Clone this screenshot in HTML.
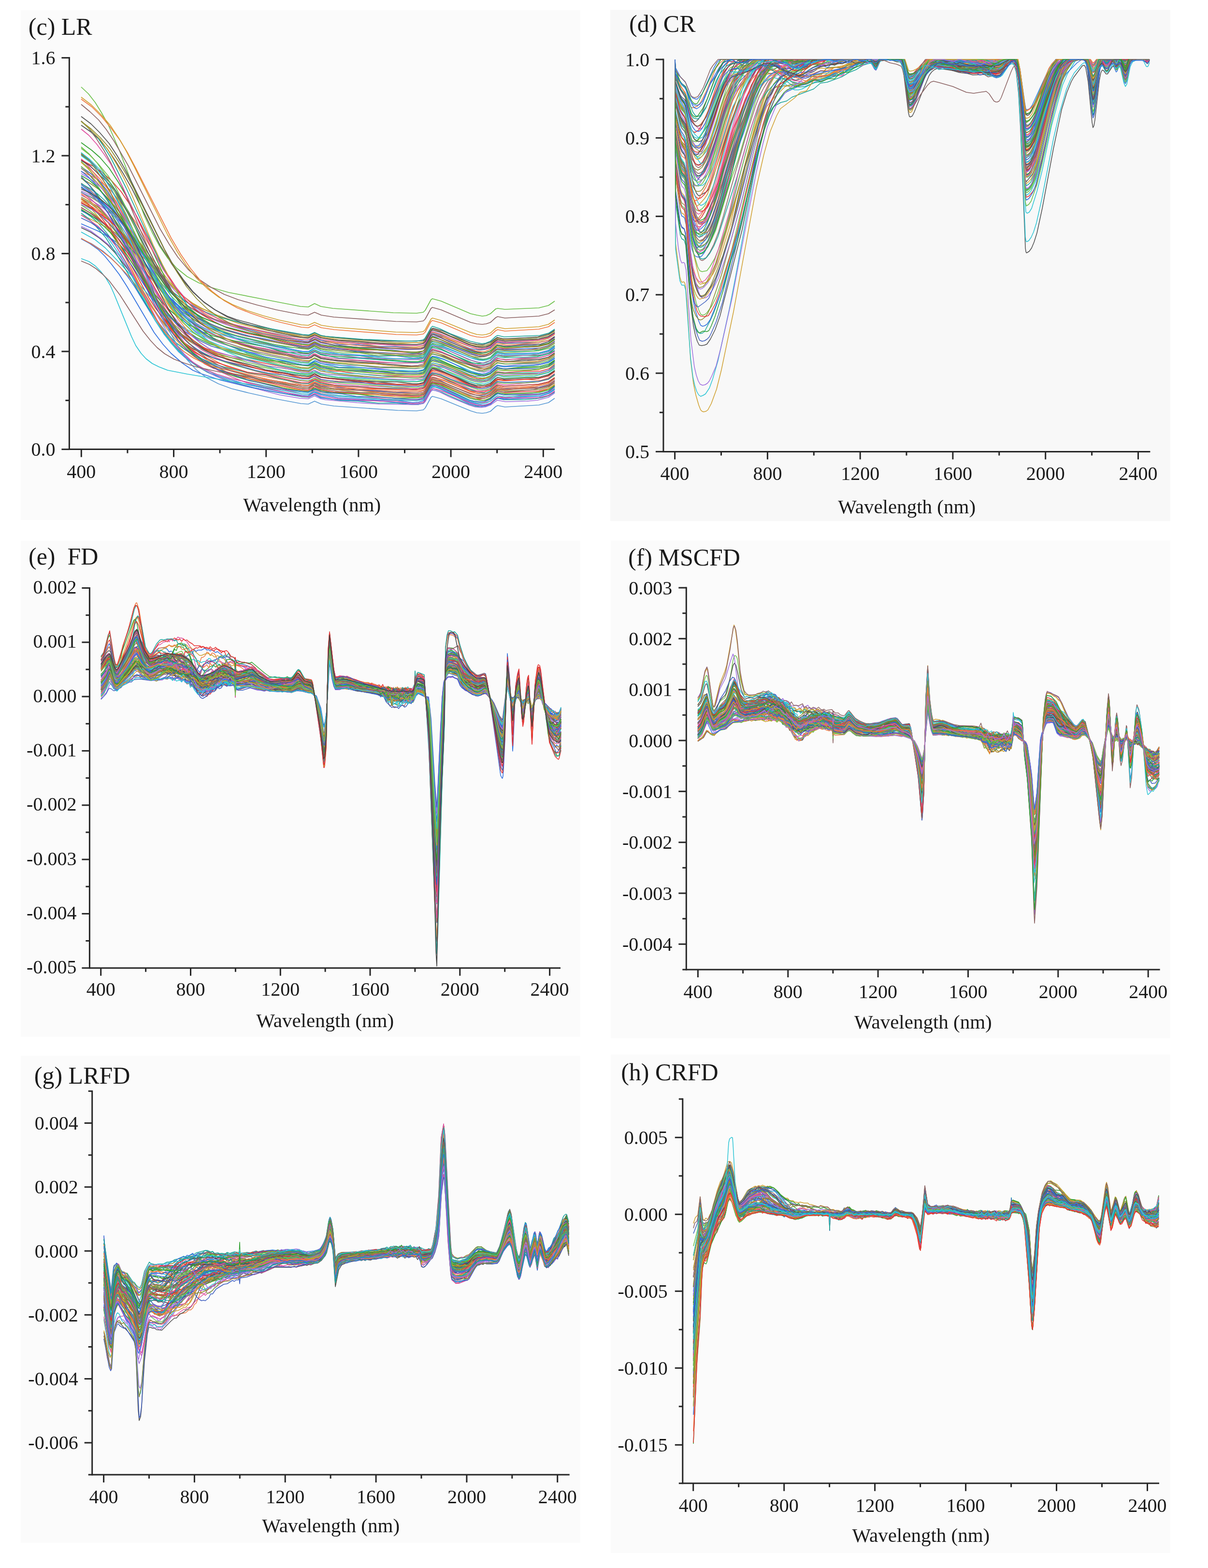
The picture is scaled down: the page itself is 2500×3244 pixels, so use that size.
<!DOCTYPE html><html><head><meta charset="utf-8"><title>Spectra</title><style>html,body{margin:0;padding:0;background:#fff}svg{display:block}text{font-family:"Liberation Serif", "Times New Roman", serif;fill:#1a1a1a}.tl{font-size:40px}.xt{font-size:41px}.tt{font-size:50px}.c0{stroke:#6cc04a}.c1{stroke:#8c6464}.c2{stroke:#8a8a30}.c3{stroke:#f07840}.c4{stroke:#a070e0}.c5{stroke:#2f6fdf}.c6{stroke:#1aa59a}.c7{stroke:#e53030}.c8{stroke:#2cc5d5}.c9{stroke:#505050}.c10{stroke:#d0a030}.c11{stroke:#e050a0}.c12{stroke:#30a030}.c13{stroke:#4060c0}.c14{stroke:#5b9bd5}.c15{stroke:#404040}</style></head><body>
<svg xmlns="http://www.w3.org/2000/svg" width="2500" height="3244" viewBox="0 0 2500 3244">
<rect x="43" y="21" width="1158" height="1055" fill="#fbfbfb"/>
<rect x="1263" y="20.5" width="1159" height="1057.5" fill="#f8f8f8"/>
<rect x="43" y="1119" width="1157.6" height="1025.8000000000002" fill="#fbfbfb"/>
<rect x="1264" y="1118" width="1158" height="1030" fill="#fbfbfb"/>
<rect x="43" y="2184.5" width="1157.6" height="1007.5" fill="#fbfbfb"/>
<rect x="1264" y="2181.7" width="1158" height="1031.3000000000002" fill="#fbfbfb"/>
<g fill="none" stroke-width="1.7" stroke-linejoin="round"><path class="c0" d="M168 424l18 12 15 12 14 15 15 18 34 48 58 95 16 22 19 22 18 17 22 17 28 19 23 10 65 19 71 16 36 6 18 1 6-2 5-4 3 0 12 6 10 1 71 5 29 5 20 1 33 1 49-1 4-4 12-20 3-2 21 5 58 23 11 3 10 1 9-1 10-3 12-10 4-2 13 3 71-3 21-5 13-9"/><path class="c1" d="M168 379l17 13 13 12 13 15 14 17 37 55 55 89 20 27 17 22 20 20 23 17 28 18 22 10 62 19 83 20 45 6 14-6 13 7 27 4 18 2 32 0 45 4 39 1 51-1 4-4 12-21 4-2 17 5 62 25 14 4 11 0 15-4 14-11 18 2 66-3 22-6 13-9"/><path class="c2" d="M168 411l21 11 22 17 18 18 19 23 13 21 15 27 68 133 15 24 15 20 18 20 18 14 19 11 39 19 14 4 31 6 38 11 38 5 35 8 14 1 11-7 3 0 12 5 14 2 67 8 31 0 75 5 19-1 8-2 14-25 2-2 3 0 18 6 56 25 11 3 10 1 10-1 12-4 15-11 17 3 70-3 19-5 13-9"/><path class="c3" d="M168 416l23 12 22 15 19 17 19 22 15 22 16 27 67 123 16 25 16 21 18 17 13 11 40 22 19 9 45 14 77 14 31 9 14 1 11-7 3 0 12 5 13 2 68 8 31-1 61 4 34 0 7-2 14-24 2-2 3 0 21 6 55 24 12 3 11 2 9-1 10-4 14-11 16 3 53-3 18-3 18-4 14-9"/><path class="c4" d="M168 395l25 11 21 13 19 16 18 19 14 20 16 26 65 117 16 24 19 22 15 15 14 11 28 14 21 8 56 17 107 20 16 1 11-6 3 0 12 6 30 5 15 2 35 0 40 6 30-1 46 2 14-2 3-1 2-2 12-22 3-3 2 0 20 5 65 27 12 4 9 1 13-4 14-11 12 2 7 0 34-4 36 0 17-5 13-9"/><path class="c5" d="M168 494l21 10 23 15 18 15 19 19 15 19 14 20 42 69 20 31 16 20 13 15 18 16 25 17 20 11 23 8 58 17 66 14 46 8 13 1 11-7 3 0 13 5 35 6 84 5 35 0 35 5 12-1 11-3 14-25 4-3 6 0 11 4 61 27 15 4 11 2 7-1 9-3 11-10 4-2 11 2 7 0 32-3 37-1 19-6 12-8"/><path class="c6" d="M168 434l20 14 14 12 18 21 16 21 23 39 62 117 19 31 20 25 19 20 27 22 23 14 25 11 31 10 40 11 32 7 68 12 14 1 12-6 13 6 36 6 42 2 41 4 37 0 33 3 13 0 11-3 14-24 4-3 7 1 13 4 56 25 10 3 9 1 12-1 12-4 12-10 4-2 13 3 42 0 23-2 13-2 14-4 13-8"/><path class="c7" d="M168 420l23 12 17 13 19 18 19 24 13 21 14 25 69 131 14 21 13 19 16 18 18 16 21 15 18 9 77 22 104 22 15 1 6-3 5-3 3-1 12 6 27 5 93 6 72 3 10 0 10-2 4-4 12-21 3-2 17 4 60 26 10 3 10 1 11-1 11-4 15-11 16 3 70-3 20-5 13-8"/><path class="c8" d="M168 445l19 12 16 12 15 16 15 21 17 25 18 31 53 101 16 24 17 23 17 18 19 16 30 18 23 11 38 11 115 24 41 5 15-7 12 5 37 7 80 7 37 1 34 2 14 0 11-2 14-24 4-4 16 4 11 3 17 7 34 16 11 3 10 1 9-1 11-4 12-10 4-2 13 2 43 0 28-2 11-2 10-3 13-10"/><path class="c9" d="M168 471l19 9 18 12 17 14 16 17 31 40 57 88 17 22 17 19 20 16 20 14 24 12 24 9 33 8 61 14 53 9 42 5 5-1 9-5 13 7 27 4 48 6 41 0 43 5 39 0 14-3 4-4 11-21 4-4 7 2 12 4 59 26 16 5 11 1 7-1 8-3 11-10 4-2 18 1 44-1 21-2 12-3 10-3 13-10"/><path class="c10" d="M168 398l20 10 28 18 17 12 14 13 32 37 72 95 15 17 16 15 26 20 23 14 29 14 30 10 56 15 48 11 43 4 5-1 9-4 13 6 13 2 30 3 38 2 28 4 17 2 71 1 14-2 4-3 13-23 2-2 3 0 14 4 21 10 43 16 14 4 10 1 7-1 9-3 14-11 12 3 6 0 60-4 13-2 15-5 13-8"/><path class="c11" d="M168 329l18 14 12 11 11 13 12 17 41 74 55 110 16 26 15 22 24 29 21 20 19 13 29 14 71 23 37 6 75 17 14 1 6-3 5-4 3 0 12 6 25 3 128 10 46 0 13-1 4-4 12-22 3-2 17 5 19 9 43 16 12 3 10 1 8-1 11-4 14-10 12 3 6 1 33-4 36-1 19-5 13-8"/><path class="c12" d="M168 295l22 16 17 15 19 22 19 29 16 28 16 31 68 146 16 29 16 24 21 26 20 20 23 18 24 12 47 20 80 21 45 5 5-1 9-4 13 6 32 6 84 3 38 5 44 1 14-3 4-4 12-22 3-2 16 5 21 9 45 17 13 3 9 2 7-1 9-4 11-9 4-2 16 2 36-3 36-1 17-4 13-10"/><path class="c13" d="M168 436l18 9 18 10 16 12 17 14 41 41 38 46 24 25 22 21 22 16 29 18 27 12 104 30 44 9 42 7 9 0 10-7 4 0 11 5 39 9 37 0 40 4 37 0 42 3 9 0 9-2 15-26 2-2 2 0 15 4 19 10 42 17 11 2 10 1 10-1 11-3 12-11 4-1 13 2 71-1 21-5 13-8"/><path class="c0" d="M168 397l18 13 15 14 16 19 15 21 22 36 62 114 17 27 17 23 21 24 21 18 24 15 27 13 70 20 110 21 15 2 13-7 13 6 31 5 124 9 44 0 13-2 4-4 12-22 3-2 15 5 21 10 44 16 14 4 10 2 7-1 9-3 11-10 4-2 13 2 43-2 32-1 17-5 13-9"/><path class="c1" d="M168 388l16 11 14 13 12 12 14 17 39 55 60 92 20 27 19 22 22 21 22 16 22 12 44 20 86 21 68 13 13 1 12-6 13 7 23 3 165 12 13-1 12-3 14-25 4-3 20 5 60 25 14 4 10 1 7-1 9-3 14-11 12 3 7 1 33-5 35 0 20-5 12-7"/><path class="c2" d="M168 398l21 10 16 9 18 14 18 17 22 25 77 101 18 20 17 16 23 17 19 11 32 14 35 12 29 8 40 8 30 8 42 7 13 1 6-3 5-3 3-1 12 6 27 4 129 10 43 0 13-1 4-4 12-21 2-2 3 0 14 4 21 10 43 15 13 4 10 1 8-1 9-3 11-10 4-2 13 2 42 0 23-2 13-2 14-4 13-8"/><path class="c3" d="M168 355l25 11 19 13 17 15 27 32 25 34 66 111 16 23 17 19 21 19 21 16 23 13 25 10 51 15 63 14 40 7 14 1 11-6 3-1 12 6 12 1 31 3 32 4 69 5 55 0 13-1 4-4 12-21 2-2 3 0 24 7 19 8 31 15 13 4 11 1 9 0 10-4 12-10 4-2 11 2 7 1 66-5 22-5 12-7"/><path class="c4" d="M168 468l20 10 23 17 19 16 17 18 27 40 75 123 15 21 17 19 18 17 18 13 29 16 26 11 107 28 42 7 17 1 13-6 13 6 10 2 65 6 47 3 76 1 14-2 4-4 12-22 3-2 6 1 9 3 20 10 41 17 13 4 11 1 9-1 11-4 14-10 17 3 44-1 22-2 23-6 13-9"/><path class="c5" d="M168 494l18 10 17 12 14 14 14 17 16 21 16 25 56 95 18 24 17 19 23 20 22 15 14 6 42 14 62 15 65 12 43 7 14 1 12-5 13 7 23 3 59 3 33 0 33 3 37 3 16 0 12-3 15-26 2-1 3-1 23 7 20 8 31 16 14 4 12 2 8-1 10-4 11-10 4-2 13 2 71-3 21-5 13-8"/><path class="c6" d="M168 316l16 14 15 16 15 21 15 22 23 44 59 122 17 30 17 27 16 19 17 15 29 19 26 13 21 7 34 9 103 24 46 3 5-1 9-5 13 6 12 2 32 3 37 2 74 8 44 1 13-2 4-4 12-22 3-2 19 5 66 27 11 3 9 1 7-1 8-3 11-11 4-2 12 1 38 0 25-1 15-3 14-4 14-9"/><path class="c7" d="M168 411l16 12 14 13 13 16 14 18 26 41 57 105 14 22 13 16 24 25 24 20 21 13 27 11 25 8 25 6 69 15 74 14 14 1 11-6 3-1 12 5 7 2 33 1 34 5 51 4 73 2 14-1 4-4 12-21 4-2 18 4 64 26 12 3 11 0 14-4 11-10 4-1 15 2 39-3 34 0 18-5 12-9"/><path class="c8" d="M168 480l29 16 21 17 55 58 52 59 20 21 17 14 22 15 38 21 31 13 23 8 36 7 43 11 69 11 14 1 6-2 5-3 3-1 12 6 8 1 120 12 69 2 15-2 4-4 12-21 2-2 3 0 22 6 56 24 14 4 10 2 8-1 8-4 11-10 4-3 13 2 71-3 21-6 13-8"/><path class="c9" d="M168 259l20 14 17 15 17 20 17 25 16 26 18 31 58 117 25 40 24 35 18 21 25 23 22 15 25 13 19 7 51 14 44 11 37 6 17 2 13-6 13 6 11 2 65 6 47 3 39 1 50-1 4-3 12-21 4-2 19 5 59 26 13 2 12 1 16-5 14-10 12 3 6 0 66-4 22-6 13-8"/><path class="c10" d="M168 445l19 8 36 19 15 9 17 13 28 25 72 73 24 21 19 14 20 11 44 20 31 11 27 7 35 8 33 5 40 9 11 0 10-6 3-1 12 6 36 6 41 2 37 4 44 2 54-3 4-3 12-22 4-2 15 5 19 9 42 17 14 4 11 1 8 0 10-4 11-10 4-2 13 2 73-1 19-5 13-9"/><path class="c11" d="M168 329l16 16 13 16 12 18 14 22 28 56 63 132 16 30 17 28 28 37 20 22 23 18 29 16 36 14 60 18 81 16 14 1 6-2 5-4 3 0 13 6 32 5 46 4 76 3 32 3 14 0 12-3 14-24 4-4 7 1 15 5 55 25 13 4 11 1 8-1 11-4 14-11 13 3 8 0 64-6 21-6 13-8"/><path class="c12" d="M168 368l15 13 14 16 16 22 16 22 21 37 56 110 16 27 16 22 22 25 20 18 26 18 29 14 19 6 43 12 59 15 29 3 49 8 6-1 9-5 3 0 12 6 25 4 54 3 33 4 42 2 44 1 14-3 4-4 11-21 4-3 10 3 24 11 14 6 41 14 16 3 7-1 8-3 14-12 12 3 7 0 34-4 35-1 19-5 12-8"/><path class="c13" d="M168 345l21 15 17 15 17 21 16 26 13 26 14 29 60 145 16 32 18 29 17 23 18 19 22 17 22 12 21 8 23 7 71 16 68 12 16 1 13-6 13 6 9 1 34 3 33 5 38 1 40 4 46-1 12-2 4-4 12-22 3-2 8 2 27 14 40 16 13 4 11 1 9-1 11-4 12-10 4-2 13 3 73-3 19-5 13-9"/><path class="c0" d="M168 344l14 14 14 18 14 20 14 22 29 58 60 126 16 30 17 27 22 29 23 23 20 14 30 15 38 14 64 17 81 16 14 1 13-6 13 6 16 2 132 10 49 2 15-2 4-4 12-22 3-2 15 4 22 10 45 16 13 4 10 1 7-1 8-3 11-10 4-2 13 2 45-1 24-2 23-5 13-9"/><path class="c1" d="M168 348l18 14 14 15 14 17 15 21 26 45 61 114 22 34 16 23 16 19 20 18 31 22 21 11 61 19 22 6 36 8 59 11 18 2 13-6 13 7 23 3 99 8 39 1 51-2 4-4 12-20 4-2 24 6 19 8 34 16 13 3 13 1 16-5 14-11 18 3 67-4 21-6 13-9"/><path class="c2" d="M168 408l19 10 13 8 11 10 11 11 47 57 73 101 15 17 17 17 20 17 20 13 33 16 27 11 44 10 34 6 74 18 13 1 10-6 3 0 12 5 20 3 24 2 35 1 34 5 42 2 44 0 13-2 4-4 12-22 2-2 3 0 15 5 58 26 16 5 12 2 8-1 9-4 11-10 4-2 13 2 54-1 18-3 19-5 14-9"/><path class="c3" d="M168 335l18 14 19 19 18 23 17 25 21 38 83 166 13 22 12 19 21 25 22 21 27 19 27 14 26 10 42 13 50 12 36 6 18 2 13-4 13 7 11 1 69 5 104 6 17 0 12-2 14-24 4-4 22 6 59 25 13 3 10 2 8-1 8-4 11-10 4-3 13 2 46-3 30 2 16-5 13-9"/><path class="c4" d="M168 404l20 10 21 13 21 16 17 14 29 35 72 94 16 18 17 16 25 20 23 15 21 10 31 11 70 19 74 15 14 0 12-6 13 6 26 4 53 5 39 1 36 4 47-1 11-1 4-4 12-21 2-2 3 0 15 4 60 26 14 4 11 2 8-1 10-4 11-10 4-2 13 2 59-2 16-2 17-5 13-8"/><path class="c5" d="M168 463l35 15 26 15 16 11 26 26 67 75 25 24 18 15 29 19 21 11 35 15 29 8 86 21 46 9 12 0 10-6 3-1 13 6 36 6 83 5 35-1 36 5 12-1 10-2 14-24 4-4 18 5 61 25 12 3 10 2 8-1 11-4 14-11 16 3 71-2 19-5 13-9"/><path class="c6" d="M168 380l18 10 17 12 13 12 14 15 29 37 37 56 42 57 11 15 11 12 18 14 26 16 22 10 34 12 56 14 110 20 13 1 12-5 13 6 11 2 76 6 73 3 38 1 14-3 4-4 12-21 3-3 15 5 21 10 42 16 13 3 11 2 8-1 10-4 11-10 4-2 13 3 74-3 19-5 12-8"/><path class="c7" d="M168 331l25 13 19 13 20 18 19 22 15 22 16 27 45 86 20 36 19 29 18 24 17 17 17 13 26 15 25 12 17 5 30 8 36 7 29 8 45 10 13 0 10-6 3 0 13 6 35 5 46 3 33 0 74 6 13 0 11-4 14-24 4-4 7 1 14 5 57 25 15 4 11 2 7-1 9-4 11-10 4-2 11 3 7 0 67-5 20-5 13-9"/><path class="c8" d="M168 316l18 14 20 20 19 23 17 25 26 47 65 132 27 45 21 31 20 25 24 22 21 16 28 14 22 9 34 11 50 16 15 4 42 5 15-6 13 6 34 5 79 4 35 3 29 2 21 0 13-3 4-5 11-21 4-4 6 1 9 4 19 10 41 18 13 4 11 1 9 0 11-4 12-11 4-2 13 3 44-1 19-1 14-3 15-4 13-8"/><path class="c9" d="M168 320l17 13 26 27 18 20 14 20 23 38 67 127 21 34 20 28 21 24 21 19 27 17 28 15 34 13 33 9 22 5 65 13 13 0 6-2 5-4 3 0 13 6 34 5 82 5 71 6 14 0 11-2 14-24 4-4 16 5 24 10 48 16 17 4 7-1 8-3 11-11 4-2 13 2 48-2 22-2 22-5 13-9"/><path class="c10" d="M168 412l13 11 14 16 23 27 16 23 19 31 41 78 24 41 20 31 20 26 23 25 22 18 22 13 43 21 14 4 30 6 39 11 75 14 13 1 12-5 13 7 11 1 103 5 40 4 45 1 13-1 4-4 12-21 2-2 3 0 23 5 61 25 18 4 7-1 9-4 14-11 14 2 43 0 15-1 17-3 14-4 7-4 9-7"/><path class="c11" d="M168 398l20 14 18 16 19 22 17 23 29 47 73 134 17 27 20 27 20 21 20 17 31 21 28 13 28 11 31 9 87 20 13 1 10-6 3-1 13 6 35 5 38 2 48 3 33 0 35 5 12-1 11-2 14-25 4-3 7 1 16 5 56 24 13 4 11 1 8-1 9-4 11-10 4-2 12 1 73 0 20-5 13-9"/><path class="c12" d="M168 433l18 11 14 10 14 13 15 15 22 28 33 50 20 28 23 29 18 19 22 19 22 16 31 16 21 8 43 10 69 13 27 9 12 2 28 1 18 2 13-5 13 7 10 2 69 4 108 8 14 0 12-3 14-25 4-3 7 1 11 4 56 27 8 2 9 1 14-1 14-5 12-10 4-1 15 3 40-3 28 1 8-1 15-4 12-10"/><path class="c13" d="M168 382l17 13 13 12 12 15 13 18 28 47 58 109 15 25 14 19 24 27 22 20 28 17 25 12 75 22 43 9 38 6 32 8 13 0 11-6 3-1 12 6 34 6 81 3 40 4 45 0 12-1 4-4 12-21 3-2 6 1 12 4 59 25 10 3 9 0 11 0 12-4 12-11 4-2 13 2 73 0 19-5 13-10"/><path class="c0" d="M168 334l13 12 14 17 33 44 20 32 38 70 20 34 26 40 22 29 22 22 27 21 23 14 41 18 22 7 63 16 68 11 18 2 13-6 13 6 28 5 17 2 35 0 39 6 32-1 38 3 23 0 4-4 12-21 4-2 28 5 14 5 39 17 14 5 11 1 13-4 11-10 4-2 13 2 71-4 22-5 12-7"/><path class="c1" d="M168 319l16 12 12 12 12 15 12 16 29 50 52 101 26 42 20 29 15 17 19 15 27 17 26 12 27 9 18 5 74 16 42 8 42 5 15-7 12 6 34 6 45 4 75 4 44 0 14-3 4-4 11-21 4-4 6 1 10 4 59 27 16 5 12 2 8-1 9-4 14-11 17 3 69-4 20-5 13-9"/><path class="c2" d="M168 369l21 12 16 11 16 16 17 19 18 24 17 25 57 91 17 24 18 22 18 17 38 31 13 8 14 7 38 11 61 17 74 14 17 2 13-5 13 6 13 2 63 6 77 5 45 1 14-2 4-4 12-22 3-2 7 1 14 5 55 25 9 2 10 1 12-1 12-4 15-11 15 2 72-2 19-5 13-8"/><path class="c3" d="M168 493l20 11 21 14 17 13 18 17 20 21 16 20 37 51 18 22 25 29 17 15 29 23 23 16 27 12 28 10 66 18 41 6 35 10 13 0 10-7 3 0 12 5 35 7 47 2 74 8 45-2 11-1 4-4 12-22 3-2 18 5 20 8 51 19 16 3 7 0 8-4 11-9 4-2 11 2 8 0 32-4 37-1 17-5 13-9"/><path class="c4" d="M168 359l20 12 19 15 16 17 16 21 19 28 16 27 41 77 17 30 16 26 15 20 18 19 22 16 19 11 28 12 60 18 39 9 46 8 28 7 15 1 11-6 3 0 12 5 6 1 33 2 44 5 102 4 22 0 7-3 14-24 2-2 3 0 24 7 54 23 14 4 10 2 7-1 9-4 11-10 4-2 13 2 74-2 18-5 13-9"/><path class="c5" d="M168 354l15 12 13 14 27 34 24 37 37 66 17 28 30 44 22 28 21 19 27 19 16 8 48 19 50 13 33 6 36 8 41 8 13 1 11-6 3-1 14 6 42 5 30 5 98 5 27 0 13-2 4-4 12-22 3-2 17 4 65 26 13 4 9 1 7-1 9-3 11-10 4-2 13 2 74-3 18-5 13-9"/><path class="c6" d="M168 441l15 11 12 12 12 14 12 14 29 45 55 94 24 35 20 25 17 18 20 15 31 17 24 11 24 7 28 7 27 6 32 4 34 9 39 8 15 1 13-7 13 6 17 3 102 7 34 0 38 3 16-1 7-3 14-25 2-2 3 0 15 5 18 9 40 16 18 6 11 2 7 0 9-4 11-10 4-2 13 2 72-4 21-5 12-7"/><path class="c7" d="M168 430l20 11 19 13 20 18 16 20 13 19 16 25 61 112 17 26 16 21 17 18 19 15 19 11 24 10 67 21 37 5 75 17 14 0 11-6 3-1 12 6 34 7 90 6 73 2 15-2 4-4 12-22 3-2 7 1 15 5 23 10 31 16 10 2 10 1 11 0 12-4 15-11 12 3 6 0 67-4 21-5 13-9"/><path class="c8" d="M168 386l18 13 18 14 21 21 16 20 17 25 32 52 56 89 16 23 19 22 22 21 22 16 26 14 36 15 30 10 60 15 48 9 14 1 12-7 13 6 36 7 41 1 37 4 72 5 15 0 12-3 14-24 4-4 7 1 16 6 21 8 33 16 11 3 10 1 10 0 11-4 12-10 4-2 13 2 45-1 30 0 17-5 13-10"/><path class="c9" d="M168 332l18 11 22 21 19 18 14 19 22 37 43 84 22 40 18 30 16 22 19 19 22 16 11 6 52 21 46 12 80 16 45 5 15-7 12 6 29 6 52 5 30 0 69 3 26 0 8-3 14-25 2-1 3-1 13 5 20 10 40 16 17 5 12 2 7-1 9-3 14-12 19 3 34-4 37-1 16-5 13-10"/><path class="c10" d="M168 336l15 14 13 15 23 33 30 53 57 112 26 44 21 31 24 28 22 21 24 15 32 16 28 10 58 15 82 17 15 1 13-5 13 6 9 2 109 8 71 4 12 0 9-1 3-1 2-2 13-23 2-2 4 0 24 7 17 7 33 16 15 4 11 2 8-1 9-3 11-11 4-3 12 1 39 0 32-1 22-6 13-8"/><path class="c11" d="M168 445l18 11 18 13 19 19 16 20 12 18 15 25 59 111 16 25 25 31 19 20 16 13 19 11 28 12 29 9 37 8 33 9 45 7 33 8 13 1 11-7 3-1 12 6 37 6 46 3 31 0 34 4 22 1 28 0 14-3 4-4 11-21 4-3 6 0 10 4 59 28 13 4 11 1 9-1 11-3 15-11 12 3 8 0 30-4 36-2 21-5 12-8"/><path class="c12" d="M168 419l22 13 19 15 19 18 18 22 15 23 16 27 43 82 17 29 23 37 21 26 18 19 22 18 23 13 25 12 21 7 28 8 32 6 36 9 36 6 16 1 6-3 5-4 3 0 12 5 22 4 59 4 30 4 44 4 45-1 12-2 4-4 12-22 3-2 7 1 14 5 57 25 12 3 10 1 9 0 10-4 12-10 4-2 15 3 70-3 20-5 13-9"/><path class="c13" d="M168 365l14 15 14 18 14 21 15 24 41 78 50 102 17 31 16 25 20 26 23 23 23 18 27 15 68 24 84 21 43 5 15-6 12 5 4 1 40 4 29 5 41 1 70 5 17 0 12-3 14-24 4-3 7 1 13 4 56 27 10 2 10 1 11 0 12-5 12-10 4-2 13 3 73-2 9-2 10-3 13-10"/><path class="c0" d="M168 304l17 15 16 18 15 22 15 25 31 61 58 130 19 36 18 28 21 27 23 22 23 16 32 17 24 9 38 10 63 15 42 7 15 1 13-6 13 6 8 1 31 2 115 10 48-1 10-2 4-3 12-21 3-2 17 4 62 26 13 4 11 1 8-1 9-4 11-10 4-2 13 2 55-1 18-3 19-4 13-8"/><path class="c1" d="M168 250l15 15 16 21 16 25 15 27 22 46 38 91 18 41 20 41 18 32 19 27 21 23 23 18 26 14 27 11 42 12 20 4 69 13 32 9 13 1 11-7 3-1 12 5 25 4 55 4 43 4 67 3 17-1 7-3 13-24 4-3 6 1 11 4 61 26 13 3 11 2 8-1 10-4 14-11 14 2 42 0 15-1 18-3 16-4 14-9"/><path class="c2" d="M168 318l15 13 15 19 15 22 15 25 24 53 57 137 17 35 17 30 17 22 17 18 25 18 26 15 22 8 28 7 34 6 43 11 64 10 19 2 11-6 3-1 12 6 30 5 89 8 33-1 46 2 14-1 4-4 12-21 4-2 19 5 61 25 13 3 11 1 7-1 8-4 11-10 4-2 13 2 74-1 18-5 13-9"/><path class="c3" d="M168 401l17 13 14 14 13 16 13 19 26 50 57 120 16 29 15 23 20 23 21 19 21 14 27 13 18 6 65 15 72 16 40 6 15 1 11-6 3-1 12 5 37 7 74 3 45 4 43 1 13-2 4-4 12-21 3-2 24 6 59 24 12 3 9 1 7-1 9-3 14-11 12 3 6 1 60-5 14-3 13-3 14-10"/><path class="c4" d="M168 423l23 11 15 9 20 18 18 20 22 31 67 108 21 29 22 26 17 17 21 17 17 11 15 7 58 17 40 11 14 3 32 4 34 8 14 1 13-5 13 6 12 2 62 6 48 3 69 3 10-1 9-1 3-1 2-2 12-22 3-3 2 0 23 5 57 25 13 3 11 1 15-5 11-9 4-2 16 2 66-3 23-6 13-8"/><path class="c5" d="M168 387l18 11 26 21 18 17 17 19 30 43 68 109 17 24 17 19 27 27 24 18 18 10 33 13 66 20 79 17 12 0 14-8 12 5 38 8 39 0 69 6 39 3 16 0 12-4 14-25 4-3 8 1 15 5 22 10 31 16 13 3 12 2 9-1 10-4 11-10 4-2 13 2 61-3 14-2 17-4 13-8"/><path class="c6" d="M168 251l18 17 15 15 13 19 14 22 33 65 68 148 20 37 21 34 20 27 19 19 26 19 29 16 31 13 25 8 43 11 61 14 14 1 6-4 5-3 3-1 12 5 38 8 38 0 101 8 23 1 13-3 14-24 4-4 19 5 62 26 13 3 10 1 7-1 9-3 11-10 4-2 13 2 43-1 26-1 23-6 13-7"/><path class="c7" d="M168 419l23 12 31 22 16 14 15 18 17 22 14 22 37 68 24 40 21 30 19 23 18 17 19 14 23 12 25 11 78 23 43 6 35 9 13 0 10-6 3 0 12 5 14 2 69 6 31 4 47 2 37 1 14-2 4-4 12-22 3-2 8 1 16 5 20 8 33 17 11 3 11 1 9-1 11-4 12-10 4-2 15 3 70-4 20-5 13-9"/><path class="c8" d="M168 322l18 13 15 15 14 18 14 22 24 44 40 85 19 39 19 34 17 26 16 20 17 16 30 20 23 12 12 4 25 5 70 17 83 16 14 1 13-6 13 6 17 2 138 11 44 0 13-2 4-4 12-21 3-2 19 4 65 25 11 3 9 1 7-1 9-3 14-11 15 3 69-2 22-5 13-9"/><path class="c9" d="M168 391l22 10 18 11 18 15 17 19 19 26 16 27 59 119 15 27 15 24 18 23 18 18 22 15 21 11 34 10 36 8 33 11 39 6 37 7 14 1 12-6 13 7 17 2 101 8 38 0 34 4 12 0 11-3 14-25 4-4 7 1 12 4 58 26 13 4 11 1 9-1 10-4 11-10 4-2 13 3 71-3 21-6 13-8"/><path class="c10" d="M168 251l19 17 20 20 17 23 17 28 17 33 16 34 43 101 20 42 20 39 21 35 17 24 17 17 27 21 23 13 34 15 29 9 30 8 38 6 32 9 14 1 12-6 14 6 29 4 83 3 36 4 34 2 18 0 12-2 14-24 4-4 8 1 16 5 20 9 33 16 10 2 10 1 11 0 11-4 12-11 4-1 13 2 43 0 27-2 22-6 13-8"/><path class="c11" d="M168 267l16 13 16 18 14 19 15 22 26 50 41 89 25 49 17 31 18 26 23 28 20 19 23 14 36 18 21 7 36 9 68 16 41 8 14 0 11-6 3-1 13 6 30 5 47 4 35 1 43 3 44 0 12-1 4-4 12-22 3-2 17 5 62 26 14 4 11 1 7-1 9-4 14-11 12 2 7 1 65-5 22-5 13-9"/><path class="c12" d="M168 363l18 11 14 12 13 14 15 17 23 34 41 66 30 46 20 28 18 21 23 22 20 14 20 11 45 18 105 26 52 9 14 1 12-6 13 6 14 2 144 11 32 4 12-1 11-3 14-26 4-4 9 3 28 13 41 15 12 3 11 1 8-1 11-4 14-11 16 3 69-3 21-5 13-9"/><path class="c13" d="M168 451l21 10 18 13 18 15 18 19 30 42 66 103 16 20 17 20 17 16 16 12 20 12 21 9 28 8 32 10 22 6 27 6 32 4 38 8 14 0 12-6 14 7 35 5 41 1 37 4 67 4 20 0 12-2 14-23 4-3 17 4 20 9 44 16 12 3 10 1 8-1 9-3 14-11 15 2 71-2 20-5 13-10"/><path class="c0" d="M168 307l17 13 20 21 19 23 15 23 26 51 60 135 17 33 17 26 18 23 19 19 22 16 23 13 34 12 41 10 30 9 77 15 15 1 11-8 3-1 12 5 20 4 100 10 73 2 17-1 3-1 2-2 12-22 3-4 2 0 16 5 64 26 14 4 11 1 14-5 11-10 4-2 13 2 73-2 19-5 13-9"/><path class="c1" d="M168 429l19 12 27 21 18 17 16 18 16 22 17 27 39 67 22 35 22 31 19 23 21 21 22 17 25 15 26 12 73 21 76 16 13 0 10-6 3 0 13 6 36 6 144 8 20 0 12-2 14-23 4-4 21 6 60 24 13 4 10 1 7-1 9-4 14-11 13 3 7 0 55-5 31-7 13-7"/><path class="c0" d="M168 180l15 14 14 18 13 21 14 25 23 53 52 136 16 34 15 28 17 25 19 21 21 17 24 13 27 10 35 10 82 16 67 13 16 1 13-7 13 6 25 4 125 9 48 1 14-2 4-4 12-22 3-2 18 5 61 26 13 3 11 2 8-1 9-4 11-10 4-1 15 2 70-3 20-5 13-9"/><path class="c1" d="M168 216l18 15 18 17 16 20 16 24 29 50 66 131 19 32 18 27 21 25 23 21 24 16 28 15 29 11 39 11 40 10 51 10 15 1 13-6 14 6 26 4 128 9 43 1 14-2 4-4 12-22 3-2 18 5 61 26 13 3 11 1 8-1 9-3 11-10 4-2 15 3 70-4 20-5 13-8"/><path class="c3" d="M168 205l22 16 20 20 19 23 20 27 15 25 17 32 73 144 20 34 20 29 22 27 23 21 25 19 27 15 28 11 32 11 30 8 43 10 14 1 13-6 14 6 27 4 128 10 42 1 14-2 4-4 12-22 3-2 18 5 61 26 13 3 11 1 8-1 9-3 11-10 4-2 15 3 70-4 20-5 13-9"/><path class="c10" d="M168 201l21 16 19 19 20 23 18 27 15 26 16 31 70 143 20 35 19 29 21 26 22 21 24 18 28 15 29 12 34 11 33 9 47 10 14 1 13-6 14 6 26 4 128 10 43 1 14-2 4-4 12-22 3-2 18 5 61 25 13 4 11 1 8-1 9-3 11-10 4-2 15 3 70-4 20-5 13-9"/><path class="c9" d="M168 241l20 15 19 19 19 22 17 26 14 24 16 31 68 139 19 34 19 27 20 25 22 21 24 17 26 15 28 11 37 11 38 10 49 10 15 1 13-6 14 6 26 4 128 9 43 1 14-2 4-4 12-22 3-2 18 5 61 26 13 3 11 1 8-1 9-3 11-10 4-2 15 3 70-4 20-5 13-8"/><path class="c2" d="M168 251l21 16 19 18 20 23 18 27 15 25 16 30 70 140 20 34 19 29 21 25 23 22 24 17 28 15 29 11 33 11 33 9 47 10 14 1 13-6 14 6 26 4 129 9 42 1 14-2 4-4 12-22 3-2 18 5 61 26 13 3 11 2 8-1 9-4 11-10 4-1 15 2 70-3 20-5 13-9"/><path class="c14" d="M168 398l22 10 20 14 19 16 16 20 16 26 16 31 17 36 45 110 16 32 14 25 18 26 19 21 21 16 25 13 27 10 36 9 49 11 59 11 15 1 13-6 14 6 26 4 132 9 39 1 14-2 4-4 12-22 3-2 18 5 61 25 13 4 11 1 8-1 9-3 11-10 4-2 15 3 70-4 20-5 13-9"/><path class="c8" d="M168 535l16 6 13 9 11 11 11 14 9 15 8 18 36 88 9 19 11 16 10 11 13 10 14 7 18 7 41 8 115 19 122 22 14 1 12-6 13 5 26 4 127 9 45 1 14-2 4-4 12-21 3-3 18 5 61 26 13 4 11 1 8-1 9-4 11-9 4-2 15 2 70-3 20-5 13-9"/><path class="c1" d="M168 540l17 7 14 9 13 11 14 14 22 29 48 75 15 19 14 15 16 13 19 11 21 8 25 8 45 10 174 31 14 1 12-7 13 6 27 4 136 9 35 1 14-2 4-4 12-22 3-2 18 5 61 26 13 3 11 2 8-1 9-4 11-10 4-1 15 2 70-3 20-5 13-9"/></g>
<g fill="none" stroke-width="1.5" stroke-linejoin="round"><path class="c0" d="M1397 123l1 124 10 48 3 8 5 6 3 9 9 72 5 25 6 16 3 4 4 1 7-4 6-7 19-44 7-22 14-55 19-64 22-66 5-9 16-23 17-19 52 0 8 8 7 2 12-3 14-7 198 0 11 71 2 5 2 1 4-2 4-6 14-28 15-26 6-7 6-3 7-2 11 1 22 7 14-1 14 6 37-1 18 5 6 0 6-1 4-2 14-17 16 0 4 19 3 29 11 188 2 33 2 7 5-3 5-6 9-20 8-32 26-117 21-64 10-21 7-12 1-1 34 0 9 57 2 8 1 3 2-3 2-8 7-41 4-16 47 0 4 5 2 0 4-5 45 0"/><path class="c1" d="M1397 123l1 83 9 33 3 6 6 9 3 8 9 53 4 14 6 9 4 2 4 1 4-2 4-4 9-18 10-30 23-78 10-22 11-20 7-10 5-4 11-7 22-23 64 0 6 2 16 3 7-1 11-4 204 0 2 7 8 54 2 6 2 1 4-2 3-5 19-37 13-24 42 0 37 6 12-3 16 2 11-5 64 0 2 6 4 30 10 108 1 12 2 4 4-2 4-3 8-15 14-39 23-70 9-21 6-10 60 0 7 33 2 6 1 2 2-1 2-5 9-35 47 0 5 10 2 1 3-3 3-8 44 0"/><path class="c2" d="M1397 123l1 60 7 29 5 14 7 8 3 7 8 42 5 16 5 7 11 8 3-1 2-2 6-13 33-102 9-23 21-39 6-6 9-5 271 0 3 2 3-2 53 0 3 10 8 49 3 8 8-3 6-6 5-8 13-29 7-9 9-5 4-1 8 2 17 2 16 8 9 7 4 1 11-3 18 1 12-4 22-3 18-6 11-11 25 0 3 10 3 19 10 89 1 10 2 3 7-5 7-10 8-20 19-49 15-33 10-14 65 0 5 13 2 4 1 1 4-3 7-15 105 0"/><path class="c3" d="M1397 123l1 119 10 48 3 7 5 7 3 9 10 93 7 39 9 27 4 8 4 2 9-1 5-3 4-8 7-15 9-24 27-85 13-37 13-44 20-54 16-32 7-10 10-11 13-6 19-3 30 8 26 2 18-1 29-7 28-17 14-2 18-9 18 0 6 4 5-4 50 0 4 14 8 53 2 8 2 2 6-2 5-6 5-8 15-33 9-13 7-5 5-1 10 2 14 8 13-3 12 8 14 3 18 2 11-5 3 0 11 6 4 1 17-6 6-3 6-5 13-17 15 0 4 12 3 19 11 129 2 24 2 5 4-2 5-5 9-15 5-17 18-65 10-34 17-34 11-16 49-1 7 28 2 5 1 3 2-2 2-3 7-23 4-8 9 0 3 4 2 1 6-5 9 0 3 4 1 1 4-5 11 0 4 2 3-2 47 0"/><path class="c4" d="M1397 123l1 231 10 64 3 8 5 4 3 10 9 96 5 32 4 14 4 9 4 5 4 2 4-1 4-3 8-9 12-24 7-17 18-66 41-161 21-72 12-32 18-41 7-11 21-15 21-8 13-11 10-4 203 0 3 14 8 57 2 7 3 1 4-3 3-6 18-37 6-13 6-5 14-8 20-2 17 4 12-1 17 3 13-4 4 2 7 5 3 1 4-1 8-8 4-2 11 3 5-2 7-5 34 0 4 18 3 28 11 181 2 34 2 6 5-2 6-7 5-10 5-14 36-152 9-30 14-32 7-11 5-7 2-2 32 0 10 55 2 7 2-2 2-7 7-38 4-15 28 0 4 10 1 2 2-3 4-9 63 0"/><path class="c5" d="M1397 123l1 64 10 31 8 11 3 6 9 43 4 13 5 9 5 2 4-1 4-5 14-23 5-15 18-56 16-37 7-13 7-8 11-5 11-7 19-9 310 0 3 9 8 39 3 6 6-2 5-6 22-37 5-6 6-3 118 0 3 2 9 13 3 2 4 1 5-1 5-3 12-14 17 0 4 14 3 22 12 162 1 17 1 5 2 1 4-1 5-6 10-22 18-70 25-79 10-22 8-11 8-8 3-2 34 0 9 47 2 7 1 2 2-3 2-6 7-33 4-14 29 0 4 4 5-4 64 0"/><path class="c6" d="M1397 123l1 295 10 69 3 7 5 3 3 10 9 108 5 38 4 16 4 11 5 8 4 2 4-1 4-3 12-23 8-18 16-45 42-152 34-145 25-73 4-7 4-4 6-3 7-4 12-3 11-8 45-17 14-12 14-2 30-11 15-9 15-6 14-9 16-5 8 4 3 0 9-11 45 1 5 20 8 56 2 7 2 0 4-1 4-8 19-42 5-11 4-4 9-4 11-8 5-1 12 5 14 1 18 3 14 1 12-1 16 2 13 4 4-1 9-9 14 3 18-13 13 0 4 11 4 25 12 129 1 11 1 2 3 1 2 0 3-4 6-12 18-50 15-51 11-28 10-19 13-13 4-2 38 0 4 14 8 62 2 11 1 4 2-3 2-9 9-59 2-8 3-5 3 1 4 7 3 2 3-2 8-11 3 1 5 9 2-1 4-6 2-1 3 6 6 26 3 6 3-5 8-39 39 0"/><path class="c7" d="M1397 123l1 174 10 57 3 7 6 5 3 9 10 68 4 11 2 2 3 2 7-3 6-6 7-12 7-16 9-30 22-84 15-50 26-63 13-27 12-19 10-10 12-6 11-2 14 3 17 10 11 14 6 3 15-5 22-15 7-3 13-3 10 1 16-3 14-5 18-4 47 0 4 7 2 1 2-1 5-7 51 0 2 4 7 24 3 5 5-1 3-3 18-20 10-9 111 1 7 2 21 16 6 1 5-1 4-2 12-17 21 0 3 12 3 21 10 102 1 12 2 4 4-1 5-4 9-13 22-64 17-45 7-14 8-10 54 0 10 68 2 8 2-3 2-8 11-65 28 0 4 12 1 2 2-1 5-13 1 0 5 0 5 4 2-1 2-3 47 0"/><path class="c8" d="M1397 123l1 63 9 30 11 21 10 57 4 15 7 13 4 4 3 1 5-2 5-5 6-7 5-10 16-46 14-52 6-13 11-19 6-10 7-7 41-33 46 0 17 12 9 3 6 1 11-2 15-8 10-3 6-3 178 0 1 3 3 10 9 51 3 8 6-2 4-6 19-33 6-11 5-4 9-5 14 1 15 2 15 1 10-2 15 3 16 1 13 2 15-4 11 5 7 0 6-1 5-2 16-17 10 0 2 5 3 9 4 28 4 52 9 161 1 20 2 6 5-3 5-6 9-20 13-47 24-105 8-30 8-22 14-29 6-10 5-4 13-5 13 1 4 14 8 58 2 11 1 4 2-2 2-8 10-64 5-14 39 0 6 17 3 4 3-2 6-19 41 0"/><path class="c9" d="M1397 123l1 46 10 28 3 4 6 5 3 5 11 33 4 6 4 2 3-2 4-4 8-16 26-68 11-22 6-10 7-4 17 2 7 2 9 5 3 1 5-1 7-3 12-9 56 0 18 12 8 2 13-3 22-11 126 0 5 6 2-1 3-5 51 0 4 19 7 53 2 10 2 2 4-1 4-7 23-56 7-12 6-8 131 0 10 8 3 1 4-1 6-8 24 0 6 28 10 76 1 8 2 2 6-3 5-5 20-38 6-13 9-28 4-8 7-9 11-10 58 0 2 4 7 26 2 5 1 1 3-5 10-31 6 0 6 12 4 2 3-2 8-12 15 0 3 6 6 21 3 3 3-5 7-25 40 0"/><path class="c10" d="M1397 123l1 163 9 53 3 10 6 8 3 12 10 114 7 45 6 26 5 19 5 10 4 3 4-1 5-4 11-15 8-16 9-26 19-61 13-59 14-52 16-63 14-44 15-48 8-19 19-33 5-5 8-3 3-1 9-13 172 0 3 7 2 1 5-8 52 0 10 64 2 6 2 1 3-1 3-5 17-35 9-17 7-7 10-6 15 0 7 4 4 2 8-6 9 0 9 7 17 3 12-4 26 0 14-1 5-2 5-3 39 0 1 1 2 8 3 21 11 137 2 23 2 4 7-6 6-11 20-55 19-70 16-37 9-15 49 0 3 11 7 42 2 6 3-7 8-46 2-6 13 0 4 1 3-1 25 0 6 20 3 4 3-5 4-19 43 0"/><path class="c11" d="M1397 123l1 119 10 53 3 8 5 7 3 9 9 74 5 26 7 19 3 4 3 1 3-2 13-9 4-5 3-8 23-73 29-101 10-28 25-60 6-11 20-23 285 0 4 18 8 66 2 10 2 2 6-5 6-8 17-42 8-20 7-11 7-5 6-2 17-1 16 6 13-3 17 4 9 5 4 1 13-4 16 0 15-2 19-9 23 0 4 11 3 17 12 127 1 14 1 3 2 2 4-1 4-4 9-15 10-31 22-76 12-26 13-21 51 0 3 8 7 30 2 5 2-2 2-5 8-32 2-4 44 0 6 13 3 4 3-3 5-14 42 0"/><path class="c12" d="M1397 123l1 151 10 51 3 8 5 6 3 9 10 86 5 26 4 13 4 8 4 4 3 1 5-2 6-6 6-9 6-15 13-35 30-102 26-76 15-35 10-33 8-14 13-13 11-1 10-5 3-1 14 4 15 11 10 4 4 0 5-2 13-10 21-12 19-6 4 0 8 6 3 1 4-2 9-7 13-3 50 0 9 12 3-2 5-10 46 0 2 4 3 14 9 69 1 4 2 3 4-2 3-6 26-65 8-13 7-8 107 0 8 4 11-1 13 7 5-2 6-8 20 0 2 4 2 8 4 29 11 152 2 27 2 5 6-4 5-7 9-19 18-67 26-83 8-18 18-26 1-1 32 0 4 9 9 42 2 5 3-4 9-38 4-7 3 1 6 14 3 3 3-2 7-18 3-5 3 0 5 4 7-4 3 0 5 4 3 0 5-4 35 0 5 6 4-5 1-1"/><path class="c13" d="M1397 123l1 130 9 46 3 9 6 10 3 11 10 91 5 27 4 14 5 11 4 7 4 1 5-2 6-6 7-12 5-13 12-35 29-96 52-151 4-7 4-5 14-14 8-5 5 0 10 6 12 0 30 7 4-1 12-8 14-5 11-6 5-2 12 6 17-5 5-3 134 0 1 1 3 19 7 63 2 11 2 3 3-1 3-3 7-11 5-12 11-35 5-13 6-8 14-10 4-1 5 0 26 8 12 0 18 3 12-3 27 0 13-2 21-9 29 0 3 11 4 33 10 122 1 15 1 3 2 2 4-2 3-3 8-16 10-32 24-84 5-12 18-37 53 0 3 15 7 53 2 9 2-2 2-8 11-67 43 0 6 16 3 3 3-4 4-15 43 0"/><path class="c0" d="M1397 123l1 54 10 42 3 6 6 8 3 8 8 48 4 16 6 14 3 4 3 1 4-2 8-8 6-9 5-9 8-24 27-85 11-27 4-8 12-15 13-14 268 0 3 3 3-3 53 0 3 12 7 45 2 8 2 2 4-2 3-4 21-41 12-20 116 0 18 7 10 2 6-2 6-7 27 0 2 6 3 21 10 90 1 10 2 3 8-6 8-12 16-37 16-45 10-20 6-10 66 0 6 17 2 4 2-1 2-4 6-16 36 0 2 4 2-1 3-3 4 0 7 21 3 5 3-5 5-21 42 0"/><path class="c1" d="M1397 123l1 158 10 58 3 8 5 6 3 11 10 99 5 30 5 19 6 16 4 9 4 2 3-1 4-3 9-13 8-16 10-26 10-33 16-59 29-101 21-66 8-21 10-19 8-13 14-13 21-13 6-2 13-2 13-5 16 0 13 1 29-3 13 3 13-6 17-5 26 2 7-2 16 0 6 5 2 0 5-5 49 0 1 0 3 10 8 39 2 5 3 0 4-3 13-22 11-10 11-15 4-4 22 0 8 2 29 1 10-3 6 0 12 5 14-2 4 2 11 10 4 1 8-1 10 3 4-1 4-3 10-14 18 0 2 4 2 8 4 28 12 146 1 11 1 2 2 0 3-1 4-4 9-21 13-41 17-63 12-32 8-15 18-22 45 0 5 8 2 3 4-3 6-8 32 0 6 18 2-1 5-9 2 0 7 15 3 3 3-5 7-21 40 0"/><path class="c2" d="M1397 123l1 209 10 66 3 8 5 5 3 10 10 112 6 42 4 17 4 11 3 6 5 3 5-1 4-3 10-15 26-64 18-59 44-175 22-76 8-22 13-23 12-14 5-3 11-3 22-12 22-18 3-1 192 0 1 1 3 19 8 76 2 8 2 1 3-1 3-8 16-48 10-29 6-9 9-10 105 0 10 6 9 2 13 6 5-2 8-12 23 0 3 14 3 25 10 132 2 26 2 5 4-1 3-2 6-12 19-56 15-59 11-34 10-22 11-16 47 0 10 65 2 8 2-3 2-7 11-63 48 0 4 5 2-1 2-4 46 0"/><path class="c3" d="M1397 123l1 35 9 19 11 14 10 28 2 3 3 1 10-3 7-8 11-22 21-50 7-9 10-8 127 0 12 6 6 1 19-3 10-4 137 0 2 1 3-1 53 0 4 14 7 37 2 7 2 1 5-3 3-4 23-40 11-12 126 0 7 6 9 2 6-2 9-6 17 0 3 5 3 10 4 25 11 145 2 27 2 5 4-2 5-5 9-15 5-18 16-63 15-52 15-38 7-11 6-7 10-6 31 1 5 17 8 50 2 7 2-3 2-8 8-46 5-18 26 0 4 8 1 2 8-6 3 2 5 9 3 2 3-3 5-14 42 0"/><path class="c4" d="M1397 123l1 120 10 46 3 7 6 4 3 7 12 65 4 9 2 3 3 1 5-3 4-5 10-15 6-12 5-17 20-66 14-44 8-18 6-11 22-26 16-25 17-20 293 0 4 13 8 52 2 8 2 2 6-4 5-7 17-34 8-16 6-6 9-8 109 0 16 6 6-1 11-5 25 0 4 7 4 15 4 28 8 76 2 15 3 2 3-1 3-2 6-11 37-97 21-31 52 0 4 20 8 68 2 10 2-3 2-9 9-66 2-9 3-7 3 0 5 7 3 1 3-2 5-8 3-1 2 2 5 14 1 3 2-2 5-12 2-2 2 1 6 8 2 1 3-3 5-12 42 0"/><path class="c5" d="M1397 123l1 241 10 75 3 8 4 2 2 3 3 14 9 115 6 43 4 18 7 22 4 9 4 2 4-1 5-3 7-10 27-68 41-145 25-116 12-44 10-30 7-19 9-17 12-14 11-15 6-4 26-12 13-3 15-7 17-2 9-5 16-8 30-9 16-10 16-3 10-1 17-6 55 1 9 44 2 6 2 1 7-3 6-6 18-30 8-10 4-3 180 0 5 21 10 71 2 11 3 1 5-2 5-7 34-74 8-13 7-8 66 0 8 45 2 8 1 2 2-3 2-7 7-35 3-10 7 0 4 8 3 3 3-2 6-9 17 1 3 4 7 26 3 5 3-5 7-31 40 0"/><path class="c6" d="M1397 123l1 91 10 40 3 6 6 7 3 9 8 52 5 21 5 12 3 3 3 1 5-3 6-6 6-10 6-13 7-23 31-102 13-36 13-23 22-26 317 0 10 41 2 4 2 1 5-2 6-6 17-23 5-7 6-4 7-4 47 0 8 4 17 1 13-2 14 7 4-1 9-5 26 3 5-1 5-6 26 0 3 10 3 21 10 116 2 23 2 5 4-1 4-4 9-14 8-24 20-62 12-34 11-22 12-14 46 0 3 9 7 34 2 6 2-2 2-6 7-31 4-10 4 0 6 15 3 3 3-2 8-14 3 2 5 12 1 1 2-3 5-14 62 0"/><path class="c7" d="M1397 123l1 64 10 30 3 5 6 4 3 4 10 36 4 6 4 2 8-5 7-12 13-29 15-45 9-22 16-31 6-7 96 0 6 2 10 0 17 3 11 7 4 2 3-2 11-6 12 2 18 0 12-8 14 1 5-1 136 0 1 0 3 13 8 48 3 8 6-2 5-6 19-33 11-18 5-4 9-4 4-1 4 1 13 10 13 0 28 7 47-1 9 2 7-2 19-18 24 0 6 43 10 122 1 13 2 4 5-3 6-7 8-14 33-112 10-24 11-22 55 0 7 47 2 9 1 3 2-2 2-7 8-45 2-5 44 0 6 16 3 4 3-5 4-15 43 0"/><path class="c8" d="M1397 123l1 54 9 22 9 12 3 6 9 41 4 12 7 9 7 6 3 1 5-2 5-9 22-53 14-42 11-18 12-10 6-3 5 1 9 7 4 0 12-9 16-9 12-8 4 1 10 8 28 17 16 14 8 4 6 0 14-3 17-11 14-1 13-8 31-10 14-10 11 0 5-1 10 1 13-6 4 0 4 3 6 12 2 2 2-2 5-14 3-4 44 0 2 7 3 14 9 63 2 5 2 1 4-2 3-6 13-27 13-23 6-7 17-12 6 1 13 5 11-2 16 2 15 9 40 0 15 6 10 1 6-3 21-28 3-3 3 0 2 4 3 10 4 31 4 58 9 180 2 31 1 2 2 1 4-2 5-8 11-35 11-44 19-91 23-85 10-23 18-30 21 0 1 1 4 17 7 42 2 7 2-2 2-7 8-43 4-15 26 0 6 21 2 0 5-7 2 2 7 23 3 4 3-7 7-36 40 0"/><path class="c9" d="M1397 123l1 86 10 35 8 13 3 8 10 63 5 20 6 12 3 3 3 1 4-1 6-5 11-21 12-35 22-73 14-36 8-19 11-18 6-10 5-3 11-5 9-11 4-2 5 0 12 2 12 8 13 2 16 10 12 16 4 2 4 1 10-3 13-10 14-5 13-9 16-5 14 0 29-8 13-1 8-2 91 0 4 13 8 41 2 5 2 0 7-2 6-4 16-25 10-11 6-4 5 0 10 3 13-2 3 2 12 7 13 0 15 5 17 1 26-5 16-10 29-10 4 0 7 4 3 5 3 6 3 12 4 29 9 96 1 12 2 3 4-2 4-4 8-15 16-43 15-54 8-19 12-20 14-14 44 0 4 12 7 32 2 5 2-2 2-5 8-33 4-9 27 0 4 8 2 1 6-6 2-1 7 11 3 3 3-3 6-13 32 0 4 4 3-4 2 0"/><path class="c10" d="M1397 123l1 61 10 31 8 11 3 7 13 58 5 10 3 3 3 0 4-1 5-5 13-21 29-87 8-18 7-12 7-6 12-2 11-9 8-5 10-7 9-3 8-5 293 0 5 29 7 66 2 12 2 3 4-2 4-10 25-76 6-11 10-11 113 0 13 12 6 2 8-3 10-11 21 0 4 9 4 21 11 95 1 8 1 2 3 1 3-1 3-4 8-14 23-60 14-32 11-16 4-5 7-4 49 0 3 9 7 38 2 7 1 2 3-5 9-39 5-12 25 0 5 9 1 1 2-1 5-9 2 0 2 2 6 12 2 1 3-2 5-13 42 0"/><path class="c11" d="M1397 123l1 91 9 32 11 22 10 64 4 17 6 13 4 5 3 1 4-2 6-5 5-7 6-13 11-31 23-76 9-23 7-16 16-21 8-10 15-8 11-11 16-9 5 2 9 6 37 19 11 4 13 1 9 4 4 1 13-7 14 2 5-1 26-11 13 1 4-2 7-11 4-3 27-5 15-7 3 0 2 2 7 12 2 2 3-3 6-15 4-4 25 0 6 3 8-1 3 4 3 9 9 59 2 8 2 2 4-1 4-5 25-49 6-6 10-5 9-2 28 3 18 7 13-4 14 5 15 0 15-4 15-1 10-6 18-14 3-1 4 0 5 3 3 5 3 8 3 16 4 35 9 111 1 14 2 5 4-1 4-4 8-17 13-39 19-66 11-28 9-17 20-25 44-1 5 6 2 2 4-3 4-5 32 0 6 12 1 1 7-11 2-1 2 2 6 13 2 1 3-2 7-15 31 0 4 5 5-5"/><path class="c12" d="M1397 123l1 49 10 32 8 11 3 7 9 44 4 12 5 10 5 3 4-4 19-28 27-74 8-20 7-11 9-9 26-8 22-14 245 0 3 3 4-3 53 0 3 10 7 39 2 6 2 2 8-2 5-3 5-6 10-19 4-7 8-8 9-3 12-1 42 11 16 0 12 5 16-2 15 8 11-1 9 1 4-1 3-2 19-27 12 0 3 8 3 16 12 120 1 13 1 3 2 2 4-2 3-3 8-16 16-45 13-46 6-16 7-13 14-21 54 0 9 67 2 11 1 3 2-4 2-9 7-48 4-20 41 0 8 16 3 3 3-4 4-15 43 0"/><path class="c13" d="M1397 123l1 272 9 64 4 12 5 3 3 12 10 129 6 46 4 18 5 16 4 9 5 2 5-1 5-3 5-5 4-8 10-23 13-40 43-176 31-154 7-25 13-42 18-41 7-13 42-34 20-18 133 0 2 3 2 2 3-5 53 0 3 8 7 35 2 6 2 1 7-2 6-3 16-22 10-13 4-4 4-2 4 0 9 4 16 1 13 10 13-2 33 5 14-2 14-3 11-1 16-11 9-5 21 0 4 9 4 21 11 96 1 8 1 2 3 0 3-1 4-5 8-16 32-89 6-10 12-15 58 0 3 10 7 41 2 6 2-2 2-6 8-41 3-8 42 0 7 27 3 5 3-5 6-27 41 0"/><path class="c0" d="M1397 123l1 228 10 67 3 8 6 5 3 14 9 112 7 49 5 21 5 14 4 9 4 2 4-1 5-4 10-14 10-20 12-35 19-60 55-228 16-43 11-38 6-11 12-18 14-13 9-13 5-4 12-3 16-5 13-9 16-1 14-5 13 2 32-6 11 1 5-1 94 0 4 14 8 53 2 6 3 1 4-3 3-5 18-35 10-18 6-7 6-4 13 0 25 1 17 3 14-5 4 2 7 7 3 0 4-1 9-4 14-3 16 3 10-1 12-4 22 0 4 17 3 26 11 165 2 29 2 5 4-2 8-8 7-12 5-19 14-56 25-95 7-17 21-32 1-1 31 0 4 18 9 80 2 10 2-3 2-11 9-72 2-10 3-6 3 0 4 9 3 2 3-2 8-14 3 1 5 10 1 2 2-1 4-7 2-1 3 4 5 16 3 4 3-4 6-25 41 0"/><path class="c1" d="M1397 123l1 158 10 54 3 8 6 7 2 7 10 86 4 22 3 10 4 10 4 4 3 2 7-3 7-8 8-15 7-19 9-27 13-51 26-87 15-48 18-48 16-34 20-28 29 0 8 2 8-2 14 0 218 0 2 5 8 37 2 4 2 0 6-2 6-3 16-19 12-12 4-3 9-3 6 0 16 4 15 6 8 5 5 2 30 0 13-1 13 4 9 0 9 0 8-4 6-6 10-14 16 0 2 3 2 8 4 27 12 174 2 23 1 2 2 0 3-1 4-5 9-21 6-22 17-66 19-71 12-33 5-9 6-9 45 0 1 1 7 29 2 4 2-1 2-4 9-29 8 0 4 9 3 3 3-4 3-8 83 0"/><path class="c2" d="M1397 123l1 284 10 69 3 7 5 4 3 10 9 103 4 28 3 13 5 12 5 7 4 2 4-1 6-5 6-8 4-9 24-70 44-161 37-155 8-27 7-20 12-22 12-10 11-14 5-3 11 0 13-5 5-4 14-15 12-9 185-1 10 36 3 5 11-3 4-2 5-6 12-21 7-5 9-4 13 3 8-3 12 0 6 3 4 1 30 1 12-1 14 3 16-3 12 4 13-2 8-6 25 0 3 13 3 24 11 155 2 27 2 6 5-3 5-7 10-22 10-35 18-70 15-49 8-19 8-11 5-5 5-4 40 0 6 20 2 4 1 1 4-4 9-21 33 0 3 3 3-3 65 0"/><path class="c3" d="M1397 123l1 29 9 23 11 18 10 44 4 11 6 10 3 2 3 1 3-2 4-3 9-13 32-80 6-14 4-6 11-9 8-11 54 0 5 1 7 2 12 6 14 11 12 3 17 9 5 1 9-1 11 2 17-5 15-6 13 0 15-6 15-1 28-16 100 0 9 51 2 7 2 2 4-2 3-5 15-27 16-26 184 0 6 51 10 146 2 22 1 2 2 0 4-2 4-6 11-29 9-33 17-69 6-19 20-46 12-17 41 0 10 70 2 9 2-3 2-8 8-53 3-14 1-1 26 0 5 12 1 2 6-14 6 0 5 9 2 1 2-1 3-9 45 0"/><path class="c4" d="M1397 123l1 86 10 40 3 7 6 8 2 5 9 60 5 21 8 16 5 5 3 2 5-2 5-6 13-30 10-26 20-68 22-56 6-9 11-14 13-24 6-6 13-7 13-2 21 0 7 3 11-1 13 6 6 1 11-1 27-2 31-5 13 5 4-1 10-5 63 0 1 0 6 16 2 2 3-3 4-15 50 0 3 9 7 35 2 6 2 1 3 0 3-3 12-23 15-16 4-3 9-2 5-4 51 0 16 3 3 0 3-3 20 0 18 5 11-2 13 2 16-5 19 0 3 8 3 13 10 73 2 9 1 4 14-10 5-5 30-70 9-13 9-9 65 0 5 10 2 2 4-3 5-9 36 0 3 2 4-2 4 0 8 18 3 3 3-4 5-17 42 0"/><path class="c5" d="M1397 123l1 28 10 19 9 8 3 5 13 35 4 5 5 2 6-4 6-7 17-44 18-31 9-11 10-4 16-1 13 7 3 1 4-1 10-7 94 0 7 3 6-3 146 0 4 9 2 1 5-10 53 0 9 28 2 2 2 1 5-1 5-3 18-15 7-5 14-2 23-1 18 3 27 6 15 0 11-1 14 0 6 4 9 16 6 2 6-1 5-5 12-22 5-6 11 0 4 11 4 27 11 149 2 27 2 5 5-2 5-6 10-22 9-32 20-77 14-43 8-17 13-16 6-4 36 0 3 11 7 37 2 6 2-1 2-6 8-36 4-11 8 0 4 2 4-2 11 0 4 10 1 2 2-1 4-7 2 0 3 8 5 24 3 6 3-5 7-37 40 0"/><path class="c6" d="M1397 123l1 21 8 23 4 8 7 6 3 5 9 33 5 13 5 7 5 2 3-1 4-3 11-17 33-79 11-13 4-3 5-1 8-1 16 4 10-1 7-3 313 0 11 60 2 5 2 1 5-2 4-6 18-31 6-9 7-5 12-5 8-1 15 5 26 3 16 4 42 4 4-1 10-8 14-2 4-3 5-9 25 0 3 12 3 20 10 94 1 10 2 3 9-8 7-11 15-36 19-53 9-18 9-13 59 0 8 49 2 8 1 2 3-5 9-45 2-6 2-3 5 0 5 9 3 2 3-2 5-9 1 0 79 0"/><path class="c7" d="M1397 123l1 70 10 36 3 6 5 7 3 7 10 59 5 19 5 11 3 3 3 1 4-1 6-6 8-14 16-43 26-79 9-20 6-11 10-11 27-26 11-8 54 0 16 7 12 2 7-1 11-8 201 0 10 48 3 7 5-2 4-4 25-39 3-1 10-2 8-7 14 0 5 3 16 5 14-3 14 6 16 1 14-2 14 3 18-6 14-7 25 0 1 1 3 13 4 35 11 194 2 35 2 7 5-2 8-9 7-13 4-18 29-131 11-41 6-20 9-21 8-14 7-11 5-5 26 0 4 19 7 52 2 8 2-3 2-8 8-52 4-16 40 0 8 28 3 5 3-4 7-29 40 0"/><path class="c8" d="M1397 123l1 53 10 33 8 12 3 8 10 61 5 18 4 10 8 15 3 4 3 2 4-3 4-5 10-23 26-73 12-36 8-17 9-14 15-18 14-10 12-12 8-5 35 0 19 13 3 1 9-2 11 5 4 1 6-2 24-10 10-6 10 0 7 3 9-3 148 0 1 1 2 9 8 50 2 6 2 0 4-1 3-5 22-47 5-7 6-6 69 0 5 3 4 0 12-3 22 0 33 6 4-1 5-5 25 0 1 0 3 12 4 29 11 133 1 11 1 2 3 2 3-2 6-7 9-20 12-39 14-55 14-41 7-13 11-12 50 0 7 22 2 3 2-1 2-3 8-21 32 0 3 12 2 2 6-5 2 1 7 22 2 3 2-1 2-5 6-29 41 0"/><path class="c9" d="M1397 123l1 92 10 43 3 7 6 7 3 9 10 76 6 29 5 13 3 4 2 2 3-1 13-7 5-6 3-8 23-69 17-54 17-46 12-21 15-30 10-18 12-15 10-7 23 0 21 7 10 1 13 3 10-2 10-5 9-1 6-3 117 0 7 13 3-2 4-11 46 0 2 5 3 8 9 41 3 6 6-1 3-3 13-17 19-22 4-3 5-2 6-1 6 0 14 8 27 8 17 2 11 3 27-1 15 2 9 0 5-1 3-2 19-23 4-3 4 0 2 4 3 8 4 26 4 48 8 130 2 28 2 5 13-16 8-18 10-38 27-108 7-23 4-10 17-26 6-8 7-6 25 0 4 14 8 46 2 6 2-2 2-7 9-45 2-6 2-2 3 2 5 11 3 2 3-2 6-12 3-3 2 1 5 7 1 1 6-7 2 0 3 7 5 18 3 5 3-4 7-29 30-1 5 9 2-2 3-7"/><path class="c10" d="M1397 123l1 149 10 56 3 8 6 8 2 7 10 92 5 30 6 21 3 5 3 3 13-6 5-4 5-7 4-10 15-42 26-92 34-109 10-26 21-42 5-8 3-2 10-2 11-6 4-1 29 8 9 1 6 0 32-11 13-2 11 1 30-5 35-14 26 0 9 6 3-1 4-5 47 0 2 3 3 12 9 61 2 5 2 1 5-3 5-9 8-17 10-26 4-9 7-8 11-6 10-2 15 3 12-2 15 3 15 0 12 3 18 0 14 2 17-2 20-9 20 0 4 13 4 27 12 134 1 10 1 1 2 0 5-3 4-7 43-129 18-37 7-9 50 0 7 20 2 4 2-1 2-2 10-21 5 1 6 12 4 4 3-2 8-11 2 0 5 6 1 0 6-10 8 0 3 4 3 2 2-2 3-4 44 0"/><path class="c11" d="M1397 123l1 167 10 58 3 7 6 7 3 10 7 59 4 21 3 8 3 5 4 3 6 1 3-1 3-2 5-7 17-45 20-67 19-71 26-80 27-54 11-15 4-4 64 0 7 1 5-1 212 0 9 49 2 7 2 2 9-3 5-3 15-24 7-11 6-7 5-3 4 0 25 7 13-2 4 3 7 9 4 1 13-6 14 3 16-2 14 2 13-3 10-1 5-2 15-16 15 0 4 17 4 39 12 197 1 15 1 2 2 0 5-4 4-8 15-49 8-29 17-78 15-50 12-32 6-10 7-9 1-1 35 0 8 49 2 9 1 3 2-2 2-6 8-43 3-10 10 0 3 1 3-1 26 0 7 26 3 6 3-6 5-26 42 0"/><path class="c12" d="M1397 123l1 29 8 25 4 9 9 11 12 38 4 5 5 2 3-1 3-4 8-12 10-21 15-41 9-20 7-13 7-7 23 0 14 2 10 0 7-2 314 0 9 59 2 9 2 2 9-4 5-5 17-41 8-13 8-7 32 0 7 5 4 1 10-5 3-1 17 3 11 3 17-1 13 5 4-1 8-5 12-1 7-3 30 0 1 0 1 4 4 24 10 88 1 9 2 3 5-2 6-6 8-11 4-12 11-35 9-22 10-23 12-17 62 0 2 6 7 45 2 7 2-2 2-7 7-39 3-10 44 0 6 28 3 8 1 0 2-5 6-31 41 0"/><path class="c13" d="M1397 123l1 172 10 59 3 8 6 6 3 12 9 85 5 28 3 10 4 9 4 4 3 2 6-2 5-6 8-13 5-14 23-71 31-118 14-43 16-53 12-21 16-33 4-5 10-5 11-11 261 0 9 26 2 4 2 1 6-1 15-12 18-8 7-2 5 1 24 11 3 0 10-2 13 6 15 3 5 1 8-3 18-2 12 2 5-2 10-10 23-13 22 0 4 16 3 23 12 175 1 18 1 5 2 2 4-2 5-6 9-20 6-23 21-89 8-28 19-53 5-9 7-9 45 0 6 11 2 2 3-3 5-10 37 0 2 6 2 1 5-7 4 0 6 17 3 5 3-3 5-19 42 0"/><path class="c0" d="M1397 123l1 108 10 46 3 7 6 6 3 8 8 53 5 21 5 10 3 2 4 1 4-2 5-4 7-12 7-15 31-110 18-50 22-40 14-21 5-4 5-4 306 0 3 9 7 33 2 5 2 2 4-2 3-2 13-17 18-21 5-4 5-3 75 0 8 3 18 0 17 7 13 4 5 0 5-3 9-11 20 0 4 14 4 35 11 184 2 32 2 6 6-4 5-7 9-21 12-45 16-76 10-37 15-47 6-13 5-7 14-14 27 0 4 17 7 49 2 8 2-2 2-8 9-52 2-7 3-5 3 1 4 6 3 1 3-2 4-6 23 0 6 18 3 5 3-4 5-19 42 0"/><path class="c1" d="M1397 123l1 117 10 51 3 8 6 7 3 12 10 89 6 32 7 19 3 5 4 1 7-2 6-5 6-9 5-12 20-56 16-55 13-42 6-16 11-26 13-36 15-32 11-15 7-7 11 1 14-3 38 10 9 0 27-1 14 1 15-3 13 0 14-11 15-6 16-8 13 0 10-8 11 0 6 5 7-5 49 0 1 1 3 15 8 58 2 6 3 1 3-2 3-5 14-27 14-24 7-7 9-5 4-1 5 0 13 7 18 4 27 4 15-1 15 4 13 8 11-2 9 1 4 0 4-4 11-23 5-7 11-1 2 3 3 10 4 28 11 157 2 29 2 5 4-2 4-5 9-21 11-37 29-105 7-21 8-19 15-22 38 0 3 11 8 55 2 7 3-6 9-54 4-12 4-1 6 11 3 2 3-3 6-10 18 0 8 33 3 6 3-6 6-32 1-1 40 0"/><path class="c2" d="M1397 123l1 117 10 46 3 7 6 7 3 9 8 56 4 17 6 11 4 3 4 0 4-1 4-4 5-8 6-14 16-47 20-72 15-42 12-22 13-20 14-25 5-6 15-12 60 0 5 2 6 1 15-3 208 0 1 1 2 10 8 58 2 6 3 2 4-3 4-8 22-51 5-5 11-3 5-1 17 2 6 2 13 5 18 2 13 1 9-4 5 0 15 3 21 6 6 1 4-1 6-5 15-18 19 0 4 18 3 26 10 145 2 29 2 6 5-3 5-6 9-17 10-35 18-73 15-52 6-16 16-22 43 0 2 6 7 36 2 6 2-2 2-6 8-36 2-4 103 0"/><path class="c3" d="M1397 123l1 123 9 44 3 8 6 10 3 10 10 87 5 27 8 23 4 5 3 3 8-3 8-8 6-12 8-17 7-21 13-50 26-85 16-47 15-32 11-35 8-12 19-18 15 0 12 5 8 4 8 12 5 3 4-1 9-7 14-5 16-11 123 0 5 4 4-4 50 0 4 11 9 50 2 4 2 1 5-3 6-5 17-29 7-10 7-5 13-7 6 0 14 3 13 7 15-2 13 7 30-1 12 3 5 1 15-2 5-2 7-5 14-16 12 0 4 10 4 27 12 169 2 26 1 3 1 0 13-16 7-15 40-148 13-37 7-12 3-2 8-1 4-4 29 0 4 16 8 59 2 9 2-3 2-9 9-58 2-7 3-5 3 2 4 8 3 2 3-1 6-8 3-2 2 1 5 9 1 1 7-5 3 5 6 24 3 5 3-6 5-28 3-9 39 0"/><path class="c4" d="M1397 123l1 58 9 24 11 19 10 53 4 13 7 12 4 4 3 1 3-1 5-4 8-9 5-9 10-30 18-60 8-16 15-18 33-21 18-16 58 0 26 7 4-1 9-6 202 0 4 15 7 41 2 7 2 2 5-2 5-7 18-32 6-10 6-5 8-4 13 0 10-5 6 0 12 4 29 1 12 3 15 1 4-1 11-4 17-1 10 3 4-2 6-4 23 0 4 14 3 19 10 109 2 22 2 4 4-1 5-5 5-7 5-10 26-87 9-23 13-23 12-12 50 0 7 19 2 4 2-1 2-3 8-19 12 0 2 3 3 1 6-4 5 0 2 3 5 15 1 2 2-3 6-17 61 0"/><path class="c5" d="M1397 123l1 151 10 54 3 8 6 7 3 11 9 76 5 27 5 14 3 5 3 1 6-4 8-8 6-9 5-13 45-148 24-67 16-41 8-18 11-18 9-11 6-5 22-8 14 2 13 7 16 4 4-1 12-10 15-6 118 0 7 15 3 3 2-3 5-15 1 0 45 0 2 2 3 8 9 42 2 5 3 0 5-4 13-18 15-15 8-6 8-3 10-1 15 7 11 0 28 5 18 0 13 6 14-3 16 4 4-1 6-4 21-20 4-2 4 0 2 3 3 8 5 33 4 54 8 149 2 35 2 7 5-3 5-7 5-9 5-14 12-45 16-76 12-47 12-39 6-14 5-8 22-22 10-7 6 0 3 3 3 7 8 34 2 6 1 2 2-2 2-6 8-32 4-7 3 0 6 10 3 2 3-1 6-8 3 0 7 16 1 2 2-2 5-15 3-5 2 0 5 4 2 1 3-2 4-7 33 0 5 5 4-5 1 0"/><path class="c6" d="M1397 123l1 172 10 57 3 8 6 6 2 7 9 82 5 29 4 13 4 8 5 6 4 1 6-3 8-10 11-24 7-17 15-59 16-50 12-49 27-85 11-33 11-25 9-16 8-10 10-7 3-1 17 0 7 2 10 6 5 1 8-2 15-7 206 0 8 31 2 3 3 1 6-4 24-26 4-2 11-1 6-2 13 0 8 4 16 4 13-3 12 5 5 1 27-2 13-3 26 1 4-2 5-5 25 0 3 14 4 39 10 176 2 35 2 8 4-2 5-5 10-23 6-25 30-128 17-55 7-15 10-19 37 0 1 1 8 52 2 9 1 2 2-3 2-9 9-52 104 0"/><path class="c7" d="M1397 123l1 109 10 46 3 7 5 7 3 10 9 67 4 20 3 9 4 8 3 3 4 2 5-2 7-7 6-9 5-13 43-144 21-52 22-44 4-5 8-5 7-7 296 0 9 34 2 5 2 2 5-1 4-4 20-23 12-13 100 0 5 2 21-2 55 0 6 37 10 103 1 12 2 4 4-1 3-3 5-8 17-46 14-39 11-29 11-19 9-11 54 0 1 0 7 23 2 4 2-1 2-3 7-18 3-5 7 0 5 10 3 1 3-3 4-8 21 0 1 0 6 28 3 6 3-5 6-29 41 0"/><path class="c8" d="M1397 123l1 162 10 56 3 8 6 6 3 12 9 83 5 28 6 18 4 6 3 2 7-2 7-7 8-16 10-23 20-69 12-33 15-51 15-44 13-45 13-37 7-14 18-28 5-6 4-3 14-3 190 0 7 12 3-3 4-9 47 0 4 6 9 26 3 3 10-4 11-8 11-6 10-9 5-2 5 0 11 3 10 5 4 2 11 0 34 3 52 2 8-2 9-5 14-14 14 0 4 9 4 24 11 122 2 21 2 3 11-11 8-14 9-29 19-64 12-30 9-16 15-15 41 0 4 19 8 65 2 9 2-4 2-10 9-64 2-8 3-6 3-1 4 4 3 1 7-5 5 0 2 3 5 15 1 2 2-2 5-10 2 0 7 19 3 5 3-5 7-27 40 0"/><path class="c9" d="M1397 123l1 128 10 55 3 8 6 7 3 10 9 76 5 27 3 10 4 9 5 6 3 1 5-1 4-5 22-51 42-140 33-87 6-11 12-21 18-21 278 0 10 46 2 6 2 1 6-2 6-5 21-33 7-7 11-6 48 0 4 1 5-1 27 0 11 4 15-1 15 6 5-2 12-6 26-1 4 14 3 22 11 149 2 27 2 6 4-1 4-4 9-18 13-42 17-67 14-46 8-19 13-16 9-5 35 0 9 49 2 8 1 3 2-2 2-7 8-40 4-11 27 0 4 13 1 3 2-1 4-9 2-2 2 3 6 21 3 6 3-5 7-29 40 0"/><path class="c10" d="M1397 123l1 64 9 30 9 15 3 7 9 54 5 21 5 11 3 4 3 1 4-2 6-6 10-17 7-19 29-86 13-29 6-10 13-13 10-9 12-6 8-10 76 1 5 1 8 5 4 1 4-1 14-7 195 0 1 1 3 21 7 67 2 11 2 3 5-3 5-11 18-50 8-22 7-11 6-6 47 0 5 3 16 6 15-1 20 3 27 11 4-1 4-2 15-19 19 0 3 10 3 22 10 116 2 23 2 5 4-2 4-4 9-16 6-19 19-62 11-34 10-23 9-16 57 0 7 33 2 5 3-5 8-33 13 0 4 2 3-2 30 0 4 4 2 1 4-5 46 0"/><path class="c11" d="M1397 123l1 33 10 29 11 16 11 45 3 6 5 7 7 6 4 2 5-3 6-10 20-50 13-38 9-19 10-16 4-4 6-4 347 0 1 0 2 9 7 40 2 7 2 1 6-3 7-8 16-34 9-12 127 0 13 8 8 2 5-2 8-8 23 0 3 12 3 19 10 94 1 10 2 4 7-4 8-11 12-29 18-47 8-21 11-18 4-5 5-4 53 0 9 49 2 8 1 2 3-7 8-43 3-9 7 0 4 8 3 2 4-2 5-8 23 0 5 9 3 2 2-3 4-8 43 0"/><path class="c12" d="M1397 123l1 115 10 52 3 8 5 7 3 9 10 86 5 26 8 22 4 6 3 2 6-2 6-6 16-33 8-22 14-48 42-132 26-62 10-17 8-11 285 0 2 8 7 48 2 9 2 1 4-1 4-6 13-25 20-34 132 0 7 1 7-1 34 0 3 15 4 40 10 157 1 19 1 5 2 2 4-2 4-5 9-19 8-29 36-139 8-22 13-21 45-1 7 40 2 8 1 3 2-2 2-6 9-43 32 0 3 6 4-6 65 0"/><path class="c13" d="M1397 123l1 74 9 29 9 14 3 7 8 40 4 11 5 6 9 2 3 0 3-3 7-12 11-32 21-64 5-15 5-10 16-13 13-5 10-8 4-1 8 0 3-1 13-13 9-6 42 0 10 5 14 1 14-5 12 6 14-7 185 0 5 10 7 23 2 3 2 1 7-3 12-11 11-6 12-10 15-5 6 0 13 3 13 4 11-3 4 0 11 6 5 0 15-1 11-2 13 3 16-1 26-11 11 0 4 3 3 5 5 19 5 45 8 105 2 23 2 4 6-5 5-6 9-19 28-99 15-42 6-11 20-20 3-2 28 0 2 3 5 20 9 82 2 11 2-4 2-10 10-80 2-8 3-6 2 0 5 6 3 0 3-2 8-12 3 0 5 3 6-1 3 4 7 21 3 4 3-4 8-27 39 0"/><path class="c0" d="M1397 123l1 66 9 28 11 19 11 47 4 8 5 2 4 0 4-4 9-16 33-88 21-42 3-3 4-2 13 0 12-3 12 0 17-12 41 0 17 10 10 10 5 2 13-5 13 0 24-13 11-4 165 0 3 15 7 55 2 9 2 3 5-3 4-9 21-55 6-11 3-4 183 0 3 14 3 24 10 110 1 12 2 3 10-8 8-12 7-21 25-82 8-15 10-16 6-9 53 0 8 54 2 10 1 4 2-3 2-7 8-46 4-12 4 1 5 12 3 3 2-1 2-3 5-12 21 0 6 21 3 5 3-4 5-22 42 0"/><path class="c1" d="M1397 123l1 67 10 39 3 6 6 8 3 9 10 61 5 20 5 10 5 4 4-2 6-5 10-18 30-86 14-42 14-36 7-11 25-24 250 0 6 12 2 1 2-2 4-11 48 0 4 12 8 45 2 7 2 2 7-3 6-5 16-23 10-13 5-4 13-7 6 0 11 7 17 4 14 1 10-3 4 0 11 9 9 0 10-1 13-4 11-10 19-9 9 0 10-4 5-1 2 2 3 5 4 15 4 27 8 77 2 18 2 3 4-2 5-5 9-15 24-68 15-36 9-14 9-7 49 0 4 14 8 51 2 8 2-2 2-6 9-49 5-16 23 0 6 18 1 3 2-2 5-14 3-5 3 0 6 3 5-3 38 0 2 1 5-1"/><path class="c2" d="M1397 123l1 83 9 37 3 7 6 10 3 9 8 52 4 16 5 10 4 3 4 2 4-2 5-4 7-11 6-13 13-40 19-69 18-44 8-15 10-15 7-9 9-7 321 0 1 0 8 28 2 4 3 0 4-1 4-3 19-17 13-11 10 0 7 5 44 10 30 1 12 3 17-5 11-11 5-2 10-1 34 0 3 10 3 20 10 94 1 11 1 3 2 1 3-1 4-4 8-13 10-27 23-70 5-9 12-15 61 0 8 53 2 9 1 4 2-3 2-7 8-45 3-11 31 0 2 2 3-2 9 0 4 10 3 3 3-3 3-10 44 0"/><path class="c3" d="M1397 123l1 120 10 52 3 8 6 9 2 6 10 85 5 26 8 21 4 7 4 2 6-2 6-7 13-25 6-13 42-151 12-36 7-20 13-19 10-24 4-6 4-2 11 0 12-11 6 1 12 6 14 12 3 0 6-4 3 0 29 10 27-11 17-2 15-7 27-6 15-11 18-6 10-2 72 0 9 54 2 8 2 2 5-3 5-7 19-43 7-11 133 0 14 8 4 1 4-2 5-7 26 0 3 15 3 25 11 134 1 11 1 1 2 1 4-2 4-5 9-20 13-38 15-58 8-22 13-26 11-16 54 0 4 6 1 1 3-2 4-5 17 0 4 5 3-1 3-4 27 0 3 6 3 2 4-8 46 0"/><path class="c4" d="M1397 123l1 77 10 36 11 17 12 55 3 6 3 3 8 2 3 0 4-3 9-18 9-27 19-59 20-52 8-15 7-10 7-6 9-6 79 0 10 6 10 0 13 2 11-2 13-6 193 0 3 8 8 39 2 4 2 1 4-2 4-4 24-37 6-5 7-4 37 0 6 1 17 1 30-2 10 3 14-2 13 6 6 1 9-2 8-6 24 0 3 10 4 29 12 147 1 11 1 2 3 1 3-2 3-4 6-14 10-31 18-60 17-51 8-18 16-20 40 0 4 6 8 24 2 4 2-2 2-4 7-22 3-6 5 0 6 11 4 3 3-2 8-12 3 0 4 1 3-1 5 0 3 8 6 29 3 7 3-6 6-33 2-5 39 0"/><path class="c5" d="M1397 123l1 17 10 19 11 12 11 28 4 4 6 2 3 0 3-3 7-8 24-53 7-12 6-6 380 0 9 44 2 6 2 2 5-2 4-5 14-22 16-23 181 0 3 11 3 23 12 172 1 18 1 4 2 2 3-1 4-4 8-16 13-43 20-77 9-29 15-40 13-20 39 0 3 13 8 59 2 7 0 1 2-5 2-9 7-51 3-15 50 0 3 2 3-2 47 0"/><path class="c6" d="M1397 123l1 171 10 55 3 8 6 6 3 12 9 89 6 35 6 18 4 5 3 2 4-1 4-2 9-10 7-15 9-22 9-28 50-181 22-66 13-31 9-17 4-7 11-10 9-11 264 0 8 36 2 4 2 1 4-1 3-3 12-15 20-22 33 0 17 6 13-2 31 5 12 6 4-1 7-4 3 0 4 2 9 8 5 1 5-1 5-4 12-16 20 0 3 14 3 26 11 181 2 33 2 7 4-2 5-5 10-23 7-28 36-148 9-26 16-28 38-1 4 29 7 73 2 12 2-5 2-11 8-75 4-23 29 0 2 7 2 1 4-8 64 0"/><path class="c7" d="M1397 123l1 67 10 39 3 6 5 6 3 7 11 55 5 8 4 3 4 1 4-1 4-4 9-15 20-55 16-53 15-36 6-9 18-14 7-5 54 0 28 10 14 10 9 3 19-4 20-11 30-8 93 0 3 4 4-4 54 0 10 52 2 5 2 0 3 0 2-3 13-22 15-16 5-3 9-3 10-8 5 1 9 10 4 2 16 2 26 1 13 8 18-1 28 6 6-1 5-4 17-26 15 0 1 1 2 10 3 25 11 163 2 28 2 4 10-10 9-20 43-160 8-22 12-18 44-1 3 11 7 39 2 6 2-2 2-7 7-37 3-10 11 0 3 1 3-1 14 0 3 7 2-1 3-6 7 0 5 11 2 2 2-2 4-11 44 0"/><path class="c8" d="M1397 123l1 148 9 48 3 9 6 9 3 11 9 83 5 30 7 21 3 5 3 3 14-6 5-4 4-8 8-18 8-23 14-54 34-114 13-38 16-31 7-13 8-8 17-11 9-1 8 2 28 21 6 2 7 0 8-2 26-14 27-9 16-3 57-25 16-2 8 6 3 0 8-14 48 0 3 8 7 30 2 5 2 1 5-2 5-5 19-28 7-9 123 0 16 13 4 1 7-3 15-11 18 0 4 15 4 34 12 178 1 14 1 2 3 1 4-3 4-6 11-29 30-118 11-36 12-30 6-10 6-6 6-6 29 0 5 16 8 57 2 10 1 4 2-4 2-9 9-59 2-7 3-5 3 0 5 7 3 1 3-2 6-9 16 0 3 8 7 31 3 5 3-6 7-37 31-1 4 5 4-5 1 0"/><path class="c9" d="M1397 123l1 39 9 22 11 17 9 39 4 11 6 7 4 3 4 0 3-1 4-3 10-16 29-75 7-15 7-11 6-6 5-2 25-5 13-4 88 0 9 1 6-1 212 0 11 73 2 6 2 1 4-2 3-5 13-25 17-30 5-7 4-3 4 0 9 3 15 0 16 5 13 7 16 0 12-4 11 5 3 1 3-1 8-8 4-2 4 1 7 4 6-1 12-8 8-10 24 0 3 9 3 15 11 83 1 7 3 2 4-2 5-7 11-24 11-23 13-33 15-27 66 0 8 48 2 8 1 3 2-3 2-7 9-49 47 0 4 13 3 4 3-3 4-14 43 0"/><path class="c10" d="M1397 123l1 203 10 65 3 8 5 6 3 11 9 99 5 34 8 28 4 7 4 4 14-4 6-6 6-14 15-40 36-122 36-141 21-68 7-18 10-16 9-11 11-8 31-11 11-6 211 0 7 22 2 2 3 0 5-1 6-3 19-13 8-7 25 0 10 8 29 5 13 6 16 1 11-6 3-1 28 10 4-2 5-3 15-18 20 0 1 1 2 8 4 32 11 177 2 32 2 7 5-4 5-6 9-21 7-27 37-149 5-15 19-35 41 0 7 46 2 9 1 3 2-2 2-6 10-50 46 0 4 11 3 4 3-4 3-11 44 0"/><path class="c11" d="M1397 123l1 160 10 53 3 7 5 7 3 9 9 73 5 28 4 12 2 3 3 2 4-3 12-16 7-12 5-14 13-40 16-60 15-47 29-82 26-53 4-4 12-6 8-13 4-4 6 0 8 3 31 3 12-3 19-3 193 0 2 3 3 10 8 41 2 6 2 1 4-1 2-3 13-24 15-21 7-8 7-4 58 0 9 3 5 1 14 0 12-2 14 4 14 12 11 4 3 0 3-3 13-19 16 0 4 13 4 28 11 127 1 11 1 1 3 1 3-1 5-7 9-20 10-32 17-60 8-21 13-25 5-9 6-6 46 0 4 21 7 51 2 9 2-3 2-8 9-56 4-10 3 1 5 10 3 3 3-2 8-16 21 0 4 8 3 3 3-2 4-9 43 0"/><path class="c12" d="M1397 123l1 20 9 24 4 6 8 6 12 29 4 5 4 2 4-1 4-7 28-57 17-27 141 0 20 6 14-2 7-4 196 0 9 26 3 4 6-1 4-1 24-16 15-2 10-4 5 2 12 7 29 6 14 5 12-2 17-1 14 5 15-1 6-1 6-5 15-21 16 0 4 18 3 27 12 196 1 20 1 6 2 2 4-2 5-7 11-28 11-43 24-102 13-45 10-24 12-17 1-1 34 1 10 49 2 6 2-2 2-6 7-35 4-13 5 0 5 11 3 2 3-3 4-10 25 0 5 12 2 2 3-4 3-10 44 0"/><path class="c13" d="M1397 123l1 106 9 36 3 7 6 9 3 9 12 70 5 11 5 4 5-5 21-38 13-37 23-74 9-22 7-15 12-16 16-16 11-8 12-4 12-6 5 0 12 4 12-1 15 10 16 5 11 8 14 2 6-2 8-5 17-8 14 1 45-10 15-5 9-10 11 0 6 4 10-4 59 0 5 27 7 63 2 10 2 3 6-4 5-9 18-48 8-17 7-9 13-11 9-1 10 0 10 6 4 1 13-3 15 6 12-3 28 0 17 2 5-1 7-3 12-9 19 0 4 12 4 28 12 165 1 17 1 5 2 2 4-2 5-6 10-24 30-114 14-41 5-11 22-30 1-1 33 1 4 19 7 46 2 7 2-3 2-8 9-49 4-9 3 1 6 11 3 1 3-3 7-14 18 0 7 15 3 3 3-3 6-15 33 0 3 2 2-2 3 0"/><path class="c0" d="M1397 123l1 155 10 56 3 8 6 8 3 12 9 90 6 37 7 23 3 4 3 2 12-5 6-4 7-14 8-18 31-103 15-42 36-121 17-44 8-16 11-13 5-3 19-10 7-2 237 0 2 3 2 8 9 56 1 3 2 2 6-3 7-7 27-51 4-5 3-2 4-1 7 3 18 3 13-3 14 7 28-2 22 3 23 5 11 7 5-4 9-17 4-5 13 0 4 16 4 34 11 183 2 32 2 6 5-3 6-7 5-10 5-13 32-136 14-47 12-29 7-11 6-9 8-6 28 0 8 11 2 2 4-3 6-10 30 0 7 17 1 3 2-2 5-10 2 0 7 20 3 4 3-4 7-28 40 0"/><path class="c1" d="M1397 123l1 22 7 11 13 13 12 29 4 3 4 1 6-2 6-9 6-11 14-36 5-8 11-13 39 0 11 6 4 1 5-1 8-6 318 0 8 33 3 6 5-1 4-4 24-34 189 0 1 1 2 10 3 25 10 131 2 26 2 5 4-2 4-4 9-16 13-40 17-65 12-36 9-20 12-15 49 0 7 28 2 5 2-1 2-5 8-27 9 0 4 10 3 3 3-2 6-11 8 0 3 3 4-3 5 0 7 24 3 4 3-5 5-23 42 0"/><path class="c2" d="M1397 123l1 224 10 65 3 8 6 4 3 12 9 95 5 33 3 12 4 11 4 6 3 2 7-2 6-7 11-21 9-20 44-144 32-113 12-39 10-27 9-21 8-14 6-6 18-3 10-1 10-3 12 4 4-1 28-21 16-2 9-11 4-3 16-1 12 2 30-12 3 0 10 2 14-5 3 0 3 2 6 10 2 1 3-3 5-13 47 0 2 3 3 12 8 50 2 6 3 1 4-4 5-7 18-36 4-8 6-5 18-11 6 0 13 4 13 6 13-1 15 2 30 1 17 9 20 6 3 0 3-3 20-25 8 0 4 11 3 18 4 40 9 121 2 20 1 2 2 0 4-2 5-6 10-23 24-94 11-32 16-34 6-9 11-12 36 0 4 12 7 28 2 4 1 1 4-6 9-28 3-5 3-3 9 2 8-5 3 0 8 11 8-6 2 1 6 14 3 3 2-1 1-3 8-19 39 0"/><path class="c3" d="M1397 123l1 166 10 57 3 7 6 4 3 8 8 57 4 18 4 10 4 3 5-1 6-8 10-16 7-14 41-143 12-38 9-22 18-35 7-11 11-12 9-6 7-3 6-1 21 6 16 8 15 13 8 3 7 1 4-1 13-7 10-1 16-7 16-3 13-8 17-4 12-1 12-10 4-1 12 0 24-8 61 0 10 47 2 7 2 1 9-4 6-5 14-30 11-16 124 0 13 6 5-1 11-5 24 0 2 3 3 9 4 25 11 136 2 25 2 5 4-2 4-4 7-15 16-49 15-56 7-20 19-41 5-8 4-4 8-4 34 1 5 14 8 45 2 8 2-2 2-7 9-46 2-7 3-4 2 0 5 4 3 0 7-6 7 0 5 6 1 1 6-6 2 0 3 5 5 15 3 4 3-3 7-22 40 0"/><path class="c4" d="M1397 123l1 189 10 64 3 9 5 5 3 11 10 118 7 48 5 21 5 16 4 10 5 3 5-1 5-3 10-14 12-24 11-32 16-50 18-66 28-115 18-69 8-24 22-49 5-10 24-29 12-8 219 0 4 17 7 51 2 9 2 2 5-2 4-6 27-54 6-9 5-4 4 0 8 3 16 1 11 8 4 1 12-4 16 8 14-3 14 4 15-4 14 5 5-2 7-5 12-16 22 0 1 1 2 8 3 20 10 106 2 20 2 4 5-2 5-5 9-16 17-54 13-48 5-11 14-23 58 0 10 85 2 10 2-3 2-9 8-63 3-15 2-5 7 0 2 4 3 1 3-1 3-4 82 0"/><path class="c5" d="M1397 123l1 214 10 58 3 8 6 6 2 6 9 78 4 22 3 9 3 5 3 2 5 1 6-2 6-8 8-15 9-25 10-29 40-141 14-37 15-46 10-28 10-21 10-15 7-8 11-7 7-2 8 0 24 6 4 0 11-4 12-1 15-9 16-5 3 0 8 4 4 0 10-10 3-2 12 2 15 1 31-5 5-2 15 0 7 9 2-1 5-8 46 0 2 4 3 10 9 61 2 8 2 2 6-3 5-8 18-43 7-12 8-8 11-8 8-1 12 2 15 1 14 3 12-3 16 1 14 4 17-1 11-2 13-1 11-6 16 0 6 7 5 16 4 26 10 99 1 10 1 1 3 2 2-1 3-3 5-10 18-48 15-46 10-23 11-18 14-10 4-2 39 0 1 1 10 60 2 9 1 3 2-3 2-7 9-47 3-10 3-6 26 0 3 4 6 0 3 4 7 23 3 5 3-5 5-21 4-10 38 0"/><path class="c6" d="M1397 123l1 150 10 60 3 8 5 7 3 11 9 94 6 37 11 35 4 9 5 2 8-3 7-9 8-14 9-21 39-122 27-96 18-54 5-9 14-20 22-23 8-2 8 0 12 6 12 3 11 0 10-2 12-5 19-2 12-4 13-6 10 1 4 0 11-9 16-11 17-6 9-5 8 0 7 14 2 2 3-2 6-14 45 0 2 8 3 16 9 73 1 4 2 2 5-3 3-7 19-53 7-19 8-12 10-9 37 0 16 2 13 3 14-4 4 1 8 6 2 0 13-2 18 0 12-6 32 0 3 11 3 20 11 107 1 11 2 3 6-3 5-7 12-32 15-41 17-39 8-15 10-15 52 0 3 14 8 62 2 9 3-7 9-60 5-18 5 0 4 6 3 1 3-2 4-5 6 0 5 8 2-1 4-7 64 0"/><path class="c7" d="M1397 123l1 106 10 48 3 8 6 8 2 7 10 80 6 29 8 21 3 6 4 1 6-1 6-6 6-9 7-16 10-27 24-84 9-28 44-104 14-26 6-7 6-6 220 0 5 5 4-5 50 0 4 11 8 40 3 6 7-3 6-4 21-33 7-6 8-4 13 0 14-1 16 4 9 5 4 1 11-6 4 0 10 4 17 4 13 0 14 10 7 2 5-1 4-4 18-24 12-1 3 7 4 25 11 128 2 23 2 5 4-2 3-2 7-12 9-27 18-59 13-40 13-28 6-12 5-6 48 1 10 45 2 6 2-1 2-5 9-37 4-9 4 0 7 4 6-4 11 0 2 1 3-1 6 0 8 31 3 6 3-4 7-33 40 0"/><path class="c8" d="M1397 123l1 105 10 44 3 7 5 6 3 9 9 71 5 26 4 12 6 13 4 7 4 2 6-3 6-7 6-12 6-15 21-64 17-64 26-71 17-37 4-5 9-9 10-15 53 0 8 4 11 2 15-2 8-4 196 0 10 71 2 7 2 0 3-1 3-6 18-42 14-29 128 0 6 6 4 2 3-1 7-7 34 0 3 14 3 26 11 145 1 15 2 4 6-4 5-6 9-18 20-73 23-74 5-11 14-18 46 0 8 22 2 3 3-3 8-22 9 0 5 14 3 3 2-1 2-3 6-13 22 0 6 6 3-2 2-4 46 0"/><path class="c9" d="M1397 123l1 215 10 60 3 8 5 5 3 10 10 111 6 41 4 16 5 14 4 9 4 2 4-1 4-3 12-18 9-17 9-24 22-72 30-134 43-136 3-6 9-9 12-25 4-7 15-9 11-10 17-9 16-11 134 0 6 10 2-1 5-9 48 0 1 1 3 13 9 63 1 4 2 2 6-3 5-7 17-33 10-18 7-7 11-7 6-1 14 3 13 0 15 5 13-2 17 2 28-3 12 3 4-2 9-8 6-4 6-1 19 0 4 12 4 30 12 164 1 16 1 5 2 1 3-1 3-2 7-15 9-30 14-55 20-64 16-42 4-8 5-6 9-5 35 0 9 49 2 7 1 3 2-3 2-5 9-40 4-7 3 0 5 8 3 2 3-2 8-12 3 2 5 10 1 2 8-10 3 4 6 17 2 1 3-4 7-22 30 0 5 8 2-1 3-7"/><path class="c10" d="M1397 123l1 244 10 66 3 8 4 2 2 3 2 8 9 98 5 34 3 12 5 13 4 6 3 2 9-3 8-9 13-21 8-19 14-46 23-82 40-152 19-55 5-12 18-21 20-20 4-1 10 0 11-1 16-5 6-4 8-9 5-3 16-4 12-1 13-11 28-6 18-8 12 3 12-6 8 0 8 7 3-2 3-5 50 0 4 19 8 56 2 6 2 0 4-2 3-5 14-28 12-22 6-6 9-5 7-2 15 1 19 6 11-1 18 3 10 5 6 1 13-3 13-5 11 2 7-2 10-4 15-14 18 0 3 8 3 14 10 72 1 8 1 2 2 1 4-1 4-3 9-11 28-70 7-11 9-9 69 0 5 11 2 2 4-2 6-11 9 0 6 13 3 2 3-3 6-12 6 0 4 8 1 2 6-10 3 0 7 21 3 5 3-4 5-22 42 0"/><path class="c11" d="M1397 123l1 169 10 56 3 7 5 7 3 10 10 95 5 29 6 18 3 5 3 3 10-5 8-8 6-12 9-22 17-54 28-112 9-31 9-31 13-31 12-37 7-13 13-19 7-8 6-4 4-1 8 2 12-1 12 3 9 1 19-8 10-5 6-3 187 0 4 19 8 70 2 10 2 3 6-6 7-12 16-47 7-18 7-11 8-8 100 0 31 18 4 1 3-1 3-3 10-15 17 0 4 15 4 35 12 176 1 12 1 2 2 1 4-3 4-6 10-26 32-121 12-37 6-15 20-32 1-1 35 0 9 41 2 6 1 2 2-2 2-6 10-41 28 0 5 9 1 1 5-6 2-1 3 6 6 27 3 6 3-6 7-36 40 0"/><path class="c12" d="M1397 123l1 180 10 64 3 9 6 7 3 12 8 78 4 24 3 11 5 12 4 5 3 1 7-2 7-8 11-23 9-22 30-98 16-69 12-36 14-47 8-21 12-28 12-19 11-15 12-7 15-4 16 3 10 0 17-4 6-3 196 0 4 18 7 54 2 9 2 2 5-2 4-8 9-21 11-33 11-19 115 0 18 8 11 6 3 1 5-4 8-11 23 0 5 21 11 83 1 7 3 1 5-2 5-8 27-63 15-28 9-11 64 0 9 36 2 5 2-1 2-5 8-29 3-6 8 0 4 5 2 1 3-2 3-4 23 0 6 17 3 4 3-4 5-17 42 0"/><path class="c13" d="M1397 123l1 180 10 60 3 8 6 7 3 11 8 73 5 30 5 15 3 4 3 1 5-4 12-13 7-12 6-17 10-29 14-56 13-38 15-54 41-113 11-22 6-10 4-4 15-7 10-2 16 3 15-1 12-4 12-1 10-5 128 0 5 6 2 0 6-6 47 0 2 7 3 13 9 62 2 6 2 1 4-2 3-5 16-32 10-19 7-8 7-5 5-1 20 0 17 4 14 2 14 5 15-3 11 7 3 0 12-4 23-1 5-1 5-4 13-15 6-4 5 0 2 3 3 7 4 21 4 38 8 107 2 24 2 5 5-3 4-5 9-19 22-73 23-71 10-19 13-14 6-4 26 0 4 4 5 14 9 57 2 9 2-3 2-7 10-57 2-7 3-4 3-1 4 3 3 1 3-2 6-7 20 0 8 3 5-3 46 0"/><path class="c0" d="M1397 123l1 177 10 57 3 8 5 5 3 10 10 106 6 36 9 30 4 8 5 2 10-2 6-8 10-17 13-32 9-27 25-96 44-158 8-19 15-32 12-16 7-7 13-3 14 3 15-1 4-3 11-14 9-7 131 0 4 4 4-4 51 0 4 13 7 39 2 7 2 1 4-1 4-5 21-40 11-14 116 0 20 13 5 1 8-3 9-11 21 0 4 22 3 31 11 205 2 37 2 8 5-3 5-7 12-34 9-36 26-114 18-66 9-20 16-23 23 0 1 1 4 24 7 66 2 12 1 4 2-5 2-11 9-72 3-13 3-5 3-1 6 5 3-1 4-4 7 0 5 13 1 2 2-2 4-9 2-2 1 0 7 17 3 4 3-5 5-18 42 0"/><path class="c1" d="M1397 123l1 155 10 52 3 7 5 7 3 11 10 90 5 26 7 20 4 5 3 2 7-3 6-7 10-20 9-21 44-146 15-42 29-87 8-14 17-22 7-6 10 1 18-1 11-3 17 0 7-4 145 0 4 2 4-2 49 0 2 7 3 11 9 61 2 8 2 2 5-2 4-7 19-43 5-11 3-3 10-2 12-12 6-1 12 1 15 3 26-1 16 2 13-3 4 1 12 8 11 1 13 5 5-2 19-22 8-1 4 14 3 21 12 161 2 25 2 4 13-14 7-14 24-89 13-46 7-19 4-9 9-9 14-17 5-4 17-4 9 0 5 9 8 33 2 6 1 2 2-2 2-5 9-33 3-7 3-3 11 1 12-1 6 2 7-1 3 3 6 10 3 2 3-4 6-12 41 0"/><path class="c2" d="M1397 123l1 152 10 58 3 8 6 8 3 12 9 87 5 30 7 23 4 7 3 2 10-4 7-6 5-10 7-17 16-52 44-162 19-59 12-20 15-29 13-17 13-9 6-2 17 0 6 3 16 4 3-1 7-6 202 0 2 5 2 7 9 59 2 9 2 2 5-2 4-5 31-57 4-5 4-3 4 0 7 2 13-1 19 2 12-2 15 8 15-3 16 1 20 5 15 1 4-1 3-2 10-15 5-5 11 0 5 9 4 19 11 102 2 18 2 4 4-2 4-3 9-14 6-17 15-43 20-49 6-11 10-13 50 0 4 19 8 63 2 9 2-3 2-9 9-62 5-17 24 0 6 11 2-1 7-9 2 0 7 4 6-5 45 0"/><path class="c3" d="M1397 123l1 140 10 53 3 7 6 4 3 6 11 67 4 11 2 3 3 1 5-2 4-7 12-19 7-15 13-41 29-104 6-18 19-38 18-31 5-6 10-5 7-6 55 0 8 11 3 2 4 0 12-3 14-10 199 0 9 50 2 7 2 2 6-3 7-9 6-11 10-26 7-10 188 0 4 21 9 70 2 14 2 2 11-7 7-8 5-12 24-62 6-9 10-9 63 0 10 49 2 7 2-2 2-6 7-34 4-14 43 0 6 25 3 6 3-4 6-27 41 0"/><path class="c4" d="M1397 123l1 125 10 48 3 8 5 6 3 9 10 85 5 25 4 13 5 11 4 7 4 1 6-2 6-7 10-20 7-15 34-116 24-72 9-25 14-31 18-35 5-7 5-3 16-4 6 0 4 2 13 11 23 4 13-3 5-2 13-13 126 0 5 3 4-3 50 0 4 12 8 44 2 6 2 1 5-2 4-5 18-31 8-13 7-7 8-5 20 0 5 1 4-1 86 0 22 6 15-6 16 0 1 0 3 13 4 35 11 180 2 32 2 7 4-1 5-6 5-9 5-12 7-27 22-94 10-36 17-52 5-10 6-7 12-13 27 0 3 10 8 49 2 7 2-3 2-7 9-47 4-8 3 1 5 9 3 2 3-1 6-7 3-1 7 12 1 1 6-12 3-2 2 2 6 12 2 1 3-3 5-15 1 0 41 0"/><path class="c5" d="M1397 123l1 49 10 27 3 5 6 6 3 5 9 36 4 11 5 7 3 2 4 1 3-1 4-4 7-11 27-72 10-24 5-7 5-5 6-4 6-2 9 0 10 6 4 1 16-6 13-8 14 1 10-1 7 1 8-1 6 3 11 15 17 7 12-5 11 1 17-1 28-7 27-4 19-6 14-3 27-9 3 1 2 1 7 15 3 2 9-22 15 0 5 2 4-2 20 0 5 13 9 43 3 5 5-2 5-6 24-36 24-17 6 0 9 2 16 2 30 0 13 5 12-4 3 0 13 3 14 5 8 2 8-2 18-13 8 0 3 4 2 6 4 22 4 41 8 109 2 26 2 5 4-2 4-4 9-16 14-44 20-76 22-50 4-7 5-5 17-9 23 0 5 16 8 61 2 11 1 5 2-2 2-7 11-67 3-8 3-4 2-1 6 2 8-6 4 0 7 9 6 2 4 9 6 25 3 5 3-6 7-34 5-9 3-1 21 0 6 5 5-5"/><path class="c6" d="M1397 123l1 36 10 24 10 13 12 41 5 7 7 2 4-1 4-4 11-18 8-20 13-36 7-13 14-17 7-4 8-3 20 0 18 2 10-2 5 1 29 15 37 29 8 4 9 1 12-1 20-8 15-2 10-5 31-12 29-14 12-11 7-2 7-2 5 1 10 18 2-1 7-18 45 0 4 15 9 71 3 11 7-5 6-9 20-58 8-16 7-9 110 0 27 18 3 1 5-3 11-16 17 0 3 8 4 25 12 129 1 10 1 1 2 0 3-1 3-3 7-13 15-43 17-54 13-33 8-14 11-12 47 0 10 36 2 5 2-2 2-5 10-34 8 0 4 5 3 2 3-2 5-5 4 0 6 12 1 2 2-2 5-10 2-2 2 0 5 7 3 2 3-2 4-7 43 0"/><path class="c7" d="M1397 123l1 232 10 66 3 8 5 5 3 12 11 132 7 45 5 19 4 8 4 4 9 1 7-2 6-9 9-17 7-18 37-127 32-137 22-87 6-20 9-25 14-29 6-10 28-17 10-1 4-1 16-16 12-16 6 0 7 2 5-2 105 0 4 6 2 1 6-7 47 0 2 2 3 10 9 51 2 5 3 1 3-1 3-4 16-25 13-18 5-5 5-3 41 4 14 7 18 2 10 3 18-1 11-2 17 4 4-1 5-4 21-22 4-1 4 1 3 3 3 6 5 26 4 43 8 117 2 27 2 5 5-3 4-5 8-17 10-34 34-124 8-20 12-17 18-10 26 0 4 10 7 27 2 4 2-1 2-5 8-26 4-6 3 1 6 12 3 3 2 0 2-3 8-16 25 0 3 1 2-1 38 0 4 4 4-4 1 0"/><path class="c8" d="M1397 123l1 77 10 40 3 6 5 7 3 8 10 72 6 27 7 17 4 6 3 1 6-1 5-5 7-12 9-21 19-56 15-50 7-19 38-69 8-11 19-17 36 0 7 5 12 6 5 2 14-5 13 0 4-3 5-5 187 0 2 4 3 7 9 41 2 5 2 2 4-2 2-2 14-22 14-17 24-13 5 0 11 4 15-1 28 5 16-2 13 9 3 0 10-4 19 8 5-1 5-3 21-18 8 0 2 2 3 6 4 17 11 100 2 18 2 4 4-2 5-4 9-12 8-22 23-70 11-20 5-7 4-5 11-5 45 0 3 8 7 33 2 6 1 2 2-2 2-5 8-32 4-10 31 0 7 2 4 4 6 12 3 2 3-3 8-17 31 0 3 1 5-1"/><path class="c9" d="M1397 123l1 45 10 33 8 12 3 6 9 46 4 13 3 7 4 5 4 2 3 1 4-1 3-2 6-11 31-84 16-39 15-25 9-8 338 0 3 10 8 47 3 8 6-2 4-5 12-20 15-21 6-5 15-10 32 3 11 7 4 2 17-1 11-1 12 3 16 1 27-3 5-4 7-9 22 0 3 11 3 22 10 120 2 24 2 5 4-2 5-5 9-16 7-23 20-66 11-35 9-20 9-14 54-1 1 1 6 33 2 6 1 3 2-3 2-5 7-31 2-4 46 0 5 16 3 3 3-5 3-14 44 0"/><path class="c10" d="M1397 123l1 121 9 42 3 8 6 9 3 9 9 69 5 26 5 14 2 3 3 2 4-3 11-12 6-9 5-14 9-27 35-120 16-48 24-49 9-13 9-8 79 0 5 2 6-2 208 0 3 15 7 55 2 10 2 3 3-1 3-3 6-9 18-48 12-22 135 0 10 4 6-4 30 0 2 6 3 19 10 84 1 10 2 3 6-2 6-8 10-24 27-66 6-9 12-13 61 0 7 32 2 6 1 2 2-2 2-5 7-29 2-4 44 0 7 22 3 4 3-4 6-22 41 0"/><path class="c11" d="M1397 123l1 219 9 55 3 9 6 9 3 12 9 96 4 26 4 14 5 12 5 7 4 2 4-1 6-4 9-12 5-14 13-38 22-75 18-78 24-87 11-34 10-29 20-42 11-16 12-13 24-14 13-4 215 0 5 22 7 49 2 8 2 1 6-4 6-7 17-37 9-19 6-8 7-5 69 0 10 4 16 2 14-1 14 7 10 2 7-2 10-12 19 0 3 9 3 15 11 98 2 17 2 4 4-2 4-3 8-13 7-18 15-41 23-51 7-9 8-6 53 0 7 12 2 3 4-2 10-13 4 0 7 11 3 1 3-1 7-11 4 0 5 7 1 1 5-7 5-1 7 18 3 2 2-4 6-16 31 0 5 6 4-6 1 0"/><path class="c12" d="M1397 123l1 170 10 56 3 8 6 7 3 10 8 69 4 21 6 15 3 3 4 1 5-1 6-6 7-13 7-18 13-38 15-57 15-45 27-76 25-63 9-15 10-9 11-13 9-4 5-2 9 0 22 4 16-1 14 1 35-4 101 0 1 0 5 10 2-2 4-8 52 0 10 60 2 6 3 1 4-2 3-5 18-33 6-11 7-7 7-4 4 0 9 3 15 1 15 7 28 2 13 3 14 1 19-2 21-4 6-4 8-12 22 0 4 18 3 25 10 117 1 13 1 4 2 2 4-2 4-4 10-20 26-88 16-42 7-12 13-11 45 0 3 12 7 45 2 7 2-2 2-7 7-39 4-16 44 0 5 16 3 5 3-4 5-17 42 0"/><path class="c13" d="M1397 123l1 270 10 69 3 7 5 4 3 10 9 98 4 27 6 20 4 6 3 1 15-11 7-7 6-15 13-35 24-77 17-61 43-170 7-21 15-40 11-20 19-24 7-6 12-5 14-9 23-11 190 0 4 12 8 39 2 5 3 1 4-3 10-16 13-16 5-5 6-3 9-2 13 2 12-5 17 4 11 6 14 2 5 0 10-3 16 0 15 7 11 11 6 2 5-1 4-3 20-28 5-5 3 0 3 2 2 3 4 15 4 27 9 82 1 10 1 3 2 1 4-2 3-2 8-14 12-31 17-49 7-16 12-18 8-8 8-4 42 1 5 22 8 79 2 14 1 5 2-4 2-11 10-85 3-13 3-6 3-2 6 2 8-1 3 1 8 15 2 0 4-3 3 2 7 17 2 3 2-1 2-5 7-30 40 0"/><path class="c0" d="M1397 123l1 87 10 40 8 14 3 9 9 62 4 19 7 17 3 5 3 1 3-1 11-9 5-6 5-10 43-141 16-39 8-14 15-23 7-6 8-5 46 0 11 2 5 2 11 11 14 4 3-1 6-3 10-7 8-8 187 0 4 13 8 45 3 7 9-4 5-5 23-43 7-10 5-3 11 2 9-2 83 0 8 4 17 3 17-7 26 0 4 14 3 19 12 145 1 14 1 5 2 1 4-1 4-4 10-20 27-95 12-31 10-22 20-24 36-1 4 14 8 51 2 8 2-2 2-6 10-52 3-9 3-4 20 0 7 20 1 2 2-1 4-7 2 0 3 7 5 20 3 6 3-6 8-41 39 0"/><path class="c1" d="M1397 123l1 154 10 52 3 7 5 6 3 9 10 90 5 28 7 22 4 5 3 2 6-1 8-7 6-8 3-9 11-37 14-43 31-113 25-75 11-30 7-15 6-8 11-13 13-9 12 0 11-7 182 0 7 7 3-2 4-5 47 0 4 13 9 48 3 7 10-3 5-4 16-32 11-16 6-5 4 0 6 4 18 5 13-3 16 6 12-2 18 0 10-4 3 0 3 2 8 7 5 1 10-2 14-1 5-3 9-13 5-5 12 0 4 11 4 24 11 122 2 21 2 4 9-8 9-17 22-71 16-44 16-30 5-6 5-4 3-2 37 0 5 14 9 58 2 8 2-3 2-7 9-52 4-10 3 1 5 9 3 2 3-2 8-14 3 1 5 10 2-1 4-6 2-1 3 5 6 25 3 5 3-5 8-37 39 0"/><path class="c10" d="M1397 123l1 379 9 71 3 10 2 1 3-1 2 2 2 9 3 31 7 118 6 50 5 24 6 21 4 10 3 3 3 1 5-1 4-3 7-13 11-30 10-40 25-120 47-256 16-70 13-47 13-32 8-15 29-22 12-12 13-3 15-22 4-2 10-1 17-7 13-7 10 2 4 0 12-12 15-9 4-1 11 1 10-7 74 0 4 20 7 53 2 9 2 1 6-4 6-8 28-63 5-8 93 0 6 4 10 3 9 4 9 1 11 4 6-3 9-13 23 0 3 18 3 31 11 171 1 18 2 6 5-3 5-5 9-17 6-23 21-89 9-32 19-55 4-8 8-12 41 1 9 46 2 7 2-2 2-5 11-47 42 0 7 24 3 4 3-5 5-23 42 0"/><path class="c8" d="M1397 123l1 392 9 66 4 9 5 0 3 10 10 139 5 41 4 18 4 12 4 7 4 3 5-2 5-3 8-12 7-19 11-38 23-105 13-67 38-210 14-66 14-53 13-35 13-24 11-14 18-14 13-18 3-1 7 1 3-2 12-15 188 0 3 8 8 38 2 4 3 1 7-3 7-6 4-6 9-19 2-4 3-1 11 3 13-4 19 3 10-1 4 2 12 7 14-3 4 1 10 6 17-1 10 1 6-3 11-11 13-4 13-8 16 0 5 12 4 24 12 155 1 16 1 4 2 2 3-1 3-3 6-12 12-39 30-104 14-36 10-17 49-1 8 30 2 4 2-2 2-5 7-26 1-1 32 0 3 6 1 2 5-6 2-1 3 6 6 26 3 5 3-5 7-33 40 0"/><path class="c4" d="M1397 123l1 337 6 54 4 23 3 7 4-1 2 2 3 14 10 145 7 55 4 17 4 12 4 7 5 2 5-1 5-3 4-5 5-10 9-21 10-38 23-102 50-260 14-60 9-34 15-37 6-14 7-11 19-19 7-5 14-8 16-17 25-15 13-6 18-5 40-3 100 0 4 16 7 43 3 8 7-3 5-6 22-42 8-10 8-6 21 0 20 5 10-5 5 0 11 4 18 3 12 4 13-6 26 1 16-6 19 0 4 20 3 28 12 170 1 12 1 2 2 0 3-1 3-4 5-12 12-42 14-51 22-72 13-35 4-8 4-4 5-3 41 0 8 30 2 5 2-2 2-4 9-29 44 0 7 32 3 6 3-4 7-34 40 0"/><path class="c9" d="M1397 123l1 282 10 71 3 8 5 3 3 11 10 129 6 47 4 19 4 13 4 8 5 1 6-1 5-2 7-10 10-20 10-28 46-179 22-109 16-73 9-35 7-23 19-43 14-23 8-8 25-18 15-7 10-12 123-1 6 13 3 2 7-15 46 0 2 5 3 14 9 67 1 4 2 3 6-4 6-9 22-52 4-4 20-16 17-2 15 5 13-4 12 3 15 3 47 0 8-2 21-11 11 0 4 8 4 21 12 134 2 23 2 4 4-2 5-5 8-14 6-19 14-49 23-65 11-22 5-7 6-5 3-2 35 0 2 1 5 16 8 53 2 10 1 3 2-3 2-9 8-50 2-8 3-5 3 2 6 12 3 1 3-3 10-20 14 0 2 3 6 19 3 4 3-4 7-22 40 0"/><path class="c12" d="M1397 123l1 285 10 69 3 8 4 1 2 2 3 14 9 114 5 38 7 27 3 6 3 2 8-4 8 1 4-2 5-10 8-20 17-54 16-61 13-40 32-141 24-90 10-29 8-17 23-31 6-5 11-4 16-7 15-2 12-7 4-1 11 4 16-6 13 0 14-13 4-1 7 1 4-1 13-9 17-8 12-9 5 0 9 7 2-1 5-6 49 0 4 18 8 57 2 7 3 1 3-2 3-5 16-32 11-21 7-8 8-5 10-2 28 5 16 8 12-1 17 1 13-4 15 0 13-7 20-9 6-1 21 0 4 20 3 25 10 118 1 14 1 4 2 1 4-2 4-4 9-17 5-16 16-55 13-40 10-23 13-25 53 0 8 31 2 4 2-2 2-5 8-28 31 0 4 11 1 2 2-2 5-11 3 0 6 14 3 3 3-3 5-14 42 0"/><path class="c9" d="M1397 123l1 88 10 30 11 16 13 54 4 8 4 2 4-2 3-4 17-31 5-15 18-56 16-37 7-12 6-5 29-10 36-17 7-1 11 2 14 9 17 7 10 2 14 6 8-3 12-6 23-10 18-3 11-4 17 1 13-6 4 0 10 5 14-3 28-1 29-3 4 0 11 4 7 0 3 4 3 10 11 91 2 8 2 1 4-2 4-8 16-40 15-36 5-7 6-5 5-2 6 0 42 6 13-1 47 3 21-3 21-14 4-1 3 0 3 3 1 3 3 11 5 45 4 72 9 219 1 28 1 7 1 3 1 0 5-3 5-7 5-12 6-19 11-51 23-123 17-81 11-36 9-22 5-9 18-24 4-1 3 5 5 29 8 84 2 11 2-4 2-12 9-81 3-16 3-6 3 1 5 7 3 0 10-15 2-1 5 1 8-9 3 2 6 13 3 2 3-2 7-16 5-5 20 0 3 2 7 6 2-1 3-5"/><path class="c8" d="M1397 123l1 63 10 27 11 15 9 37 4 12 5 7 5 2 4-1 3-4 11-17 8-18 20-57 9-20 10-16 4-3 4-2 11 1 17-3 14-8 9-9 5-2 11 1 8-1 19 1 14 2 6 2 10 8 14 3 5-2 12-11 4-1 9 1 4-1 7-6 21 1 12 3 14-4 15 1 9-1 20 0 18 8 9 12 3-2 6-13 5-4 17 0 15 2 6 4 4 9 11 46 3 6 7-2 6-5 6-8 12-22 10-11 7-4 4 0 9 5 13-2 14 1 41 5 19-1 14 9 21 4 5-1 4-3 14-21 5-3 4 0 3 5 3 10 5 43 4 68 9 206 1 26 1 7 1 3 1 0 4-2 5-7 5-11 6-19 11-49 24-124 12-52 15-51 8-19 8-15 16-18 4-3 3 0 4 6 9 34 2 5 1 1 4-7 8-27 4-6 2 0 2 1 6 11 3 2 3-3 8-13 2 0 6 8 6-5 3 4 7 31 3 7 3-5 7-36 5-10 10-5 11 0 7 14 2 1 2-1 3-8"/><path class="c1" d="M1397 123l1 89 9 31 4 8 5 6 3 7 10 61 5 19 6 11 3 3 3 1 5-2 4-4 8-16 16-44 25-79 17-43 10-15 20-25 5-5 5-2 6-1 237 0 6 12 3 3 2-1 6-11 4-2 5 1 12 5 14 3 9 4 3 7 4 18 8 55 2 6 3 2 3-1 2-3 15-25 14-19 7-7 6-2 12 3 28 8 28 12 15 2 26-4 6 5 10 15 4 2 3 0 4-2 4-7 21-55 4-8 2-2 1 0 4 8 4 23 12 154 2 25 2 4 11-13 8-17 20-77 20-68 14-36 5-8 5-5 6-4 36 1 4 13 7 37 2 6 2-2 2-5 8-39 4-11 26 0 5 12 1 2 2 0 4-5 2 0 3 6 5 17 3 4 3-5 7-31 40 0"/><path class="c5" d="M1397 123l1 32 9 14 11 12 9 24 4 7 5 5 7 1 5-2 6-7 17-37 20-29 16-17 5-3 4 1 9 5 10 0 7 0 11-6 45 0 15 6 14 0 12 10 10 2 11-3 25-11 22-4 11 0 8 3 17-2 13 4 12-5 6 0 11 4 10-4 7 0 8 6 3 1 8-7 14 0 7 2 17-1 6 3 4 8 11 44 2 4 2 1 3-1 3-4 16-22 11-13 8-6 15-7 18-1 13 3 44 4 14-2 6 3 10 7 12 12 6 2 8-3 19-24 5-4 4-1 2 2 2 3 5 19 4 31 9 90 2 15 3 2 3-1 3-3 6-10 9-25 16-48 19-44 10-15 12-9 11-11 25 0 6 4 5 10 9 45 2 6 2-1 2-4 10-40 2-4 3-4 3 1 4 5 3 1 3-1 8-10 3 0 5 3 5-3 2-1 3 4 6 17 3 4 3-3 7-20 5-6 6-1 13 0 4 1 7 5 5-4"/></g>
<g fill="none" stroke-width="1.5" stroke-linejoin="round"><path class="c0" d="M209 1422l7-10 10-21 3 2 10 24 2 1 3 0 4-3 5-9 4-2 4-6 11-9 4-6 7-5 27 20 10-1 4-5 11-7 7 1 4-6 4 0 4 4 7-5 4 4 7-6 8 7 3 2 4 5 4 1 11 15 4-2 6 13 4 3 4-5 4 0 4 4 7-5 8 1 7-9 8-4 7-9 4 0 4 2 3-5 4 7 4 0 2 4 1 11 1-10 3-1 8 3 7-1 11 2 16 10 14 4 4 0 3 2 23-1 7-2 7 1 4-2 9 0 10-7 3-1 12 12 11 1 5 3 3 4 13 50 8 53 2 9 2-9 3-39 3-113 3-48 9 68 3 12 13-4 11 1 7 3 4 3 4 1 11 6 3 0 8 5 7-1 4 2 7 0 15 5 4 2 4-2 3 9 4-2 8 1 3 9 4-1 7-5 8-1 4-7 3 4 4 0 4 3 3-5 4-1 3-6 1-23 1 18 4-7 6-1 8 9 9 45 13 245 4 43 1-18 11-272 5-69 1-6 5-8 2-1 4 1 14 4 5 15 7 11 8 5 3 0 12 10 10 1 4-5 8-2 3 2 7 14 9 23 11 40 5 9 1 0 1-2 1-8 6-82 2-11 5 27 6 20 1-2 9-23 3 2 1 5 6 21 3 0 2-2 3-12 4-7 6 26 2 6 6-29 8-13 19 45 7 1 8 3 3-3 4 2 5-10"/><path class="c1" d="M209 1399l3-3 12-21 2-1 3 3 5 14 5 11 2 2 5-2 18-28 12-22 6-4 4 4 12 29 7 10 6 4 5-1 15-10 8-2 3-3 4 1 4-2 15-1 3 4 8-2 7 3 4-2 4 7 15 17 3 6 4 0 4 7 3-3 4-1 4 3 4-5 3-1 4 1 4-8 3 2 4-1 12-9 3-1 4 3 6 0 8 2 3 3 1 35 1-34 14-1 8-5 9-3 4 0 5 4 4 1 15 9 4 1 3 3 8 1 11 0 7 1 15-2 8 1 4-2 7-9 5 0 10 12 16 5 2 3 15 72 8 60 2-5 3-32 4-141 3-45 9 70 3 13 1 2 4-2 4 1 4-3 3 1 4-1 4 2 3 0 8 1 7 5 4 0 4 1 3 0 19 4 4-1 11 4 7 1 8 4 3 0 4 4 4-2 4 5 7-2 4-5 7 2 4 5 7-6 4-1 4 9 7-5 3-7 1-7 1 2 3-6 3 0 4 2 4 0 4 7 10 54 12 255 4 50 0-1 2-32 8-205 6-107 1-43 1-15 5-13 3-1 14 4 3 3 5 15 4 6 18 23 4-2 4 4 7 5 11-8 3 0 3 3 5 11 8 25 15 68 6 17 5-52 5-99 11 80 1-4 5-25 7-20 1 6 5 38 2 6 3-6 7-31 2-2 7 51 6-44 6-26 1-5 2-2 3 8 7 37 5 31 7 31 3 8 11 9 5 1 4-5"/><path class="c2" d="M209 1426l7-8 11-28 10 21 3 4 4-1 2-1 7-12 19-24 7-2 4 3 9 21 11 7 10 2 3-3 4 3 4 1 7-4 4 1 15-7 5-5 2 0 4-3 4-6 3 4 4-1 4-3 4 7 3 3 4-1 4 6 3-1 4 1 4 9 4 3 3 0 4 9 2 0 5-2 8 1 4-7 3 4 4-3 4 0 3-2 4-1 4-7 4 0 3-5 4 5 8-3 7 5 4 0 2 4 1 9 1-8 3 0 4 2 7-3 21 3 5 2 4 4 4-1 11 5 7 1 4 2 7-1 12 1 3-1 4 2 21 0 9-6 5-1 10 7 11 2 5 3 8 11 5 15 6 23 6 41 2-4 3-25 4-88 3-45 8 49 3 12 2 2 8 1 7-1 4 1 4-2 3 0 15 3 4 0 7 2 19 1 7 3 4-1 4 0 7 5 4-2 4 9 3-1 4 7 4-2 7 8 8 5 3-3 4-7 4 5 4-6 3 6 4-3 4 0 3-1 4-4 3 1 1-9 1 4 3-10 11 2 4 3 4 9 5 6 2 12 3 48 8 164 4 50 1-15 11-248 5-60 2-9 4-8 10 0 10 6 5 15 7 12 4 2 7 8 8 4 4 4 3-1 4 2 4-3 11-4 4 2 14 27 12 36 6 10 2-8 6-73 2-9 5 25 5 13 1-1 4-7 6-6 3-1 1 1 7 14 4-6 7-6 2 2 6 21 11-24 3 0 4-1 4 14 3 1 4 12 8 12 3 1 4 3 4 1 3 3 4-1 5-12"/><path class="c3" d="M209 1410l18-27 11 29 2 2 4 0 6-5 14-16 15-19 4-3 3 2 14 15 9 6 8-2 11-7 7 1 4-1 7 0 4 4 4-3 3 4 4-1 4-3 3 2 4 5 8 2 3 5 8 1 3 5 4 0 8 12 3-1 8 9 3-4 4 1 4 4 4-3 7 2 4-8 3 0 4 4 4-6 4 4 3-7 8 4 4-3 3 3 4 1 4-2 3 9 6 3 17-6 3-4 4 0 4-3 15 0 26 10 3 0 4 2 4-1 4 2 3-1 11 3 8 0 4 1 11-6 3 0 4-2 9 3 13 0 3 2 3 5 7 24 8 35 6 45 2-5 3-26 4-119 3-47 6 47 6 28 9 0 4-2 18 3 11 8 8 2 3 0 5 3 10 1 4 2 7 1 4-1 19 4 3 4 8 4 4-3 3 2 4-6 4 10 3-8 4 0 4-2 7 10 4-2 4-6 3 5 4 1 3-5 1-6 5-7 14 4 9 29 2 16 3 56 8 169 4 48 1-14 11-254 6-89 5-12 6 0 11 5 13 27 6 7 11 11 15 7 7-4 7-4 5 2 14 31 12 40 5 10 1 0 1-2 1-7 6-82 2-9 5 30 3 9 3 7 2-2 4-12 6-8 1 1 7 23 2-1 3-6 3-2 5-9 7 32 2-4 4-23 4-12 2-3 3-1 3 4 15 50 7 12 4 9 4-2 3 3 5 0 4-8"/><path class="c4" d="M209 1446l3-6 8-7 7-17 4 0 8 8 3 0 19-25 3-2 8-10 8-6 3 1 7 11 4 3 4 6 11 5 11-2 4 1 4-2 3 1 15-3 8 2 3-4 4 8 4-5 3 1 4 3 4-2 2 0 2 1 3 6 4-2 4 2 3 5 5 1 3 3 7 14 4-3 4 3 3 1 4-5 4 3 7-11 4 9 4-8 3 1 4-4 4-1 4-5 11 4 7-5 4 5 4-3 2 3 1 15 1-11 3 5 4-3 4 0 3-2 23-2 26 6 7 0 4 3 22-1 4 2 15 0 7-1 5-3 5 0 9 4 11 0 8 5 5 6 4 10 4 13 8 48 2 3 5-38 3-70 3-46 7 44 5 18 9-1 4 1 3-1 19 3 4-1 3 3 4-1 7 2 12 1 14 5 4-2 8 4 3-3 4 7 4-5 3 2 4 4 4 0 4 8 3 0 4-3 7 0 4-2 8 9 3-8 4 2 7-8 4 6 3-6 1-8 1 4 4-5 2-1 12 4 4 14 5 5 2 12 3 46 8 150 4 39 1-18 11-245 3-29 8-8 6 0 14 4 5 11 7 8 4 1 7 4 14 6 6 0 10-4 7 1 5 8 10 21 12 31 5 7 1 0 1-2 1-6 6-62 2-8 5 20 5 11 1-1 6-12 4 2 3-1 5 13 4 3 3-1 3-7 5 0 3 5 3 14 1 3 6-21 5-6 3 3 8 0 7 19 4 14 7 0 4 3 7 1 4 3 5-12"/><path class="c5" d="M209 1384l3-4 8-13 4-4 2-1 3 4 9 27 3 1 5-3 22-38 11-34 5-7 3 3 11 29 6 9 5 4 4 0 7-9 8-7 11-1 7 3 4 6 4-2 3 2 4 6 4-1 7 4 4-5 11 11 4 1 7 6 4 8 4 3 7 9 4-6 11 3 4-3 6 0 5 4 3 1 8-8 4 4 3-5 8 5 4 0 3 4 4-1 4 2 2 4 1 15 1-13 3 2 4-2 11-3 7-4 4 0 4-2 7 5 4 4 19 11 11 3 3-2 4 2 4-3 4 2 7-2 7 2 12-3 4-3 7-8 4 0 3 2 4 8 6 8 5 3 4 0 5 3 2 3 12 53 6 34 4 40 2 3 3-22 2-32 3-125 3-48 7 59 5 25 16-2 4 2 15 1 7 3 37 9 8 0 4 1 3-1 4 8 4-8 3 0 4 2 4 10 4-6 3 4 4-4 4 6 3-2 4 2 4-4 4 2 3-4 14 5 4-9 1-29 1 21 2-6 2-2 6 2 8 5 9 76 13 280 4 44 2-33 9-237 5-96 2-73 4-10 15-2 6 2 7 13 5 4 4 6 4 1 11 9 4 1 7 4 14-3 2 2 7 30 22 124 3 11 3 4 5-65 5-129 2 10 9 100 1-8 5-53 6-25 1-2 0 3 1 7 7 79 2-7 7-58 2-9 1 0 6 90 1 13 6-94 4-23 4-15 3 9 8 61 12 61 3-1 7 11 4 2 4 4 5-10"/><path class="c6" d="M209 1385l3-1 12-15 3-1 8 25 4 10 3 3 4 0 7-10 6-5 12-18 8-23 5-5 2-1 4 10 18 17 8-2 12-5 7-1 11 6 4 5 4 0 3 3 8 2 3 9 4-4 4 1 4 5 3-5 4 7 4-5 3 5 4 1 4 5 4 1 3 7 8 6 3-7 4 2 4-5 4-1 3 3 4-7 7-2 12-8 3-4 4 4 4 0 4 1 3-3 4 5 4-3 3 18 1-6 3-2 11-3 8 1 7-3 4 3 4 0 7 7 19 10 7 3 22 4 4 2 15 1 4 2 11-8 3-4 7 2 6 4 15 2 3 5 9 43 7 36 5 45 2 4 4-35 4-142 3-46 8 65 4 18 16-3 8 1 7 2 4 2 7 2 4-2 19 7 3-2 11 4 15 1 4 4 7-4 15 8 4-5 7 5 4-6 4 8 7-8 4 0 4 4 7-4 3-8 1-26 1 18 4-10 4-1 10 5 9 109 13 316 4 40 1-12 2-39 8-230 4-86 3-139 2-11 3-7 6-2 14 9 12 32 11 19 8 9 11 8 11-4 3 0 3 3 9 26 19 83 4 10 2 1 2-13 8-134 6 52 5 27 1-4 9-44 3-5 1 7 5 45 2 7 2-5 9-48 2 8 6 59 2-9 5-52 5-22 2-6 3 8 19 98 4 10 4 0 4 4 7 4 5-8"/><path class="c7" d="M209 1412l3-3 8-12 4-11 3-6 11 21 2 2 2 0 33-60 4-4 2 0 3 4 7 24 8 18 11 13 6 1 8-6 11-6 7-6 5-1 10-9 4 0 4-4 3 2 8-2 2 1 5 6 11 16 12 29 3 0 4 14 4 7 7-3 4 4 4-5 3 0 8-12 3 0 2-1 10-11 11-5 4-8 3 5 4-5 4 6 3-3 5 6 3 0 4-1 3 2 15 3 11 4 5 4 22 5 3 0 4-2 3 1 26-8 12-1 11-7 5 4 12 13 9 5 6 1 2 2 8 17 3 12 5 21 5 39 2 3 5-42 3-86 3-46 8 51 4 16 14-3 10 2 3-1 12 5 11 4 3 3 4-1 11 3 4-1 7 2 4 0 15 6 7 0 4 6 4 2 4-3 3 3 4-2 7 8 4-1 4 2 4-10 11 6 3-5 4 0 4-14 1 1 4-7 6-3 8 6 0 2 10 53 12 252 4 50 0-1 2-32 8-207 6-106 1-39 1-15 5-10 10 0 7 4 3 3 5 16 4 9 7 9 11 11 4 1 4 4 5 3 7-1 9-6 3 1 3 4 10 29 6 31 9 55 3 11 3 6 3-30 7-148 11 96 5-34 5-20 2 0 1 5 7 35 1 1 1-1 11-23 7 27 2-5 5-28 5-5 3 0 3 4 7 21 4 19 11 29 4 3 4 8 3-2 4 6 5-15"/><path class="c8" d="M209 1410l4-5 11-20 2-3 3 2 10 23 2 2 2-1 10-13 11-18 8-13 8-23 5-5 4 4 11 19 5 6 5 1 14-5 11 0 4-3 11 6 4 0 3 4 8 2 3 0 4 7 4-2 4 3 3 2 4-3 7 9 4 1 4 6 4 2 3 8 8 5 11-1 7-6 4 2 7-4 4 1 5-5 3 0 3 7 4-3 4 2 4-2 3 2 4 6 6 2 1 29 1-28 3 1 19-2 15 0 33 14 7 0 4 2 4-2 4 2 3 0 11 2 14-1 11-7 8 1 5 4 17 3 3 5 11 43 10 61 2-3 3-28 4-113 3-45 8 56 3 14 2 2 8 2 4-2 7 0 22 2 11-1 4 1 8-1 3 3 15 1 11 5 11 2 4 6 4-7 4 8 3-4 4 2 4 4 3-4 8 2 4-3 3 4 4-9 11 17 3-16 1-16 1 9 3-4 3 1 9 5 3 3 9 41 5 87 8 165 4 47 0-1 2-34 10-244 6-102 4-8 2-2 5 0 4 4 4-2 6 8 5 15 4 9 11 15 3 0 4 2 4 5 11 3 4-1 3 0 4-4 8-1 14 31 12 46 6 12 2-9 8-104 8 47 3 11 10-30 3-4 1 4 5 29 1 3 2 0 6-19 4-16 2 6 4 31 2 13 8-48 4-13 1-2 2 1 21 82 4 4 4 6 4 3 8-1 4-8"/><path class="c9" d="M209 1366l5-7 10-19 3-1 8 34 5 13 3 0 4-4 14-24 7-18 4-6 6-19 5-6 3 4 12 37 4 7 8 9 3 1 3-1 8-6 7 2 11-2 4 3 4-1 4 5 3-1 4 6 7 7 8 0 4 3 3-5 4 6 4 1 3-4 4 4 4 0 7 11 6-1 5-18 2-2 13-7 11 5 4 8 8 3 3-2 4-6 8 11 3-2 11 9 4 5 8-1 14-9 12-3 3 4 4 0 15 9 6 6 8 4 8 2 15 0 7 2 4-2 9 0 12-13 2-1 7 7 4 7 15 4 3 4 13 71 10 80 2-6 3-37 4-162 3-47 8 71 3 17 2 4 15-4 4 2 4-1 41 18 22-1 7 3 4-3 4 3 3-1 4-5 4 4 4-1 3 8 8-8 3 8 4-5 4-1 4 10 3-13 4 8 4-1 3-5 4 12 4-21 4-6 11 5 4 9 9 65 13 300 3 39 1 8 4-64 7-193 4-81 3-131 4-17 2-1 2 1 3-4 11 8 4 0 4 11 8 16 7 11 15 17 3-1 4 3 3 0 4-3 4 0 6 4 5 19 11 55 12 73 3 10 3 5 5-64 5-131 5 41 5 63 1 8 6-65 7-29 1 12 5 74 1 9 1 4 1-3 10-90 2 11 5 102 1 18 6-112 5-32 1-7 2-2 17 111 4 18 2 3 3 4 4-6 4 1 3 4 4-4 2-1 3-6"/><path class="c10" d="M209 1416l7-8 11-22 12 27 2 2 2 0 7-7 11-17 7-7 8-14 6-2 3 2 13 21 4 2 3 6 8 4 18-12 15-7 8-6 3 0 8-5 3 4 8-2 11 8 4-2 3 7 4 4 8 5 8 12 10 1 4-2 7-2 4-5 4 3 3-6 8-7 4 1 3 0 4 2 8-8 3 10 4 2 4-4 2 3 1-6 1 9 3 3 8-2 3 0 4-2 4 1 3-2 6 1 32 15 11 3 7 0 8 2 3 3 8-2 3 1 4-1 4 2 4-2 3 0 10-8 3-1 10 6 11 0 5 2 2 3 15 71 8 57 2-6 3-31 4-129 3-43 8 61 4 17 5 1 22 1 4 2 4-3 4 2 7-2 7 3 4-2 4 2 22 3 4 2 5 0 2 2 4-2 4 5 3 1 4-5 4 10 4 1 3-6 4 3 7 0 4-7 4 11 7-4 4 4 7-4 4 5 4-22 1 5 4-4 10-1 4 9 8 37 2 17 12 274 3 43 1 9 4-65 7-182 5-98 2-91 3-14 3-6 4-1 16 6 4 15 7 16 11 17 12 12 8 3 12-7 3 2 2 2 4 14 12 53 12 66 2 7 3 4 3-28 7-150 11 95 0 1 1-3 4-33 4-20 2-7 2-2 6 57 2 7 3-7 7-41 1-3 1 1 7 63 7-61 5-19 2-4 3 8 12 64 8 19 3-5 4 7 4 0 3 5 5-5 4-9"/><path class="c11" d="M209 1382l3-4 4-10 4-1 7-8 10 28 3 5 2 1 8-10 7-17 4-4 9-21 9-27 5-6 3 4 4 14 4 3 6 15 4 9 6 3 5-3 4-9 8-10 3 0 8-6 3 0 4-6 4 6 4-7 3 5 8-4 3-4 4 2 4 0 4 2 7 6 7 11 4 10 9 38 2 3 4 10 7 5 4 0 4-1 4 1 3-4 4 1 4-6 3 1 4-9 4-5 4 2 3-8 4 1 4-8 4 1 3-1 4 1 4-2 2 7 1 35 1-34 3-2 8 3 14 4 4 3 8 4 7 8 7 3 8 7 4 0 4 3 10 0 19-7 4 3 11-3 4 1 6-5 6-7 2 0 12 19 7 9 4 0 5 5 4 7 9 34 7 36 4 38 2 3 3-20 2-29 3-115 3-48 9 67 2 10 2 3 19-4 22 5 15 0 8 2 11 2 3 2 4 0 8 4 3 4 4-2 4 5 3-1 4 4 4 1 7-5 4 9 7-5 8 2 4-9 3 10 4-5 4 2 3-1 4 6 3-19 1-28 1 17 4-10 2 0 4-2 8 6 0 6 10 138 12 295 2 22 2 6 4-80 7-207 4-87 3-128 3-9 2-3 3 1 3-2 8 2 3-1 3 1 9 17 11 12 3 1 4 5 4 1 8 8 7 0 7-4 5 3 4 18 24 148 3 16 3 6 1 0 1-5 2-30 7-179 3 21 8 106 6-72 4-20 2-3 2 12 6 70 1 3 2-7 9-61 2 7 5 62 1 10 6-70 6-27 2-5 3 8 5 33 15 74 6 8 8 4 4 4 5-10"/><path class="c12" d="M209 1410l7-7 4-8 6-8 3 2 9 25 4 3 8-6 3-5 8-5 15-19 8-6 26 18 4-1 14-9 7-1 8 2 7 4 4-2 3 0 8 2 3-3 4 8 4-1 7 5 4-3 4 6 3 0 4 9 4-2 4 4 3 11 8 3 3-1 4 4 4-5 4-1 7 4 11-13 8 0 3-6 8-1 4 2 3-2 4 2 4 6 2-1 1 5 1-5 7 2 4-1 3 1 4-1 4 1 11-1 7 1 11 4 8 1 4 3 3-1 4 2 11-1 11 1 4-1 19 0 7-1 4-4 4 0 11 7 11 4 5 1 5 6 6 13 4 16 9 47 2 8 5-41 3-74 3-45 8 50 3 11 2 2 15 1 8-2 15 5 11 0 7 2 8-2 3 3 8 0 18 5 5-4 3 2 11 14 4-2 3 4 4-5 4 1 3 6 8-10 7 8 4-2 11-4 3-5 1-11 1 5 3-7 3-2 8 4 4 1 4 21 5 14 2 18 11 210 4 44 1-17 11-263 4-48 2-8 5-8 6-2 4 3 7 1 3 2 8 14 6 6 13 2 8 5 7 2 4-3 3 2 4-5 5 2 4 9 11 30 6 15 8 25 6 10 2-9 8-89 6 33 5 10 1-1 5-12 7-5 8 26 7-21 4 4 2 0 1 2 5 23 7-31 4-3 3-6 26 64 8 8 3-1 5 1 4-10"/><path class="c13" d="M209 1375l10-15 5-5 2 0 3 4 8 24 3 7 3 1 14-20 13-26 7-22 6-9 3 4 13 33 9 12 3 1 9 0 4-3 7-2 4 2 4-2 3 0 8 8 7 1 8 10 3-3 12 8 3 2 4 4 4 1 3 4 4 0 4 7 15 19 3-6 4 2 8 1 11-5 3 0 8-6 4 0 3-7 4 6 4-1 7 3 8-1 2 5 1 13 1-11 3 2 4-1 4 1 23-14 4-1 13 4 8 6 30 11 11 2 11 1 7-1 8-8 7-4 4 3 8 2 11 0 2 1 3 9 10 56 11 81 2-5 3-36 4-152 3-45 8 68 3 17 2 3 12-2 3 2 11-1 15 5 19 1 4 2 3-1 8 4 3-1 8 4 4 0 3 4 11 2 4 7 4 0 4 4 3-3 4-1 4 3 3-4 8 3 4-3 3 8 4-4 4 5 3-6 4 1 4-18 1 2 3-5 2 0 5 0 7 3 1 3 10 58 12 262 4 51 2-31 9-226 5-90 2-74 5-14 3-1 3 2 8 0 3 3 4 0 4 12 7 12 15 12 8 4 3 4 11 1 8-2 5 16 24 83 2 7 4 5 1 0 1-3 1-8 8-103 2 6 4 31 5 20 0 1 2-4 4-16 7-19 1 5 5 39 2 6 2-4 8-40 2-2 7 63 6-56 5-24 1-4 2-1 4 11 7 45 11 35 1 1 7 2 4-3 3 4 4 1 5-11"/><path class="c0" d="M209 1419l7-9 11-20 3 4 8 25 3 2 7-4 9-11 27-25 3 0 4 8 7 2 4 3 3 0 4 5 4-1 18-14 4-4 4-2 7-12 4 0 7-11 4-2 4 2 3-5 8-3 10 17 1 0 4-1 3 13 4 5 4 2 7 24 4 0 4 4 3-2 4 7 8-7 3-1 4 3 4-2 3 1 4-8 4 2 4-6 2 0 1 1 4 3 8-1 3 2 4-1 3 2 3 4 1 7 1-6 7 3 30-6 3 3 8 1 22 10 15 3 15 5 11-1 4 1 3-2 4-1 6-4 5-1 11 7 4-1 9 1 6 10 6 25 8 36 4 35 2 4 4-31 4-118 3-45 8 57 4 16 16-3 8 2 3 3 4 0 22 9 23 5 16 1 13 8 4 7 4-11 4 5 3-6 4 10 4-4 7 3 4-4 4 3 7 0 4 7 3-5 4 0 3-12 1-14 1 9 3-3 3 0 12 3 4 21 5 13 2 17 11 225 4 48 1-15 11-259 6-89 6-9 2-1 7 2 4 2 4 0 3 4 4 13 6 9 11 10 9 6 4 1 3 3 11-2 5-4 3 0 3 3 4 7 14 44 9 39 6 11 2-11 8-115 11 64 1-2 9-32 3-5 6 41 1 4 2 0 9-36 2-3 7 55 7-52 5-15 1-3 2 0 3 8 11 55 5 10 3 3 7 4 4 3 7-1 2 1 2-1 1-5"/><path class="c1" d="M209 1436l3-2 4-6 11-24 11 21 2 1 4-2 17-16 7-5 4-4 4 0 3-2 8 1 8 7 3 0 4-1 11 3 7-2 11 2 8-3 7 1 4-2 7 3 4-4 4 1 11 1 4 4 3 2 4 5 4-1 3 3 4-1 11 13 8 4 7-1 4-2 4 1 3-5 4 0 4 3 3 0 4-7 8-5 3-5 4 4 4 2 4-3 7-3 4 7 2 1 1 22 1-20 3 3 26-5 9 0 10 1 11 6 15 3 33 1 8 2 11-4 3-4 8 2 4 2 11-1 3 2 3-1 3 5 9 28 12 64 2-4 3-26 4-92 3-44 7 48 5 17 5 1 15-3 7 3 12-1 7 2 4-1 11 0 4 2 14 1 8 3 4 2 3 0 5 2 3 4 3 10 4 2 4 9 4-4 3 6 2 1 6-1 3-3 4 1 4-3 4 3 3-8 4 3 4-6 3 0 7-7 1-15 1 12 4-6 10-1 4 4 4 9 4 4 3 14 3 47 8 164 4 48 1-16 11-250 5-55 6-12 10-1 4 5 3 0 3 3 5 14 7 12 11 9 8 4 11 4 11-4 4-2 2 1 16 19 12 28 5 6 2-2 9-68 2 2 4 20 3 3 2 1 10-7 3 3 5 11 5 1 2 0 2-4 5-3 6 17 2 4 7-21 4-2 3 3 4-3 4 13 3 2 9 16 3 3 3 0 4 6 4 1 3-2 4 1 5-11"/><path class="c2" d="M209 1412l7-6 4-10 7-13 3 3 7 21 3 4 2 0 11-13 4-8 11-15 11-25 6-4 2 1 13 22 9 7 7-3 4-1 8-4 3-1 19-8 11 0 4 4 3 1 4-3 4 1 4-2 3 7 4 4 4-1 7 9 4 1 12 20 6 1 4 2 4-6 4-1 3-3 4 2 7-2 4 2 4-9 4 10 7 0 4 6 4-2 3 4 8 3 2 2 1 22 1-20 7 1 22-5 6 0 5 3 4-1 4 3 3 0 19 6 11 0 4 2 7-1 8 2 11-1 4 2 7-4 4-6 4 0 13 9 14 4 3 3 12 48 10 62 2-3 3-29 4-117 3-44 8 59 4 15 9 0 15 1 3-2 12 1 11-2 3 2 8-3 4 2 33 8 4 4 3-4 4 7 4-5 4 5 3 3 4-4 4 4 11-6 4 1 6 4 5 5 3-3 4 0 8-19 7 1 4 4 4 2 0 2 10 57 12 251 4 46 1-13 9-227 6-105 1-37 1-14 5-9 3-2 17 6 5 13 4 7 7 6 4 6 3 0 12 9 3 0 4 3 7-5 7 2 4 2 19 56 8 29 5 9 1 0 1-3 1-8 8-98 2 5 5 35 4 14 1-2 10-30 2 0 0 3 6 31 2 4 12-29 2 6 5 36 2-6 4-31 5-20 1-1 2 2 1-1 2 0 5 24 7 30 4 9 4 18 3 2 4 13 4-3 3 1 4 6 2-2 3-7"/><path class="c3" d="M209 1364l3-4 8-12 4-8 2-2 2 4 7 34 5 12 2 1 2-1 5-5 12-20 9-19 9-25 4-7 3 3 12 32 11 18 4-4 7 0 4-3 4 1 3-3 8 0 15 3 11 10 3-4 4 5 11 7 4-1 4 3 3-4 2 1 6 4 5 9 10-29 3 0 4-3 4-8 4 2 3 5 4-5 4 1 3 4 4 10 4-1 4 7 7 10 4-6 4 8 7 2 6 6 1 9 1-7 3 2 11-2 4-4 17-7 13 5 22 17 7 1 8 4 18 1 4-1 4 1 6-2 10-11 4-1 11 14 6 2 4 0 3 3 3 1 1 2 12 62 10 81 2 5 4-39 4-166 3-50 8 70 4 20 16-2 4 1 4-1 11 6 4 4 3 0 4 3 4 1 3 2 4 0 8 4 3-1 8 4 16 1 6 7 11-5 8-2 7 5 4-4 3 3 8 2 4-5 3-1 4 1 4 10 3-9 4 7 1-2 2-8 1-25 1 16 3-10 15 6 10 105 12 282 4 36 1-11 3-60 6-173 6-128 2-89 4-14 4 2 3-3 2 0 12 3 5 14 4 6 7 11 15 16 4 1 7 4 7-4 4 1 4-1 3 3 4 17 11 63 12 83 2 12 4 9 5-74 5-159 2 10 3 40 6 105 1-12 5-79 6-28 1-1 0 3 7 85 1 3 2-6 5-46 4-14 2 8 5 60 1 11 6-69 5-28 1-5 2-1 8 31 9 64 4 15 5 16 8 3 3 4 4-2 2 1 3-4"/><path class="c4" d="M209 1382l15-22 3-1 10 28 3 5 3-1 7-8 7-16 4-3 15-34 7-10 18 47 8 10 7 0 8-5 11-2 13-6 6 3 7-4 7 7 4-8 4 6 4 1 3-1 4 10 4 2 3 9 4 0 11 23 8 6 3-3 4 4 8-1 3 2 4-5 4-1 3-8 4-1 8-18 3 1 8-12 1 1 3-2 3-6 4-2 6 6 1 9 1-9 3-2 4 4 11 6 6 6 10 3 14 14 7 5 11 3 4 3 4-2 3 3 4-2 11 2 4-2 11 1 9-2 12-11 3-1 11 12 15 3 2 3 15 77 7 56 2 11 4-38 4-157 3-48 8 69 4 21 20-4 11 2 11 5 4 0 4 3 7 1 4 2 4-1 29 9 4-6 4 5 3 2 4 8 4-5 4 0 3 2 4-6 4 13 7-3 4 3 7-5 4 3 10-1 4-4 1-7 1 3 3-7 2-2 13 6 8 40 2 15 12 265 4 53 0 1 2-30 9-219 4-71 3-106 5-14 14-1 6 4 5 15 11 18 19 20 7 3 7-2 7-2 3 2 6 18 10 43 12 58 2 11 3 5 1 0 1-4 2-23 7-140 2 8 9 83 0 1 2-8 4-31 5-19 2-3 1 7 6 55 1 2 1-1 10-57 2 7 5 58 1 10 6-64 5-26 3-10 11 56 10 56 5 13 8 6 3 0 4 3 5-11"/><path class="c5" d="M209 1365l4-6 7-15 5-11 2-1 7 35 5 16 3 5 26-47 10-26 5-6 3 5 13 42 6 12 5 5 6 0 4-5 8-2 3-3 4 1 4-4 3-1 4-5 4 4 4-1 7 1 4-3 3 3 4-2 4 3 4-3 3 10 4-9 11-5 4-8 4 4 3-3 8 0 7-4 4 4 4-1 3 3 4-3 4 4 3 2 4-2 15 12 8 14 3 3 6 8 4 2 1 21 1-19 3 2 4 0 15-7 9-2 6 1 26 20 18 6 15 1 4-1 3 2 4-2 4 1 4-2 3 0 8-13 4 0 7 6 5 10 2 1 4-1 4 3 5 1 2 3 14 76 8 64 1 11 1 0 4-41 4-165 3-49 9 78 2 11 2 4 8-4 7-1 4 3 4 0 7 4 8 2 7 5 7 3 4 3 8 2 3 2 4-1 4 2 7 0 11 3 8 0 3-3 4 6 4-1 4-4 3 5 4-1 4-4 3 6 8-3 7 6 4 1 7-9 4-1 4-17 1 0 3-6 13 5 2 1 0 5 9 86 13 306 4 38 1-11 2-37 8-219 4-82 3-129 5-18 3-2 14 3 3 2 4 8 8 6 15 21 11 9 7 1 10-5 3 1 5 26 24 169 2 15 3 6 1 0 1-5 1-13 3-60 5-180 5 55 6 147 1-15 5-119 4-24 3-7 6 95 2 10 3-15 4-50 3-15 2-2 7 109 6-96 5-33 3-11 4 15 17 124 5 13 4 3 4 10 3-5 4 5 5-13"/><path class="c6" d="M209 1396l3-2 12-22 3-4 8 21 5 7 2 0 3-2 25-48 7-16 2-4 3-1 4 5 4 18 12 29 4 5 9 4 2 0 11-9 18-1 4-2 4 6 3-7 15 9 4-2 7 3 4-1 4 11 3-1 4 3 4 0 7 13 8 2 3-3 8 3 7-2 4-4 4-3 3 0 3-3 5-8 4 0 3-3 4 2 4-1 4 4 11-4 2 5 1 26 1-23 3 1 15-4 16-2 3 0 7 8 19 11 26 7 28 2 11-11 4-1 11 8 14 3 3 6 14 73 7 55 2 11 4-39 4-157 3-48 8 69 4 20 5 1 15-3 15 4 4 2 3 0 8 3 3 0 4 3 15 2 7 3 19 5 4 4 3-2 4 6 4 2 4-5 3 8 8-4 3 3 4-4 4 5 4-5 3 9 4-1 7-9 7-1 5-13 3 0 4 2 4-1 4 6 10 55 12 264 4 52 2-30 9-221 4-73 3-101 5-13 4 0 16 3 5 12 11 15 7 6 4 5 8 2 7 6 7-2 4-3 6 6 5 19 23 112 5 16 1 0 1-4 4-52 5-118 11 95 1-4 8-48 4-10 7 57 2 0 2-4 6-31 3-6 7 50 2-7 4-34 6-22 2-5 11 47 8 28 3 6 4 4 4 0 4 4 3-2 4 7 5-14"/><path class="c7" d="M209 1365l5-9 10-29 3-3 9 45 4 12 2 1 3-1 8-20 15-30 11-45 3-7 3-3 3 5 4 15 10 48 5 7 4 3 3-1 2-3 12-19 6-4 6-2 3 1 3 2 4-5 7 0 4-3 7 4 4-2 4 5 4-5 3 3 4-1 4 4 7 4 4 4 11 0 4 2 7 1 4 3 4-1 11 6 3-4 4 0 4 1 4 7 3-4 4 2 4 9 7 2 4 7 4 1 2 5 1 27 1-25 22 4 3-1 8 4 11 13 15 10 7 3 8 0 3-2 15-2 4 1 15-2 4 1 5-5 8-12 2 0 13 17 12 2 2 1 2 5 17 117 6 59 1 0 1-4 3-36 4-205 3-36 9 78 3 15 16 0 4 1 4-2 11 5 22 8 22 3 8 3 4-1 3 4 8 1 3 3 4-5 4 4 4-1 3 5 4-4 4 3 15-2 7 7 4-4 3 8 6-15 6-28 3 3 4-3 8 8 0 5 9 127 13 347 4 68 2-38 9-296 4-91 3-183 5-30 2-1 4 2 4-1 7 4 3 3 9 33 7 19 11 20 12 11 3 0 14-5 3 4 5 28 23 151 2 15 3 6 1 0 1-6 4-68 5-166 5 53 5 115 1 16 6-122 4-27 3-10 8 119 2-10 6-78 2-14 2-4 7 143 6-122 5-38 2-5 3 2 2 9 18 150 12 29 5 5 2 1 1-2 4-17"/><path class="c8" d="M209 1377l10-13 5-4 3-1 10 31 3 5 2 1 4-5 4-2 11-15 9-18 9-23 5-4 3 3 14 32 8 7 4-2 3 1 4-3 8-1 11-7 3 0 4-4 4 2 7-1 4-5 4 4 3 0 4 5 4-3 4 1 3-1 4 6 11 2 4-1 4 5 3-3 8 5 3-2 8-1 4-6 3 1 4 5 4 1 3-3 4 8 4 0 5 4 6 1 8 3 3 6 4-1 4 2 2 5 1 31 1-30 11 0 11-6 11-3 4 1 7 6 4 1 22 13 11-1 4 2 11-2 7 2 4-3 9 1 9-9 4-3 4 3 10 17 13 5 3 4 11 48 7 37 4 40 2 5 3-21 2-32 3-125 3-49 8 64 4 19 20-2 11 4 4 0 11 5 7 2 4 2 22 4 4 2 4-1 7 4 4 6 4-8 3-1 4 10 4-2 4 0 3 5 4-6 4 0 7 4 4-4 4-2 3 7 8-7 3 11 7-24 1-28 1 22 4-7 2-1 10 4 2 2 0 5 10 101 12 275 4 37 1-14 2-42 8-223 5-98 1-52 1-19 4-11 3-2 4 2 11-1 3 2 5 9 11 12 11 5 4 4 4 1 3 4 8 0 7-2 6 4 4 17 23 119 3 15 4 7 5-61 5-122 2 8 9 94 1-5 5-44 7-24 8 69 3-7 7-49 1-3 1 1 7 74 2-9 5-62 4-21 3-7 3 8 8 44 4 33 6 28 9 22 4-2 7 6 5-9"/><path class="c9" d="M209 1427l9-14 9-24 3 3 4 10 5 9 2 2 2-1 33-59 7-10 15 33 9 10 6 2 15-8 22 7 7 4 8 10 7-2 4 6 4 2 7 0 4 1 7 11 8 6 3 7 4 2 4 5 7-6 4 4 4-2 7-14 4 4 3-1 4-6 8 1 7-10 4 6 4-1 3-5 4 2 4-2 5 8 36-1 18 7 22 5 4 2 11 0 4 1 4-1 15 2 16-5 10 4 7 1 4 2 3-2 3 1 9 12 3 11 7 28 4 33 2 3 5-39 3-76 3-48 8 49 3 11 2 4 15-3 8 1 7 3 4-1 7 3 15 2 11 4 4-1 7 3 4-1 10 2 5-5 4 10 7 1 4 3 4 6 3-8 8-3 3 8 4 2 4-6 4 6 3-3 4 2 4-2 3 3 4-4 3-1 5-15 7 5 8 2 10 26 4 61 8 167 4 52 0-1 1-13 11-251 6-85 6-9 2-2 3 2 4-1 10 9 6 16 10 14 7 6 4 5 8 1 3 5 3 0 14-6 6 1 17 35 9 23 6 8 10-78 6 23 5 6 2-2 4-9 4 6 3-1 1 2 5 6 6-3 3 2 5-4 7 19 6-16 5-2 3-6 2 0 2 1 4 11 3 5 4 2 4 8 4-1 3 6 4-2 4 5 8-1 4-8"/><path class="c10" d="M209 1441l3-3 9-15 6-24 2 1 9 19 2 0 7-8 10-20 11-18 9-11 3-2 4 3 14 28 13 13 5-1 4-4 8-2 11-6 3 2 8-4 4 5 7-3 7 3 4 0 4 4 4 1 3-4 4 7 4 0 3 4 4 1 8 8 3 2 8 11 3-3 4-5 4 0 7 3 4-3 4-7 3 0 4-3 4 4 7-6 4 1 4-3 4 3 3-3 8 4 2 0 1 20 1-18 4 2 14 1 15-3 15 6 33 11 11 0 4 1 19 1 14-5 15 6 4-2 4 3 3-1 8 7 6 14 7 27 5 36 2 3 5-40 3-74 3-45 5 34 7 27 9 1 7-2 4 2 10 1 9 2 18 1 8 0 7 3 4 0 15 3 7 6 4-2 3 1 4-3 8 12 11 4 3 0 8-5 4 3 3-3 11 0 5-5 2-4 1-15 1 11 5-9 6 0 7 4 0 2 10 48 12 233 4 42 1-17 11-268 5-64 2-8 4-7 6 0 14 5 5 13 7 9 11 5 8 5 10 4 8-2 4-4 6 3 5 9 8 21 6 21 9 35 2 8 3 4 2-3 1-8 8-106 5 33 6 21 1-2 5-17 7-10 6 25 3 3 3-2 2-9 5-8 6 24 2 5 7-28 7-10 8 19 7 15 4 12 4-2 7 4 4 5 3-4 4 2 1-1 4-10"/><path class="c11" d="M209 1422l3-1 15-31 11 24 2 2 3-1 15-18 6-10 4-3 8-12 3-10 5-4 15 18 10 5 22-11 8 5 7-2 2 1 6 7 3 0 4 6 4-3 3 4 12 4 3-3 4 3 4 6 3 2 4 0 4 8 7 10 4-2 4 5 11 1 4-5 3 2 4-2 4 1 11-11 4-1 6-6 1 0 4 5 4-7 7 6 4 0 2 0 1 39 1-37 4 2 10-1 4 1 7-1 11 2 15 8 12 2 11 5 15 3 7 3 7-1 13 1 13-7 8 1 7 4 11 0 3 2 4 7 7 22 7 29 6 43 2-4 3-26 4-105 3-45 8 53 4 16 1 0 4-2 4 1 18-1 4 2 11-2 4 1 7-1 19 5 7 0 8 1 5 4 6-3 4 8 3 3 4-3 4 2 4-1 3 3 4-4 11 6 4-3 4 5 3-4 4 0 4 1 3 8 7-10 1-12 1 7 3-5 3 2 12 3 4 18 5 10 2 16 3 54 8 166 4 47 1-15 11-258 5-66 2-9 4-8 6-2 4 1 7 5 3 0 9 19 11 8 3 5 4 0 8 5 6 2 5-3 10-2 5 2 3 8 11 35 12 53 6 10 3-24 7-108 6 44 5 21 1-2 8-27 4-6 7 34 2 1 2-3 4-16 5-3 2 4 4 22 1 5 6-28 6-13 2-3 3 3 18 57 5 13 4-1 4 10 3-6 5 1 1-1 3-7"/><path class="c12" d="M209 1406l3-2 13-19 2-1 3 5 9 25 2 3 3 0 32-32 7-5 15 14 15 10 7-6 11-3 4-3 4 0 3-2 4-1 4-4 4 7 3-4 4 5 7-1 4 2 4-5 7 9 4-4 4 9 7 4 4 5 7 3 4 8 7-1 4 1 3 0 5-4 3 0 8-5 3 0 4-2 4 1 9-5 6 2 4-1 7 6 4-3 2 3 1 7 1-4 3 1 4-2 11-2 11-8 11-5 11 3 12 5 3 5 11 2 8 5 15 4 7 0 8 2 15-10 17 4 10 0 4 8 9 41 12 73 2-5 3-30 4-121 3-42 8 59 4 16 5-1 4 2 9-1 17 2 15 3 11 1 4 2 26 3 11 8 7 1 5 5 6 4 4-5 7 4 8-4 4-5 3 1 4 8 4-1 3 5 4 0 2-4 2-12 1 2 3-9 14 4 1 2 4 12 4 5 3 19 3 52 8 167 4 54 1-15 11-249 6-91 4-11 3-1 8 3 4-1 3 1 3 2 9 21 11 9 7 3 8 5 7 3 7-4 4 1 4-3 1 1 4 10 13 39 12 38 5 9 1 0 1-3 1-7 8-96 2 6 4 33 4 10 1-1 5-12 8-10 1 3 7 23 5-9 7-8 7 24 6-21 5-11 1 0 4 2 2 3 7 15 8 22 4 5 7 6 4 4 5 2 3-1 4-11"/><path class="c13" d="M209 1437l12-20 6-19 12 26 3 3 11-15 15-13 8-9 7-5 4 2 3 4 11 3 4 4 8 2 15-8 11-2 3 0 4 1 4-2 4 4 3-2 4 2 4 5 3 0 4-3 4 4 15 6 3 4 4-1 4 10 9 9 3 1 6-3 4 5 8-4 3 0 4-3 4 2 3-7 4 3 4-9 7-11 4 6 4-5 4-1 3 4 4-2 6 6 1 8 1-7 14 1 4-1 4 2 3-1 19 8 7 2 4 0 4 4 15 2 3 2 4-1 4 3 7-2 15 3 8 0 15-8 7 1 7 4 4-2 7 0 3 2 2 3 8 21 8 36 6 39 2-4 3-27 4-96 3-43 8 52 3 12 2 2 15-1 8 2 7-2 11 4 11 2 8-1 4 3 11 2 3 0 4 2 11-1 4 6 4-2 7 1 8 7 3-5 8-1 3 7 4-4 4 6 7-5 4 8 4-13 6 11 1 1 1-1 2-4 1-17 1 11 3-6 2 0 9 4 7 5 4 0 2 2 5 52 9 168 2 27 1 9 12-249 4-44 3-11 4-8 3 0 17 5 5 14 4 7 7 4 4 4 3 1 4 4 16 4 3 0 3-3 7-2 5 2 14 33 12 40 5 8 2-3 1-6 6-78 2-9 5 26 4 11 2 3 5-8 6-3 6 2 4 14 6-12 6-1 7 17 6-16 6-5 4-1 2 1 7 13 4 12 8 8 7 4 4-2 9-1 3-7"/><path class="c0" d="M209 1415l11-12 4-12 3-3 3 4 5 14 7 12 11-11 4-6 4-2 19-28 6-4 4 4 4 2 4 5 4 1 3 4 8 0 7-5 11-3 8 5 3 1 4 4 8 0 7 3 8 6 11 6 3-4 4 7 4-2 3 6 4 0 4 12 4-3 3 5 4-2 4 1 3 4 8-6 7 0 4-3 4 5 3-8 4 1 4 5 4-5 7-8 8 10 3-6 4 3 6 2 5 5 19-3 3-3 4 0 8-4 13 3 13 3 3 4 4-1 7 5 4 0 4 3 15 3 3 0 12 1 7-5 8-2 14 7 13 1 5 6 8 22 6 26 5 37 2 3 5-42 3-84 3-47 8 53 3 13 2 2 15-2 4 2 4-2 2 0 13 4 7 1 4 3 3 0 8 2 4-1 7 3 11 0 4 3 5 0 6-2 4 8 3-7 4 12 4-9 4 8 3-2 4-8 4 7 3 2 4-3 4-5 4 6 3 4 4-3 4 5 6-2 5-13 5-6 10 1 4 7 10 40 4 80 8 181 3 47 1 12 4-67 7-175 5-92 2-87 3-12 3-5 2-1 7 2 10 9 5 18 7 19 10 16 9 10 6 5 7 1 2 0 3-4 6-2 2-1 3 3 8 15 7 18 12 37 5 10 1 0 1-3 1-6 6-80 2-10 5 29 4 12 2 3 1 0 11-21 1 0 8 38 7-21 4-17 1 1 6 41 1 6 7-46 7-20 15 59 8 21 7 0 7 7 5-3 4-10"/><path class="c1" d="M209 1440l7-7 10-21 2 1 10 14 4 1 4-4 4-1 7-9 15-7 7-8 4 0 4-2 4 3 11 0 8 5 6-3 4 1 4-5 25-4 5 4 11 0 3 2 8 2 4 3 3 0 8 6 3 7 4 2 4-1 10 12 5 3 3-2 4 1 4-2 4-5 3 5 8-6 3 2 4-5 4-8 7-1 4-4 4 5 4-6 3 4 4 2 4-4 2 3 1 6 1-4 3 3 8 2 11-1 29 6 4 2 8 0 3 2 15 0 11 1 4-2 22 0 11-5 12 6 7 0 4 3 3-2 6 6 6 11 4 15 6 24 4 33 2 2 5-40 3-77 3-45 8 50 4 13 13-2 7 2 4-1 3 3 4-1 4 3 7 1 8 3 7 0 4 2 4-1 7 1 11 4 4-2 11 5 4-1 3 13 4-7 8 12 3-11 4 5 4-4 3 4 4-1 4-7 4 5 3-1 4 7 4-8 3 5 7-6 1-17 1 12 3-7 3-1 4 3 4-1 4 4 4 9 5 7 2 12 3 46 8 165 4 47 1-16 11-252 5-52 6-12 10-2 10 9 5 14 7 12 4 3 4 0 3 5 8 5 4 1 3 2 19-5 6 4 12 16 12 27 6 7 7-58 3-13 10 29 7-9 4-1 3 0 3 7 5 14 7-12 4 5 2 0 6 16 6-21 3-4 3-1 4 2 6 7 11 23 7 10 8-2 3 5 5-4 4-12"/><path class="c2" d="M209 1398l18-24 11 31 3 4 3-1 9-11 8-12 9-12 9-17 4-2 19 29 7 4 4 3 3-4 15-8 4 2 4-1 3-2 12 1 7 5 7 0 8 7 5-2 10 6 7 5 8 12 7 6 4 5 3 1 4-6 4 4 4-3 3 0 11-12 4 3 4-5 4 0 3-12 4-5 8 2 3-2 4 4 4-2 2 1 1 21 1-19 4 3 7 1 7-1 4-2 11 2 26 17 4 0 7 4 4-3 3 2 12 0 3-1 4 2 11-3 10 1 8-7 3-1 13 14 16 7 3 4 10 32 12 69 2-4 3-27 4-105 3-44 9 60 2 7 2 3 4-2 4 1 4-1 11 1 3-1 4 2 37 6 8-1 7 3 9-1 6-2 4 7 3-7 4 7 4 1 4-3 3-7 4 7 4-4 3 5 4-5 4 1 4-3 3 4 4 0 4 7 3-7 3-2 2-2 2-6 1-12 1 5 3-9 7 1 8 5 0 4 9 88 13 279 4 33 2-37 10-269 4-71 1-38 1-12 3-7 3-2 5 0 14 2 9 18 7 6 11 6 4-1 4 3 4 2 7 0 3-3 4 3 4-4 1 1 3 10 7 26 19 95 2 9 3 4 1 0 1-5 1-10 8-152 11 89 1-4 5-28 7-23 7 52 1 2 4-17 3-7 3-10 2-2 7 41 2-6 5-35 7-18 2 2 2 6 16 68 8 7 9 3 4 6 3-4 2-7"/><path class="c3" d="M209 1435l8-11 9-27 2 0 7 15 7 10 19-30 3-2 14-21 6-5 3 1 4 9 10 12 9 5 3 0 3-3 4 0 4-3 5-2 6 0 11-2 11 5 4-1 4 8 3-7 4 1 8 7 3-4 4 7 4-2 3 7 12 13 12 9 14-3 11-6 7-6 4-7 7-7 8 1 7-3 4 0 4 2 2-1 1 28 1-25 3 4 22 2 4 4 8 3 5 5 17 5 4 3 14 0 12-2 3 0 4-1 4 2 5-3 11 0 10-7 4-1 11 8 16 5 3 5 13 54 9 59 2-4 3-29 4-123 3-44 8 59 4 17 13 0 11-1 3-1 4 1 26-1 15 3 15 4 10 6 5-2 3 11 4-3 4 6 4-11 3 11 8 4 3 4 4-3 4-9 4 4 3 1 8-5 3 2 3-4 4-13 1-24 1 17 4-10 1-1 13 2 9 101 13 281 4 31 2-40 10-278 5-101 1-10 4-9 7 1 11 4 3 0 5 15 4 2 7 10 4 1 3 4 15 7 5 1 3 0 3-4 7-2 4 3 4 11 8 25 15 70 3 9 2 2 2-4 1-8 8-134 11 78 1-3 9-42 3-7 1 7 7 53 9-46 3-7 7 65 6-55 5-26 3-10 15 80 7 22 4 9 8 2 3 5 5-3 4-9"/><path class="c4" d="M209 1437l12-16 6-22 12 24 3 1 22-26 15-11 6 2 12 12 17 5 6 0 4-2 4 0 15-12 3 1 4-4 4 1 3-2 4 1 4-6 3 0 4 6 4 1 5 0 6 2 7 13 4 1 4 5 4 10 11 9 3-2 8-1 4 3 7-6 4 0 3-2 4-9 4 7 4-7 7-4 4-5 4 4 7 0 6 2 1 2 2-1 6 3 11 0 4-3 15-2 7 2 7 4 4 0 12 5 22 2 7 2 4-1 3 1 13 1 10-5 2 0 13 5 3 5 8 0 6 2 4 5 6 12 5 20 9 51 2-3 3-25 4-85 3-45 8 49 4 13 20 0 7 2 4-2 8 3 3-1 4 1 19 1 29 8 4-3 7 8 4-1 4 6 7-7 4 8 4 0 3-4 4 10 8-3 3 3 4-5 11 1 3-8 1-12 1 7 3-4 3 1 8 4 4 0 3 6 6 3 5 50 8 141 4 45 1-17 6-148 5-82 3-26 8-8 10 0 10 4 5 11 7 5 4 5 4 0 22 8 15-6 11 16 11 25 8 22 4 8 2 0 1-3 9-75 5 19 6 13 2 0 3-7 5-6 3-1 1 2 7 20 11-22 7 34 1 3 5-25 6-21 3-3 3 5 12 43 7 14 1 1 3 0 4 8 4 1 3 4 5-4 4-12"/><path class="c5" d="M209 1432l9-12 9-22 11 26 4 3 8-5 11-12 3-1 8-4 4-4 7-6 4 2 3-1 4 3 4-2 11 6 7 0 4-1 4-4 15-5 3-2 12-2 3 3 11-2 4 4 8 5 11 5 3 6 4 1 11 14 4 2 4 5 3-3 4 3 4-3 4 1 3-6 4 0 4-2 3 3 4-2 4-2 7-8 8 1 4 5 3-5 4 1 4 3 3 11 1-2 18-4 7-3 12-1 14 4 12 2 14 5 12 1 3-2 8 2 3-1 12 2 18-5 11 5 8-1 6 3 9 12 3 10 6 22 6 39 2-4 3-23 4-81 3-45 8 49 3 11 2 2 4-2 11 1 4-1 26 6 7-1 4 2 34 7 3 4 4-5 4 8 2 0 1 0 4-3 4 3 4 1 3 2 4-4 4 0 3 5 4-5 4-1 4 1 3 4 4-6 4-2 7 9 3-9 1-11 1 3 4-9 2-1 6 1 6 7 10 45 12 224 4 39 1-19 11-264 4-47 7-14 3-1 17 6 6 16 10 12 7 3 4 3 4 1 7 4 8 0 3-3 8-4 5 5 13 23 12 37 2 6 4 3 10-91 6 29 3 7 2 4 2-2 3-8 5-6 5 6 6 9 4-3 3-5 5-2 3 5 3 13 1 3 6-16 5-6 3 0 4-2 4 10 7 7 7 13 8 10 7-1 5-2 4-10"/><path class="c6" d="M209 1428l7-9 9-24 2-2 3 3 5 13 5 8 3 0 3-2 24-32 10-18 5-3 5 2 9 10 7 4 7 1 15-9 14 2 4-1 4 8 4-5 3 6 4 0 7 4 8 8 4-10 11 15 3-4 4 0 8 15 11 3 3-3 4 3 4-2 4 3 3-9 4 0 7 6 4-7 4 5 4 0 3 2 12 4 3-4 4 2 6 5 1 7 1-5 7 1 4-1 18-1 4-2 4 2 14 3 4 3 8-1 22 6 7-2 25 2 9-7 7 0 4 1 4 4 3-2 13 4 6 8 9 37 10 59 2-3 3-28 4-104 3-45 8 55 4 14 5 1 15 0 4 2 7 1 4-2 15 5 7-1 8 1 3 2 4 0 20 3 13 4 4 6 4-5 22 9 4-1 4-5 3 3 4 7 4-1 3-7 5-2 2-2 1-17 1 13 3-5 3 4 4 1 4 2 4-1 4 8 5 3 1 4 4 53 8 167 4 52 0-1 1-14 11-247 5-58 2-9 5-9 2-1 17 4 9 19 7 8 15 6 4 5 3-1 5 1 12-3 4 1 17 41 7 21 6 13 3 2 2-2 1-7 8-75 10 35 1 3 2-2 4-11 7-7 6 25 1 2 2 1 10-25 2 4 6 31 7-31 4-3 3-7 8 17 7 22 7 10 4 1 4 3 4 2 3-4 4 4 5-13"/><path class="c7" d="M209 1407l11-12 4-11 3-3 11 29 3 2 4-2 23-30 9-21 4-6 4-3 9 10 4 8 8 6 4 1 18-7 3 0 4-2 4 4 3 0 8 5 4 4 11 6 7 2 4 2 7 0 4 5 4-1 7 7 8 2 7 12 4-5 3-1 4 3 8-6 3 5 4-8 7-1 4-2 4 6 7-7 4 11 8-3 7 8 4-3 7 6 19-5 15-10 11 3 18 8 4 0 7 3 19 3 4-2 17 1 5-3 6-8 3 0 13 9 11-1 3 3 2 6 11 56 10 73 1 10 1 0 4-38 4-158 3-49 8 70 4 20 20-3 9 3 10 6 26 11 3-2 8 5 7 0 4 2 6-1 7-3 2 1 3 8 8 3 7-4 4 6 4-2 7 2 4 0 4-8 2 1 5 2 4 11 7-13 3-1 1-4 1 2 4-5 2-1 12 6 9 34 2 19 11 232 4 52 1-12 10-240 5-78 1-38 1-14 5-11 3-2 3 0 8 5 6 1 5 14 3 3 12 13 11 6 7 7 8-3 3 0 5-3 3 0 2 3 9 28 19 86 5 13 1 0 1-3 1-10 8-137 9 67 2 11 10-48 3-9 1 8 5 51 2 8 9-48 3-6 7 66 6-58 5-29 1-4 2-1 2 3 2 8 16 88 6 10 11 10 4-5 2 1 2-1 1-3"/><path class="c8" d="M209 1421l12-16 6-16 11 28 4 5 8-6 7-11 11-8 7-10 8-6 7 8 8 3 11 9 7-1 8-6 7-3 4 1 15-8 4 4 3-2 8 4 11 1 4 3 3-6 4 9 4 1 3 5 4-4 4 16 4 1 3 3 4 1 4 4 3 3 4-7 8 3 11-4 3 2 4-7 4 0 4-5 3-1 4 3 4-5 4 1 3 5 10 1 1 8 1-8 7 4 22-2 4-1 7 3 8 1 11 5 11 2 7 2 8-1 4 2 3-1 8 1 7-1 4 1 7-1 9-4 6 0 11 8 12 0 7 8 9 26 5 21 4 31 2 3 5-40 3-73 3-45 8 48 3 12 2 2 38 1 14 4 15 0 4 2 4-1 7 1 9 3 6 6 4-2 3 5 4 1 11 4 4-1 4 9 3-9 4 6 4-3 7 3 4-7 4 6 3-2 4-7 3 4 6-14 2-1 4 1 4 0 4 4 4 10 4 4 3 15 4 69 8 168 2 27 1 10 12-261 6-89 5-11 10-2 7 6 12 28 10 13 8 6 4 6 4 2 3-1 8 2 11-8 5 4 10 18 3 11 12 54 3 8 3 4 2-12 8-118 6 45 5 18 2-4 4-16 4-6 3-1 6 20 3-1 4-5 7-3 6 16 1 2 6-20 5-8 3 3 2 0 2 1 4 16 3-3 4 13 8 14 7 5 4 5 3 1 4 6 5-19"/><path class="c9" d="M209 1412l3-8 8-6 4-12 3-2 11 27 2 2 6 0 7-11 8-7 18-26 4-2 11 17 15 13 7 0 4-2 8-6 7 1 4-1 7 4 8-1 3 4 4 1 4 5 7-2 4 5 4 2 3-3 8 8 7-2 4 4 4 1 3 6 4 3 4-1 3 3 4-5 4 1 7-3 8 1 3-2 4-5 11-6 4 3 4-1 4-4 3 7 4-5 4 5 2 0 1 16 1-14 3 2 4 0 15-2 3-2 9-1 32 8 4 3 4 0 3 2 23 5 3-1 4 2 8-2 3 0 9-4 3-1 13 7 15 3 6 6 4 8 4 15 5 20 4 33 2 3 5-39 3-72 3-46 8 49 4 13 1-1 8 2 4-2 7-1 4 2 7-1 15 0 4-1 3 2 15-1 4 3 4-1 3 2 13 4 6 4 7-2 4 11 11 7 4 1 7-6 4 4 4 0 4-2 3 2 4-13 11 12 4-16 5-9 10 0 4 3 0 2 10 52 12 238 4 41 1-17 11-269 5-72 1-6 5-8 3-1 7 3 4-1 6 5 5 15 4 7 11 13 7 2 4 7 4-1 5 3 7-1 7-5 5-1 2 2 14 28 14 51 4 6 5-39 3-61 2-13 5 30 6 27 2-1 8-31 3-7 1 5 5 39 1 5 2 2 10-46 2 7 4 40 2 15 6-53 5-21 3-8 3 8 8 47 11 28 1 1 7 1 4-2 3 5 4-1 5-13"/><path class="c10" d="M209 1380l11-18 4-5 3-2 2 3 9 25 3 3 3-2 24-68 10-33 5-7 4 8 13 59 5 13 5 3 4 0 10-7 4-1 7-7 9-4 6-6 4 4 3 0 15-7 4 3 4 2 3-3 4 2 4 6 3-2 19 17 4 0 7-3 8-1 3 4 4-1 4 4 3 0 4-3 4 3 4-3 11 14 4 7 3-3 4 4 4-3 3 9 1 0 4 5 7 2 7-2 11 0 8 4 3 5 8 6 15 8 3 0 8 2 15 0 3-2 8-1 3 3 8-3 6-1 10-13 5-2 11 13 11-1 3 2 2 4 14 90 8 71 1 11 1 0 3-25 2-40 3-174 3-39 9 80 3 14 13-2 14 2 19 8 7 1 15 4 8 4 3-1 4 3 4-1 7 1 4 3 4-1 3 5 4-1 4-5 4 9 3 3 4-11 11 6 4-2 4 2 3-4 4 4 4 2 3-4 4 4 3-14 1-16 1 8 4-9 6 1 8 5 9 107 13 303 4 32 1-12 3-61 7-203 5-107 2-92 4-13 7-3 11 5 4 0 8 17 3 2 4 7 11 10 4 5 4-1 3 5 4-2 4 2 3-1 4-4 6 6 3 13 13 68 12 69 2 12 4 8 3-33 7-169 6 51 5 67 1-6 5-57 6-29 1-2 0 2 6 80 2 10 3-11 7-65 1-4 1 0 7 108 6-94 4-24 4-17 2 3 2 9 14 106 5 26 3 7 4 1 4 7 3 2 5 0 4-10"/><path class="c11" d="M209 1418l7-9 11-22 3 4 9 21 3 3 19-23 11-16 4-8 6-4 3 1 6 13 11 13 3 1 8 6 3-4 15-9 4 0 11-6 4 1 4-6 3-1 4 2 7-3 4 8 4-3 7 4 8 11 7 2 4 14 4 0 5 10 9 9 4-3 4 6 11-9 4 3 3-1 4-9 8-8 3-2 4 1 4-7 7 2 4-4 4 6 2 0 1 17 1-15 3 4 4 2 4-1 3 1 8-2 3 3 4-1 8 2 7 6 15 3 4 3 3 0 4 2 11 3 11 0 4 2 20-1 10-6 6-1 9 3 14-3 3 2 2 3 8 28 8 42 5 34 2 9 4-32 4-122 3-44 8 59 3 13 2 3 4 0 4-2 4 2 14-1 19 6 26 4 4 1 3-1 12 4 7 4 4-3 3 11 8-8 4 15 3-15 4 15 7 1 8-5 4 4 7-9 4 5 7-5 3-9 1-27 1 23 6-3 6 1 6 4 9 34 5 77 8 160 4 47 1-17 11-260 5-69 2-8 5-9 2-1 7 4 4-2 6 2 5 14 4 2 3 4 4 1 4 4 7 3 8 0 7 4 11-5 5 1 5 13 12 47 12 57 2 8 4 5 3-26 7-127 8 64 3 14 1-3 8-32 3-6 2 6 6 29 2-1 10-25 2 3 5 25 1 4 5-22 6-17 1-3 3-1 3 5 4 22 3 7 4 13 4 3 4 8 10 7 9 4 4-9"/><path class="c12" d="M209 1409l7-9 8-16 2-3 3 2 5 14 5 11 3 1 2-1 20-29 8-15 7-21 6-6 2 1 11 20 12 10 3 0 7-5 8-2 7 0 7 1 4 4 4-1 4 3 7 1 4 6 7 5 8 0 7 11 4 3 3-3 8 10 4 10 3 2 4 6 2 1 9-1 4-6 4 5 7-4 7-8 8-2 7-12 4 1 4-5 4 4 7 0 4-4 2 4 1 19 1-16 3 2 4 1 7-2 8-5 14 0 15 11 15 8 11 5 4 0 4 3 11 4 11 3 8 1 11-7 6-1 5 2 5 4 6 0 9 2 4 7 9 32 12 70 2-4 3-27 4-113 3-45 8 57 4 15 13 0 7 2 7-3 8 1 7 2 8-1 18 4 4-1 4 1 7 0 4 2 7 0 8 5 3-4 8 8 4 1 7-4 4 0 3 5 8-3 4 2 3-1 4 2 4-1 3-4 3 0 2-2 7-26 3 2 4 0 3 1 5 4 0 4 9 88 13 293 4 35 1-14 2-41 8-223 5-100 1-55 1-19 4-11 7-2 14 5 5 16 7 12 11 12 4 2 8 7 7 3 4-3 3 1 6-3 5 3 15 51 12 52 3 8 3 4 3-24 7-112 11 73 1-3 8-42 4-12 1 8 5 50 1 6 1 1 1-1 10-53 2 7 5 56 1 10 7-75 7-25 15 80 6 18 13 10 3 0 5-1 4-9"/><path class="c13" d="M209 1385l3-1 8-14 4-2 3-5 10 28 3 5 3 1 19-26 18-45 5-6 2 2 11 24 11 16 4 0 3-3 4 0 4-4 5 2 2-1 4 1 7-1 4 8 4-5 7 9 4 0 4 5 3 0 4 4 4-1 4 6 3 0 4-4 4 5 15 11 3 7 8 3 3 3 8-10 4 2 7-4 7 1 4-6 8-2 3-5 12 8 3-3 4 4 4 8 2-2 1 22 1-21 3 2 4 0 4-2 7 0 7-4 8-1 7 4 11 8 23 9 15 0 7 2 20-1 6-5 6-8 2-1 12 11 6 2 9 1 2 2 15 80 8 64 2-5 3-35 4-153 3-46 8 67 3 17 2 4 23-1 15 4 3 3 8 1 3 3 4 0 11 3 26 4 8 8 3-6 4 11 4-8 4-2 3 9 4 3 7-8 4 5 4-7 4 1 3 6 4-6 4 8 6-5 4-11 1-23 1 16 3-4 3-1 4 4 4-3 4 7 9 59 13 280 4 46 0-1 1-11 2-40 8-209 5-93 2-76 5-12 6-2 14 3 5 13 11 18 19 16 3 2 10 0 6-2 4 1 6 16 23 97 2 10 3 4 2-4 4-44 5-103 11 84 10-41 3-6 1 5 7 40 2-1 2-4 6-30 2-3 7 53 6-42 4-17 2-7 3 1 3 7 12 55 7 20 3 6 11 6 4 5 5-14"/><path class="c0" d="M209 1422l12-18 4-12 2-2 3 5 5 13 4 8 2 1 4-1 8-9 4-6 4-1 7-12 4-2 11-17 2 0 9 10 8 5 9 2 5-2 8-7 4 1 3-2 4 0 7-3 4 2 8-4 3 2 4 5 4-3 7 4 4-5 4 6 7 3 7 12 4 1 8 11 9 9 5 3 2 0 2 0 4-5 4 7 3-7 8 2 7-6 4 2 4-5 3-2 4 4 8-4 13 11 1-5 1 5 3-1 15 2 4-1 7 1 4 2 5 1 7 3 25 6 11 0 4-1 7 2 8-3 3 2 4-2 8 2 15-7 7 4 11 4 4-1 6 3 4 4 10 30 10 57 2-4 3-25 4-93 3-45 6 41 6 24 24-1 3 1 23 0 3 1 8 0 15 3 11 0 4 2 3-1 4 4 4-2 3 6 4-2 4 3 4-4 3 10 4-6 4 1 3-3 4 5 4-1 4-5 3 7 4 0 4-4 3 11 7-13 1-17 1 12 3-5 11 4 4 4 10 41 4 73 8 165 4 47 1-15 11-261 5-81 1-8 4-10 11 0 10 4 9 21 11 12 3 1 4 4 11 7 6 0 9-6 4 1 3 2 15 37 12 44 5 10 1 0 1-3 1-8 8-100 6 36 5 13 0 1 2-3 4-15 7-7 1 4 7 26 5-13 7-3 2 3 4 20 1 4 7-34 7-11 15 42 4 19 7 19 11 8 4 1 5-12"/><path class="c1" d="M209 1418l7-11 8-22 3-4 7 14 4 7 2 0 5-4 26-54 6-15 4-7 3-1 3 3 3 13 9 20 10 13 4 1 7-3 4-4 4 0 3-1 4 2 4 0 15 9 3-3 4 11 4 0 3-1 4 4 8 0 11 9 3-1 4 0 4 3 4 1 3 7 4 1 7 4 4-7 4 1 4-4 7 3 7-5 4 0 8-4 7 3 15 14 4-5 2 1 1 26 1-23 3 4 5-1 28-8 12 4 7 1 4 4 4-1 3 3 8 1 3-2 4 0 11-2 4 0 11-2 4 1 4-3 4 0 7-7 2 0 4 4 12 17 8 2 6 4 3 5 12 43 8 48 2 10 2-10 3-35 3-100 3-47 8 57 4 16 13-3 7 0 15 4 4 0 11 4 3-1 30 7 19 6 3 12 4-11 8 10 3-9 4 6 4-2 3 2 4 8 4-12 4 7 3-8 8 5 3 5 7-15 1-33 1 24 3-10 7-2 8 5 1 12 9 83 12 263 4 38 2-36 8-221 6-113 1-41 1-14 4-9 7-2 8 4 3-2 3 2 5 15 4 7 7 8 11 7 4 6 11 4 7-2 4-5 6 3 3 8 13 40 12 47 6 11 3-22 5-90 2-14 9 60 2 8 13-45 1 5 7 49 2-4 8-44 1-3 1 1 7 65 2-8 5-56 4-18 2-2 2 1 2 5 18 90 2 3 3 2 4 11 4 0 3 3 4-2 2 2 2-1 1-2"/><path class="c2" d="M209 1428l3-4 7-11 8-23 10 19 3 4 2 0 19-27 3-8 12-17 7-7 11 23 4 3 7 13 2 1 4 1 4-1 5-2 4-4 5-2 10 2 7 0 4 3 4-2 3 0 4 4 4 1 3 0 4-2 4 2 4 8 3-1 4-5 4 9 3-3 4 6 4 2 4 7 11 7 3-1 4-4 4 3 4-5 3 4 15-9 8-2 3 0 4 3 8-5 3 3 8-1 2 5 1 23 1-21 7 1 4-1 3 1 15-2 4-3 22 8 22 4 15 0 4-2 11 0 4 2 20-7 13 8 14 4 3 4 9 27 6 27 5 40 2 4 2-9 3-36 3-97 3-47 8 56 4 16 5 0 11-4 4 2 4-2 11 3 11 0 4 2 18 3 8 3 3 0 4 2 8 1 3 4 8 0 7 6 8 0 3 6 8-5 7 7 4-6 7 1 8 7 3-6 4 1 3-4 1-31 1 28 5-3 13 4 4 13 4 6 2 8 4 65 9 197 3 43 11-235 5-81 2-71 5-18 6-1 14 4 9 19 14 15 4 1 4 4 11 6 4-2 7 2 4-1 1 1 3 7 25 96 5 11 2 1 2-12 8-106 10 58 1 1 0-1 6-20 7-13 1 5 5 29 2 5 12-34 7 47 7-48 7-19 3 7 5 23 14 55 3 9 1 2 4-1 4 6 3-1 4 3 5-13"/><path class="c3" d="M209 1426l10-16 8-22 2 2 8 18 3 3 2 1 35-61 4-4 4 4 12 30 8 12 4 3 7-1 4 0 8-7 7-3 4 1 8-5 3 0 4 2 7-2 4 0 3-1 4 8 8-5 3 7 8 0 3 8 8 1 4 12 3 6 4-3 4 5 7-2 4-3 4 2 3-3 8 0 3-4 8 0 4-9 3 11 4-2 11 0 4 2 4-5 3 11 1-1 3 1 11-2 22-9 12 2 15 6 3 0 8 6 3 0 12 4 3 1 4 3 7-1 13 1 10-7 7-2 4 2 20 2 4 7 9 40 12 76 2-4 3-31 4-128 3-44 9 66 2 9 2 3 19-1 7 3 8 1 24 7 6 0 7 3 7 0 8 3 9-1 17 11 4-2 3-8 4 0 4 10 3 4 4-5 8 1 3 4 4-6 4 1 3-2 4 4 4-16 5-10 5 0 5 1 4 3 0 3 10 65 12 246 4 45 2-35 10-254 6-103 4-9 4 1 11-2 6 1 5 12 4 4 8 4 14 3 7 5 11-1 8 3 4 8 11 42 11 34 4 11 4 5 2 0 2-10 6-82 2-7 4 23 7 25 1-1 12-30 8 49 2-3 8-38 2-2 7 55 6-51 5-22 1-1 3 3 2 5 8 45 11 12 4 4 4-5 4 2 3 5 6-7 3-7"/><path class="c4" d="M209 1439l3-3 4-7 4-4 6-15 3 0 9 16 4 2 11-12 4-2 4-4 3-2 4 2 4-6 5-3 6 1 7 0 4 2 4-1 11 5 4-2 3 2 12-2 7 1 4-2 3-3 12 1 3-1 4 3 4-4 7 4 4-1 7 6 4-2 7 8 4-3 4 7 4 2 3 0 4 8 4-1 3-4 4 2 15-4 7-4 4-6 4 0 4-5 3 2 4-4 4 4 4-3 3 3 4-3 4 6 2 2 1 14 1-14 7 3 4-1 34 11 6 0 8 2 7-2 4 2 11-1 8 2 14-2 4 3 11-1 11-5 12 5 14 2 7 5 5 5 9 25 5 32 2 3 5-32 5-86 1-15 5 34 4 16 3 7 9 0 4-2 11 0 18 3 4-1 4 3 22 3 4-1 3 3 8 0 7 4 8-4 7 8 8 4 3 0 4-3 4-2 3 2 4 4 4-3 4-2 3 10 4-7 4 3 3-2 4 5 8-19 15 4 5 9 4 2 2 10 3 41 8 139 4 45 1-18 10-221 3-32 1-3 1-1 2 0 5-7 2-1 4 2 4-2 4 2 3 1 3 3 6 13 10 10 7 1 12 7 7 2 4 0 3-4 6-1 9 4 4 8 9 14 10 26 6 7 5-30 3-38 2-6 5 23 5 11 5-10 6-3 3 1 4 10 3 3 2 0 4-5 2 0 4-4 2 2 5 17 1 3 6-18 8-8 4 5 4 1 7 12 8 7 3 1 4 8 4-4 3 6 4 0 5-12"/><path class="c5" d="M209 1428l11-15 6-19 1-1 2 2 9 19 3 2 5-4 7-12 4-4 11-20 9-6 6 2 11 24 9 9 10 3 11-3 4 2 11-4 3 1 8-4 11 5 7-3 4 0 4 7 4-4 7 7 4-4 7 12 8 8 3 8 8 2 3 3 8-7 4 0 7-7 7-2 4-6 4 0 6-6 5-2 4 4 4-7 12 3 1 2 1 13 1-11 11 3 25-2 19 6 9 4 32 1 4 3 3-2 8 0 7-2 11-6 8 2 4 3 11 0 3-1 3 2 3 6 9 33 12 71 2-4 3-29 4-109 3-42 8 55 3 13 2 2 19 1 7 3 4-2 30 7 4 2 3-2 11 4 4-1 8 1 3 3 4 0 4-3 3 13 4-4 4 1 4 7 7-8 4 0 3-4 4 2 4 7 4-7 7 2 4 3 3-10 5-1 2-3 1-15 1 11 4-6 10-1 4 7 10 52 12 252 4 50 0-1 2-33 8-204 6-105 1-41 1-14 4-11 7-2 14 7 5 17 7 15 8 7 3 5 12 10 3 0 4 2 13-5 5 1 8 13 19 51 6 9 10-86 5 25 6 11 1 0 4-10 5-6 3 0 1 3 5 12 3 2 3-1 3-10 2 1 4 4 4 15 2 6 11-34 3-2 11 25 4 12 4 5 4 8 3 4 4-5 4 6 3 2 3-1 3-2 3-10"/><path class="c6" d="M209 1380l3-4 12-18 3-2 11 31 3 3 3-2 25-47 8-25 6-12 18 42 4 8 6 3 3 0 9-9 5-2 6 10 5 0 7 5 11 16 4 0 4 3 3 6 4 0 4 7 4 0 3-3 4 7 4-9 3 5 4-1 8 10 7 4 4-4 3 3 4-2 4-7 4 5 3-3 8-10 3 7 4-1 7-9 3-1 5 1 4 3 4-3 3 5 4 2 6 0 1 6 1-4 3 4 4-2 4 2 3-2 4 1 7-3 9 1 21 13 8 3 11 2 18-1 8-3 7 0 10-1 9-11 5 0 11 14 6 3 4 0 5 2 2 3 17 89 6 49 2-6 3-34 4-139 3-43 8 64 3 15 2 3 8 2 30-1 7 2 15-2 11 4 19 3 3 3 8 1 3 4 4-2 4 3 7 3 4-2 4 5 3-9 4 2 8-3 7 4 4-6 3 5 3-1 4-4 1-18 1 9 4-14 6-1 6 3 2 1 0 5 4 50 5 40 13 276 4 34 2-40 10-275 6-108 5-8 3-1 17 2 5 12 7 6 8 0 7 3 4-1 4 5 14 0 7-2 2 1 4 14 25 122 2 11 4 6 3-29 7-143 11 94 1-4 8-59 2-8 2-3 8 76 6-38 4-16 2-4 7 74 7-71 5-23 1-3 2 0 10 50 6 39 4 17 5 8 8 4 3 10 4-1 1-1 4-11"/><path class="c7" d="M209 1384l3-9 15-13 8 26 5 12 2 1 2 0 13-13 14-22 6-13 6-7 18 33 10 6 5-1 11-7 4 0 4-3 4 1 3-4 4 3 4-2 7 0 4-5 4 7 3-2 8 5 4-1 11 8 3-2 4-5 4 12 4 2 3 7 4-6 4 13 3-3 4 2 4-7 11-3 4-4 7-3 4 8 5-6 6-2 4 11 4-7 3 5 4 0 4 8 2 2 1 14 1-13 3 1 11-2 4-3 11-1 4-3 4 3 18 7 8 5 11 1 3-1 4 2 22 0 4-1 9 0 11-10 4-2 12 11 5 0 4 2 3 0 4 4 15 77 8 63 2-5 3-34 4-148 3-46 9 74 3 12 16 0 4-1 4 0 11 1 11 4 4-1 11 3 7 0 11 4 4-1 4 2 5-1 6 3 4 5 3-1 4-7 4 11 4 2 3-7 4-3 4 6 3 1 4-2 4 0 7-6 4 7 10 5 4-12 1-26 1 18 4-9 2-1 12 5 8 74 14 292 4 37 2-33 8-217 6-118 1-49 1-17 4-11 11-1 4 3 6 2 5 14 4 6 3 3 4 6 4 1 5 8 10 6 11 2 10-7 2 1 8 25 10 44 11 58 3 10 2 3 1 0 1-4 2-23 7-137 11 86 1-2 5-29 4-17 3-6 1 7 6 45 1 1 2-3 7-33 3-5 7 51 6-44 8-26 11 50 10 27 2 3 3-1 4 5 4-1 5 1 3-1 4-8"/><path class="c8" d="M209 1411l11-17 7-17 2 1 5 12 3 5 3 3 3-1 25-49 11-28 2-2 3 0 3 5 11 32 8 14 7 3 22-10 12 2 7 3 3 4 4 0 4-2 3 5 4-1 4 4 4-5 7 9 4-2 3 6 4 2 8 13 3 1 4 5 3 2 4-1 8 2 4-3 3 4 4-5 4-2 3 3 4-4 4 5 4 2 3-2 4 3 4 0 4 4 3-1 9 3 1 1 1 7 1-4 3 5 22-7 8-2 7 1 4-1 30 10 33 1 8 2 13-9 5 0 8 4 7-1 7 1 3 2 5 10 11 51 7 47 2 9 4-32 4-126 3-45 8 59 3 15 2 3 8-2 13 1 24 4 7 0 4 2 37 7 4 7 7-4 4 9 4 1 4-5 3 7 8-13 3 6 4-5 4 1 4 8 11-6 3-1 4 2 3-5 1-9 1 5 4-7 2-1 4 2 4 1 4 2 0 3 10 54 12 246 4 47 2-36 10-245 6-105 4-9 2-2 9 3 7-1 4 6 4 14 15 20 11 6 4 4 7 3 4-2 3-5 7-2 3 2 9 20 7 25 12 56 5 12 1 1 1-4 1-9 8-132 8 64 3 15 1-4 9-38 2-2 2 7 5 29 2 4 3-5 6-24 3-3 6 38 0 5 1 0 5-30 6-24 3-5 3 6 5 24 11 37 4 19 3-2 4 11 4-3 3 3 5-1 4-6"/><path class="c9" d="M209 1428l3-2 8-13 7-20 8 16 5 8 3 0 4-3 7-13 22-27 6-4 4 2 8 13 16 14 4 0 14-9 11 0 7-4 11 5 4 2 4 1 3-3 4 3 4 1 4-1 3 5 4 3 4-2 3 4 4 8 4 0 4 6 11 10 3-2 4-6 5 3 3 0 3-4 4 3 7-9 4 0 4-4 11-7 4 2 7 0 4 5 4-5 2 0 1 24 1-21 3 3 3 1 5 0 7-2 7 2 4-2 30 10 4 4 11 2 3 3 4 0 4 2 4-1 18 2 8-2 3 2 11-5 8 1 4 3 7-2 4 3 7 1 9 20 8 31 6 40 2-4 3-25 4-90 3-45 8 51 4 13 16 0 8 2 7-1 8 2 3 3 41 6 8 2 7 4 4-6 18 14 4-6 4-1 3 8 4-13 4 7 7-7 4 0 4 6 3-4 3 0 3-2 2-14 1 7 3-5 7 0 8 5 0 2 10 38 4 68 8 154 4 48 1-18 11-263 5-56 6-13 3-2 17 6 5 12 5 7 6 5 11 4 4 3 4 0 5 4 6-4 9-2 5 2 4 10 11 32 12 39 2 7 4 4 2-10 8-98 5 27 6 20 1-1 5-13 7-5 2 5 6 23 6-16 6-7 6 20 2 5 6-23 5-5 3-2 10 20 4 15 8 15 3-2 4 2 4 7 3 2 5-3 4-10"/><path class="c10" d="M209 1407l3-6 4-2 5-7 6-12 11 32 2 3 3 0 7-6 19-24 10-21 5-6 3-1 11 10 7 3 11 0 12-6 3 4 4-4 4 0 8 3 7 7 3-4 4 5 4 0 3 3 4-3 4 5 4 1 7 7 7 1 8 16 4 1 3-1 4 9 4 0 3 4 4-3 4 0 4-5 11-3 3 2 4-7 4 3 7-7 4 7 4-1 4 2 7 2 6 3 1 5 1-3 8 2 10-3 16-9 6-2 4 3 6 1 9 6 22 9 4 3 4-1 7 4 4 0 3 3 12-3 3 2 11-7 12 3 5 3 9 0 3 1 3 5 8 27 7 28 5 40 2 3 2-9 3-35 3-92 3-45 7 49 5 21 5 1 4-2 4 1 3-1 15 2 4-1 4 2 7 0 7 2 4-2 8 3 11 1 3 3 4-1 15 5 4 5 7 0 4 3 4 6 3-4 4 6 11-2 11-5 8 5 3-5 7-3 1-13 1 9 4-8 6-2 8 7 10 41 4 75 8 174 3 45 1 9 11-247 5-85 1-46 1-17 5-14 3-2 3 3 4-1 8 3 3 4 4 12 7 16 11 12 12 7 3 5 8-3 3 0 5-3 3 0 3 3 4 10 13 46 10 42 5 14 1 0 1-3 1-9 8-125 8 59 3 14 6-21 4-23 2-5 1 0 0 2 1 5 5 42 2 6 11-48 2 6 5 46 1 10 1-1 5-49 5-28 2-3 2 2 2 6 8 48 11 33 4 9 4 1 4-3 3 6 4 2 5-14"/><path class="c11" d="M209 1424l3-4 6-9 6-17 2-5 2-1 2 2 8 17 2 1 6-5 30-58 6-5 4 4 4 14 11 23 8 9 6 0 16-10 8 0 4-2 3-4 4 6 7-7 4 7 4-1 3 7 4-7 11 7 8 2 22 24 4 3 3-3 4 1 4-3 4 1 3-1 8-4 3-6 4 3 4-3 7 0 4 2 4-1 4 2 3 6 4-3 6 7 1 20 1-18 7-1 12-1 6 3 8-1 22 9 4-1 4 3 18 0 4-2 4 0 3 1 11-3 4 1 4-1 5 2 10-7 5-1 6 6 4 0 3 3 4-1 7 5 3 0 2 3 7 16 6 27 9 57 2-4 3-26 4-108 3-46 8 54 4 17 20-2 11 2 4 0 4 2 11 2 7 3 4 0 18 4 8 0 5 3 6 0 4 3 3 0 8 8 4-6 3 11 4-8 4 5 3-3 4 3 4-3 4 3 3-2 4 6 4-1 10-8 1-10 1 4 3-8 3 3 4 0 8 6 4 13 5 9 1 6 4 64 9 187 2 29 1 9 12-260 4-58 2-49 5-11 6-4 4 3 7 1 3-1 9 17 3 1 8 6 7 2 15 9 7-2 8 4 26 81 4 11 4 4 2 0 1-3 7-82 2-9 6 33 5 11 6-12 6-17 1-1 8 48 2-3 5-23 4-24 2 8 5 52 1 8 6-56 8-31 4 12 4 28 15 55 7 7 4 1 3-1 5 3 4-8"/><path class="c12" d="M209 1397l7-10 4-10 7-7 2 2 5 13 5 10 2 1 2-1 27-50 7-19 3-6 3-2 11 30 10 18 6 6 10-2 4-5 4 1 7-5 4-4 3 0 5-5 3 0 2 3 2 1 7-15 4-3 3-5 8-3 4 6 3 0 8 13 8 25 18 34 3-6 8 2 4-4 3 1 8-2 7-11 4 2 4-2 3-6 8 1 4 6 3-3 10 6 1-16 1 17 3 3 10-2 5-3 13-2 6 2 11 9 3 1 8 6 11 4 33-3 8-1 4 2 2-2 7-10 4-4 2 0 11 14 16 6 2 4 15 85 8 67 2-7 3-37 4-159 3-46 9 78 2 11 2 3 4 0 4 1 4-2 11 2 3-1 4 2 8 1 3 2 4-1 4 3 18 3 8 3 3-2 15 4 4 4 4-10 3 13 4 4 4-10 4 9 3-1 4 4 7-5 4 0 4 5 4-8 3 5 4 1 4-9 7 1 8-30 4-1 8 1 3 2 0 6 9 115 13 307 2 20 2 5 1-11 3-58 7-207 4-84 3-127 4-13 2-2 5-1 11 4 3 0 5 12 7 11 25 25 9 1 10-2 2 2 3 12 5 22 21 117 5 16 1 0 1-4 1-11 8-177 2 8 9 98 1-6 5-46 4-17 2-2 2 11 6 50 1 2 2-5 7-34 3-6 7 55 7-55 5-16 2-5 2 3 2 7 7 42 8 33 2 1 2 0 5 9 9 7 6-4 3-8"/><path class="c13" d="M209 1379l7-9 4-8 7-5 2 3 5 16 3 8 3 4 4-2 13-24 14-31 7-21 5-6 17 49 5 11 6 5 2 0 7-4 4 0 4-3 3 0 11-5 6-1 2 0 4 2 7-2 11 3 4-2 7 4 11 12 4 0 8 15 7-11 4 2 11-8 4 2 3-4 15-6 4-4 7 3 4-3 6 0 2 0 3 5 4 0 4 3 2 1 1-1 4 5 17 4 14 6 12 14 17 11 7 3 11-3 34-3 12-10 3-1 3 3 9 17 6 4 4 1 5 4 3 6 11 47 6 32 4 40 2 4 4-34 4-142 3-49 8 64 4 20 20-4 15 5 4-1 3 3 4-1 4 2 22 6 7 1 4 3 4-2 7 4 4-4 4 0 3 4 4 12 4 0 4-8 3 7 4-6 4 3 3-2 4 2 4-1 4 5 3-6 4 3 4-7 3 6 5-7 7-23 7-1 8 4 10 119 12 318 3 52 1 13 4-76 7-223 5-121 2-148 3-21 3-8 5-2 4 1 10 9 5 22 7 23 8 17 7 11 13 11 16-2 3 3 5 23 23 143 2 14 3 7 1 1 1-5 2-29 7-194 5 49 6 107 1-10 5-83 4-29 3-6 1 14 5 76 2 11 3-12 7-72 2-4 7 118 6-104 4-23 4-16 2 3 2 10 7 53 4 40 7 39 15 32 6-8 3-9"/><path class="c0" d="M209 1441l9-13 9-28 8 10 3 7 2 2 2-1 32-51 3-4 4-2 4 3 13 25 4 2 3 6 6 3 5 1 12-9 3-2 4 1 7-5 19-4 7 9 4-6 8 8 3-2 4 4 4 0 3 7 4-3 11 15 4 3 4-2 11 2 4-4 3 1 4-4 4 3 7-4 4 1 4-4 3 4 4-5 4 5 17 5 1 24 1-23 3 2 15-1 7-4 4 0 4-2 26 7 4 0 3 3 8 1 7 3 4-1 11 5 15-2 4 1 13-6 3 0 13 6 8-1 3 3 4 0 1 2 10 28 6 26 5 38 2 4 2-9 3-33 3-90 3-47 9 60 3 9 24-2 29 12 30 4 11 3 4-3 11 14 4-3 4 1 3 4 4-3 4 2 3-3 4 5 8-10 7 6 4-5 3 6 7-9 1-9 1 5 4-6 6-2 8 8 10 37 4 74 9 188 2 28 1 9 10-229 6-101 1-41 1-15 5-12 3-2 7 2 7 5 3 1 5 16 8 15 10 11 11 8 11 2 10-5 5 3 8 17 10 34 11 49 3 5 1 0 1-3 2-18 7-111 5 38 5 25 1-2 4-14 7-11 2 3 7 20 3-2 4-8 5-3 6 17 2 4 6-21 8-11 4 9 7 11 4 11 4 3 4 8 7 4 4-1 3-4 5 1 4-8"/><path class="c1" d="M209 1381l3-5 6-10 9-9 2 2 9 29 2 1 2 0 22-43 8-17 4-14 7-13 3 5 8 27 6 12 9 15 5 0 6-4 7-2 4 3 8-4 11 4 4-1 7 5 7 8 4-4 4 4 4-1 3 2 8 7 3-2 4 10 4 4 4-3 3 10 6 2 5-3 4 6 8-7 7 0 4-5 3 3 4-9 19-7 4 4 3 0 10 9 1 31 1-30 7 1 4-2 3 1 4-3 4 0 7-2 8 1 18 17 15 6 7 0 8-1 4 1 27-3 9-9 4-3 3 2 9 15 16 9 3 6 10 43 7 40 4 42 2 4 3-22 2-33 3-132 3-50 8 68 4 19 16-5 11 2 19 9 11 3 4 0 4 3 14 2 4 3 8 1 3 2 4 0 4-2 3 3 4-6 4 12 4-6 7 1 4-2 3 3 4-2 11 4 4-1 4-4 3 4 5-7 2-7 1-12 1 3 4-12 2-1 4 3 8 3 9 127 13 328 4 52 2-38 8-247 5-115 3-146 2-12 3-7 10 0 11-6 4 11 17 31 5 8 12 10 3 1 13-4 3 2 3 14 9 53 14 73 4 19 3 5 2 0 2-15 8-158 11 99 1-6 5-46 7-27 1 9 5 63 2 12 3-12 6-53 2-8 1 0 7 94 2-13 5-81 4-25 1-5 1 0 2 1 10 56 8 68 4 21 3-1 5 8 10 12 5-14"/><path class="c2" d="M209 1395l6-7 9-16 2-1 3 3 9 25 3 2 5-1 18-28 13-24 5-4 4 4 12 30 11 14 4-2 3 1 4-5 4-1 4-5 11-7 3-5 4-1 8-10 3 1 8-7 3 4 5-3 3 2 4 7 3-3 3 4 5 3 15 23 7 16 4-1 3 1 4-1 4 1 4-2 3 0 11-11 4 1 4-4 7 0 4-3 3 0 8 3 8 0 2 5 1 22 1-21 7 0 26-8 26 14 4 5 7 4 7 0 4 2 4-1 4 1 3 0 11 1 13-2 12-12 2 0 13 15 5 2 7 0 4 4 14 71 9 65 2-6 3-34 4-136 3-41 8 62 3 16 2 2 7 2 12-1 7 2 4-2 7 0 4-2 4 1 11-2 8 1 3 2 11 1 13 3 6 4 4-5 3 6 8-6 4 12 3-5 4 3 4-3 3 9 4-9 4 5 4-3 7-1 4 4 3-1 4 3 3-4 1-11 1 4 3-9 2 0 8 4 5 3 0 3 10 60 12 252 4 46 2-32 8-210 6-105 1-38 1-13 4-12 11-1 4 2 6 1 5 11 9 9 2 1 4 0 3 5 6 1 9 5 18-2 2 2 5 18 24 116 5 16 1 0 1-4 1-10 8-160 10 95 1 7 6-54 6-23 1-1 0 3 1 7 5 59 2 8 3-10 6-50 3-9 7 93 2-13 5-78 7-29 3 12 12 80 5 17 8 11 2 1 4-7 7 7 5-17"/><path class="c3" d="M209 1382l3-3 8-13 7-5 10 29 4 7 3 0 9-14 4-3 19-34 3-2 5 4 8 24 10 19 4 6 7 4 7-2 8-8 3-1 8-7 7-10 4 0 4-4 3-7 8-1 3-3 4 4 4-1 7 6 4-1 4 2 7 15 4 4 7 14 4 2 4 7 3-1 4 1 8-2 3-3 4 2 15-21 4-2 3-6 4-2 4 2 4-8 3-1 4 3 4 1 2 2 1 23 1-22 10 4 9 7 5 0 7 2 9 8 8 8 7 3 4 4 4-1 3 3 23 0 7-2 4 0 3-2 4 1 8 0 14-12 12 16 5 2 9 3 5 8 13 57 9 61 2-4 3-30 4-128 3-44 9 67 2 9 2 2 12-1 14 0 4 2 11-1 8 2 15 1 3 2 8-1 3 3 4-2 8 2 3-2 4 3 4 9 3-8 4 2 4 4 4-7 3 4 4 1 4-10 3 3 8-1 4 10 3-10 4 10 4 1 3-4 4 2 3-13 1-28 1 21 4-5 2 0 12 8 9 77 13 267 4 37 2-37 10-262 6-109 4-8 3-1 18 2 4 10 3 3 2 1 3-1 8 1 7 3 8 6 14 1 7-3 2 2 6 23 23 132 2 11 3 6 1 1 1-5 2-26 7-171 11 109 0 1 1-5 5-47 5-22 2 1 0 4 7 60 2 0 1-2 9-43 2 6 5 43 1 8 7-52 5-22 3-4 3 8 4 24 14 65 8 14 4 3 8-1 4-6"/><path class="c4" d="M209 1413l3-3 4-6 11-24 2 1 9 19 2 1 4-3 6-8 14-32 12-19 4-7 3-2 17 45 6 9 7 3 7-3 4-4 4 1 7-4 8 0 3-1 4 2 4-5 3 8 4 4 7 2 4-2 4 4 4 1 3-2 4 8 4 0 7 5 8 16 2 3 1 1 4-1 4 2 3 5 4-3 4 0 4 1 3-4 4 3 4-6 11-8 4-9 3 2 4-2 4-1 4-3 3 0 4 2 4-4 2 4 1 10 1-8 7 3 7-3 12-1 9 1 9 6 7 2 8 4 4 0 3 3 6 1 13 0 4 1 3-2 11 1 4-2 8 2 14-6 13 12 10 5 3-1 2 1 4 6 7 21 4 14 5 22 5 37 2-5 3-26 4-96 3-44 7 46 5 19 13 1 14-2 4 2 26-3 4 3 11 0 4 1 3 0 15 7 4 0 4 3 3 0 4 4 4-1 4 2 3-2 4 2 4 4 3-6 4 7 4 2 4-5 3 8 4-1 4 3 3 1 4-6 3-2 1-5 4-8 3 1 8 5 4 1 3 5 4 2 3 8 4 55 9 188 2 28 1 11 10-214 6-89 1-33 1-13 3-9 3-4 2-1 7 3 4-1 6 6 7 20 10 17 10 10 4 1 7 6 4-2 4 1 11-6 4 3 5 11 8 28 14 70 2 7 3 4 5-55 5-105 9 73 2 13 6-33 6-22 1-3 7 58 2 0 2-4 7-37 2-3 7 56 6-46 4-13 3-7 3 4 17 54 7-3 4 6 4-6 3 5 5-3 4-11"/><path class="c5" d="M209 1399l11-18 4-9 2-1 3 1 9 24 2 2 3-1 25-46 11-29 4-3 4 5 7 22 8 14 6 7 3 1 9-2 4-2 15-5 3 1 4-3 4 1 4 3 3-8 4 8 4-2 3 3 8 0 7 6 4 0 4 4 3 1 8 21 4 6 3 1 4 9 4 3 3-5 5 6 3 0 7-9 4 0 4 4 3-4 4 3 4-4 4 7 7-6 4 2 4 1 3 11 4-11 4 2 2 0 1 8 1-5 3 5 30-4 22 5 11 5 8-2 11 2 7-2 8 2 17-2 9-7 5-1 11 5 12 1 4 2 5 14 11 56 8 61 2-4 3-32 4-142 3-48 8 65 4 18 5 1 15-3 4 3 3-1 8 5 15 6 3 0 4 2 8 0 3 3 4 0 7 2 15 2 4 4 4 0 3 4 4-5 4 9 4 2 3-2 4-7 4 11 3-8 4 0 4 5 4-3 3 6 4-7 4-1 3 4 5-5 2-5 1-20 1 13 3-7 7 0 8 4 0 3 9 52 13 270 4 49 2-32 8-210 6-109 1-47 1-17 4-12 2-1 5 1 4-1 10 3 5 13 5 9 6 7 19 14 8 2 3 0 3-3 4-1 7 5 4 14 13 57 10 52 3 9 3 4 2-15 8-148 11 84 1-3 4-23 8-27 1 6 6 43 1 1 2-3 7-28 3-4 7 49 6-42 4-14 2-4 2 1 2 4 9 34 9 12 3 1 3-2 8 7 3-2 4 1 5-14"/><path class="c6" d="M209 1384l7-10 8-16 3-3 2 1 4 13 5 11 2 1 3-2 5-13 9-36 14-40 7-29 3-7 2-1 3 7 4 22 10 58 2 6 6 10 3 2 3 0 2-2 8-10 4 1 3-2 4 1 4 3 3 0 8 9 4-4 3 5 4-3 4 3 3-1 4 6 8-3 7 12 7 8 12 20 7 19 7 5 8-2 4 2 3-5 4-2 4 1 3-7 4-2 4-11 4-4 7-12 11 0 4 2 4 1 2-1 1-6 1 8 3 4 15-3 16-2 14 13 22 12 19 0 11 2 7-2 4 1 7-3 5-7 6-5 5 3 8 10 15 3 3 7 12 71 10 81 2-6 3-38 4-164 3-49 8 73 4 21 16-3 11 1 4 3 4 1 4-1 3 2 4-1 7 5 4-1 22 6 4 2 15 3 4 2 3 8 4-3 4 5 4-7 3-2 4 3 4 8 7-10 4 1 7-1 4 6 4-4 3 0 4 3 8-28 3-2 5 2 7 5 0 4 9 84 13 304 4 41 1-10 2-35 8-220 4-84 3-129 5-17 3-2 17 6 9 21 3 4 4 7 7 9 12 12 4 3 6 0 4-3 7 2 4 3 17 75 10 47 2 9 3 5 1 0 1-5 2-22 7-134 11 88 1-4 4-22 8-28 1 6 5 43 2 7 3-6 7-34 2-3 7 56 7-57 5-22 3-4 3 6 16 91 6 20 4 1 4 7 3 4 5-3 4-8"/><path class="c7" d="M209 1386l3-2 12-19 3-2 11 30 3 2 3-1 24-43 9-19 5-5 3 5 6 24 9 23 5 8 5 3 7-1 9-5 9-2 4-2 15 0 3 1 4 3 4 0 3 2 4 5 4-3 4-7 3 11 4-2 4 0 22 22 15-8 4 1 3-7 4 5 4 1 3-1 8-13 4-3 3 0 4-4 8 4 11 2 2 5 1 7 1-5 7-1 4 1 3-1 11 0 9 2 10 9 19 7 3 3 8 1 7 3 22 2 4 1 8 0 14-9 13 8 14 2 4 5 10 37 12 75 2-3 3-29 4-122 3-45 8 58 4 17 9 0 4-2 3 1 4-2 7 4 5-1 7 3 3-1 4 2 7 0 4 3 8 0 3 3 4-2 4 2 3-1 12 5 3-2 4 7 4-2 7 1 8 8 3-5 4 1 4-2 3 8 4-9 8 5 3-4 4 1 4 5 8-13 3-15 1 0 3-8 6-1 8 2 1 6 9 90 13 294 4 36 1-14 3-63 7-203 5-99 2-78 5-14 3-1 7 4 4 0 6 6 9 26 10 15 8 10 15 10 4-3 7-3 4-4 4 3 7 19 8 30 11 60 5 14 1 0 1-3 1-9 8-146 11 81 0 1 1-3 9-52 2-3 2 10 7 58 7-43 3-11 2-1 7 63 6-54 6-26 2-8 4 11 4 26 14 69 1 2 3 0 8 10 7 8 5-11"/><path class="c8" d="M209 1416l3-3 9-11 4-11 2 0 12 29 3 4 15-14 7-3 8-7 7-14 8-4 3 3 12-1 7 3 7-4 4-3 11-5 4 6 4-3 3 3 4-1 4 5 4 0 3 5 4-3 11 14 4-2 4-5 3 7 4 3 4-1 7 6 4 6 4 0 3 11 6 3 3 0 6-4 4 3 4-3 3 0 4-7 4 7 3-7 4 1 11-11 4 4 4-1 4 2 3 4 4-11 6 8 1-2 1 4 3 2 30-4 4 2 11 0 3 4 8 0 4 4 3-3 4 2 7 0 4 2 4-2 4 1 22-1 6 1 12-5 15 11 4 0 10 3 10 14 8 30 5 32 2 10 2-7 3-32 3-75 3-47 8 50 3 13 2 2 4-3 8-1 11 3 7-1 11 2 4 3 48 9 8 7 3-1 4 9 9 7 2 1 4-4 7 8 4-12 4 6 7-4 8 3 6-3 4-10 1-10 1 6 4-5 2 0 4 4 8 0 3 8 4 2 2 3 3 22 14 264 1-14 11-240 4-53 2-41 6-12 2-1 3 0 11 5 4 6 8 23 7 12 11 9 11 8 6 0 10-6 5 2 5 4 14 28 11 29 3 4 1 0 1-2 1-7 8-69 2 3 4 21 4 8 1-1 5-9 8-5 1 2 7 18 3-1 4-9 5-1 6 26 2-3 4-19 6-16 2-1 2 0 10 23 4 19 8 17 7 13 7 3 4-2 5-14"/><path class="c9" d="M209 1399l18-19 11 33 2 3 3 0 7-4 7-9 4-1 18-22 4-2 3 1 8 10 11 7 4-1 4 3 18-10 4 0 4-2 5 0 6-3 7 4 8 1 7 6 4-4 4 1 11 11 5 2 10 6 3 6 4 1 4 5 7-7 8 5 3-7 4-3 7 1 4-4 4 3 4-6 3 0 4-4 4 5 4-6 3 0 8 6 2 4 1-13 1 16 33-1 7 4 4 1 4 4 15 2 14 4 8-2 18 1 4-1 8 1 12-7 4 0 10 6 11 2 5 2 4 6 7 21 6 23 8 52 2-5 3-27 4-98 3-43 8 52 4 14 20 1 7-1 23 2 7-1 4 1 4-1 27 6 6 5 4-1 3 2 8 10 3 1 4-4 4 5 4-8 3 3 4 9 8-6 3 4 8-7 3 1 4 6 4-15 3-5 1-1 3 2 4-1 8 6 8 17 2 9 5 82 8 166 2 27 1 9 12-263 4-55 2-40 5-10 3-2 7 2 10 6 5 16 7 11 4 2 7 11 19 10 11-7 3 0 4 3 4 7 11 26 12 41 6 8 2-9 8-92 6 32 5 18 2-2 10-33 1-1 0 1 6 46 2 6 2-3 8-43 2-5 7 69 7-70 7-25 14 74 7 21 2 2 3-1 8 6 7 0 5-15"/><path class="c10" d="M209 1425l12-17 6-15 3 3 7 20 3 4 2 0 6-4 9-13 4-2 7-9 4-1 4-6 8 0 14 14 4-2 7 7 4 2 7-2 8-5 11-6 3-4 4 1 4-4 3 0 8 0 4-3 3 3 4-2 4 4 4 1 3-2 4 9 4 0 7 4 4 6 7 6 4 0 7 9 4-7 8 4 3-4 4 2 7-4 4-3 4 2 4-10 3 1 4-2 8 4 3-2 4 1 4 5 2 0 1-8 1 10 3 2 19-2 13-5 13 5 7 1 8 5 29 6 23 1 7-3 7-7 7 1 7 5 14 1 4 9 8 38 13 83 2-5 3-31 4-132 3-45 8 62 4 18 9 1 7-1 4 2 4-1 26 8 7 1 4 2 7 0 11 3 12 1 3-2 4 2 4-1 3 9 4-4 4 2 4 4 3-9 4 3 4 0 3-4 4 7 4-6 4 12 3-10 4 3 4 8 3 1 4-12 3 3 1-11 1 7 3-7 11 5 4 4 4 11 5 6 2 13 4 71 7 146 4 51 0-1 1-13 11-249 5-70 2-10 4-7 6 0 4-2 4 4 4 1 3 4 3 10 4 8 12 15 3 0 12 8 7 2 7-2 4-5 5 2 3 3 7 12 8 24 11 51 5 12 1 0 1-4 2-18 7-111 10 69 1 0 0-2 2-9 11-32 1 5 7 46 7-24 3-18 1-4 1 0 7 59 6-44 5-22 2-4 3 5 7 29 6 18 6 9 2 1 7 1 4 4 8-9 4-10"/><path class="c11" d="M209 1370l3-2 5-8 10-3 12 39 3 4 4-1 7-4 8-9 11-17 8-23 4-6 4 3 6 11 12 12 10 1 12-6 14 2 4 3 4 6 7 0 4 4 4 1 3-2 4 10 11 1 15 6 4-4 4 2 3 10 4 2 4 5 7-8 8 0 7-11 4 6 3 0 4-6 4-3 4 2 7-5 8 7 3-2 4 6 4-3 2 4 1 15 1-11 3 2 11-5 8 0 3-3 4 2 4-2 10 9 5 1 15 9 3 0 11 4 8 0 4-1 3 1 4-1 20-1 12-14 2-1 2 0 5 4 5 7 6-1 8 2 3 4 23 155 2-6 3-38 4-155 3-42 9 77 2 10 2 4 11 2 12 0 3 2 4-1 4 1 11 0 7 2 4-2 8 2 3-1 4 2 15 3 7-2 4 3 4-2 7-1 8 5 3 0 11 4 4-9 4 8 7-8 8 7 10-10 1-17 1 11 4-11 6 0 4 1 4 4 0 4 9 83 13 289 4 38 1-13 2-39 8-221 5-100 2-77 5-11 6-3 11 4 3-1 7 17 13 14 19 11 7 1 7-3 5 3 6 21 23 118 2 11 3 5 1 1 1-5 2-25 7-149 2 9 9 90 1-4 5-44 7-26 1 9 7 69 11-66 2 7 5 58 1 10 7-71 5-22 1-4 2-1 3 9 7 43 5 38 6 28 4 12 4 3 4 6 8 0 4-7"/><path class="c12" d="M209 1360l6-9 9-32 3-5 2 6 6 40 4 15 3 2 8-16 3-14 22-59 2-5 2-1 2 1 2 5 8 42 10 30 8 15 4 0 3 3 15-11 4-4 4 0 3-2 4-5 4 1 4-3 3 0 4-11 4 3 3-9 11 2 4 7 4 2 6 11 5 16 15 27 7-2 4 3 4-4 7 1 8-3 7-9 4-2 4-5 3-10 4 3 4-9 5-1 6 1 6 4 1 11 1-9 8 2 14-2 7 1 4-2 26 22 11 8 15 2 4-1 11 2 7-3 4 3 5 0 2-1 8-13 2-2 3 0 3 3 8 14 15 5 2 5 16 102 7 67 2-6 3-38 4-186 3-42 8 71 4 21 16 0 11 2 12 6 14 4 8 3 4-1 7 5 11 0 8 2 3-2 8 3 3 2 4-6 4 2 4 8 3-7 8 4 3-4 4 6 8-7 7 9 7-5 4 2 3-12 1-11 1 1 3-11 15 5 9 122 13 326 4 47 2-34 8-241 5-114 3-146 5-21 10 1 4 4 3 3 4 5 4 12 4 5 7 15 19 22 3-1 6 3 11-1 4 3 7 27 21 110 5 17 1 0 1-4 1-11 8-166 11 99 1-5 8-60 4-14 1 10 7 77 9-61 3-9 6 75 1 11 6-78 6-33 1-6 1-1 1 1 9 49 9 78 3 14 8 21 4 3 3 7 3 2 1 0 1-2 4-19"/><path class="c13" d="M209 1425l12-21 6-15 2 1 5 10 5 7 2 1 3-2 9-17 11-25 6-7 7-15 5-4 4 5 15 39 7 7 5 2 18-9 19 1 4 5 3-5 4 3 4-2 3 0 4 2 4 6 4-3 3 2 4 6 4-1 7 11 4 0 4 6 3-1 4 7 4 4 3-2 12 0 3-1 4-7 4 4 3-8 4 2 4-7 4-1 3-6 12 3 3-1 8 1 2 4 1 19 1-17 11 3 3-2 18 0 27 11 4 1 3 2 15 4 8-1 7 3 15 1 7-1 8-4 7 0 8 6 3 0 4 2 10 3 9 10 5 15 5 20 4 35 2 4 5-38 3-75 3-49 6 40 6 24 13-3 3 0 8-2 3 3 4 0 8 4 3 1 4-2 4 2 3 0 15 4 8 0 11 4 4-1 3 3 4-1 4 3 3 1 4-3 4 4 4-3 3 4 4-3 4 7 3-1 4 10 4-16 4 1 3 8 8-3 3 3 7-15 1-14 1 10 4-2 2 0 12 7 9 37 5 87 9 185 2 26 1 8 11-248 5-85 1-42 1-15 5-11 3-2 4 0 13 7 9 21 11 15 15 12 3 0 6 2 10-5 3 0 2 2 16 42 11 39 6 12 1 0 1-3 1-8 8-100 6 38 5 13 0 1 2-3 8-21 3-3 6 29 1 1 2-1 11-17 6 27 1 3 6-30 1-2 5-2 5 2 8 16 15 21 4-5 4 6 3-5 5 2 4-10"/><path class="c0" d="M209 1397l18-22 3 5 8 26 3 3 3-1 9-9 11-15 10-17 5-16 7-7 13 18 10 8 4-1 11-6 4 0 3-3 8 0 11-2 4 6 3-1 4-4 4 1 3 5 8-2 7 6 4 5 4 2 3-1 8 9 7 18 7 2 4 0 4-5 4-1 4 1 11-3 3-4 4 4 4-8 4 0 3 1 4 3 4-3 4 5 3 3 4-1 6 4 1 16 1-14 3 2 4-1 4-3 7-1 11-7 5 0 3 0 7 5 4 4 11 5 4 4 18 5 30 5 4-1 3 1 8-6 7 0 10 9 14 4 4 6 12 46 8 59 2 4 3-19 2-29 3-113 3-49 9 66 3 12 9-2 15-1 18 7 8 4 7 0 8 3 3 2 4-1 15 4 4 3 3-2 4 7 4-8 7 11 4 2 4-1 3-6 4 6 4-1 3 4 4-8 4 6 4 1 3-3 4 3 4-1 3 5 4-1 4-21 1 1 4-6 2-1 8 2 4 3 0 3 10 71 12 286 3 41 1 9 4-65 7-191 4-77 3-130 5-19 6-3 11 5 3 3 16 33 11 14 11 11 7 1 9-3 3 1 2 2 9 33 19 84 2 9 3 4 1 0 1-4 4-45 5-101 11 80 1-2 9-41 3-3 7 45 1 1 2-4 9-35 2 5 5 35 1 6 6-36 8-26 4 10 4 23 3 8 4 20 6 12 9 14 4 2 3-3 4 5 5-13"/><path class="c1" d="M209 1411l11-16 7-14 8 19 5 10 2 2 1-1 3-3 4-8 11-13 3-8 4-2 8-16 7-12 7 9 11 18 9 5 18-8 3-5 8 0 7-10 4 2 7-2 4-4 4 0 7 10 4-3 4 5 3 1 4-2 4 6 9 9 6 14 3 1 4 10 4 0 3 2 8-1 4-4 7 0 4-4 3 4 4-7 8 3 7-10 4 3 4 1 3 4 8 4 2 0 1 24 1-23 4 1 7-2 22-13 13 10 13 5 4 3 7 4 9 1 6-2 11 3 7-2 13-2 4-3 7-8 3-2 11 16 14 4 4 5 17 91 6 53 2-5 3-36 4-153 3-47 8 68 4 20 5 1 4-2 6 0 5 2 4-2 3 2 4-1 11 5 8 0 11 3 4 0 7 3 4 0 11 3 5 0 6 3 4-4 3 7 4 0 4 7 4-5 3-10 4 15 4-1 3-8 4 6 4-6 4-2 3 7 4 1 4-5 3 2 3-3 4-5 1-22 1 16 2-7 2-2 14 8 8 69 14 307 3 37 1 6 4-66 7-194 4-82 3-124 5-15 6-3 4 0 10 6 5 12 15 26 15 15 4 2 10-1 7-3 2 1 8 30 21 117 3 11 3 5 3-32 7-158 11 102 1-6 5-43 7-16 6 46 3 5 3-2 7-35 8 46 11-53 1-1 4 5 21 66 3 2 8 7 3-1 4 4 5-14"/><path class="c2" d="M209 1432l12-22 6-17 10 22 3 2 6-3 7-11 4-8 7-8 12-15 3-2 4 1 11 20 15 15 7 0 4-3 8-2 14-9 8-2 4-4 3 6 4-5 4 1 3 3 4-5 4 7 4-2 3 1 8 7 3-1 4 2 4 7 4 0 7 12 4-3 7 1 8-4 3 2 4-2 11-10 4 2 4-2 3 1 4-6 4 5 7-1 10 9 1-18 1 18 4 1 7 2 7-1 4 2 11 1 4 2 18 7 11 2 19 0 22-3 11 0 8-5 2 0 20 11 9 2 6 7 7 20 7 28 5 37 2-3 3-26 4-94 3-45 9 56 3 9 5-1 4 0 4-1 7 0 4-1 15 7 11 2 3 1 8 1 4 2 7 0 20 4 10 6 3 1 4 8 4-5 4 15 3-10 4-4 4 6 7-3 4-10 4 5 3-2 4 6 4-3 3 1 3-1 4-7 1-11 1 4 3-9 7-2 2 1 6 3 0 3 10 53 12 237 4 42 1-17 11-271 5-70 1-6 4-7 2-1 7 0 9 4 3 3 5 13 4 5 3 2 4 5 11 8 4 1 4 3 10 2 9-5 7 3 16 32 10 23 4 7 2 0 1-2 7-66 2-7 5 20 6 8 2 0 4-8 7 8 5 10 3 0 4-8 1-1 2 1 4 8 2-5 2 0 4 14 2-1 4-17 5-10 4 2 10 16 11 33 13 19 2 3 5-3 4-9"/><path class="c3" d="M209 1423l11-17 4-15 3-5 2 1 6 14 2 4 3 2 4-2 6-9 14-30 8-10 5-10 3-4 2 0 3 4 9 27 7 13 8 9 10-2 5-4 18-6 4-4 4 3 4-7 3 6 4-3 4-1 7 7 8-6 1 1 2 1 4 9 4 0 3 3 4 0 8 14 3-3 8 12 3-4 4 0 4-2 4 5 3-5 4 1 7-4 4-4 4 1 4-7 3 2 4-2 4 1 7 1 4 4 4-1 2 4 1 5 1-4 14 3 15-3 4 2 7 0 4 5 15 5 7 1 4 3 11-1 26 3 9-1 6-1 7-7 15 9 8 0 5 3 4 6 11 42 9 58 2 11 3-18 2-30 3-119 3-49 8 62 4 18 13-2 3 1 5-2 10 4 4 2 4 0 18 7 4 0 11 5 4 0 11 3 5 3 6 2 4-2 7 10 4-2 4 0 7 9 4-4 3 5 4-8 8 7 3-9 4 11 4-9 3 5 5-1 2-3 1-15 1 10 4-11 2-1 4 1 4 0 4 3 8 35 2 14 12 233 4 46 1-16 11-266 6-78 6-8 2-2 11 2 6 0 7 13 9 6 7-1 4 2 4 0 7 5 4-2 14-1 2 1 3 6 14 62 12 54 2 10 3 4 1 0 1-4 1-10 8-143 8 67 3 14 1-3 9-35 3-4 6 35 2 3 3-3 7-23 2-1 7 42 6-35 8-21 11 39 4 4 8 15 3 3 4-1 7 3 5 0 4-8"/><path class="c4" d="M209 1407l11-14 4-9 3-4 11 25 3 2 3-1 17-24 15-27 6-5 3 3 13 30 7 10 8 5 11-9 15-7 7-4 4-4 4 3 2 0 5-6 4 1 3 2 8-1 7 6 8 1 3 7 8 4 4 10 7 3 4 5 7-8 8 5 3-8 4 2 4 0 7 3 4-1 4 0 3-4 8 9 11 1 4 2 3 10 2-4 6 2 7 0 19-4 22 6 7 3 9 0 6-2 19-8 21-2 6-5 6-3 12 17 11 8 5 0 4 6 6 14 5 22 5 23 4 35 2 4 2-9 3-35 3-98 3-47 8 55 4 16 9-3 22 1 4 0 4 4 3-1 4 3 11 2 8-1 3 3 4-1 19 4 3 3 11 0 4 6 4-6 4 8 3-3 8 4 3-6 4 3 4-7 4 6 3-3 4 6 4 0 3-2 4 3 7-18 2-2 14 6 10 59 12 247 4 47 1-13 9-228 7-136 1-11 6-11 2-1 17 6 5 14 7 12 5 4 10 6 8 8 11 1 10-5 3 2 5 11 11 34 12 45 5 10 1 1 1-4 1-7 8-112 2 7 4 32 5 18 1-1 4-12 8-14 1 3 7 26 3-4 4-11 3-4 2 0 7 31 7-32 7-7 3 4 5 15 3 5 7 18 8 13 8 6 3-2 4 1 5-13"/><path class="c5" d="M209 1374l10-13 5-3 3 1 11 37 2 3 6 3 18-21 8-10 7-15 4-3 3 3 8 14 4 9 12 8 5 0 5-4 4 0 4-4 22-1 4 4 3 0 4 4 7 0 4-2 4 7 4-1 3 2 4-1 4 4 3-4 4 5 4-6 7 9 7 2 4-2 4-3 11 1 4-4 4 0 3-6 4 3 11-8 4 8 8-1 3 9 4-3 4 9 2-1 1 8 1-7 3 1 4-1 7-3 4 0 7-5 4 0 5-2 6 2 8 6 22 11 4-1 3 2 4 0 11 4 15 2 4-2 7 0 10-11 4-2 10 7 6-1 8 2 2 1 3 11 9 53 12 88 2-6 3-37 4-153 3-43 8 69 4 19 5 3 8 0 3-1 8 1 7-1 4 2 11 0 7 2 8-1 4 2 11 1 16 5 6-1 7 9 4 2 4 4 4 0 3 4 4-8 7 2 4-9 4 9 4-3 3 7 4-4 4 1 3-3 4 3 3-8 1-19 1 11 4-10 2 0 10 3 2 1 0 3 10 76 12 285 3 40 1 8 4-64 8-212 3-59 3-128 4-18 2-2 13 2 3 4 3 1 12 27 8 9 3 7 11 11 4 3 4-1 4 2 3-4 7 1 3 3 5 17 23 117 3 10 2 2 1 1 1-5 1-10 8-157 11 96 1-4 5-43 4-18 3-5 1 10 5 51 2 7 3-9 7-46 1-3 1 1 6 61 1 9 6-63 5-25 2-6 2 2 2 7 17 91 6 9 11-1 4 7 5-15"/><path class="c6" d="M209 1382l15-16 3-1 11 36 3 4 4 1 23-27 9-19 5-5 2 0 2 1 16 23 7 4 7-3 4-3 4 0 11-9 4-1 7-7 4 1 4-4 4 0 7 0 3 2 4-4 15 7 7 10 4 2 15 30 4 3 3 0 4-6 8 4 3-6 4-1 4 1 3-4 8-4 7-7 4 1 4 5 7-4 4 0 4 9 2-1 1-13 1 14 3 4 4-2 4 1 3-1 15 3 26 13 19 7 3-2 8 3 11-2 11 1 4 2 4-1 7-4 4-5 6-2 5 4 11 4 4-1 5 1 4 10 10 51 5 27 5 40 1 10 1 0 4-38 4-141 3-46 9 71 2 10 2 2 4 0 4 2 7-3 8 2 7-1 22 2 4 2 4-2 4 2 3-1 23 8 3-1 4 2 4-1 3 13 4 3 4-5 4-3 3 11 8 0 7-7 4 4 4-1 3 7 4 1 4-7 3 0 4 3 3-9 1-13 1 7 4-6 14 4 10 50 4 80 8 177 3 43 1 10 11-252 5-86 2-71 5-14 14 1 3 5 3 0 5 19 5 12 6 10 11 11 8 6 7 3 4 0 11-8 4 4 6 16 8 31 13 69 2 7 3 4 5-56 5-109 11 92 1-6 7-49 3-12 2-3 6 62 2 5 3-6 7-48 1-4 1 1 6 68 1 10 6-68 5-27 2-7 2 0 3 10 11 74 7 33 4 10 11 8 4 4 5-7"/><path class="c7" d="M209 1385l7-9 4-9 7-9 2 2 5 16 3 7 4 4 5-3 24-65 8-26 3-5 2-2 4 8 13 50 7 13 4 2 5-1 8-5 4-4 7 3 4-1 5 1 2-1 4 2 4 0 3 3 4-2 4 5 7-1 4 2 4-1 16 14 6 12 7 11 4 5 3 1 4 1 4 2 8-7 3-1 4 4 7-8 4 1 8-11 7 4 4-1 4 6 3-2 4 6 4-1 2 4 1 22 1-21 18-3 11 0 8 3 7 7 26 10 7-3 4 1 11-2 4 1 11-1 10-1 9-9 3-1 12 14 16 8 3 5 10 39 7 38 4 38 2 4 3-20 2-30 3-122 3-49 9 70 3 12 20-3 7 2 4 3 15 6 4 4 7 1 8 4 3 0 4 1 4-1 3 2 4-1 9 2 6 0 4-2 3 7 4-7 4 7 4 3 3-6 4 2 7-8 4 6 4-6 4-1 3 0 4 7 4-4 6 1 4-5 1-13 1 6 3-9 7 4 8 4 0 4 9 73 13 280 4 43 1-13 2-40 8-215 5-96 1-53 1-19 4-14 7 1 14 3 12 24 4 1 19 15 9 2 5-2 4-2 6 4 5 18 23 117 6 18 3-30 7-151 11 101 1-6 5-43 4-17 3-6 1 9 7 62 3-10 6-42 2-5 1 0 6 60 1 9 6-61 5-26 1-5 2 0 3 9 8 49 9 36 2 2 4 1 4 4 7 0 4 6 5-14"/><path class="c8" d="M209 1397l3-3 8-14 7-10 2 2 9 23 3 3 3-2 9-19 8-12 16-33 6-8 18 49 6 9 4 2 5 0 4-3 4 0 4-4 7-1 4-2 11-1 4 4 3-1 4-6 4 6 7-2 4 3 4 1 3 5 8-2 7 1 8 12 7 8 4-2 3 3 12-9 3 3 4-3 4 1 3-7 4 0 14-4 5 1 4-2 3 6 4 2 4 7 2-1 1 7 1-7 7 0 4 1 3-4 8-1 4-3 8-2 6 4 4 4 7 3 8 7 4 1 7 5 6 1 20 13 7-1 8 3 5-1 13-8 8 2 4 4 13 0 4 2 4 8 6 24 8 35 6 42 2-3 3-27 4-116 3-45 8 57 4 16 9-1 18 2 8-1 7 1 4-1 4 2 3-1 12 1 3 2 4-1 11 4 12 1 7 5 3-7 4 6 4-4 4 5 3 2 4-7 4 0 3 6 8-3 4 7 3-2 4 6 4-9 3 11 7-8 1-18 1 12 2-6 2-2 10 5 4 3 9 41 5 90 8 174 3 44 1 10 11-249 5-88 2-71 3-11 3-5 5-1 14 3 9 17 7 5 7 8 15 9 15 0 5 3 3 7 10 47 4 15 8 32 5 18 4 6 1 0 1-4 1-8 8-119 6 43 5 28 2-5 4-30 6-22 1-2 0 3 8 72 3-9 7-67 1-5 1 1 7 115 6-96 4-23 3-11 1 0 2 5 12 76 6 24 2 3 8 4 4-2 3 0 4-8 1 2 2-1 2-4"/><path class="c9" d="M209 1395l15-17 3-2 11 37 2 2 2 0 8-4 14-15 4-2 8-12 8-9 23 16 6-1 7-6 4 0 4-4 3 0 8 1 3-3 4 5 4 2 4-1 7 6 4 0 3 3 4-5 4 7 4-5 3 7 4 3 4-1 3-3 4 5 4-1 11 12 4-3 7 0 8-5 3-1 8-5 3 3 12-1 15 9 3-1 4 6 4-2 1 1 1 2 1 19 1-17 37 1 3 3 8 2 3 0 4 3 8 0 7 3 4-2 11 2 15-2 3 1 13-2 12-9 6-1 7 2 3-1 4 1 9 0 5 14 12 69 8 65 1 0 1-5 3-35 4-156 3-46 8 69 4 19 6 2 10-2 8 0 3 3 12 3 3-2 4 2 4 0 7 3 4-1 7 2 19 6 5 1 2-1 4 7 4-5 3 2 8 9 4-2 3 5 4-4 15 6 4-3 3 3 4-4 4-1 3 1 3-2 4-10 1-16 1 11 4-6 2-1 9 3 3 2 0 3 10 67 12 247 4 42 2-37 10-252 5-90 1-10 4-11 2-1 5 0 4 3 4 0 6 3 5 13 4 6 7 8 4 0 3 3 4 5 8 2 3 0 4 4 8-6 6-1 4 3 8 25 10 45 9 53 3 10 3 4 3-29 7-146 10 90 1 7 6-45 4-17 3-5 1 7 7 60 3-10 4-30 3-11 2-1 7 66 7-66 5-18 2-6 3 9 12 65 7 20 8 6 4 0 7 5 5-18"/><path class="c10" d="M209 1426l3-2 8-11 5-15 2-2 8 18 4 9 3 2 26-19 11-14 4-3 3 0 4 3 4-1 11 7 4-1 4 1 15-8 7-2 4 3 3-2 8-1 4 2 3 7 8-4 11 11 4-6 3 4 4 1 4 5 3-3 12 16 7 3 4 4 7-5 4 3 4-5 3-2 8 3 7-9 8 1 3-6 4 1 4-2 4 0 7 5 6 7 1 3 1-3 3-1 30 2 11 5 15 3 7 0 8 2 3-2 4 2 11-1 4-1 7 0 4-1 4 1 7-1 6-3 6-1 7 4 4-1 3 3 13 3 6 7 5 10 5 20 9 51 2-4 3-25 4-84 3-44 8 49 4 12 1 0 4 1 15 0 4 1 3-2 8 3 7 0 11 1 4 2 22 1 4 2 14 2 5 5 3-4 4 7 4 2 7 1 4 4 4-5 3-2 4-1 4 4 4-6 3 7 4 1 4 6 3-13 4 1 3-6 1-17 1 15 6-4 4 3 4-2 4 3 4 14 5 7 1 5 4 55 8 163 4 45 1-15 11-256 4-44 6-15 3-1 15 4 3 3 7 15 16 16 4 0 4 3 8 3 10-1 8-4 2 2 5 5 8 14 5 11 10 26 5 8 1 0 1-3 1-6 6-59 2-7 5 20 5 7 7-11 8 3 7 9 4-1 3 0 6-5 2 3 4 16 2-2 5-15 7-5 4 5 4 0 7 15 4 1 4 7 3 0 4 5 7 0 4 4 5-13"/><path class="c11" d="M209 1407l11-18 7-18 2 1 5 12 4 8 3 0 3-3 26-55 7-21 4-6 2 0 3 4 16 47 6 8 5 2 7-4 4 1 7-3 11-1 4-3 8 7 7 1 4 6 3-1 4 2 8-2 7 7 4-4 14 10 7 13 16-32 7 5 5-1 6 4 4-4 4 0 4 0 3 3 4 0 8 6 3 6 4-2 4 4 2 6 1 9 1-8 2-2 9-4 3 1 4-3 4 0 3-3 5-1 4 1 14 9 18 15 19 6 7 0 8 2 11 1 8-4 9-12 4 0 9 11 14 2 2 0 2 4 14 84 8 74 2 5 4-39 4-191 3-41 9 78 3 14 5 0 4-2 16 2 36 14 11 2 19 6 7 5 7 0 4 10 4-4 4 3 7-1 4-6 7 4 4 4 4-5 3-2 4 7 4 0 3-11 3 1 2-3 2-6 1-16 1 7 3-11 7-2 4 6 4 0 0 5 9 117 13 324 4 51 2-36 9-269 4-87 3-146 5-20 3-1 3 3 6 0 8 7 5 13 11 21 4 2 3 7 13 12 6 4 7-4 5 1 4 2 2 2 4 17 21 114 4 20 4 8 3-31 7-156 10 95 1 10 6-56 5-25 2-3 0 3 6 71 2 10 2-6 9-68 2 10 5 73 1 12 6-83 2-12 6-25 11 71 9 43 2 4 4 4 4-1 4 2 3 7 9-15"/><path class="c12" d="M209 1377l7-7 4-7 7-5 11 33 3 4 4 0 19-30 8-16 7-23 5-3 4 5 6 16 6 10 9 11 7-3 4 1 8-5 3 0 4 2 4 0 3-2 8 7 10 5 5 1 3 3 4 6 8 2 3-4 4 2 4 7 3-3 4 1 4-1 4 4 3 7 4 5 7-3 4-9 11-9 8-2 3 3 8-5 4 6 3-6 4-1 4 2 4 4 7 2 4 4 2 4 1 14 1-13 3-1 4 2 7-2 15 4 8 6 7 9 22 9 8-2 7 0 11-3 4-2 11 0 4-3 5 2 8-9 4-2 2-1 3 2 4 8 8 9 3 2 4-1 5 3 4 8 14 67 7 52 2-4 3-31 4-131 3-44 8 60 4 17 5 2 4-2 22 1 8 3 7 1 4-1 7 2 4-2 11 4 15 3 4-1 3 6 8-7 3 13 4-8 4 3 4 0 3 3 4 0 4 4 3-4 4-1 4 2 4-7 3 5 4-4 7 9 5-5 7-19 3-1 4 1 8 5 0 3 9 60 13 289 3 41 1 8 4-67 7-190 5-100 2-94 5-16 3-2 17 4 9 18 14 18 18 12 5-2 7 4 3-2 2 2 3 7 9 44 13 51 4 15 4 6 2 0 2-13 8-115 8 56 3 13 2-6 4-21 6-10 2 4 7 29 2-2 10-24 3 10 3 25 1 0 6-32 5-14 3-4 8 22 3 18 10 33 5 14 4 5 4 1 7 11 5-13"/><path class="c13" d="M209 1447l11-12 4-8 2-3 4 1 5 4 8-1 10-9 15-8 4 0 4-4 2-1 12-1 15 2 8-1 3 1 12-2 3 0 11-4 8-8 4 3 7-6 4-1 3 3 4 1 8-1 3 3 4 5 4 2 11 17 5 11 8 13 4 2 1 0 8-5 4-6 7-3 4 0 7-9 4 3 4-2 4-6 3 0 4 3 4-2 3 1 8-2 2 3 1 6 1-3 5 5 9 0 16-5 29 6 4-2 7 3 19 1 7-1 15 1 17-2 16 2 4 2 7 0 12 7 2 6 7 19 6 36 3-8 3-21 6-101 5 32 4 17 3 6 16-1 4-1 7 0 4 2 4 0 4 2 3-1 8 2 3 2 15 1 8 3 7 0 8 4 4 0 5 2 5 11 12 12 3-2 8 1 3 3 4-5 4-2 4 4 3-1 4-6 4-3 3 3 5-10 3-17 2 9 2 0 1-2 2-1 10 5 11 2 5 45 8 136 4 47 1-16 10-211 4-33 7-9 11-2 4 4 6 2 5 13 4 5 22 14 11 3 7-2 4-4 8 1 11 14 5 10 11 27 3 4 2-1 1-3 7-60 2-7 6 24 7 0 4-7 4-1 4 8 3 9 3 2 5-6 3-1 4-6 8 26 6-20 5-7 6 3 5 4 3 6 12 12 3 2 8 10 7-1 5-12"/><path class="c0" d="M209 1396l11-14 4-10 3-3 2 2 5 15 4 9 3 1 4-2 8-18 18-33 6-16 5-5 3 1 2 4 7 25 6 13 9 10 7 2 4-4 8-2 3-5 4 1 4-4 7-2 4-6 4 7 3-5 4-1 4 3 7 1 4-6 4 10 7 1 4 6 3-2 15 27 4 2 4 7 11-7 4 4 3-1 4-10 4 1 3 4 4-9 4-1 7-6 4 3 4 0 4 4 3-3 4 4 4 0 7 10 11-2 19 1 7 4 8 8 19 6 14-1 4-3 7 0 15-4 8-1 4-3 7-10 4 0 13 19 9 3 5 1 2 3 15 76 8 66 2-4 3-34 4-155 3-48 8 68 4 20 9 0 6-2 12 1 4 3 4 0 4 2 37 9 11 4 4 0 3 2 4 0 4 3 3-6 4 4 4-1 4 10 3-4 8 5 3-4 4 4 4-10 4 8 3-3 4 4 7 0 7-13 1-11 1 5 3-5 11 2 4 4 0 3 10 77 12 268 4 46 1-12 3-62 7-189 5-96 2-76 5-15 3-1 3 2 4-1 4 1 3 3 4-1 6 14 9 11 7 7 4 0 4 4 4 1 3 3 8 1 9-2 4 3 3 13 14 69 11 59 2 12 3 6 1 0 1-4 1-12 8-168 11 97 1-5 4-29 7-24 1-1 0 2 7 49 1 1 2-4 9-30 2 4 6 35 6-31 8-25 2 2 6 26 3 9 8 40 7 19 8 12 3-1 4 5 5-12"/><path class="c1" d="M209 1428l12-20 6-16 7 17 5 11 3 2 22-22 12-14 3-2 4-4 7 8 12 5 7 8 4-2 7-2 8-6 3 0 15-13 4 0 4 3 11-10 3 5 4-3 4 4 4-5 3 6 4 5 4 1 11 14 7 13 4 0 4 6 3 2 4-5 4 2 4-3 3 3 11-7 4 1 4-8 4 5 3-5 12 3 3-4 4 7 4 4 2-3 1 24 1-23 3 3 4 0 7-3 4 1 15-6 11 2 4 3 3-1 4 4 4-2 11 7 4 3 22 8 7 1 12 0 14-7 8 2 7 4 9-1 6 2 9 21 8 37 5 38 2 4 2-9 3-34 3-94 3-47 8 55 4 15 1-1 4 2 4-2 13 1 20 6 8 3 11 2 4 2 3 0 15 2 4 2 4 0 3 3 4-3 4 6 3-1 4 8 8-9 3 2 4-3 4 14 3 0 4-15 8 11 3-7 8 2 7-1 3-5 1-7 1 2 4-4 9 2 5 3 0 2 10 36 4 75 9 191 2 28 1 10 11-244 5-82 2-69 4-12 2-1 5 0 8 1 6 6 7 17 7 13 6 8 15 13 7 3 7-4 5-1 4 1 3 3 15 48 11 39 5 12 1 0 1-3 1-8 8-111 5 34 6 28 2-4 8-26 3-1 8 34 4-5 3-13 5-3 2 4 4 23 1 4 6-32 8-16 16 45 3 5 4 2 7 10 4 1 3-3 4 1 5-14"/><path class="c2" d="M209 1389l11-14 4-8 2-1 3 3 5 15 4 10 2 3 3 0 7-8 7-14 7-11 14-30 4-3 3 3 13 35 3 4 8 8 6 0 5-2 6-4 5 0 4 4 4-2 6 3 5 7 4-4 3 5 11 5 4 3 8-3 7 9 4 0 11 3 4 4 11 6 7-8 8-2 3-7 4 4 4-5 3 4 19-12 4 0 7 3 10 8 1-1 1 2 7-1 4 2 3-3 15-2 8 3 7 6 15 7 37 13 7-1 8 3 20-10 10 4 16 1 4 8 9 40 7 36 4 39 2 3 4-34 4-136 3-47 9 69 3 12 5-2 11 0 4-2 7 3 8 1 7 5 4-1 19 6 3-1 11 4 4 0 8 3 4-1 3 1 4 4 3-2 4 10 4-6 4-1 11 9 3-3 4 5 4-4 4 2 7 0 4 4 3-2 7-1 1-21 1 15 3-10 3 3 8 1 4 2 3 13 4 2 2 4 2 13 15 273 0-1 1-14 11-249 6-82 6-12 2-2 4 3 13-1 5 12 4 4 18 5 4-1 4 4 6 2 12-2 5 4 6 20 23 98 2 6 3 3 2-4 4-43 5-95 6 49 5 28 1-2 12-51 1 7 5 44 3 8 3-5 3-26 3-11 2-2 6 51 1 8 6-55 5-26 2-3 3 5 7 38 10 41 7 4 8 7 9-1 3-6"/><path class="c3" d="M209 1384l15-27 3-3 11 24 2 1 3-2 5-14 6-27 10-28 14-53 3-7 2-1 5 15 13 81 1 3 8 11 7-2 12-14 13-2 8-4 7 2 4-3 4 5 3 0 4-2 4 6 4 1 7-3 4 10 3 0 4 6 4 1 11 17 7 6 4-2 4-4 4 7 3-10 4 5 7-5 4 10 4-3 14-5 5 7 3-2 4 6 4 3 2-1 1 33 1-31 3 4 4-1 4-2 14-5 8-5 17 11 5 6 8 3 3 4 11 2 4 2 4-1 5 2 13 0 4 1 8-2 12-12 3-1 3 2 9 14 15 2 4 12 11 64 10 78 2-5 3-36 4-162 3-47 9 77 2 11 2 4 12-4 3 1 4-2 4 2 3-1 15 4 4-1 15 4 7 0 4 2 4-1 3 3 4 0 4 3 11 1 4 7 3-7 4 12 8-6 7 5 4-3 3 6 4-5 4 7 4-2 3-7 4 0 7 6 3-3 3-7 2-15 1 0 3-13 3-1 4 3 4 0 3 2 1 7 9 123 13 344 4 65 2-36 8-262 5-120 3-178 5-27 2-2 8 1 10 8 5 20 9 27 8 14 10 14 6 7 8-3 10 2 3 3 3 14 15 79 9 54 3 17 3 6 1 0 1-4 1-12 8-184 3 21 8 94 1-7 5-57 5-26 2-3 1 12 7 85 3-14 4-53 3-18 1-2 1 0 7 116 6-100 5-33 3-10 22 138 1 3 3 1 11 11 5-2 4-5"/><path class="c4" d="M209 1419l11-15 7-19 11 25 2 1 5-2 8-14 6-6 9-18 15-18 3 4 12 26 12 10 3 1 11-5 7-6 4 0 4-3 3 0 12-8 3 6 4-4 4 3 3 9 4-1 4-6 4 0 14 19 4 1 8 16 3 3 4 7 4 0 3 3 4-2 8 4 3-8 11-2 4-7 4 1 4-6 3-3 4-1 8 1 3-5 4 7 6 4 1-10 1 11 14-1 4 3 11 0 11 6 8 1 11 4 9 1 9-1 4-2 19-7 11-3 5 1 9-6 3-1 5 3 10 11 9 3 6 4 3 5 10 35 5 24 5 34 2 9 2-9 3-37 3-98 3-46 8 56 4 16 20-1 22 6 19 3 7 3 8-1 11 4 11-1 4 4 7-3 4 7 4-1 7 0 4-2 3 7 4 2 4-2 7 1 4-5 4 0 7 9 3-6 1-13 1 4 3-10 3 0 10 3 2 1 0 2 10 52 12 240 4 48 1-15 11-267 6-95 5-10 3-2 6 2 11 5 5 16 5 10 10 11 12 8 9 3 14-6 3 1 10 16 10 25 9 29 5 9 1 1 1-3 1-7 6-81 2-7 4 23 6 23 1 1 1-1 9-24 3 0 8 40 4-15 3-9 4-13 1 0 7 47 7-45 6-16 2-1 3 8 4 24 3 6 5 20 6 16 4 3 4 7 4 0 3 3 5 0 4-11"/><path class="c5" d="M209 1420l3-3 8-12 4-15 3-4 11 24 2 3 2 0 27-41 9-16 5-4 7 12 4 9 12 15 10 2 4-3 4 0 7-7 19-4 7 0 8-5 3 6 4 0 8 3 3 0 4 3 4-1 3 3 8 14 4 0 11 10 11-1 7-4 8 3 3-4 4 2 4-2 4 1 3 3 4-1 8 1 13 5 1 14 1-12 3 4 4-2 11-1 4-2 14-5 12 2 26 8 3-1 8 1 7-2 8 1 16-1 10-9 3-1 12 12 7 3 7 0 5 7 12 50 10 65 2-4 3-30 4-123 3-44 8 59 3 14 2 3 19-2 22 3 8 2 11 0 30 8 3 5 4-5 7 13 4 2 4-3 4 7 3-4 4 3 4-2 3 0 4-7 4 5 4-4 3 9 4-3 4 2 10-12 1-27 1 24 4-6 3-1 7 0 4 4 9 38 5 79 8 165 4 47 1-15 11-260 6-91 5-11 3-1 7 2 10 5 5 14 4 7 18 18 8 2 3 4 4 0 7-5 4 0 4-2 3 3 7 15 8 25 11 49 3 13 3 5 1 1 1-4 2-20 7-118 6 54 5 22 1-2 9-34 3-6 2 9 5 35 1 3 1-1 10-43 8 52 2-6 5-41 5-15 2-3 3 5 5 25 12 48 2 2 4 2 4 11 2 1 2 0 3-4 5 0 4-9"/><path class="c6" d="M209 1358l6-9 9-36 3-4 7 46 3 17 3 7 2 1 3-2 12-18 13-25 4-13 6-36 5-12 3 3 5 17 8 44 8 14 3 0 3-3 9-17 7-8 4-1 4 1 7-2 11 0 4 4 4-2 3 7 8 4 4-3 3 1 4 8 4 2 3 7 4-2 4 9 4 6 3 12 8 6 7 10 8-3 7-7 4-6 7-5 4-10 4-2 3 2 4-5 4 3 4-7 3 7 8 2 3 7 4-1 11 5 4-1 4 2 3 0 8 3 15 15 15 11 7 1 11-2 8 2 26 0 4-4 9-12 2-1 3 2 9 16 6 4 7 2 4 6 13 80 10 81 2-5 3-37 4-175 3-45 8 72 4 21 13 0 7-1 22 6 8 4 7 0 11 5 11 2 4-2 4 2 5 0 2 3 8-4 3 10 4-3 4 4 7-2 4-6 4-1 3 5 4 2 4-9 4 5 3 1 4-7 4 7 3 3 7-16 1-27 1 18 3-12 2-3 13 5 10 166 16 411 0-1 2-42 9-310 5-124 2-157 3-25 3-9 5 0 4 3 4-1 6 7 5 21 8 25 7 15 7 12 8 8 7 5 4 0 7-4 3 1 2 3 4 17 24 124 3 13 3 5 1 0 1-4 1-10 8-157 11 95 10-68 3-7 1 9 7 69 2-6 7-51 2-8 1 0 7 78 6-68 6-32 1-4 2-1 3 10 6 35 13 96 3 6 8 20 3 4 5-2 4-15"/><path class="c7" d="M209 1358l3-2 2-4 13-47 9 56 3 13 2 1 2-1 25-80 9-36 4-6 3 2 3 10 13 81 10 20 10-2 22-10 4 2 4-2 4 0 3-1 4 8 7-7 4 1 4-2 4 7 3-11 4 2 4-1 15-9 3 1 4-3 4 2 3-3 4 4 4-2 4 3 3-4 4 4 4 0 3-3 8 8 4-1 3 2 8-2 4 4 5 8 6 2 2 3 1-3 1 6 3 4 4-1 15 2 3 2 6 1 9 7 8 10 18 13 15 2 19 1 3-2 12 2 7-8 5-8 3-2 3 2 8 14 7 2 4 3 5 0 2 4 15 95 8 74 2-5 3-36 4-194 3-39 9 78 3 14 16-2 26 7 23 10 7 0 19 5 3 2 4-7 4 8 7 0 4 6 4 1 11-6 3 5 8 1 4-4 3 0 8-3 7 4 3-9 1-20 1 11 3-11 11 3 4 4 0 5 9 100 13 303 4 33 1-13 3-60 7-204 5-106 2-92 5-15 10-1 10 2 9 16 18 17 4 1 4 4 6 3 5 0 7-3 6 4 3 15 25 152 5 16 1 1 1-5 2-28 7-181 5 45 5 92 1 13 6-96 4-27 3-6 1 14 5 80 2 12 3-16 4-57 3-20 2-2 7 136 7-131 5-24 1-3 2 0 3 9 19 148 11 21 8-1 4-11"/><path class="c8" d="M209 1439l8-9 9-18 4 3 5 10 3 1 4 4 8-9 7-5 4-1 3-5 12-3 4-4 8-1 26 5 33-4 7 1 3 4 4-4 4 5 7-2 4 4 4-6 3 6 4 2 4-1 3 10 4-4 4 9 7 9 4-5 7 2 8-9 4 4 3-3 4 1 4-2 3-7 4 2 4-1 4-6 3 5 4-4 4-1 4 6 7-8 4 2 2 7 1 13 1-11 7 2 7-2 23 0 11 1 11 4 4 0 11 4 18 0 4 2 7-2 14 2 12-5 26 7 8 4 4 5 3 8 6 18 5 33 2 3 5-33 3-60 3-46 6 38 6 20 27 0 4 2 4-2 7 3 4-1 7 2 8 0 11 2 4 0 3 2 4-1 4 2 5 1 2-3 4 8 7 7 4 7 4-1 4-8 3 11 4 0 4-4 3 0 4 9 4-9 4-4 3 0 4 10 4-7 3-4 5 0 2-2 1-23 1 19 4-7 14 4 4 8 5 4 1 4 4 50 8 160 4 52 1-14 11-246 5-52 5-12 2-1 13 0 6 4 5 14 4 0 3 7 8 6 3-1 15 9 4 0 4-2 3 0 6-2 3 0 6 11 23 54 6 7 2-8 6-60 2-7 5 20 6 8 1-1 4-8 5-5 5 7 6 11 3-2 3-6 5-4 2 2 5 17 1 3 6-16 5-8 3 0 11 13 4 10 8 10 3-4 4 2 7 9 4-2 1-2 4-13"/><path class="c9" d="M209 1368l4-4 7-13 4-4 2-1 3 3 5 22 3 8 3 6 4-1 20-37 15-38 4-5 3 6 5 22 8 20 10 17 11-2 8-5 11 2 7-3 8 2 3-6 4 7 4 4 3-3 4 1 4 5 4 0 3 3 8 9 3-2 4 5 4 10 4 3 7 13 4-2 3 2 4 0 11-5 4 2 7-7 4 2 4-6 4 1 7-7 11 3 4 4 4-3 2 6 1 11 1-8 3 1 31-10 6 2 5 4 21 10 19 3 15-3 3 2 8-3 5 0 9-9 4-2 13 14 6 3 7 1 5 8 14 65 8 61 2-5 3-31 4-138 3-46 9 69 2 9 2 3 4 1 8-2 14 1 8 3 11 1 7 3 4-1 8 2 3-1 8 3 3 0 4 3 18 0 4 4 4 1 4-3 4 4 3-7 4 6 4 0 3-3 4 3 4-4 7 3 4 5 4-3 3 1 3-1 2-3 2-6 1-22 1 16 4-8 6 2 8 5 8 66 14 269 4 40 2-40 10-261 5-90 1-9 3-5 3-3 5-1 4 2 10 0 5 14 4 7 7 3 4 4 3-1 4 3 4 0 4 3 6 3 15-6 2 1 6 16 14 59 9 48 3 10 2 2 1 0 1-4 1-10 8-145 11 87 1-4 8-53 4-11 8 73 3-7 7-50 1-3 1 2 6 63 1 9 6-64 5-24 2-4 2 1 2 6 10 58 6 22 2 1 2 0 3 8 4-7 4 7 3-2 5-1 4-8"/><path class="c10" d="M209 1409l7-6 8-14 3-2 3 4 8 24 2 2 3 1 25-27 15-23 4 3 3 0 12 11 9-1 17-7 3 2 4-1 11 3 4 0 15 7 3-1 4 5 8 4 11-1 3 7 4-1 4 6 4 1 3 7 4-1 4 0 3 4 4-4 4 0 7-6 11-4 4-2 4 0 4-4 3 4 4-5 4 4 15 3 2 4 1 8 1-6 11 3 3-2 15 4 4 0 22 10 11 3 23-4 14-5 13 0 13-9 12 11 7 2 4 2 3 0 5 7 12 48 9 58 2 10 4-33 4-133 3-46 8 62 4 18 1 1 12-4 6 0 12 3 8 4 3-1 8 5 11 1 7 3 4-1 4 2 3 0 15 7 4-5 7 6 4 8 4-3 4 14 3-12 4 1 4-4 3 3 4 5 4-3 4 4 3-2 4 2 4-12 3 13 3 0 9-20 3 4 4-2 4 2 4 5 3 8 5 7 3 19 3 53 9 188 2 27 1 10 12-258 4-57 2-47 5-12 6-2 8 2 6 5 9 23 7 11 4 4 3 0 8 9 14 3 10-4 6 3 11 26 16 61 5 8 2-11 8-108 10 55 1-1 6-17 4-5 2 0 2 4 7 24 5-14 7-7 3 4 3 17 6-17 6-8 3-2 4 10 4-1 3 13 8 14 7 8 4 0 4-3 3 7 6-7 3-8"/><path class="c11" d="M209 1373l4-5 7-12 4-4 1 0 4 4 5 17 4 11 2 2 4-1 26-51 7-19 2-4 3-2 4 5 4 20 8 23 8 17 4 5 10-3 8-4 3 1 15-3 8 5 7 1 4-1 11 3 4 5 7 3 4-5 7 6 4-2 11 15 8-2 5-7 6-5 7-1 4 5 3-5 16-6 5 1 6 5 7 0 6 2 1 12 1-11 4 3 3 1 7-2 19-11 22 14 15 12 7 3 4 0 4 2 4-1 11 3 16-1 10-11 4-1 3 2 8 11 7 4 4-2 5 3 3 7 13 66 9 68 2-5 3-34 4-147 3-45 7 60 5 25 9 2 4-1 9 0 13 3 11 5 22 4 4 2 7 1 4-1 8 2 3-2 4 2 4 0 3 2 4-4 4 4 4-4 3 7 4-3 4 3 3-6 8 6 4-6 3 0 8 4 3-3 7-10 1-13 1 6 4-14 2-1 12 5 9 121 13 303 4 29 1-12 3-60 6-183 6-133 2-98 4-12 2-2 9 2 4-1 6 3 5 11 17 21 20 13 7-3 7 1 3 3 5 22 23 132 2 12 3 7 1 0 1-4 1-12 8-183 2 10 9 98 1-5 5-46 5-22 2-1 0 3 7 58 1 2 2-4 5-25 4-11 2 5 5 35 1 6 7-45 5-17 3-5 3 6 15 80 7 20 15 15 5-11"/><path class="c12" d="M209 1414l11-16 5-12 2-1 3 4 8 25 2 1 5-1 12-15 4-3 16-23 4-5 3 0 3 1 14 17 9 6 3 0 3-4 8-1 7-5 4 2 7-2 8 1 4 5 3-5 4 4 4-1 3 7 8 2 4-2 3 4 8-3 7 6 4-1 4 5 3-3 4 6 7-6 4 3 4-7 7-4 11-2 4 2 4-7 4 4 3-2 2 1 10 11 3-2 8 8 2-2 1-4 1 5 4 4 7-1 14-6 4-3 8-2 11 7 7 2 15 8 22 5 4-1 19 4 12-10 4-2 6 1 4 4 16 1 4 10 11 60 10 71 2-5 3-34 4-141 3-43 9 71 2 10 2 3 4 1 4-2 4 2 14-1 30 7 19 2 15 4 3 5 4-4 4 3 3-5 4 13 4-7 5 6 10 0 3 4 4-6 4 0 4 5 3-6 4 1 4-2 7 1 3-11 1-26 1 20 3-3 3 1 4-2 4 4 4 1 9 55 5 91 8 166 4 44 2-37 10-250 6-102 5-10 3-1 7 3 4 0 6 4 9 22 14 15 4 0 8 8 7 1 7-3 6-5 3 0 3 2 7 19 7 32 12 72 3 12 3 5 3-29 5-132 2-21 6 46 5 56 1-7 8-59 2-8 2-1 7 69 1 3 2-5 7-46 2-7 1 1 7 68 6-60 5-25 2-3 3 4 12 64 6 19 2 2 4 1 4 6 11-3 5-12"/><path class="c13" d="M209 1402l7-10 4-10 5-9 3-1 3 5 4 12 5 6 3 0 25-50 9-21 3-6 3-1 7 23 9 21 6 12 6 4 13-4 4-3 3 2 8-5 7-1 4 4 4-2 3 4 4-3 7 6 8-1 4 6 7-1 4 1 3 4 4 0 4 5 4 1 3 5 4 1 4 7 3-1 8-7 7 0 4 2 11-11 4 3 4-5 3 0 4-3 4 4 4 8 7 2 6 5 1 23 1-21 3 1 26-6 5 0 29 15 9 3 28-2 3-2 8 1 11-4 5-3 2-1 13 16 15 7 4 6 10 35 6 31 4 38 2 5 3-17 2-29 3-122 3-52 8 65 4 17 16-5 4 2 4-1 3 3 4-1 8 5 18 6 4 2 7 1 11 3 8 1 7 5 4-2 4 0 3 2 4 6 4 2 11-8 7 8 8-3 4-3 3 8 4-3 4 1 3-2 4 1 3-7 5-19 7 3 8 5 0 4 9 77 13 294 4 41 0-1 2-27 9-237 4-77 3-117 5-14 6-2 14 3 9 17 7 10 4 2 7 9 8 3 3 4 4-1 4 3 3-2 7 0 2 2 6 23 23 119 2 12 3 5 1-1 1-5 2-24 7-151 2 8 9 93 1-7 8-61 1-6 2-1 2 13 5 52 2 8 2-6 5-38 3-12 2-2 7 73 6-65 5-25 1-4 3-1 3 8 4 28 9 51 5 19 8 7 4 6 8-1 4-7"/><path class="c0" d="M209 1387l15-17 3-2 11 33 2 3 3 1 7-4 26-35 5-1 3 3 6 16 8 11 11 11 4 1 15-5 7-9 7-4 8-8 7-3 4-5 18 0 8 3 4 5 3 2 12 11 7 15 4-3 7 0 4 5 7-8 8-1 3-5 4 3 8-6 3 2 8 1 4 2 3 1 4-1 4 7 2 1 1 29 1-28 7 0 15-4 3 2 8-3 12 6 6 2 8 4 7 2 34 7 7 0 4-1 6 1 9-6 7-1 11 8 4 0 10 4 4 6 12 44 7 46 2 9 3-18 2-26 3-101 3-47 9 62 3 10 1-1 4 2 8-4 3 2 11-2 4 2 30 7 4-1 14 3 4 4 4-2 7 4 8-1 3 9 4-6 4 8 4-6 3 5 4-10 4 15 7-9 4 8 4-3 3 9 8-2 3-3 4 5 3-11 1-28 1 22 3-4 3 2 5-2 7 4 10 39 4 68 8 161 4 45 1-15 11-258 5-68 1-6 6-10 2-1 3 2 8 0 6 2 7 13 13 8 3 4 4-1 15 4 15-4 9 27 21 93 5 15 1 0 1-4 1-10 8-144 2 9 7 66 2 13 2-7 4-32 4-16 3-7 1 8 7 56 3-9 6-37 3-6 7 70 6-63 5-24 2-4 3 5 13 68 8 20 7-1 7 4 5-4 4-10"/><path class="c1" d="M209 1376l3-3 8-13 7-6 11 32 2 2 3-1 18-32 17-41 5-5 17 51 7 12 6 4 6-2 5-4 7-3 4-3 11-4 4-4 4 1 3-2 4 3 4-1 3 6 4-8 4-2 4 10 3-6 8 7 7 11 4 2 7 19 6 5 10 0 3-2 4-5 3 2 4-2 4 2 7-9 8-3 3 1 4 3 4-1 4 2 3-3 4 9 4 1 2-2 1 11 1-10 3 5 4 0 18-7 8-2 15 10 3 1 8 7 4-1 3 3 11 1 12 0 3-1 4 1 4-2 3 1 13-1 12-12 3-1 10 15 14 3 4 5 14 73 9 69 2-5 3-35 4-153 3-47 8 69 4 20 5-1 4-1 19 2 18 9 7 1 4 2 8 1 3 3 19 1 5 3 6-1 4 3 3-3 12 4 3-3 4 4 4 0 3-4 4 7 4 1 4-7 3-2 4 2 4-6 7 13 3-12 1-28 1 21 4-11 2-1 10 2 2 2 0 4 10 92 12 263 4 35 2-36 10-264 3-53 3-68 3-5 5-4 3 2 8-1 3 3 3-1 4 8 4 5 8 5 4-1 3 3 4 0 11 4 4 4 7-2 4-2 5 3 8 33 21 108 2 10 4 7 5-61 5-117 11 97 0 1 1-4 5-46 5-22 2-4 1 9 7 73 7-53 3-12 2-2 7 78 7-80 5-23 2-4 3 8 18 111 2 4 3 0 4 10 4-1 3 7 4 0 5-11"/><path class="c15" d="M209 1374l11-17 7-5 11 31 3 3 3-2 25-50 10-28 4-4 3 4 5 20 8 20 10 16 7 0 23-8 8-2 14 2 17 3 8 5 9 7 16 25 6 4 6 0 10-4 11-5 14-10 6-2 9 3 18 10 8 0 16-5 7 0 11 11 11 7 8 4 8 3 43-3 4-2 8-11 3-1 12 16 15 4 2 4 15 85 8 68 2-5 3-37 4-165 3-49 8 72 4 21 15-2 9 1 86 23 8 1 42 0 2-3 7-24 7 0 8 4 10 118 9 226 5 215 2 33 7-307 9-217 2-111 6-43 2-11 2-2 4 0 3 1 2 3 10 48 15 24 7 8 12 10 4 1 14-1 3 3 6 28 22 126 5 19 1 0 1-4 2-29 7-168 3 20 8 94 1-6 5-55 4-21 3-7 1 11 6 72 1 3 2-6 7-55 2-8 1 1 7 83 6-75 5-28 3-9 4 13 14 96 4 18 7 11 8 6 5 1 4-5"/></g>
<g fill="none" stroke-width="1.5" stroke-linejoin="round"><path class="c3" d="M1444 1511l6-7 13-32 7 18 6 10 7-3 6-9 4-1 7-5 6-8 6-15 5-14 3-3 3 2 10 18 6 2 10-1 3-1 4 1 8-4 15 3 7 5 4 5 3-2 4 3 11 3 8 7 4-1 7 5 4 0 3 6 8-1 4 5 7 0 4-3 4 1 3-8 4 4 4-4 3 0 4-4 4 5 4-1 3-3 4 3 11-1 4 1 4 6 7-3 7 8 4 3 4-1 4 1 9-2 7-10 2 0 14 13 5 2 8 1 7 3 11 1 8 0 7 1 4-2 15-3 3-2 12-2 5 0 13 11 4 0 7 1 4 4 16 55 7 42 1 3 3-17 2-24 3-98 4-57 4 47 4 26 3 10 13-4 7 0 4 3 7 1 15 6 4-1 11 1 4 2 4-2 3 2 4 0 4 1 10 2 12 7 4-4 4 9 11 13 4-2 3-7 4 6 4-2 7 3 4-1 4-4 3 2 4-3 3 1 2-3 5-20 1-1 4-1 4 2 4 6 3 2 11 53 14 155 1 8 2-5 3-18 7-124 4-62 6-39 4-12 7 2 6-2 8 9 6 1 3 2 4 1 7 7 4 0 4 5 11 7 4-1 4-8 7-5 7 18 12 39 9 54 7 23 1 0 1-2 1-6 11-125 3-21 1 0 1 7 6 75 2-10 5-42 2-8 2 6 6 58 2 2 3-6 6-36 2-7 6 57 1 3 1-1 3-13 6-57 2-9 2-2 4 9 4 22 4 12 5 32 5 23 2 1 3 0 4-4 3 1 4-5 4 2 4-4"/><path class="c4" d="M1444 1488l6-8 10-26 3-4 2 4 5 19 4 11 3 2 4-3 10-12 10-8 7-15 8-27 2-3 2-1 6 11 8 20 7 5 8-2 3 1 12-3 3 0 4-6 4 1 11-7 4 0 3-2 12 8 7 0 4 5 4 1 3 5 4 1 7 17 12 13 11 9 4-4 3 1 4-6 4 1 3-2 8 2 4-3 7 4 4-3 7 4 4-1 4 7 3-2 7 5 1 4 1-2 4 3 6 0 13-3 7-12 2-2 14 13 9 3 4 3 3-1 8 2 7 4 4-1 4 2 3-1 12 2 3-2 8-1 20-8 13 8 4-1 9 0 4 10 14 66 8 51 1-7 3-33 4-114 4-49 6 59 3 17 3 6 16 2 11 0 7 3 26 2 11 0 8 2 7-2 5 1 7-2 7 7 7-9 4 2 4 7 7 3 4-5 8 3 3-4 4 3 4-6 3 6 7 1 4-21 1-26 1 16 1-2 5 2 8 4 3 3 1 5 4 44 6 45 9 99 5 84 2-4 4-36 12-225 5-34 4-12 14 2 13 16 7 4 11 11 14 9 3-1 10-10 4-1 3 2 6 18 9 34 10 73 5 26 2 7 3-20 10-165 3-25 2 15 4 87 2 19 2-9 7-75 2 6 4 55 3 15 2-3 2-7 6-34 1-5 1 0 7 61 3-12 8-66 2-4 4 7 5 18 9 49 4 17 2 2 4-4 4-1 3 7 4-7 4-4 4 0"/><path class="c5" d="M1444 1515l7-10 12-34 2 1 9 21 2 0 6-6 9-19 2-2 4-1 7-10 15-43 7 13 7 18 6 8 13 0 4-1 8 0 15-5 7 5 4-6 3 10 4 2 4-4 4 3 3 2 4 5 11 6 4 4 4 0 3 5 4 2 8 12 3-2 4 6 4-6 4-2 3 2 4-7 15-2 4-4 3 2 4-3 4 0 4 3 3-2 4 2 4-3 3 6 7 2 1 11 1-9 3 3 7 0 4 2 4-2 3 3 9-10 2 0 4 5 8 13 3 0 8 5 15 2 22-5 4-2 7-1 8-4 3 0 8-3 8 0 12 12 6 3 7-1 4 5 17 79 5 40 2 11 2-11 3-44 3-117 4-58 4 55 4 27 3 10 5 0 4-2 11 0 4 2 11 1 15 5 11-1 4 2 4-1 11 1 4 2 7 0 4-3 4 5 3-3 4 0 4 4 3 9 4-1 4-3 7 3 4-3 4 2 4-1 3-2 4 7 4-2 3 6 7-3 1-2 3-19 1-25 1 17 2 3 4 1 11 11 11 65 9 113 5 85 1 13 3-16 3-33 12-242 4-31 4-15 4-1 4 4 8 5 7 9 15 29 8 12 10 7 7 0 5-6 7-6 7 8 12 41 14 99 3 15 3-21 10-170 3-27 1 0 1 11 6 116 2-9 5-74 2-10 2 9 6 75 1 2 2-4 9-52 2 7 4 47 2 9 2-3 2-11 7-69 3-6 4 5 1 6 6 27 6 42 4 20 6 3 4-3 3 3 8-2 4-3"/><path class="c6" d="M1444 1481l7-10 10-21 2-2 11 40 2 2 6-1 7-7 4-1 10-8 14-29 2-1 13 29 9 3 4 3 4-3 3 3 4-3 8-2 3-3 12-4 3-7 4 3 7-8 12 1 3 4 4-2 4 4 4 1 3 8 4 2 4 9 3 1 4 5 4 11 7 9 4 0 4 4 4-4 3 0 4-4 4-1 3-6 4 2 4 0 7-3 8 2 4-3 3 1 4 7 11-4 3 3 1-9 1 12 4 4 17 3 9-9 2-1 8 6 4 6 3-1 4 2 8 0 7 3 4-3 4 1 18-6 15-8 22-5 15 15 8 1 5 1 2 3 17 60 7 35 2-9 3-31 3-85 4-50 7 59 3 14 2 2 4 1 8-3 4 2 3-1 4 2 15 2 7 2 4 2 8-1 7 1 26 2 4 3 4 6 3-6 4-1 4 2 3 8 4 0 4-6 4 14 3-7 4 1 4 4 4-5 7 4 4-2 3-8 4 6 3 1 3-12 2-20 1 4 1-2 9 3 7 7 1 3 10 63 9 93 5 70 1 8 5-27 12-209 5-34 3-10 1 1 4-5 4 3 5 1 6 8 8 13 7 5 7 8 4 2 8 7 3-1 4 2 2-1 6-6 7-5 4 3 7 17 7 22 11 64 5 22 2 5 3-17 10-131 3-21 2 8 6 76 2-4 6-42 2-4 5 41 3 9 11-31 2 4 4 26 2 5 11-40 2-5 2-1 15 45 7 13 4 1 4-3 3 5 4-3 4 0 4-3"/><path class="c7" d="M1444 1520l8-10 10-31 2 0 1 1 9 19 2 2 3-2 6-7 8-13 4 0 7-8 15-30 13 30 9 6 8-1 3 0 4-2 8 0 7-5 4 1 4-3 3 0 8-7 7 1 4-3 4 5 3-5 4 5 4-2 4 8 3-1 4 6 7 16 4 0 4 4 4 7 3-1 4 6 4 0 4-7 3 4 4 0 7-7 4 4 8-5 3 1 4-2 4 4 4-5 3 2 4-1 7 4 12 11 11 2 8 4 7-7 3-1 4 3 4 5 6 5 16 2 8-1 3 2 4-3 15-4 8-5 3 2 4-3 7-1 12-5 6 1 9 6 7 3 7 0 4 4 17 56 7 34 2-9 3-30 3-81 4-48 7 57 3 13 3 3 3-1 15 0 8 2 3 0 4 2 8 0 7 2 19 0 7 2 4 0 4 2 7 0 8 10 3-4 4 3 4-2 3 11 8 7 4-6 3-1 4 5 8-8 3 3 4-5 4 0 3 4 7 0 4-14 1-17 1 5 2-6 9 5 6 6 11 56 14 152 3-7 3-21 6-106 4-62 7-38 4-11 8 2 4-1 10 23 5 6 3 2 4 4 7 2 8 5 11 3 11-11 6 0 9 9 4 8 5 16 9 61 7 32 3-17 10-140 3-19 2 9 6 82 6-47 3-8 6 33 2 9 4-2 7-17 2-1 6 24 3 1 2-3 7-27 2-4 2-1 4 6 14 43 2 3 6 5 4-1 3 1 8 0 4-9"/><path class="c8" d="M1444 1511l7-6 11-29 2-1 1 2 9 23 2 1 5-1 8-11 14-10 13-26 3-3 4 3 8 17 3 3 11 0 4 1 7-2 4 0 11-3 4 0 4-3 3 3 8-5 3 2 4 6 4-6 4 3 3 0 4 6 4-7 4 11 3-3 5 10 3 2 3-1 4 6 4-2 11 12 4-1 7-4 4-1 11-6 4 4 7-4 4 1 4 8 4-6 3 3 4-1 7 8 4-7 4 15 1-3 3 1 7 0 11 2 11-12 13 11 14 5 7 0 7 0 27-8 3 0 4-3 4 0 7-3 8 1 11 7 4 5 14 6 5 5 10 19 13 43 3-8 2-16 3-75 4-57 7 56 4 14 8-5 5 0 4-2 3 3 11 2 4 3 15 7 8 2 3-1 8 1 3 0 4 2 11 2 8 1 4 4 3-1 4 2 7 9 4-3 11 7 4-10 8 7 3 1 4-5 4 4 3-3 4 8 4-9 3-16 1-28 1 18 1-2 9 3 7 7 1 4 4 33 6 40 14 170 1 0 2-8 3-23 11-201 6-41 3-9 9 1 4-2 7 9 4 9 4 2 7 10 7 4 4 4 4 1 11 6 11-12 5 1 4 4 6 12 8 22 10 62 5 19 2 5 3-16 10-125 3-22 2 9 6 73 2-5 5-35 2-5 2 4 6 35 2 0 2-2 8-19 1-2 7 27 2-2 5-14 4-19 2-3 2 2 3-1 4 10 13 60 10 11 3-2 4 2 8-5"/><path class="c9" d="M1444 1475l6-9 10-22 3-3 9 33 4 6 3-1 13-18 5-1 5-8 16-36 2 0 3 6 9 30 6 10 7 3 11 1 8-2 7-6 8-8 11-6 3-4 8 2 4-3 3 7 12 6 3 7 4-1 7 16 4 0 15 22 4-6 4 3 3-4 4 0 4-5 3 1 4-3 11-1 4-5 4 6 4-6 3 4 8-3 3 6 4-4 3 5 1-5 1 7 21 4 3-2 7-9 1 0 4 3 9 14 10 5 7 1 4 2 4-2 3 2 8-3 7-1 4 1 22-10 8-1 7 1 15 17 4 1 4 3 3 0 4 5 15 51 8 46 1 4 2-9 3-33 3-96 4-55 4 45 7 36 2 0 7-3 9 0 13 4 15 9 4 0 4 2 7-1 8 3 22 0 4 3 4-1 3-3 8 11 3-6 4 0 4 4 7-2 4 5 8-7 11 8 3-8 4 14 5-9 3-18 1 1 1-2 2-2 3 1 8 5 3 4 11 53 9 94 5 74 1 11 2-4 3-18 13-226 4-28 4-12 12 2 2 2 20 30 7 8 4 2 4 5 4 0 3 3 4 1 9-8 4-1 6 1 7 16 8 21 9 54 4 12 4 8 3-15 13-125 2 8 6 60 2-3 5-36 2-4 2 5 6 40 2 2 3-3 4-19 3-8 1 0 6 36 1 2 1-1 3-8 6-33 4-8 3 3 2 7 11 41 7 22 4-4 4 4 6 2 7-2 2-3"/><path class="c10" d="M1444 1458l6-8 6-12 7-2 7 33 5 12 2 3 2 0 6-3 4-4 9-2 3-3 7-12 10-30 2-1 6 9 6 14 9 6 4-3 7 0 8-2 4 1 15-4 3-3 4 2 7-4 4 4 8 5 3 0 8 7 7 2 13 12 2 0 4-4 11-4 4 0 4 5 3-6 4-2 4 6 3 1 4-4 8 3 3-3 8 5 7 2 4-2 4 4 3-1 4 9 3-3 1 5 1-4 3 2 7 1 4 1 8 0 10-11 12 15 7 6 15 3 11 1 19-5 4 0 7-5 4 1 7-4 4 1 7-2 13 16 6 2 7 0 3 3 18 82 7 54 1-4 3-34 4-137 4-59 4 55 4 27 3 11 13 0 11-2 4 2 3 0 19 4 4-1 4 2 11-3 18 3 8 3 5 7 2 0 4 1 4-5 3 7 4 5 4-2 4-8 3 9 4-4 4 7 4-2 7 1 4-8 3 7 4-4 3 3 1 0 3-18 1-22 1 9 1-4 2-1 3-1 4 2 7 6 1 6 4 58 6 48 9 127 5 137 1 18 5-66 13-335 4-39 4-18 0-1 15 9 8 8 4 2 14 35 13 17 6 4 8-9 6-5 2 0 3 5 7 25 9 47 14 134 2 15 3-28 9-200 4-47 2 14 6 133 2-13 5-88 2-9 3 20 4 58 2 10 3-8 8-52 2 8 5 58 1 3 1-1 3-15 7-67 3-9 9 29 13 87 9 7 7 4 4-7 4-3"/><path class="c11" d="M1444 1473l6-6 10-24 3-4 7 31 5 10 3 3 7-8 4-8 9-5 4-3 16-35 2 1 3 5 9 32 7 7 6 5 4-2 3 1 4-1 4 0 7-5 4 0 8-10 14-5 4-5 8 4 3-3 12 13 3 0 4 8 4 1 3 5 8 5 4 4 4 8 7 5 4-10 7 2 4-5 3 2 4-5 4 2 4-1 11-8 4 2 3-6 4 4 4 0 3 4 7-2 1 15 1-13 3 3 15 3 4 2 7-7 3-1 4 3 6 9 5 6 4 1 4 3 7 1 8 3 3-1 8 1 4-2 3 2 15-2 4-3 4 1 11-5 8-2 3 1 10 10 14-4 3 7 15 89 8 70 1-8 3-42 4-157 4-61 4 63 4 28 3 12 9-1 4-2 7 1 11 4 4 4 8 2 7-1 22 6 15 0 4 1 4-1 7 2 4 6 4-7 3 9 4 3 4-6 15 7 7-3 4 4 4-6 3 6 8-6 3-12 1-14 1 4 1-4 5 1 11 8 11 90 9 101 5 84 1 9 5-36 13-256 4-28 4-13 12 0 15 18 3 8 11 13 9 9 8 6 3 0 3-1 5-8 4-3 3 1 3 3 6 17 9 31 10 70 5 25 2 7 3-20 10-151 3-26 2 13 4 76 2 16 9-65 2 4 6 53 1 1 2-3 6-23 2-5 2-2 7 40 3-6 6-35 4-14 2-3 4 8 14 58 2 8 6 2 4 7 3 2 4 0 8-7"/><path class="c12" d="M1444 1512l8-9 11-30 2 1 8 21 4 4 4-3 4-7 8-8 7-4 11-19 7-8 8 20 7 11 5 3 11 3 3-3 4 1 8-3 7 0 4-3 15-5 7 2 4-5 4 3 3-2 4 3 8 1 3 9 8 3 3 4 12 14 3-4 4 6 4-3 4 3 3-3 11-5 4-4 8 4 3-6 14 3 5 4 4-2 10 6 1 22 1-20 6 3 12 0 6-4 6-11 2-3 5 2 8 7 10 2 15 5 15 1 7 2 11 0 15-5 4 1 10-2 10 7 15 4 3 4 15 51 8 41 2-10 3-31 3-88 4-53 4 43 4 26 3 10 17-3 29 7 15-1 4 2 4 0 3 2 4-2 19 4 11 10 4 0 7 5 4 5 4-8 3 8 4-4 4 0 7 3 4-4 4 7 3-7 4 10 3-2 2-6 2-11 1-22 1 11 1-3 5 2 4 6 7 6 10 25 1 9 9 93 5 73 1 10 2-2 3-13 13-217 5-35 3-9 4 2 4-1 11 9 4 9 15 21 3 7 8 8 11 4 12-11 4 1 3 3 7 14 7 18 11 55 5 14 1 2 2-3 2-12 13-121 2 9 6 65 2-10 5-36 2-7 2 5 7 57 2-2 2-7 5-28 2-5 1 0 7 56 3-10 6-52 3-12 2-3 19 66 4 2 4-3 4 3 3 0 4-4 4 1 4-5"/><path class="c13" d="M1444 1476l8-8 7-17 3-1 3 4 5 20 6 18 6 1 7-6 8 1 4-5 7-10 11-29 5 5 8 15 6 1 7-1 11-4 8 2 3-3 4 1 4 2 11 3 4 6 7-3 4 7 4 3 3-1 4 4 4-3 7 11 4-6 4 2 3-1 4 5 8 1 3-3 4 4 8-6 3-1 4-5 4-2 3 6 4-8 4 3 7-2 4 4 5-2 3 1 3 5 4-2 4 2 3 6 4 0 3 2 1 12 1-8 3 4 7-1 12 2 10-11 3 2 10 12 6 3 19 4 11-2 4 1 11-1 7-3 4 1 4-4 3 0 16-7 5 3 6 7 16-3 4 11 14 74 8 67 1-6 3-38 4-150 4-60 4 61 4 28 3 12 2 0 11-3 4 1 7 0 22 8 4-1 8 0 3 3 4-1 11 2 11 0 8 4 4-1 7 5 7 1 4 7 4-4 4-2 3 5 4-3 4 5 7-1 4 3 4-1 3 1 7-2 5-25 2-4 9 3 7 8 11 79 9 101 5 78 1 10 5-34 13-244 4-29 3-11 6 0 10 4 26 36 15 13 5 0 9-11 3-2 4 1 4 6 4 13 9 32 9 65 8 39 3-18 9-147 4-31 2 10 6 90 6-50 3-9 6 33 2 8 3-1 7-12 3-3 7 22 5-9 7-21 3-3 9 22 13 49 4-2 4 9 3 0 5 3 3 0 4-8"/><path class="c0" d="M1444 1449l6-10 9-36 3-6 2 2 1 5 5 34 6 30 2 1 2-1 11-18 9-6 6-15 5-26 6-37 2-7 2-3 3 2 2 5 6 42 6 22 3 10 15 3 11-2 4-3 8-2 3 2 4-1 4 2 3 5 4 2 4-1 4 9 3-3 8 6 4 0 11 10 3 7 4-1 4 5 4-4 7 1 4-2 4 6 3-7 4-1 4 10 3-9 4-1 4 1 4 3 3 1 4-1 8 6 3-3 8 1 3 4 4 2 3 3 1-1 1 3 4 0 18-2 7-10 3-2 4 2 6 9 9 7 4 1 4 3 14 3 27-1 7-3 4-2 3 1 4-3 11-2 3 1 10 12 10 0 5-2 3 8 16 98 6 70 1 5 4-50 4-180 4-63 4 66 4 31 3 11 13-2 15 4 11 4 7 0 4 2 30-1 17 5 2 1 3 9 4-7 4 8 3 0 4 7 8-3 3 0 4-3 4 9 4-2 3-5 4 8 4-9 7 4 3 0 1-2 4-37 1 5 1-3 5-2 7 4 4 4 1 6 4 61 6 48 9 119 5 125 2-8 4-56 13-292 4-32 3-12 5-1 4 3 7 3 8 9 4 2 6 8 5 7 18 21 4 1 3-2 5-5 3-7 5 1 3 4 5 19 10 45 15 131 2 12 3-27 9-190 4-44 1 0 1 13 6 129 2-21 6-80 1-2 2 12 6 73 2 3 2-5 6-42 2-8 0-2 1 0 7 66 4-17 7-69 3-10 2 2 3 6 5 26 12 110 2 3 6 3 8-2 8-15"/><path class="c1" d="M1444 1478l6-7 10-26 3-4 7 24 4 11 3 2 3-1 10-17 14-15 7-22 7-14 2 1 3 6 7 31 8 16 12 5 10 1 4-3 7-1 4-2 7 1 4-3 4 5 3-3 4 2 8 2 3-2 4 0 4 7 4-1 7 5 7-1 4 10 4-2 4 2 7 6 4-5 4-2 3-6 8-6 3 3 4-3 8 0 3-3 4 3 8-4 3 2 4 5 7-3 9 5 10 3 4 3 8 2 3-1 4-6 3 0 10 14 5 6 12 4 3 1 4 0 4 2 26-6 4-2 7-1 15-7 8 0 12 14 6 0 4 2 5-1 2 3 17 87 7 58 1-5 3-36 4-150 4-60 4 60 4 28 3 11 4 0 5-2 13 0 28 13 11 0 4 4 4 0 3-2 4 2 8-1 7 2 6-2 2 1 3 8 8-4 3 0 4 7 4-3 4 1 3 4 4-5 4 3 4-1 3 5 4 0 4-4 3 2 4-5 3 1 1-1 3-13 1-17 1 8 1-2 5 1 11 8 11 82 9 96 5 75 1 8 5-33 12-222 5-35 4-13 13 2 6 4 4 4 4 1 3 4 11 9 4 5 11 9 3 1 4-2 8-12 3 0 3 3 5 14 11 42 11 71 5 21 2 6 3-19 10-146 3-22 1 0 1 8 6 93 2-6 7-63 2 5 6 56 1 2 1 0 2-5 8-39 2 7 5 41 2 2 3-6 8-55 3-5 4 8 5 20 11 59 6 5 7 0 4 3 4-1 4-8 0 1"/><path class="c2" d="M1444 1504l6-7 10-29 3-4 11 27 3 2 5-1 3-11 19-18 12-35 3-4 3 3 10 23 6 7 11 1 11-4 4 2 7-4 8 3 7 0 4 6 7 0 4 6 4 3 3-2 8 4 7 8 8 4 3 7 4-3 4 0 4 8 3 3 4-5 4 1 4-1 3 1 4-2 4-6 3-2 4 3 4-4 4-1 7 2 4-1 11 5 4-4 3 1 7 6 1 14 1-13 6 3 8 0 4 3 5 1 2-1 4-6 2-1 5 3 8 11 11 4 11 1 11-4 19-9 4-1 3-2 23-7 6 4 10 13 13 4 4 5 17 68 6 47 1 5 3-20 2-30 3-116 4-63 4 56 4 28 3 10 13-3 4-2 3 1 36 20 9 3 4-1 7 3 11 0 4 2 4 0 4 6 3-4 4 4 7 1 4 9 8-4 15 7 7-12 4 0 3-4 7 7 1 0 3-10 1-11 1 0 2-6 8 3 7 7 11 67 9 99 5 80 1 9 2-6 3-21 13-243 5-36 3-8 8 1 6 3 16 21 8 12 7 8 11 9 6 0 10-12 4 1 4 5 2 6 12 43 9 60 7 35 1 1 1-3 2-16 10-145 3-25 2 9 6 88 6-44 3-10 7 42 1 1 4-3 6-17 3-5 7 31 7-20 4-19 3-2 8 18 12 46 3 7 11 8 4-3 4 3 4-4"/><path class="c3" d="M1444 1489l7-10 9-21 3-3 11 37 2 2 6 0 7-8 11-6 8-12 9-22 3-1 6 9 6 14 5 2 12 1 3-2 4 1 19-9 4-4 3 0 8-9 7 4 4-3 4 0 3 6 4-2 4 4 7 5 8 11 3-4 12 16 3 3 8 2 11-7 7-1 4-5 4 4 4 1 3-1 8 5 4 0 3 4 4-1 4-3 7 13 3-2 1 5 1-5 6 3 4-1 4 2 8 1 10-9 14 15 14 3 17 0 8-4 18-4 11-6 4 0 11-5 8 6 4 6 16-1 2 3 17 88 7 54 1-5 3-37 4-139 4-56 4 55 4 29 3 11 5 2 4-1 8-1 7 2 4 0 11 3 26 0 4 3 11-2 12 5 7-2 7 12 4-3 3 10 8-5 4 7 3-2 4 3 4-9 4 5 3-2 4 4 4-9 3 2 4 3 3-1 4-10 1-11 1 1 2-7 4 0 11 9 11 75 9 98 5 79 1 10 5-31 13-242 4-31 3-11 7 0 8 3 5 5 22 31 14 12 6 1 7-6 6-4 5 4 15 41 10 57 4 11 3 7 2-8 11-117 2-12 2-3 7 67 2-8 7-37 2 2 6 45 2 2 3-5 7-27 8 39 10-46 3-5 6 9 7 23 7 26 3 9 5 4 7 1 4 3 8-3 0-2"/><path class="c4" d="M1444 1524l4-2 4-5 11-29 12 22 2 1 3 1 5-4 4-1 4-3 7-1 11-11 8-5 4 1 3-2 4 2 11-3 8 1 7-3 8 0 7-3 4 1 7-2 4 0 7-3 15 7 12 8 3 0 8 9 3-2 4 6 11 5 8 9 4-7 11 1 3-10 12-3 11 0 4-2 7 3 4 0 7 6 3-2 1 10 1-10 4 5 6 3 12-2 3-3 5-9 3-1 11 9 3 0 4 2 11 1 8 5 3-1 15 5 8-1 4-2 11 1 20-5 11 7 16 4 11 23 7 18 6 23 1 1 5-26 3-68 4-46 6 44 5 19 5-1 4 1 8-2 14 5 12 6 7 1 11 4 11 0 15 4 4-1 11 7 4-5 4 4 3 9 4-1 4 2 4-2 3 2 8-6 4 4 3-5 4 3 4-3 3 6 4-6 4 2 4-23 2-4 5-3 9 7 3 6 10 47 14 137 3-9 3-23 8-137 4-20 8-24 5-1 4 1 4 0 10 22 7 3 12-1 4 4 11 1 4 2 4-2 8-6 3-1 2 2 9 10 7 11 9 32 7 10 2 0 1-1 5-30 10-46 2 3 6 25 3-2 4-7 2-1 2 1 4 9 2 3 9 0 4-6 7 23 4-10 3-3 4-13 2-2 5 1 4 5 8 31 7 16 4 1 4 0 3 6 5 2 3 0 4-4"/><path class="c5" d="M1444 1503l5-5 13-30 2 1 6 19 3 7 3 5 3 0 3-1 3-5 17-8 14-22 3-2 14 18 5 0 7 3 11-3 4 0 7-4 4 1 8-2 3-4 4 5 4-6 3 2 8-1 7 3 4-4 8 8 3 1 4 9 4 1 7 13 8 5 3 5 4 1 4-3 11 1 4-7 3-3 4 1 4-3 4 0 3-5 8-1 4-3 3 2 4-4 4 2 3 3 4-1 3 3 1 17 1-14 3 3 18 7 11-6 4 3 8 11 22 5 15 0 22-2 4-2 24-5 13 5 4 0 7 1 5 5 16 45 7 26 2-7 3-24 3-70 4-43 7 50 3 11 3 3 26 0 3 2 8-1 7 1 8-2 4 1 3-1 15 0 8 1 11 6 4-3 7 11 4-1 8 7 18 3 4-2 3 2 4-6 4 4 3 0 4 5 3-3 2-6 3-28 1 9 1-2 5-1 11 8 11 44 9 96 5 64 0 5 1 1 5-25 9-161 4-31 7-31 5-2 9 2 10 15 4 3 3 0 8 7 7 2 4 3 9 3 4 0 11-9 3-1 3 2 7 19 8 24 10 63 5 21 2 6 4-27 9-119 3-17 1 0 1 6 6 64 5-23 4-7 6 17 3 4 4-6 6-1 3 2 5 9 5-2 11 0 4 4 3 0 4 3 7 1 4 5 4-1 4 7 4 2 7-1 4-10 0 1"/><path class="c6" d="M1444 1514l6-6 13-30 11 26 3 2 5-3 3 0 4-4 8-2 6-4 8-11 7-6 5 1 11 8 4-2 11 1 3 0 4-4 4 1 4 0 3-3 4 0 4 3 7-6 4 2 4-1 3-2 12 5 3-1 12 2 7 13 4 1 3-2 4 7 4 2 7-1 4 10 4-8 7 0 4 2 4-3 3-6 4 6 4-9 4 4 3 1 4 5 4-4 4-2 11 6 10 2 1-6 1 9 3 5 7 0 8 3 6-2 5-8 3-2 3 1 12 10 4 2 8-1 3 2 15 0 8-3 15-3 14-6 4 2 6-1 8 4 9 8 7 4 15 7 7 10 7 15 5 17 1 1 5-18 3-53 4-39 7 39 4 11 5 1 12-4 23 9 3 1 3-1 8 4 7-1 4 2 11 0 19 4 4-2 7 13 4-2 3-4 4 12 11-10 4 4 4-4 4 6 3-2 4 1 4 5 3-7 4 7 7-29 1-18 1 11 1-1 16 12 11 43 9 92 5 62 1 6 5-25 9-158 6-38 4-16 2-3 13 0 8 18 9 13 15 5 9 5 2 2 6-2 11-9 5 2 12 17 5 12 8 31 8 10 2-5 10-67 4-13 7 24 3 2 8-2 6 10 6 0 4-8 3-1 8 15 4-3 3 1 4-4 4-1 4 6 3 0 4 5 4 1 3 11 4-3 4 6 11 9 8-12"/><path class="c7" d="M1444 1497l7-9 11-25 2 0 1 1 5 21 6 11 6-1 8-10 10-5 11-25 7-23 3-3 5 5 6 12 8 5 5-2 4 1 3-2 8 2 11-6 13-1 6 2 3-3 8 11 4-3 3 6 4-4 8 10 7 6 5 2 10 15 12 5 7 1 3-8 4 2 7-3 8 0 4-6 3 7 4-2 4 3 7-3 4 3 4-3 10 11 1 21 1-20 3 0 3 2 8-1 8 2 10-11 2 2 11 13 10 4 4 0 7 2 7 1 49-17 7 1 8 8 5 8 13 4 4 4 17 63 6 43 1 5 3-18 2-26 3-111 4-62 4 54 4 27 3 9 15-4 13 2 3 4 4 0 11 5 19 4 15-1 15 3 4-5 3 13 4-7 4-1 3 4 4 7 4-5 4 4 3-1 4 3 4 0 4-5 3 7 11 2 8-10 4-29 1 6 2 2 2-2 6 0 7 7 11 102 9 106 5 91 1 10 3-17 3-37 12-265 4-35 4-14 4 1 9 4 6 8 15 25 11 15 8 8 8 4 3-1 10-13 2 1 3 4 7 23 8 35 14 101 3 15 3-21 10-182 3-29 2 14 6 121 2-9 5-74 2-10 2 9 7 79 9-50 2-7 1-2 7 62 2-4 2-11 7-66 3-7 5 6 6 33 11 79 1 2 4-4 4 9 3-6 4 2 8-5"/><path class="c8" d="M1444 1507l6-7 13-32 7 19 6 12 3-1 6-7 16-12 10-20 7-25 3-2 17 20 3-2 11-1 4-2 4 1 4 0 3-2 8-7 4 0 7-4 4 4 3-3 12 2 3 6 4-1 4 10 4-2 3 2 4 0 4 4 3 0 12 20 3 0 4 10 4-3 4 2 3-6 4 1 4 3 3-4 8 0 7-2 8 2 4-2 7 4 4-3 3 5 7 5 1-2 1 3 4 2 10 1 10-5 5-8 3-3 4 3 8 10 22 10 4-2 11 1 7-1 4-1 19-4 11-5 8-1 12 14 15-1 2 4 16 94 7 79 1 7 4-50 4-188 4-64 4 67 4 32 3 12 20-1 19 7 4 3 11 3 7-1 4 2 19 2 3 1 8-1 11 7 11 3 4 5 4 0 3-4 4 3 4-1 4 1 3 0 4 5 11 0 3-2 3-9 2-13 2-3 13 7 2 4 2 5 10 68 9 100 5 80 1 10 5-29 13-246 4-29 4-14 15 6 23 26 4 7 11 9 8 3 12-13 2 0 2 2 6 17 11 42 14 94 3 13 3-21 10-165 3-23 1 0 1 10 6 110 2-19 5-62 2-8 2 9 6 74 1 2 2-3 6-42 2-7 2-3 7 68 3-13 8-73 2-10 2-2 4 7 5 21 9 77 3 12 12 9 12-5"/><path class="c9" d="M1444 1459l6-9 9-31 2-4 2 0 10 48 3 8 2 1 12-23 10-10 2-3 10-37 5-22 3-5 3 4 3 13 8 38 7 16 4-2 11 3 8-4 7 1 4-3 7-1 4-4 4 5 3-1 12 5 11 8 4 7 3-3 4 6 7 6 4 0 4 4 4-1 3 4 4-2 4 2 4-2 3 3 4-4 4 3 3-3 4 5 4-3 7 2 4 2 8 1 3 4 4 1 4 6 3-5 4 1 3 7 1-4 1 6 10 0 12-1 10-13 4 2 4 7 6 5 5 3 4 0 4 3 14 3 19-5 4 2 4-3 11-5 18-5 13 13 15-2 4 15 14 93 8 91 1-8 3-51 4-189 4-59 4 70 5 34 3 8 16 0 27 5 25 1 3 2 4-1 11 2 8 0 4 7 3-2 8 12 3-3 12 3 7-2 4 6 4 0 7-9 4-1 3 5 4-1 4-9 4-27 2-4 9 0 7 5 1 7 4 65 6 49 9 120 5 132 2-10 4-60 13-299 4-31 4-13 12 4 7 6 11 14 4 3 7 10 15 15 5 1 8-10 4-2 3 0 3 5 7 25 8 39 15 123 2 12 3-25 10-197 3-30 2 14 6 126 2-9 5-85 2-9 8 93 1 2 2-6 6-44 3-14 2 9 4 57 1 8 1 2 1-1 3-16 6-73 3-21 2-3 7 26 2 12 9 101 3 14 5 6 4 0 11-9 4-14"/><path class="c10" d="M1444 1514l5-5 5-9 8-22 2 0 1 1 7 19 3 4 2 1 7-3 5-6 4 0 11-7 15-25 3 1 4 5 6 9 13 0 4 1 7-5 11 0 15-10 4 2 4-5 3-2 8 2 4-3 3 4 12 6 3 6 4 2 4-1 3 8 4 1 8 10 15 3 7-6 4 0 3-7 4 7 8-4 3-5 4 1 4-3 4 2 7 1 7-3 4 6 3 1 1-2 1 4 3 2 11 1 7 2 2-1 8-8 1 0 15 18 8 3 11 0 15-3 4 0 18-9 15-5 9-2 5 3 5 8 5 7 14 5 3 4 16 65 7 53 1 4 3-21 2-30 3-117 4-61 4 56 4 26 3 11 17-5 14 6 4 3 11 6 8 3 4 0 3 2 4 0 7 2 4 0 8 2 7 0 4-2 11 11 4-3 3 7 8 0 4 7 3-5 8-2 4 4 3-4 4 9 4-7 10-8 3-9 2-15 1 1 1-2 9 0 7 7 11 85 9 101 5 80 1 8 5-34 13-247 4-28 4-14 13 3 21 28 4 2 3 7 4 2 8 8 9 2 6-4 4-8 3-2 4 5 7 21 8 31 10 72 7 34 3-19 10-162 3-28 1 0 1 11 6 107 2-8 4-54 3-19 2 7 6 67 2 3 2-5 6-35 2-10 2 6 6 52 6-28 5-46 3-8 10 31 7 46 5 24 5 4 4-1 3 4 8-3 4-4"/><path class="c11" d="M1444 1508l7-11 12-35 1-1 2 3 4 15 5 5 3 0 13-24 9-7 2-3 17-45 3 5 10 34 5 8 3 4 20 3 4-1 3-3 12-4 5 3 9-1 4 3 4-1 11 5 4 5 4-2 3 3 4 9 7 1 4 4 4 7 4 0 3 4 4-4 4 1 4-3 3 2 4-5 4 1 3-4 8 4 11-3 4 6 4-7 3 6 11 8 7 2 1-4 1 7 3 4 7 0 4 0 4 3 5-1 7-8 2-1 13 12 14 5 14-1 27-13 3-1 8-4 15-4 4 1 13 12 14-2 2 4 17 99 6 71 1 6 4-49 4-184 4-64 4 66 4 31 3 12 13 1 4-2 7 2 19 10 15 6 3-1 11 3 8-1 4 1 11 7 7 7 4-1 7 11 8 0 4-3 3 8 4-8 4 1 4 6 3-5 4 2 4-6 7 2 5-10 3-19 2-2 9-2 7 7 11 90 9 103 5 85 1 9 3-18 3-35 12-243 4-31 4-13 12 4 3 2 4 7 15 17 4 7 7 8 4 2 4 6 3 1 4 3 13-13 3 0 3 3 5 15 10 40 11 79 4 26 2 4 3-19 10-168 3-27 2 12 6 111 2-9 4-57 3-19 3 16 5 58 1 2 2-2 8-42 2-6 7 62 4-17 6-55 4-15 3 3 5 16 11 81 2 6 6 5 7 3 4 4 8-11"/><path class="c12" d="M1444 1497l7-7 10-23 2-2 10 31 3 5 5 1 16-9 5-2 17-26 4 2 10 9 5 0 7-2 11-1 19-9 11-2 4-4 3 2 8-4 7 3 4 3 4 0 3 2 4 6 15 27 4 2 11 14 4-4 4 5 3-5 4 0 7-5 4 0 4-6 15-6 4-10 3 5 4-1 4-6 3 8 7-3 5 7 11 3 9 0 8-9 1 0 4 3 8 12 11 5 4 0 7 4 4 0 15 5 15 1 11-3 11 0 6-2 9 3 6 4 12 2 5 5 9 17 14 45 2-5 3-21 3-68 4-46 7 49 4 15 13-4 6 0 31 9 11 1 8-2 3 4 8 0 20 3 13 13 8-2 4 4 11-2 4 5 3-5 4-1 4 4 3-5 4-1 4 3 3-22 1-28 1 17 1-2 1 2 4-1 7 4 4 5 1 3 4 34 6 41 14 180 1 0 2-8 3-24 12-222 5-36 4-11 12 0 7 9 4 7 15 16 7 7 11 5 4 4 10-10 2-1 3 2 7 11 12 25 8 32 7 10 2-1 2-5 10-67 4-13 6 22 3 4 2 2 4-9 9 20 3 2 7-6 3-9 7 23 2 0 6-12 5-15 2-2 3 1 5 9 6 19 5 33 3 9 5 8 7 8 7-1 5-6"/><path class="c13" d="M1444 1489l5-5 13-27 1 0 2 5 6 27 4 8 3 2 13-7 8-2 4-3 9-21 8-21 3 0 11 13 4-2 3 2 4-4 15 0 4-4 3 2 15-7 4 6 4-3 3 2 4 0 8 5 3-3 19 19 11 20 4 8 15 11 4-5 3-1 4 2 4-5 3 2 4-5 4-2 4 1 3-9 4 3 4-7 4-1 3-4 3 0 5 1 3 8 7-6 1 13 1-12 4 6 10 0 8 2 3-2 4-5 2-1 5 5 6 9 9 8 11 0 8 4 3-1 4-2 8 1 11-4 7-1 8-3 15-3 7 3 9 9 13 4 4 4 17 61 7 38 2-9 3-32 3-92 4-54 6 57 4 19 2 3 9-1 14 0 11 2 4 3 11 0 4 2 4-1 7 3 4-2 7 2 19 0 7 5 8-4 7 14 4-5 4 6 3-4 4-1 4 2 7 1 4-3 4-1 7 2 3 3 3-9 2-17 2-7 5-2 4 4 4 0 2 2 2 6 4 44 6 50 9 102 5 93 1 0 1-4 4-37 13-255 5-34 3-8 4 2 4-1 5 2 31 40 5 2 7 7 6-1 13-10 3 3 4 9 12 39 9 57 7 32 1 1 1-3 1-6 11-142 3-19 1 0 1 7 6 77 6-41 3-9 2 4 5 34 1 2 2 1 3-3 7-20 2 3 5 22 2 0 6-16 4-6 4-12 4 11 3 5 4 14 11 30 8 7 10-1 5-2"/><path class="c0" d="M1444 1489l6-9 10-28 3-4 9 27 3 5 3 0 13-21 2-2 4 1 5-9 13-33 3-4 4 6 11 40 4 7 3 3 5 3 11 1 26-5 4 6 4 0 3-5 4 6 4-3 4 5 3-1 4-4 8 10 3-2 4 8 4 2 7 1 4 4 4 0 4 3 11 1 14-8 4 2 4 0 4-10 7 4 4-2 4 0 7 5 4-3 7 8 3-1 1 10 1-8 3 3 3-2 4 3 4-3 9-2 9-13 2 1 13 13 15 4 4 2 7 0 4 1 4-2 7 1 4-2 4 1 7-2 15-6 12 0 3 2 9 11 6 2 7 0 4 5 15 62 8 56 1 3 5-51 3-110 4-59 5 61 6 30 2 0 11-3 7 0 19 6 7 4 8 1 4-1 3 2 4-1 7 2 4-1 4 3 4-2 3 0 12 5 3-1 4 8 4-4 3-1 4 7 4 1 4-8 3 5 4 1 4-2 4 6 3-5 4-1 4-4 3 3 4 7 6-16 2-19 1 4 1-4 5-1 3 1 8 8 5 47 6 47 14 155 6-45 9-172 4-24 7-23 9 0 4-2 11 19 11 3 7 1 8 3 4-1 7 3 13-12 3 0 3 1 6 16 9 31 10 74 5 31 2 5 3-20 10-163 3-27 2 12 6 101 2-8 4-43 3-11 8 47 1 0 2-4 7-19 3-3 7 27 11-30 2-1 6 5 12 28 10 15 4 3 5 0 2 0 4-5 4 2"/><path class="c1" d="M1444 1521l7-8 11-27 2-1 2 2 9 21 5 1 13-10 4 1 4-3 7-8 9-9 6 0 9 5 10 1 10-3 4 1 8-3 3 1 15-9 8 2 3-7 4 2 11-3 4 2 4-3 4 8 3 2 4 10 4-2 3 9 8 7 4 2 3 6 4 0 4 2 4-2 7-6 4 3 7-4 4 1 4-6 3 5 12-2 3 4 4 2 7-2 4 6 3 1 1-3 1 4 2 1 12 3 9-2 9-12 2 1 12 9 9 3 4-1 3 1 4-1 4 2 7 0 4 1 7-3 30-5 4-2 10 0 10 7 10 3 3-1 4 4 15 45 9 36 2-10 3-26 3-73 4-43 8 56 2 7 3 3 3 0 4 1 4-2 22 4 19 3 4-1 3 2 4-2 4 2 11-1 4 3 7 1 8 6 3 5 4-5 4 6 3 2 4 0 4 1 4 6 3-7 8 6 4-3 3 3 4-2 4 3 7-6 3 0 3-11 2-19 1 4 1-2 8 2 6 4 3 6 10 42 14 135 3-7 3-21 8-136 3-16 7-23 3-5 4 0 4-1 6 3 6 17 7 6 7 0 7 2 4-1 8 4 7 0 15-10 7 6 12 26 10 54 5 18 1 3 1 1 1-3 1-6 11-115 3-15 1 0 1 6 6 59 5-24 4-10 3 6 6 29 4-6 4-15 4 1 5 16 1 2 2 0 6-9 5-12 7 5 3 10 8 12 3-2 4 9 8-3 3 6 4-5 4 0 4-8"/><path class="c2" d="M1444 1505l6-7 13-33 7 20 5 11 3 1 14-16 11-9 14-22 5 4 9 22 7 6 14 2 8-4 7 2 4-2 8-1 3 2 4-4 7 2 4 3 8-4 3 1 4 6 8-1 7 9 4-2 11 9 4-1 3 1 15-3 8-7 3 1 4-3 4 3 4-4 3-1 11 0 4 2 4-7 4 6 7-2 3 6 1-6 1 8 18 5 5 0 6-8 2-1 6 6 7 9 11 5 7 1 4 2 11 2 4-1 4 1 15-1 30-7 13 9 5-1 11 5 15 43 8 40 1 3 3-14 2-21 3-85 4-55 5 49 6 27 5-1 4-3 4 2 4-2 37 11 15 2 3-1 15 5 8-2 7 6 4 7 4-1 3 6 4-2 4 5 4-10 3 8 4 2 4-4 4 4 3 1 4-4 4 0 3-7 7-2 7-28 1-1 10 3 5 5 5 44 6 43 14 150 3-12 3-27 8-157 5-35 7-24 9 0 5 2 10 21 18 5 15 7 7-3 8-6 7 2 4 5 11 18 11 39 1 1 5 2 2-1 1-4 10-62 3-8 2-1 1 1 5 21 3 4 1 0 5-13 2-2 1 1 7 30 12-25 7 33 7-20 5-24 2-3 2 0 3 4 6 19 12 67 4 4 4-1 3 9 12-9"/><path class="c3" d="M1444 1490l6-6 10-22 3-2 11 36 2 3 3 0 23-11 15-28 4-2 5 5 7 10 5 1 3-2 11-1 4-2 26 4 8 5 3 1 4 5 4-2 7 3 4 1 4 7 7 4 4-5 4 6 7-3 4 9 6-1 9-6 4 2 3-6 4 2 4-4 7-1 4-3 4 1 3 4 4-4 4-1 4 4 3 1 4-2 4 6 3-3 4 7 3 1 1-2 3 5 12 5 9 2 7-7 2 0 10 10 17 7 14-2 15-7 12-9 3 0 11-5 12 0 7 3 9 11 12 5 5 5 12 29 5 15 6 26 1 2 3-12 2-17 3-75 4-49 7 53 4 15 5 0 7-3 5 2 3-2 15 5 19 5 4-2 7 4 11-1 4 2 11 1 4 2 4-3 3 7 8 1 3 6 4 0 4 2 4-6 3 7 4-3 11 5 4-5 4 1 3-2 7 1 1 0 3-15 1-13 1 3 1-2 2-2 6 0 6 5 3 6 4 29 6 30 14 159 3-10 3-24 9-162 5-32 5-16 2-3 8 0 5 2 10 20 4-1 11 3 3 3 12 3 7 3 8-9 6-3 5 0 7 16 7 25 15 101 3 14 3-21 10-165 3-22 2 11 4 80 2 16 2-7 5-53 2-6 9 56 3-5 7-23 2-4 7 37 7-23 4-23 3-3 5 8 16 55 6 6 11 4 4-3 4 0 0-2"/><path class="c4" d="M1444 1444l6-11 9-44 4-9 12 78 2 5 2-1 4-10 7-27 11-21 10-34 6-17 3 9 7 57 6 21 8 15 4-1 4 3 3-2 12-1 16-13 6-11 4 4 3 0 4 5 4-1 7 3 8 8 4-4 3 5 4-1 4 4 3 0 4 8 11-2 8 7 4-7 3 6 4-4 4-2 3 6 4 2 8-3 3 7 4-3 4 5 7 3 4 0 4 5 3-1 4 5 3 2 1-1 3 3 4-1 17 0 7-9 2-1 4 2 9 13 17 6 4 2 15-5 15-2 4-2 18-6 8-1 6 1 10 13 12 1 3 1 2 4 16 89 7 75 1 6 4-47 4-180 4-64 4 66 4 32 3 12 5-1 4 0 4-2 7 1 11 4 12 6 3 0 8 5 4-1 7 3 15 0 5 1 6-2 4 2 4-4 7 9 4-2 3 4 4 9 4-8 4 5 3-1 4 6 4-13 7 8 4-4 11 5 3-2 3-13 2-21 1 0 1-3 11 5 5 5 1 6 4 56 6 49 9 126 5 141 1 19 5-65 13-339 5-48 3-9 8 2 7 6 4 1 5 4 7 12 13 27 11 15 4 3 3 0 10-11 3 0 3 4 8 27 9 41 8 54 6 28 2 7 3-20 10-149 3-21 2 10 4 74 2 16 2-5 5-57 2-9 2 8 6 67 1 2 1-1 2-6 7-43 1-8 1 0 6 64 1 4 1 0 3-12 7-73 2-10 2-2 7 25 3 15 11 110 5 7 4-4 7-1 4-5 4-16"/><path class="c5" d="M1444 1511l6-7 11-29 2-2 2 2 7 21 4 7 2 1 11-10 8-2 7-7 15-28 5 4 10 14 4-3 14 0 4-3 8 0 19-14 3-1 4 1 3-7 8 3 4 5 3-4 4 4 5 1 3 3 3 8 4 0 7 12 4 2 4 6 4 2 7 10 4-2 4 2 3-4 4-1 4-5 7 4 4-2 4 0 3 3 8-7 4 6 3-3 4 4 4-1 7 5 3 5 1 12 1-10 6 0 8-2 4 1 5-3 9-17 4 2 9 10 6 2 4-1 4 3 14 6 4 0 15 6 19-1 3-2 18-5 5 3 4 0 3 3 8-2 5 1 4 9 13 56 8 54 1 3 5-51 3-110 4-57 4 52 4 27 3 11 17-4 44 16 19 1 4 3 3-2 8 1 15 7 3-3 4 7 8-5 11 4 4-3 3 0 4 6 4-1 3-6 8 7 6-31 8 2 8 8 11 76 9 103 5 83 1 10 3-16 3-33 12-236 4-30 3-12 5-2 10 4 16 20 15 24 11 7 6 0 9-10 3 0 3 2 5 10 11 31 10 54 5 13 2 4 2-2 1-6 10-100 4-22 2 6 6 50 2-3 5-25 2-3 3 8 6 29 12-23 3 9 4 21 3-5 8-28 2-3 2 0 15 38 6 13 13 7 6-1 5-5"/><path class="c6" d="M1444 1473l4-2 12-23 3-2 11 46 3 5 5 1 7-4 9-1 4-2 9-16 7-18 3-2 2 0 9 13 9-2 6-3 5 0 19-8 4-5 8-8 7-1 7 3 4-3 4 5 3-1 4 3 4 6 4-2 3 2 4 8 7 7 12 19 8 4 3 0 4-4 3 3 4-1 15-10 4 3 3-3 4 4 4-3 11 5 7 0 4 5 3 1 1-4 1 6 2 2 12 3 10 1 6-8 2-1 13 14 6 3 11 2 15-3 41-17 11 0 4 3 9 13 10 4 7 7 15 50 9 48 2-10 3-32 3-91 4-54 4 44 4 25 3 10 5 0 4-2 8-1 11 3 7 5 21 7 5 0 4 3 4-2 15 3 7-1 4 5 4-6 3 3 4 5 4 0 3-5 4 7 4-3 4 4 11-5 4 7 3-7 4 0 4 4 3-3 4 4 3-3 4-16 1-14 1 5 1-2 6 0 5 3 5 6 11 71 14 153 3-10 3-23 9-165 4-27 7-23 5-1 9 1 9 15 12 5 4-2 3 2 8 4 11 4 11-12 4-1 3 3 5 12 10 28 11 69 5 22 2 6 3-19 13-162 2 11 4 69 2 14 9-56 3 11 6 46 2-1 2-6 5-24 2-3 1-1 6 36 1 1 1-1 8-41 3-9 2-1 3 6 9 35 4 3 5 16 6 4 4-1 7 1 4-4 4-2"/><path class="c7" d="M1444 1505l6-8 13-36 2 1 5 16 4 8 2 1 4-3 12-19 12-11 6-17 7-18 2-2 4 7 10 33 11 11 12 0 4-2 7 0 4 3 8-2 7 4 4 0 11 8 4 1 7-3 8 9 3 1 4 6 11 5 11 10 4-3 4 2 4 0 3-3 4-1 4-4 3 0 8-9 15-5 7-5 11 0 4 6 3-1 1-12 1 14 3 4 15-1 3-2 3 1 5-8 3-1 4 3 4 7 6 6 13 6 14 3 12 0 11-2 4 1 7-4 4 1 7-3 14-3 10 11 6 1 4-1 3 0 2 1 2 3 17 78 7 49 1-5 3-32 4-128 4-54 6 65 4 21 3 5 7-2 8 0 18 1 15 3 30 0 7 1 8 4 7-1 4 9 4-3 7 3 4-3 4 10 3-1 4-5 4 4 4-3 3 0 4 8 4-11 3 1 4 10 4-3 4-28 1 2 1-2 5 2 8 5 4 9 10 52 9 100 5 69 1 8 5-28 11-194 5-37 3-13 2-3 13 0 9 12 31 25 8 0 11-8 5 1 5 10 8 20 5 17 8 43 5 13 2 4 2-2 1-5 12-112 3-10 7 63 1 0 1-6 6-34 2-4 8 63 11-49 2 6 6 53 4-15 7-65 2-7 2 0 9 33 9 57 3 16 8 5 4 1 4-3 4 1 4-6"/><path class="c8" d="M1444 1482l6-6 13-30 7 25 5 13 3 2 12-15 11-8 7-14 9-27 3-2 3 3 9 23 7 8 6 1 7 0 4-3 8 0 3-3 8-4 9-9 5 0 16 5 7 7 4-1 7 8 4-3 4 3 3 8 4 0 4 4 4-2 3 6 4 0 4 5 7-9 4 2 7 0 4 4 4 0 7 5 4 0 4-2 7 6 8 0 3 8 4 1 3 4 1-5 1 5 6 2 8-1 9-5 7-13 3-2 3 1 11 12 4 1 4 3 15 5 3-1 14 2 5-1 8 0 11-4 15-4 4 1 12 15 6 4 4 0 5 3 2 2 15 55 8 58 1 6 3-18 2-30 3-122 4-65 4 57 4 27 3 11 7-3 13 0 8 3 18 11 8 2 11 1 11 3 11 0 4 2 4-1 4 5 3-3 4 2 4 1 3 8 4-5 4 10 4-8 7 3 4-4 4 3 3 8 4-10 4 0 10 3 1-1 3-20 1-19 1 7 1-3 10 1 6 7 1 5 4 56 6 47 9 123 5 121 1 15 5-60 13-314 4-36 3-14 1-1 8 2 11 11 22 42 12 16 3 2 5 0 14-13 5 5 6 19 9 40 16 134 3-23 10-203 3-30 2 15 6 123 2-11 5-73 2-9 9 77 11-47 2 6 5 44 1 2 1-1 3-11 6-48 4-12 5 13 3 5 11 62 2 7 6 13 4-3 3-1 4 1 4-5 4-2"/><path class="c9" d="M1444 1462l6-7 8-16 5-4 7 28 5 15 3 3 6-5 5-9 4 0 7-5 18-36 4 5 10 32 9 10 8-1 3 1 4-3 4 1 7-3 15-14 8-2 3-6 4 5 4 0 4-2 11 6 4 6 3 0 4 7 7 6 4 10 4 0 4 5 3 3 4 0 4 3 4-1 3-5 11 1 8-5 4 2 7-1 8 8 3-1 4-3 4 6 3-2 4 3 3 4 1 10 1-7 3 2 3-2 4 1 12-1 10-13 4 1 10 10 13 3 18 2 19-4 7-4 15-3 4-3 8 0 11 12 3 0 4 2 9 1 2 3 17 76 6 50 1 5 2-11 3-45 3-122 4-61 4 58 4 27 4 12 12-5 4 2 3-1 4 3 4-1 11 6 15 5 4-2 7 3 7-1 23 5 5 6 2 1 4-1 4 10 3-5 4 7 4-7 4 6 3 3 4-12 4 0 4 16 3-10 4 10 4-9 3 2 7-2 1-2 3-13 1-18 1 8 1-3 5-2 4 1 7 5 5 45 6 45 9 104 5 88 1 10 6-56 12-244 4-31 4-14 8 0 6 5 13 16 14 26 12 11 7 2 13-13 2 0 2 3 9 21 8 28 10 65 5 24 2 7 3-18 10-144 3-25 2 10 6 94 9-71 2 4 6 61 1 2 2-4 6-30 3-10 2 5 6 48 4-13 8-57 3-6 11 41 6 33 4 19 5 8 4-2 7 3 4-6 4-1"/><path class="c10" d="M1444 1446l3-3 3-6 9-46 4-8 3 10 9 65 1 3 2 1 12-48 10-25 4-13 15-83 3 10 4 30 7 71 6 24 3 8 10 4 8 0 7-5 4 1 4-2 7 0 8-2 3 2 8 7 4 1 3 3 4-2 15 15 4 1 3-2 4 9 4-3 4 2 3 5 4-4 4 0 4 5 3-6 4 3 7 2 8-3 4 4 3-3 4-1 8 9 3-1 8 7 3-1 4 6 3-1 1-4 1 6 3 2 19-3 10-12 3 2 10 12 10 5 15 4 11 1 19-2 14-6 4-4 4 1 4-2 5 2 6 8 5 5 16 2 18 99 6 73 1 9 4-47 4-194 4-66 4 68 4 32 3 13 5-2 8 1 4 2 3-1 19 9 19 3 29 2 4-1 4 3 4-3 3 5 4 0 4 12 3-10 4 14 4-4 4 2 3-5 4 1 4 6 4-5 2 0 5 5 11 1 3-2 7-26 9 3 7 8 11 89 9 109 5 94 2 18 3-16 2-27 12-287 4-38 4-16 8 2 7 5 4 1 4 6 4 3 15 30 7 11 7 9 4 2 2-1 11-13 3 1 3 5 7 27 8 37 13 101 2 16 2 4 4-36 9-170 3-32 1 0 1 12 6 126 2-9 4-66 3-22 3 17 6 71 4-15 4-34 3-13 2 9 6 66 2-4 2-12 6-71 2-13 2-5 4 7 6 29 11 109 1 2 5 3 4 7 8-11 7-14"/><path class="c11" d="M1444 1515l4 0 1-2 13-34 2-1 1 1 9 20 3 2 7-6 9-13 4-1 7-7 11-23 3-3 4 4 12 25 7 1 4 3 4-2 3 1 11-1 12-6 7 2 4-4 4 5 3-5 4 3 8 3 3-4 8 5 4 6 3 2 4 3 4 0 3 2 12 12 3 6 4 0 4 4 4-6 3-1 4 2 4-7 7 3 8-8 3 1 8-4 7 1 4 3 4-3 3 1 4-2 3 5 1 13 1-10 3 2 7 2 12-4 8-12 2-3 13 12 28 8 25 0 13-3 7-4 13 4 17 15 7 1 4 3 8 16 9 26 7 29 3-11 2-17 3-76 4-51 7 55 4 14 5-3 13-2 10 2 26 8 4-1 3 2 8 0 18 3 5 3 3 3 4-4 3 4 4 11 7 2 4-4 4 7 4 0 3-3 8 4 4-2 7-1 4 3 7-4 4 4 3-12 1-20 1 8 1-4 1-2 4 5 4-1 7 8 11 45 9 91 5 69 1 8 2-3 3-16 12-200 6-42 3-7 12 2 11 20 7 10 10 12 9 7 6 3 8 0 11-9 6 5 7 12 7 15 10 50 6 16 2-2 1-5 7-54 3-46 4-18 2 5 6 56 2-9 5-31 2-3 4 16 5 35 2-3 7-27 2-5 2 5 5 39 2 2 3-8 7-53 3-5 3 6 7 25 6 32 6 23 1 1 8 1 3 4 4-5 8 3 0-3"/><path class="c12" d="M1444 1519l7-8 12-33 3 2 8 20 3-1 5-4 9-16 13-11 4-9 3-6 5-14 3-2 7 14 6 17 2 2 7 3 8 0 7-2 4 0 4-3 3 2 4-3 11-1 4-2 7 1 4-2 4 0 4 2 3 0 4 5 4-1 4 4 3-1 4 12 4 2 3 7 4 2 15 20 15-6 4-8 3 5 4-5 8 0 3-5 8 4 4-3 3 1 4-4 7 5 7 2 1 17 1-14 3 3 20 1 6-9 3-2 14 12 5 2 11 2 4 2 30-1 4-2 11-1 18-6 17 9 6 0 5 2 4 7 11 36 5 18 5 31 1 3 2-8 3-31 3-88 4-54 7 61 3 14 2 3 12-3 7 0 15 5 4 0 4 2 3-1 4 2 15 0 19 2 11 3 4 3 3-4 4 2 7 8 4-3 4-1 4 3 3-2 4 7 4 0 4-7 3 7 4-6 4-3 3 8 4-3 3 2 1 0 3-13 1-21 1 13 1-2 5 0 8 6 4 9 10 46 9 95 5 62 1 7 5-26 7-125 3-48 7-42 2-7 2-3 8 0 6 2 1 2 8 16 11 10 7 3 4 3 11 4 4 1 14-11 4 3 8 12 7 15 11 50 7 14 3-13 10-90 2-11 2-3 7 51 2-5 6-23 2 3 6 26 3 4 3-1 6-18 2-3 7 28 7-15 5-17 3-4 5 12 8 21 5 27 4 11 4 3 4 7 3-2 4 6 8-9"/><path class="c13" d="M1444 1495l7-9 12-34 2 3 5 20 4 10 3 0 5-3 9-16 9-7 3-4 13-36 3-3 4 4 9 26 9 10 4-1 4 2 3-2 8 0 22-7 4 4 4 0 3-7 8 7 7 3 4 4 7 3 12 15 3-2 8 19 11 9 8-5 3 8 4-9 7 1 4-2 4 2 4-3 3-7 4 4 4 2 4-6 3-2 4 0 4 8 6 0 4 1 1-22 1 24 3 4 20-2 6-8 3-2 4 3 9 9 11 4 14 3 11-2 30-10 7 0 4-3 8 0 3 2 4 6 5 5 6 2 7 0 3 3 18 72 7 44 1-5 3-29 4-117 4-54 4 49 4 26 3 10 18-2 32 10 8 1 3-1 4 2 7 1 12 0 3 1 4 0 8-5 3 6 4-1 4 8 3-8 4 6 4-3 4 4 3 1 4 5 4-4 4-10 3 7 4 0 4 2 3 0 4-3 4 5 3-14 1-38 1 27 1-4 5 1 9 7 3 5 4 33 6 40 9 93 5 70 0 6 1 0 5-32 10-188 6-44 3-13 2-3 8 1 5 0 10 13 7 6 4 1 4 4 10 5 5 5 11 1 5-8 5-2 3 2 5 9 12 34 9 58 7 30 1 0 1-3 2-13 10-131 3-21 2 9 6 89 2-14 5-52 2-7 9 75 3-10 8-43 0-4 1 2 7 67 3-11 7-63 4-16 2 2 3 8 15 78 7 4 4-2 3 2 8-5 4-1 0-1"/><path class="c0" d="M1444 1482l6-7 10-22 3-2 7 31 6 13 2 2 2-1 13-10 4 1 4-3 11-21 5-12 3-3 3 2 3 6 6 12 6 3 7-4 7 0 4-3 19 1 7 4 4-3 7 9 4-1 4 1 4 4 3 0 4 5 4 0 4 2 3-1 7 8 8 4 4-1 7 7 4 0 4-3 4 5 3 0 4-7 11-5 4 4 4-6 7 5 4-4 4 2 3-1 4 7 4 0 3-6 4 8 3 1 1 2 1-1 4 2 10 2 9-2 6-8 3-2 8 5 4 5 18 5 4-1 4 3 30 0 14-3 4 0 4-3 9-3 13 8 8 0 5 1 2 1 15 56 7 43 2 9 2-9 3-36 3-99 4-55 4 47 4 25 3 10 24-2 11 5 4 0 7 3 19 0 7 3 4-1 4 2 4-1 7 3 4-1 7 6 4 6 4-2 3 7 4 4 8-5 3 4 4-7 4 7 4-4 3 1 4-1 4 5 3-4 4-1 4 6 3-13 1-28 1 19 1-2 4-2 9 5 4 9 10 39 9 90 5 67 1 9 2-4 3-15 7-135 6-72 5-31 3-7 8-1 6 3 20 31 11 12 4 2 15 2 4-5 7-6 5 5 7 16 7 20 10 63 5 21 2 5 3-17 6-61 5-79 3-13 7 92 2-13 5-47 2-4 7 57 2 6 3-4 6-27 3-8 6 45 1 4 1-1 3-10 7-49 2-2 2 4 2-1 2 1 3 21 9 26 4 9 6 3 4-4 3-1 4 6 4-5 4-3"/><path class="c1" d="M1444 1508l7-8 12-26 10 28 4 5 8-4 4 0 12-5 7-5 7-12 3-3 8 0 7 4 5 0 3-1 4 0 6-3 20-1 4-3 11 3 7-4 8 4 4 0 3-2 4 7 11 5 4 5 15 10 4 7 7 3 4-2 4 0 7-5 4 2 3-5 4 0 4-3 7-1 8-5 4 3 7-3 4 4 3-2 4 2 6 9 9 0 4-1 4 2 6-2 6-7 2-2 15 13 8 1 4 1 3-1 8 2 3-2 4 1 11-4 8-1 4-2 7-2 4-2 8-1 7 1 3 2 12 13 15 9 7 5 7 11 13 32 2-5 3-15 3-49 4-37 8 41 3 8 2 1 44 3 12 3 26 0 10 3 5-3 3 5 4 8 4-5 3 6 4-5 4 1 4-2 3 4 4 1 4 4 4 0 3-6 4 2 7-2 4 7 3-4 2-7 3-26 1 4 1-2 9 2 8 12 10 53 14 137 3-11 3-24 8-138 5-24 8-19 4 0 4-2 5 2 9 22 8 4 4-2 4 2 7-1 4 2 4 0 7 2 4-3 4-1 3-4 7 2 15 20 10 32 7 8 2-2 2-6 13-65 6 17 3 5 3 1 5-5 2 0 7 21 2 0 4-6 6-16 7 33 2-1 2-5 6-33 3-5 5 8 15 44 4 10 4-1 4 2 3-7 4 3 4 0 4-1 0-2"/><path class="c2" d="M1444 1521l7-8 12-29 3 3 8 18 3 2 20-13 6-3 8-13 6-12 3-3 4 2 10 10 11-1 7-3 8 0 4-3 3 2 4-4 4 0 7-2 4 8 7-6 4 0 4 6 4 0 3-3 4 4 4 1 7 5 15 17 4 0 4 8 3 4 3 1 5-6 4 5 3-6 4 3 4-6 3-1 4 1 8-6 3 1 4-1 4 1 4 0 3 2 4 4 7-2 7 7 1 10 1-8 10 4 4-1 4 1 3 0 11-13 14 12 9 2 7-1 8 2 7-2 8 0 7-4 11-4 8-5 19-1 3 1 9 10 6 3 4-1 5 4 2 2 16 57 7 44 1 2 5-43 3-97 4-56 4 46 4 26 3 10 5 0 4-2 11-1 38 17 18 1 4 2 4-1 7 0 4-2 4 4 7 2 4 5 3-3 12 9 3-8 4 3 4-2 4 9 3-7 4 3 4 1 7-7 4 6 3-14 1-16 1 8 1-2 5-1 11 10 11 49 14 160 1 8 2-4 3-17 7-127 5-71 5-33 4-13 12-1 15 17 3 0 4 5 7 7 4 1 13 9 5 0 5-5 6-5 4 3 5 13 10 30 10 51 5 14 2 5 2-2 2-12 13-123 2 8 6 58 2-6 7-29 3 6 6 32 3-3 7-19 2-4 7 35 3-6 7-32 3-4 3 3 17 44 4-1 4 5 4-6 3 2 5 1 7-3 0-1"/><path class="c3" d="M1444 1521l10-13 8-22 2 0 2 3 9 20 7 1 18-7 4-4 4-2 8-7 10-1 4 2 4 0 7-2 11 1 8-3 7 0 4-2 4 1 7-2 4 0 4-4 3 3 8 1 4-1 11 5 4 0 7 12 7 3 12 19 3 9 4-2 8 1 3-5 4-2 4-7 3 2 4-5 8-2 3-5 4 0 8 3 3-3 4 4 7 2 4-2 3 4 1 9 1-5 3 3 19-1 9-9 2-1 3 1 9 7 6 2 11 0 8 2 15-1 11 2 11-3 4 1 3-2 15-1 9 1 6 4 8-2 6 4 9 11 16 38 2-5 3-16 3-49 4-36 8 44 3 7 9-1 8 1 3-1 30 3 8-2 11-1 17 3 9 6 4-3 3 5 4-2 7 15 4 5 4 2 7 1 8-3 7-1 4 4 7-4 4 2 3-3 2-6 3-27 1 8 1-3 5-1 11 10 11 25 8 73 6 70 1 6 5-24 9-142 5-28 5-19 2-3 4 0 4 3 4-1 1 1 9 25 12 11 4 0 3 3 8 0 4 3 3 1 8-2 7-8 8 1 3 2 12 16 9 39 6 15 2 4 3-12 10-80 3-10 2 4 4 26 2 4 3-4 7-3 8 14 4-3 4-6 3 4 2-2 2 1 4 6 4-1 3 5 4-6 4 0 4 6 3 0 4 3 4 7 3 1 8 10 4-1 4 3 11-3"/><path class="c4" d="M1444 1510l8-10 10-22 3 2 9 26 2 2 6 0 11-3 7 0 18-17 8-4 12 0 3-3 4 1 22-6 4 1 4-2 7 2 8-3 7 7 4-4 7 4 4 0 4 5 7 3 8 10 7 0 4 12 4 0 3 5 4-2 4 3 4-4 3 0 4-3 4-1 3-6 4 1 11-3 4 0 4-2 4 2 3-4 4 3 4 1 3-1 7 3 1 18 1-16 3 4 18 4 11-9 10 9 17 8 7-3 8 0 25-13 15-5 4 0 8-1 5 4 11 14 13 5 5 5 10 17 11 28 2 3 3-8 2-13 3-55 4-37 8 44 3 8 24 2 7 1 4 4 4-1 7 3 8 1 11 0 4 2 15 1 3 2 8-1 4-2 3 6 4-1 4 14 3-5 4-1 4 2 4-5 3 5 8-4 4 2 3 8 4-7 7 0 4-8 4 8 4-21 2-4 9 4 4 6 3 3 4 7 5 5 2 8 9 58 5 61 1 8 5-36 7-108 3-14 4-6 4-13 2-2 1 1 4-3 4 0 5 2 8 22 6 5 11 0 3 2 4-2 8 0 3 3 8-1 8-7 6 0 3 2 12 18 9 39 6 12 3 5 2-6 10-68 4-24 2 4 4 23 3 5 8-1 6 6 3-1 4 2 4-7 5-1 10 12 3-3 4 0 7 2 4 5 4 2 4-1 3 9 4 0 8 10 7-5 4 0 4-5"/><path class="c5" d="M1444 1507l8-12 11-25 3 5 4 16 6 9 2 1 4-1 3-6 15-6 4-7 4-2 7-17 3-4 5 1 10 16 5-2 3 2 4 0 4 2 18-8 4 1 8-2 3-6 4 7 4 0 3-5 8 7 4-1 3 3 4-2 4 7 4 1 3 7 4-3 7 6 4 8 4 5 4 1 3 3 4-2 4 0 4 7 3-7 8-1 7-5 4-1 4 1 3 3 4-5 4 1 4-6 3 0 4 5 4 2 7-1 4 9 1-2 3 3 3-1 4 2 13-1 7-10 2-2 14 13 9 3 18 3 8 0 4-1 11 0 25-7 10 2 10 7 14 5 4 3 11 23 11 32 2 4 2-5 3-22 3-59 4-37 7 44 4 12 13 0 7 2 4-1 11 0 23 3 7-1 7 2 4-1 8 0 3-1 4 1 8-2 3 1 8 10 3-4 4 1 4 6 7-8 4 4 4 1 4-2 3 2 8-3 7 1 3 0 3-11 2-15 1 1 1-1 5 1 11 8 1 4 4 33 6 38 14 165 3-10 3-23 10-182 6-41 4-14 9-1 5 1 14 22 11 9 3 0 14 7 5 1 13-9 4 0 4 4 5 11 8 24 9 56 6 26 2 6 4-26 9-121 3-15 2 8 6 64 7-35 2 2 6 21 1 3 3-2 7-8 5 1 5 7 5 2 3 4 4-2 5-5 3-1 3 5 4 1 2 4 5 25 8 19 7 9 9-1 3-4"/><path class="c6" d="M1444 1513l4-2 15-32 11 26 4 4 22-9 8-7 3-2 8-10 7-1 7 2 16-3 18-4 12-7 5 0 6-2 7-6 4 4 7-3 8 5 4-2 7 13 7 7 8 15 4-2 3 6 4 3 4-5 7 3 4-4 7 0 4-10 4 7 7-6 4-6 4 0 4 2 3-1 4-5 4 2 3 7 4 0 7 6 8 1 8 6 5 2 6-7 3-1 8 11 6 4 5 3 15 2 4 2 7-3 8 0 18-4 15-5 8 1 3-1 15 11 8 1 8 6 13 29 9 29 1 2 3-9 2-16 3-65 4-45 8 53 3 9 5-1 8-2 4 2 5-1 28 10 11 1 19 4 13 0 6 4 3-2 8 6 11-2 4 2 3-4 4 7 8-1 3 3 4-5 4-1 3 2 4 0 4 4 4-36 1 2 1-1 1 1 8 0 7 6 1 4 4 32 6 32 9 108 5 79 1 10 5-33 13-241 5-35 3-8 8 2 6 4 9 10 20 22 13 12 7-1 8-9 3 0 3 2 17 45 10 46 6 9 2-1 1-5 11-92 2-11 2-3 7 49 2-4 5-20 2-4 1 0 6 33 2 4 10-24 2-2 7 36 3-5 7-33 3-8 2-2 9 24 6 25 5 13 2 2 4 0 4 2 3-1 4 6 4-7 4-4"/><path class="c7" d="M1444 1511l9-11 10-26 2 2 8 23 4 4 4-1 16-14 4-1 7-7 11-26 3 1 4 5 6 11 6 2 3-1 4 0 4-3 11 1 7-6 8-1 7-7 4 1 11-3 4 0 4-3 3 9 8 2 4 4 3 2 4 5 4-2 7 12 4 3 4 8 3-2 4 1 8 5 3-7 8-3 3-3 4 2 4-7 4 5 7 1 4-2 4 6 3 3 4-2 4 2 3 6 4-4 3 1 1 13 1-10 3 5 7 2 13-2 7-10 2-2 12 11 3 1 12 4 7 1 19 0 7-2 4 1 7-4 4 0 11-4 4 1 4-1 6 2 5 6 7 6 11 3 6 8 14 39 7 32 1 4 3-12 2-20 3-84 4-57 4 41 4 25 3 10 10-5 10 0 11 3 4 3 15 5 4-1 11 3 11 0 11 3 8-1 7 6 4-7 4 10 3-2 4 7 4 1 4-6 3 4 8 3 4-1 3 1 4-5 4 5 3 0 8 10 4-30 2-2 9 5 4 5 3 3 9 30 2 15 14 158 1 7 2-3 3-16 7-138 5-56 5-33 4-13 8-1 5 2 10 17 7 10 11 9 12 7 10 0 5-6 7-5 6 6 5 12 8 28 10 68 5 25 2 7 3-18 10-149 3-21 1 0 1 8 6 85 6-42 3-7 6 28 2 9 2-1 9-14 2-1 6 14 2 0 3-2 3-9 4-1 4-5 7 8 2 4 12 43 5 10 4-4 3 10 6 1 2 0 4-5"/><path class="c8" d="M1444 1482l6-7 10-22 3-3 6 21 5 15 2 3 3 0 6-7 4-2 4-4 5-1 5-5 16-37 4 3 9 23 9 5 4-1 4 1 3-2 10-1 9-7 4 0 4-4 3 0 8-6 3 6 4-1 4-4 4 4 7 1 4-3 4 10 7 9 4 0 3 8 12 13 4 3 7 0 4 3 7-5 7-1 4-2 4-8 4 2 7 0 4 3 4-5 7 0 4 2 3-2 4 5 3 2 1 3 1-3 2-1 16 2 5-1 6-9 3-2 2 2 11 14 10 5 15 5 7 1 4-2 4 2 7-1 15-4 15-6 9 0 11 12 15-1 2 4 17 97 5 49 2 8 1-8 3-37 4-151 4-58 4 59 4 28 3 11 9 0 11 3 6-1 20 8 4-1 4 1 4 2 14 0 12 1 3-1 8 3 4-2 3 6 23 4 3-3 4 3 4-2 7 1 4 6 7-7 7 5 1 0 3-20 1-20 1 9 1-2 5 2 8 3 3 4 5 46 6 47 14 172 2-6 4-34 10-195 5-36 5-19 13-3 11 18 4 1 15 11 11 5 11 1 8-10 4 0 3 2 5 13 10 34 9 63 6 30 2 8 3-19 10-153 3-22 2 11 6 95 9-70 2 6 5 53 2 9 11-47 2 7 6 47 3-11 9-60 3-8 10 31 9 85 3 15 8 10 3 1 7-8 5-12"/><path class="c9" d="M1444 1523l4-2 4-5 11-31 2 1 10 19 3 1 4-2 11-13 4-1 6-6 5-6 7-13 3-2 8 9 6 10 9 2 8 1 3-3 12 0 11-4 7-5 4 4 7-7 4 3 4-2 7 0 4 4 4-1 11 11 4 1 7 7 4 1 4 9 7 5 8-4 3 3 4-8 7 1 4-3 4 4 4-3 7-3 11 4 8-2 10 11 1-8 1 9 6 3 16 2 9-8 5 3 4 5 11 6 19 2 15-4 3 0 4-3 8-3 3 1 8-5 7 0 4-2 9 0 10 5 3 4 8-1 7 5 15 44 7 29 2 4 2-9 3-25 3-68 4-40 7 48 3 11 3 3 11 1 11 2 4-1 7 2 37 1 15 3 5-1 7 5 3 7 4-6 4 9 3-3 4 1 4 6 7-8 4 9 4 2 4-5 3 2 4-2 4 2 3 0 4-3 4 7 4-27 1 1 1-2 5 1 8 8 3 1 8 10 3 10 9 68 5 61 1 8 5-28 8-124 3-14 10-27 8 0 4-2 9 20 6 4 11 1 7 3 4-1 7 4 5-1 9-7 3-1 3 1 6 8 8 13 4 4 7 24 10 15 1 1 1-4 10-58 3-9 2-2 7 22 3-3 4 1 7 4 4 7 11-14 8 26 7-14 8-9 11 18 11 12 8 2 3 6 4-7 4 4 4-6"/><path class="c10" d="M1444 1510l8-8 10-26 3 2 9 26 2 1 2-1 4 0 19-8 18-25 7 3 4 5 4-2 4 2 7-1 7-4 4 2 11-4 12-10 3-6 8-3 7-7 4 5 7-2 8 12 4-2 3 1 11 11 4 11 4 6 4-2 3 7 4 1 4 4 4-3 16-8 6 2 7 7 4-2 4-3 4 7 3-3 4-1 4 9 7-4 3 6 1 9 1-5 6 3 15 0 10-11 2-1 3 0 8 8 3 3 4-1 11 3 4-1 4 2 15-1 3 2 4-2 8 0 3-4 4 1 7-1 4-2 11-1 8 2 7 7 15 5 15 40 7 30 2 5 5-31 3-71 4-45 7 50 4 14 5 1 12-2 7 2 4-1 3 2 4-2 11 0 4-2 4 2 18-2 8 1 4 3 8 2 7-1 3 8 8 11 3 3 8-3 4 6 7-3 8 2 3-1 4 2 4-2 7-8 4 4 4-24 1 1 1-2 9 4 7 8 11 45 9 87 5 66 1 8 5-23 7-135 4-45 5-33 3-12 2-3 4-2 8 1 10 14 12 11 15 11 4 2 3 0 4 3 9-9 5-1 4 2 6 11 10 23 9 44 2 5 5 8 2-2 1-4 10-85 3-15 2-3 7 50 2-4 6-29 1 0 2 5 4 28 3 8 2-1 4-9 5-19 1-2 7 50 3-10 7-47 3-7 6 8 7 25 5 24 4 12 10 6 3-3 4 4 8-9"/><path class="c11" d="M1444 1517l4-1 4-6 9-24 2-2 3 3 8 19 4 3 11-4 4-4 4 1 18-18 3-5 3-2 5 0 5 3 10-1 4-2 4 1 3-3 12-1 11-4 7 0 4 2 4-1 3-4 8 2 7 4 4-3 3 2 5 5 3 10 4-2 4 7 3 1 7 11 5 2 3 6 4-2 9 1 6-5 7-3 4 0 4-4 4 1 7-4 8 0 11 2 3-2 3 2 4 5 1 10 1-8 10 4 13-2 2-1 5-9 2-1 14 11 9 1 26 11 20 1 31-3 13 4 7 0 6 3 5 6 7 14 11 29 2 4 2-4 3-18 3-57 4-39 7 42 4 13 5 1 4-3 4 3 4-2 7 1 7 2 12 1 3 1 4 0 15 2 4-1 3 2 8 0 11 3 5-3 3 1 3 6 4-5 4 5 3 13 4-6 4-2 4 3 3-4 4 0 4 12 7-10 4-1 7 9 4-2 6-14 2-15 1 4 1-3 1 0 12 6 5 10 9 33 9 83 5 61 1 7 5-23 9-148 7-46 3-12 2-3 8 2 4-2 10 22 8 10 8 5 3 1 11 6 8 2 4-3 4-1 7-6 7 6 4 7 8 10 10 35 6 4 2 0 2-8 9-55 3-7 2-2 7 23 3 1 4-9 2-1 4 5 5 15 2 0 2-2 4-14 3-2 6 26 2 3 4-6 5-20 5-6 8 16 4 4 7 21 12-1 3 9 8-6 4-2"/><path class="c12" d="M1444 1513l4-1 2-4 12-32 2 0 1 1 8 20 3 4 2 1 13-13 6-2 5-5 17-28 13 21 11 3 13 0 8-2 15-6 3-6 4 8 7-11 4 1 11-1 4 6 8 1 3 3 4 7 4 2 3 12 4 1 8 8 3 9 4 0 4 3 7-4 4 2 4-7 3-2 4-4 4 4 4-8 3 3 4-3 8-2 3 2 5-3 6 0 4 8 3 1 1 8 1-7 14 3 4-2 5 2 8-8 4 2 10 11 32 7 15 0 39-8 6 2 7 5 8 0 5 2 2 2 15 45 9 40 2-9 3-27 3-80 4-50 7 57 3 13 2 3 4 0 15-3 30 11 8-1 3 2 23 2 15 6 3-4 4 17 4-6 3 9 4-6 8 8 3-6 8 7 5-10 2-1 4 2 4-2 3 5 4 1 3-3 5-32 2-5 6-2 6 1 4 6 1 4 4 39 6 36 9 106 5 82 2-4 4-33 7-153 5-69 5-33 4-13 8 3 4 0 2 1 16 25 4 2 7 10 16 8 3 1 14-12 5 1 7 15 7 20 11 67 5 21 2 6 3-17 10-129 3-17 2 7 6 63 2-7 4-17 2-3 7 15 1 2 6-3 4-1 3-6 8 15 4-4 3 0 4 4 11-1 8 9 3 16 8 6 4 6 3 0 4 4 8-8"/><path class="c13" d="M1444 1474l5-6 11-27 3-4 7 28 5 9 2 1 2-1 4-6 7-21 11-17 8-19 7-10 4 2 2 4 11 36 7 11 5 0 4 2 3-2 8 0 19-10 5-7 6 1 3-3 9 1 3 1 3 5 15 10 4 7 7 4 4 14 4 3 4 10 3 1 4 5 11 1 4-7 4 2 7-8 8-3 3 0 4-3 4 3 7-9 4 5 4-2 3 7 4-3 2 3 2 20 1-18 4-1 6 1 4 2 4 0 4 1 9-8 3 2 9 12 8 7 4-1 7 4 23-2 11-5 15-5 3 0 4-3 11-3 14 15 14-2 3 8 16 107 7 84 1-8 3-49 4-197 4-63 4 68 4 31 2 10 2 4 12-1 4 2 3-1 8 2 3 3 4 0 15 5 4-1 7 1 15 1 4-1 11 4 4 3 4-2 3 11 4-5 4 6 3 3 4-5 4 7 4-3 3 10 4 0 4-6 4-4 3 8 4-4 4 1 3-2 4 1 4 4 3-13 1-18 1 9 1-2 2-2 5 1 2 0 4 6 3 1 11 72 9 106 5 84 1 11 3-13 3-32 12-244 4-31 4-15 4 0 10 4 10 11 10 15 15 18 10 8 3-1 10-12 4 1 4 5 2 7 12 51 10 72 6 34 1 0 1-4 2-17 10-164 3-28 2 14 4 88 2 18 2-7 5-69 2-8 2 8 6 70 1 3 1-2 9-45 1-5 1 1 7 55 2-2 2-9 7-63 2-9 2-1 4 8 6 29 9 77 3 14 4 0 4 6 7-1 8-11"/><path class="c0" d="M1444 1525l9-10 10-24 3 2 8 16 3 2 20-7 21-14 12 4 8-2 3-3 4 2 7-2 8 0 4 2 3-2 8-1 7 2 4-6 7 2 4 0 4 2 4-4 3 3 4-3 4 6 11 9 4 0 3 3 4 8 14 16 5 2 7-6 4-9 4 7 3-8 4-4 4 5 4-7 3 1 4 0 4-4 4-1 7 0 4 5 3-5 3 2 4 4 1 15 1-14 8 4 14 2 10-9 4 1 8 9 22 6 19 0 3 2 8-2 18 0 23-6 11 2 8-1 2 1 3 5 20 65 2 2 2-10 3-22 3-58 4-34 8 47 3 7 4 1 16-2 4 2 4-2 7 2 4-1 4 3 3-2 4 1 8-4 3 2 4-3 7 2 4-1 4 2 7 0 5 2 3 4 4-1 7 7 4-1 3 7 4-3 4 7 4-3 3 6 4-2 4 1 4-5 3 3 4-1 4-2 3 0 4-7 4 7 6-34 1-2 5-2 9 6 2 5 4 35 6 39 14 144 3-12 3-25 8-151 4-26 6-24 2-3 9 2 4-2 3 10 7 12 8 6 8 1 3 3 4-2 8 4 3-1 5 1 11-7 10 5 12 19 10 34 7 6 3-8 9-58 4-10 2 1 5 15 4 5 4 8 4-4 7 5 4-7 9 4 10 6 3-2 4 0 8 5 3 5 4 3 4-1 3 1 4 3 4 6 6 2 5 0 8-13"/><path class="c1" d="M1444 1521l8-9 11-28 2 1 10 20 3 2 4-4 7-3 4-5 10-5 14-22 4-2 2 0 8 10 10 3 4-2 4 1 3-1 8-5 7 0 4 2 4-2 9 2 6-3 3 5 4-6 11 8 4-2 4 3 4 0 3 4 4 1 4 5 3-2 4 6 4 2 4-1 3 7 5-1 7-5 3 1 4-6 4 1 3-3 4 0 4 4 4 0 3 6 4-2 4 0 11 8 4-2 3 2 4 4 3 1 1 28 1-26 3 3 7-1 8 2 5-3 9-12 4 0 4 4 11 4 8 0 11 3 25-1 12-2 7-4 12 2 7 3 4 4 7 5 4 4 11 4 8 8 9 19 6 19 1 1 5-20 3-52 4-38 8 43 3 9 2 0 3-2 12 2 3-1 8 3 22 3 4 3 4-1 3 1 4-1 19 3 13 0 5 4 8 10 7-3 4 9 4-2 3-5 4-1 4 0 4 4 3 1 4-7 7 8 4-8 3 0 4-15 1-31 1 22 1-2 9 0 8 11 9 42 10 100 5 65 1 7 5-27 10-174 5-35 4-17 2-3 14 1 9 17 11 12 11 5 4 4 12 3 3-1 7-9 8 2 7 12 7 17 11 46 6 9 2-1 1-4 11-86 2-9 2-4 7 46 2-5 5-20 2-3 2 3 5 28 4 5 2-1 6-21 2-4 7 41 3-7 9-44 3-4 4 13 3 8 11 35 4 11 4-2 7 2 4 0 4-3 4-9 0 1"/><path class="c2" d="M1444 1521l6-6 11-26 2-2 3 3 9 19 5 1 13-6 7-1 8-7 9-6 17 3 18-3 4-2 4 0 4 2 3-2 12-1 3-2 4 2 4-5 3 4 4 1 4-5 4-2 3 3 4-3 18 16 4 3 4 7 4 1 4 5 6 0 5-3 4 3 3 1 4-8 4 2 7-8 4 7 4-5 11-1 4-2 3 2 4-2 11 4 3 3 1 19 1-17 10 4 12 2 10-7 4 2 4 6 7 4 8 2 26 3 4-3 11-3 11 0 19-5 6 0 9 6 14 2 4 3 11 24 11 30 2 2 2-8 3-17 3-51 4-35 7 41 4 12 15-1 5 1 11-2 8 3 4-1 7 2 4-1 22 1 11 3 8 5 4-1 3 6 4 12 4-3 3 8 4 4 4-3 4 1 7-4 4 4 7-3 4-4 7 2 4-7 4 6 4-30 1 3 1-2 5-1 4 5 4 1 11 13 3 10 9 69 5 62 1 7 2-4 3-16 9-136 7-28 4-12 1-1 4-1 4 2 4-1 10 21 12 8 22 6 7 0 8-6 8 0 7 9 7 10 10 30 7 9 2-2 1-3 11-59 2-5 2-2 6 17 4 4 4-2 4 7 7-1 4 2 4 0 4-8 7 15 7-4 4-6 1 0 3 2 4 7 11 10 11 4 4 8 10-6 5-9"/><path class="c3" d="M1444 1518l8-9 11-29 11 24 3 2 12-9 4 0 9-7 13-20 4-8 7 3 4 6 3 2 16 0 18-5 12 3 7 5 7 2 4 3 4 0 4 4 3-1 4 4 8 3 7 9 7 0 8 11 7 4 4-2 8 3 3-7 4 0 4-5 3 3 4-4 4 3 4-2 3 1 4-6 4 4 4-3 3 4 4-5 11 9 4 1 3-1 4 4 4 1 4-1 4 2 5-2 9-10 4 2 11 9 19 3 4-1 3 2 12 0 18-4 11-4 4 2 4-2 6 0 20 11 7 1 3 3 12 20 11 29 2 4 2-5 3-18 3-55 4-38 6 37 5 16 31 2 4-1 4 1 4-3 3 1 4-1 8 0 3-2 15 0 11 3 12 7 3 0 4 11 4 1 3 6 4-4 4 6 4-5 3 7 4 0 4-4 4-1 3 4 4-6 4 5 3-3 4 3 3 1 1-1 3-15 1-28 1 17 1-4 1-1 12 6 3 5 11 37 14 141 3-8 3-21 8-136 9-34 4-7 12-1 11 25 4-2 7 5 11 0 4 2 7 1 12-3 7-7 6 5 5 7 8 19 10 55 7 22 3-15 10-112 3-16 2 7 6 58 2-5 7-30 2 2 4 26 3 6 4-3 5-12 3-1 6 21 3 0 5-13 4-15 2-2 4 4 5 18 4 3 4 10 2 2 9 6 7 1 4 4 4-2 4-5"/><path class="c4" d="M1444 1510l4-2 8-16 7-23 11 26 2 1 4-3 11-17 9-7 2-2 9-21 5-16 3-3 7 12 5 15 8 7 10 1 15-4 11-7 4 0 7-8 4 3 3-2 4 7 4-6 4 6 3 3 4-2 4 6 4-1 7 15 4-1 3 2 15 19 8 3 4-3 3-6 4-2 4 3 3-4 8 3 4-2 3 4 4-5 8 6 3-5 4 5 4 0 10 9 1 4 1-2 3 1 3-2 8 1 9-3 7-13 2-2 13 12 14 6 8 1 21-3 8-3 18-5 4-2 12-1 3 2 9 13 13 3 3-1 1 1 17 88 6 54 1 5 2-13 3-49 3-129 4-61 4 60 4 27 3 11 5 0 7-2 12 1 7 4 8 3 4-1 11 5 15-1 3 2 8 0 4 3 10 0 5 2 3 6 4 1 4-2 7 11 4-5 4 7 3 1 4-4 4 1 4-6 7 12 4-10 3 0 4 5 3 1 1-1 4-40 1 5 1-1 2 3 7 1 7 7 11 90 9 103 5 85 1 9 5-36 13-259 4-31 3-12 1 1 4-3 15 9 19 24 18 20 8-3 9-12 3 1 3 4 4 16 11 45 15 131 2 14 3-27 10-204 3-29 2 13 6 128 2-12 5-79 2-10 2 9 5 67 2 9 10-47 2-5 6 56 1 3 1-2 10-75 3-9 3 5 7 29 9 55 2 11 6 5 4 1 3-3 4 2 2-1 6-6"/><path class="c5" d="M1444 1474l6-7 10-21 3-2 7 27 4 14 3 4 5 0 3-4 16-7 7-11 11-28 5 5 8 19 6 4 7-1 7 1 8-4 4 1 3-3 8-4 4 1 3-2 4 1 7-2 8 4 4-2 3 0 8 11 4 0 3 3 4 0 4 4 3 5 4 2 4 5 4 2 3 7 8-1 4 1 3-7 4-2 4 4 3-9 4 5 4-3 7 1 4-1 4-4 4 5 3 0 4-2 7 8 4 0 4 7 1-2 6 2 17 1 6-8 3-1 4 2 9 12 6 1 13 5 6-1 7 1 15-4 4-2 7-1 8-4 3 1 8-5 7 0 13 13 10 2 5 1 2 2 17 68 7 44 2-11 3-36 3-100 4-55 7 67 3 15 2 3 8-3 11 0 15 5 11 0 12 3 7-1 4 2 23 1 7 4 3-1 4 8 4 0 3 4 4-3 4 2 4 6 3 1 4-9 8 3 3-2 4 4 14-7 4-11 1-14 1 5 1-4 5 0 4-1 4 6 3 3 1 3 4 34 6 34 14 181 1 1 2-9 3-25 7-133 4-69 5-36 4-15 5-1 4 1 4-2 2 1 13 15 11 7 7 8 8 2 6 5 3-1 8-11 4-3 2 0 4 7 4 12 10 41 15 112 2 13 3-23 10-186 3-27 1-1 1 10 6 122 6-69 3-13 9 60 11-36 2 4 5 22 2 2 4-6 6-22 3-3 4 5 4 13 4 4 10 45 9 13 7 0 4 5 4-8"/><path class="c6" d="M1444 1525l8-9 11-31 3 2 8 19 2 1 9-7 12-13 4-1 14-22 3-1 5 2 9 15 6 4 3-2 8 2 7-3 15-1 6 1 7 4 6 1 3-4 8 4 7 1 8 4 4 8 3-2 4 4 4-3 7 12 4-1 4 1 3 4 4-5 4 0 4 4 11-7 3-4 12-4 3 4 5-3 3 0 4 2 3-7 4 0 11 9 3 1 1-11 1 12 4 3 6 2 4 0 8 3 10-8 4 3 8 9 15 3 3 0 11 2 8-1 11 1 11-2 4 1 4-1 18-3 12 2 3-1 4 3 4 0 5 2 4 4 9 18 11 29 2 3 2-4 3-19 3-55 4-36 8 45 2 7 2 1 8 0 4 2 4-1 3 2 8-1 11 2 30 2 3 2 8-1 4 0 3 2 6 0 6 7 7 0 4 4 3 8 8 9 4-4 3 4 4-5 4 0 4-2 3-5 4 5 4 2 3-3 4-8 4 6 4-28 7-2 8 8 3 2 11 35 9 79 5 61 1 6 5-23 9-146 5-29 4-15 3-6 4 1 4-1 4 0 11 20 7 4 8 3 7 5 8 0 9 4 2-1 4-4 4-2 7 2 15 23 10 29 7 8 2-4 7-38 7-32 2 3 5 18 4 2 4-1 4 0 7 13 4-5 4-1 3-8 2 2 4 14 4 4 2 0 3-14 6-1 9 8 9 16 2 2 4-3 4 9 4 2 3-4 8 2 4-6"/><path class="c7" d="M1444 1499l6-7 13-28 7 21 6 16 2 1 3-2 12-10 4 1 7-6 8-18 6-17 3-3 5 2 7 11 8-1 8-4 3 1 4-2 15 2 8 9 3 1 4 7 4-1 3 8 4 0 8 8 3-5 15 15 4-2 7 10 4-2 4 6 2 0 9 0 4 2 7-7 4 3 7-11 4 2 4-4 4 1 3-4 4 4 8-6 7 4 7-1 4 4 3 0 1-3 1 5 3 5 3 0 4-1 4 2 9-3 6-9 2 0 7 4 7 7 36 9 11-1 4 1 4-1 3 1 4-2 4 1 3-3 4 1 8-4 4-1 7 3 4 4 11 2 3-2 4 4 17 61 6 36 1 3 5-42 3-93 4-54 4 44 4 26 3 10 5 0 8-2 8 0 10 5 12 7 11 3 4 3 3-1 11 3 19 1 4 1 4-4 7 8 4 2 3-4 8 4 4-3 3 1 8-5 7 6 4-4 4 5 3-2 4 3 3-4 2-6 3-26 1 8 1-1 9 3 7 9 11 59 9 97 5 73 1 10 5-27 12-215 5-37 4-12 13 1 21 37 11 12 11 7 8-3 9-8 6 3 14 25 10 40 6 11 2 1 2-6 11-77 3-11 2 3 6 29 3 0 4-9 2 1 9 18 4-7 4 3 3-10 8 18 7-8 9-5 8 10 11 21 9 8 8 0 4 2 4-3"/><path class="c8" d="M1444 1468l8-8 7-17 4-4 11 40 2 2 6-1 7-10 11-5 2-3 17-45 7 13 6 17 9 8 4-1 4 1 15-3 17-11 5 1 7-6 4 5 4-4 15 13 4-1 7 11 4 2 7 15 4-1 4 9 7 10 8-1 3-7 8 0 3-3 4-1 4 2 4-5 3-1 4-4 4 2 4 0 7-3 4 5 7-1 3 3 1 18 1-17 6 2 4-2 4 4 7 0 11-12 14 18 16 6 11 1 4-2 8 0 3-1 4 0 15-5 4-3 3 1 8-3 4 1 4-1 3 2 9 13 6 4 8 2 4 7 16 72 6 49 1 5 2-12 3-43 3-119 4-61 4 56 4 28 3 10 11-3 6 0 7 1 4 3 7 1 11 5 8-1 4 2 3 0 4 1 4-1 26 3 4 3 3 7 4-1 7 4 4 7 4-2 4 3 7-8 4 11 4-2 3-8 4 7 4-7 10-1 4-13 1-15 1 6 1-4 6 0 3 0 7 6 5 48 6 49 9 107 5 89 1 9 3-18 3-37 12-255 4-32 4-14 8 0 11 9 4 7 4 4 3 8 13 19 13 13 8-2 4-6 7-6 7 10 13 58 14 115 2 13 3-24 10-194 3-32 2 14 6 121 2-10 5-72 2-8 8 71 1 2 2-3 8-35 2-5 7 49 3-10 9-58 3-9 7 21 3 13 9 87 3 14 4 8 4-2 3 4 2 0 3-3 7-18"/><path class="c9" d="M1444 1534l12-8 7-13 11 8 4-1 7-5 4-5 11-3 8-5 3-5 7-3 23-2 15-3 4 1 7 0 4-2 4 1 11-3 7 1 4 3 4-1 4 2 3-3 4 2 4 0 4 8 7 1 4 3 3 9 4 0 4 10 4 5 3 3 4 0 4 3 4-1 7-13 4 0 3-5 15-6 4 0 4-3 4 1 3-3 8-1 3 2 4 0 3 3 1 6 1-5 2 0 4 5 16 5 7-7 3-1 8 8 7 5 4-1 11 2 15 0 15-3 4 1 11-3 11 0 4-3 11 1 8 2 3 3 8 1 4 2 11 12 16 37 2-5 3-16 4-60 3-23 7 39 4 11 5 1 4-1 19 1 3 2 4-1 15 2 4-1 7 2 8 1 3 1 4 0 11 3 8 0 11 10 7 12 4-1 4 6 7-3 4 3 4 0 4-5 7-2 4 6 3-8 4 6 5-14 3-20 1 2 1-1 5 2 4 6 7 5 4-1 3 2 4 8 7 45 7 83 1 9 5-23 8-118 9-43 3-7 12-1 2 1 9 21 8 9 11 3 16 6 3 0 4-3 10-5 5 2 11 11 5 9 8 24 7 11 2 0 1-4 11-64 3-9 6 23 1 3 4 3 4-4 4 4 4-4 3 6 8 1 4-5 7 14 4-1 3-5 4 1 4 5 4-1 3 2 4 4 4-2 7 12 4-4 7 11 5-5 7-12"/><path class="c10" d="M1444 1533l8-6 10-15 2 0 6 5 8 5 7-8 8-5 10-3 15-11 16-1 4-1 7-1 4-3 7 3 4-3 11 1 4-1 9 4 9-2 4 1 4-4 7 6 4-4 8 4 3 1 4 8 4 3 3 2 12 22 3-1 4 4 4-1 4-5 7-6 4 1 11-10 7-2 8-5 4 4 7-4 4 4 3-1 7 4 1 10 1-8 3 3 11 2 7 0 11-12 13 11 10 3 18 1 4 1 11 0 4 1 4-1 11 0 7-2 4 1 4-1 26 2 14 5 6 5 8 16 7 20 2-5 3-15 7-75 7 37 4 10 13-2 7 1 4-1 4 2 3-1 19 4 8 0 3 2 4-2 4 3 7-1 8 2 8 1 3 2 4 1 3 5 4 0 11 23 4-12 4 8 3-4 4 4 11-3 4 2 4-8 3 0 4 3 3-1 4-17 1-26 1 17 1-2 2 0 6 4 5 6 7 1 6 7 1 6 9 59 5 65 1 7 5-29 8-116 10-34 3-4 4-2 9 3 8 22 6 5 3 1 4-1 7 5 4-2 8 5 6 1 9-3 4-5 7-1 15 16 9 26 6 11 1 2 2-2 2-6 9-51 2-6 3-4 7 20 7 3 4-1 7 7 4-5 8-5 3-1 4 8 4-1 3 8 4-9 4 7 4-3 7 10 4 2 3-2 4 10 4-3 4 6 11-3 4-10"/><path class="c11" d="M1444 1476l6-5 10-22 3-3 7 26 4 12 2 3 4 0 5-3 4-6 4 0 4-4 3-1 3-2 14-30 2-1 4 5 9 25 7 5 10 2 15-3 3-4 10-5 5-7 4-1 7-7 8-1 4 3 3 0 4 4 4-5 15 23 3 3 4 6 4 3 7 13 8 3 5-1 10-7 3 2 4-8 4 9 4 0 7-8 15 0 7 2 4-2 3 8 1-5 1 8 6 1 4-2 4 1 7-3 9-15 2-2 4 2 11 12 8 1 7 5 4 0 4-1 11 2 7-1 4-1 4 1 18-7 8-2 8 0 3 2 8 12 11 2 5 3 2 2 16 66 7 51 1 4 2-10 3-40 3-113 4-59 4 53 4 27 3 10 17-3 41 14 3-1 4 2 22 3 13 3 10 11 3 0 4 11 4-6 7 6 4-3 8-1 3-2 4 1 4-2 10-1 4-10 1-14 1 6 3-6 4-1 3 1 7 8 11 59 9 97 5 73 1 10 2-6 3-20 13-227 5-33 3-7 12 1 26 29 7 5 8 8 10 2 7-9 4-3 4 4 5 13 10 37 10 69 6 32 2 9 3-21 10-162 3-27 2 13 4 85 2 19 2-7 7-76 2 6 6 75 1 3 2-5 7-43 2-9 2 6 5 57 1 3 1-1 5-30 5-55 3-8 5 16 3 6 13 90 6 6 7 2 4-2 4 3 4-5"/><path class="c12" d="M1444 1478l8-10 11-27 7 26 2 7 4 5 4-2 10-14 10-7 16-41 3-4 3 5 11 35 5 6 7 6 4-1 3 1 8 0 7-3 4 1 8-3 3 1 4-6 4 7 11-3 4 4 3 2 4-2 4 5 4 1 3 7 8 6 3 9 4 5 4 1 4 8 15 7 3-5 4-1 4-6 7 0 15-13 4-1 7-6 4 3 7-7 4 7 5 0 6 3 8 1 7 3 9-9 2-1 15 19 4 0 4 3 15 3 15 0 3-2 12-1 3-2 15-5 12-1 3 2 9 11 6 2 4-1 5 2 2 3 16 71 7 55 1 5 2-11 3-44 3-123 4-61 4 57 4 28 3 10 17-4 11 3 7 5 11 4 41 4 4 3 4 0 5 3 6 6 4 0 7 7 4-3 4 5 3-1 4-4 4 2 4 5 3 0 4-3 4 0 3-5 7 6 1 0 3-19 1-20 1 10 1-2 12 4 3 5 2 5 10 74 9 104 5 84 1 11 5-35 13-255 4-30 2-9 2-3 8 0 6 4 9 11 11 22 7 10 13 12 4 2 4 0 9-11 4-2 7 9 12 39 15 97 2 7 3-20 10-157 3-22 2 10 6 97 2-11 5-50 2-7 8 55 3 2 2-3 5-24 2-8 2 5 6 39 4-11 7-43 3-6 3 2 5 15 14 76 9 7 6 2 7-2 2-3"/><path class="c13" d="M1444 1495l6-6 9-24 3-4 3 3 8 28 4 5 7-4 5-5 8-3 5-5 6-8 8-24 3-5 2 1 5 7 5 12 9 1 24-4 3-4 4-1 11-9 4-1 4-4 3-1 8 7 4-2 3 5 4-5 4 8 4-1 11 21 3 3 4 11 4 1 7 21 4 3 4-5 4 3 3 0 8-7 3 3 4-7 15-6 4 1 4-9 3 0 8-4 3 6 4-1 3 2 1 8 1-6 10 3 14 1 6-9 2-2 4 4 4 8 6 5 13 5 7 0 4 2 7-2 8 1 7-3 26-10 8 2 3 0 13 16 15 9 3 4 7 15 9 29 6 30 1 4 3-12 2-20 3-86 4-58 7 63 4 15 10-5 10-1 23 9 29 6 8-1 4 2 11 1 4 4 3 1 4 4 4-4 3 10 4-1 4 1 4 8 3 1 4-10 4 4 4-4 3 5 4-5 4 3 3-4 4 5 5-11 3-20 1 1 1-4 9 2 7 5 5 42 6 42 14 152 3-11 3-25 9-169 4-25 7-25 5-2 4 2 4-1 11 17 11 0 11 4 4 0 4 1 3 4 8-3 10-10 4 2 7 18 9 34 10 74 5 30 2 5 3-20 10-164 3-25 2 13 6 98 7-60 1-2 1 0 8 42 3 0 2-2 4-16 4-1 7 22 7-12 4-13 2 0 2 1 4-2 7 17 8 41 3 8 4 5 4 8 3 2 4 0 8-7"/><path class="c0" d="M1444 1532l12-9 6-12 3 1 5 7 8 1 7-5 4-4 11-2 17-14 13-1 4 1 7-4 11-4 12 2 3-2 4 2 4-1 9-2 13 5 4-3 4 2 10 2 8 8 11 4 8 16 4 3 3 6 8-2 4 2 3-7 4 0 4-6 3 0 4-3 4 2 4-6 3 0 4-3 8 1 3-1 4 2 4-1 3 2 4-1 3 3 1 17 1-14 3 4 20 1 6-7 3-1 4 1 9 7 25 4 22-2 15 0 4-2 11 1 4-2 8 1 25 8 8 7 7 12 9 24 2-4 3-14 7-82 7 38 4 10 17-1 14 4 12 0 3 3 4-1 8 2 11 0 11 3 7 0 6 2 6 1 3 2 8 16 3-2 4 1 4-6 7 7 4-8 4 2 7-2 4 2 4 0 3 1 7-2 4-14 1-22 1 15 1-2 9 5 4 4 11 7 3 8 9 63 5 66 1 7 5-28 8-119 9-34 4-8 4 3 9-1 8 22 9 6 11 3 8 4 11 1 4-1 7-7 8 0 7 8 8 11 9 24 8 13 2-5 3-21 4-10 3-25 4-8 7 20 8 0 4 7 4-4 3 5 1 0 10-9 8 11 4-4 7 7 4-5 4 6 3 1 8 5 11 4 4 7 3 1 4-4 8-3"/><path class="c1" d="M1444 1514l4-3 3-5 11-32 1-1 2 2 5 13 5 10 7 0 11-15 9-7 6-10 9-24 2-2 3 3 4 8 6 14 6 5 20-4 9-3 4 1 11-3 4 3 4-5 3 3 9 0 12 4 6 8 3-3 4 8 4 2 11 17 4 0 3 10 4-5 4 3 4-2 3 4 4-1 4-5 7-4 4 2 4-4 3 1 4 3 4-4 11-6 4 12 3-5 4-1 3 7 1 7 1-5 6 2 16 2 7-10 2-1 5 3 10 10 9 0 4 2 14 3 8-2 15-2 4-1 3 0 4-2 4 1 3-2 4 0 4-3 9 0 13 9 8 2 3-1 3 3 16 45 8 39 1 2 3-15 2-20 3-83 4-52 4 39 7 35 9-1 8-2 22 4 7 0 4 2 4-1 4 1 11-1 3-1 12 4 3 0 12 8 3-2 4 10 4-1 7 8 8 1 3-4 4 8 4-5 4-2 7 7 4-11 3 0 4 7 3 1 1-1 4-35 1 2 6-1 4 1 5 5 3 6 4 32 6 38 14 165 3-9 3-23 10-184 6-41 4-14 9 0 4-1 11 20 4 3 3 5 4 0 4 6 11 4 7 6 12-5 6-7 2 0 4 4 6 10 7 18 11 58 7 21 2-8 11-116 3-18 1 0 1 6 6 64 6-36 3-9 8 43 2 1 2-2 6-21 2-4 1 0 6 35 1 1 1-1 5-20 5-25 3-5 4 8 4 20 12 29 11 7 7-1 8-5"/><path class="c2" d="M1444 1510l4-2 4-6 11-36 2 0 5 14 3 6 3 2 3-3 11-20 12-12 14-39 3-4 4 6 9 31 6 9 7 3 7 1 4-3 4 2 11-6 4 1 4-3 5 2 13-5 4 5 4-4 3 7 4-4 4 5 7 6 8 8 3 9 8 6 4 9 3 2 7-1 5-4 3 4 4-9 4 5 3-6 4 1 8-8 3 5 4-6 8 2 3-2 4 3 4-4 3 6 4 1 3-1 1 9 1-8 4 4 2 1 15 1 3-2 6-8 3-1 3 2 9 13 6 2 15 6 30-1 4-2 3 0 4-3 7 0 4-3 9-1 4 1 6 8 5 5 6 3 7 1 4 4 15 56 9 53 1-4 3-27 4-113 4-53 4 45 4 26 3 11 17-2 11 0 3 2 8 2 11-1 4-1 4 2 18-1 4 3 15 3 4 0 3-2 4 14 4 4 3 0 5 2 7-1 3 6 12-4 3 8 4-8 7 4 4 0 7-18 1-16 1 9 3-4 5 0 5 3 3 4 3 8 9 54 9 95 5 77 1 10 2-5 3-20 13-234 4-30 4-14 4 4 8 0 2 2 9 14 11 15 4 3 7 11 11 8 6 0 9-8 3 0 4 3 8 14 8 17 8 36 2 4 5 5 2 0 2-5 10-66 3-11 2-2 7 31 10-18 6 25 3 5 3-2 6-18 1-4 1 1 7 33 3-5 8-36 2-3 4 1 2 2 7 25 8 41 3 1 5 8 10 7 4-1 4-5"/><path class="c3" d="M1444 1528l9-12 9-28 3 0 9 17 3 1 8-7 6-7 13-9 12-24 3-3 13 19 6 1 3 3 19-5 4 1 3-1 8-1 7 3 15 2 4-2 4 6 7 3 4 3 7-2 4 8 7 0 8 8 4-2 7 0 4-3 4 3 3-8 4 4 6-4 1 0 4 2 4-4 4 5 3 2 4-6 4 0 4-2 3 8 4-1 4 2 3 5 4-2 4 8 2-1 21 3 9-11 1-1 8 8 11 7 4-1 4 3 3-1 23 4 7 0 15-5 11 0 15-4 8 5 17 3 3 5 15 45 5 19 2 3 2-9 3-22 3-61 4-36 8 48 2 7 3 2 18-1 8 3 3-2 8 1 11-4 8 0 11-3 11 3 4-1 11 6 4-1 7 3 7 16 4-3 4 6 4-3 3 6 4-9 4 0 4 5 7-5 7 5 4-3 6-13 2-18 1 7 1-3 4 1 9 4 3 5 10 34 10 89 5 59 1 6 5-29 8-139 4-25 8-27 5-3 4 4 4-3 9 18 6 6 7 0 7 3 4 0 8 3 8 1 3-1 5-7 4-2 3 1 6 8 12 25 9 39 6 12 1 1 2-2 1-4 10-77 4-12 2 3 4 19 1 3 2 1 6-1 4 5 4-4 3 8 8-7 4 1 3 3 4 10 4-4 3 4 4-5 4 6 7-3 4 8 4-1 3 5 12 7 3-1 5 1 3-1 4-10"/><path class="c4" d="M1444 1518l8-9 11-28 13 23 2 1 3-1 11-12 7-3 4-4 5-6 11-21 4 2 9 14 6 1 3 3 8-3 15-2 3-2 15 0 4-2 4 3 3-2 4 1 4-2 7 5 4 0 4 4 4 0 3 7 4 1 7 5 8 9 7 0 4 4 4 2 4-2 3 0 4-4 4-1 3-3 4 3 4-6 4 3 15-1 3 7 4-4 4-1 7 3 3 5 1-4 1 5 6 3 12 1 5-1 7-9 2-1 4 2 8 9 7 0 17 4 17-2 3 1 4-3 8 0 7-4 24-6 11 9 15 1 2 2 17 70 7 43 1-6 3-28 4-109 4-51 4 45 4 25 3 10 17 0 11 3 11 2 7 3 4-2 4 3 22 1 11 3 5-1 7 4 3 1 4-2 4 14 3-4 4 5 2-1 2 0 4-6 7 8 4-4 7 2 4-8 4 9 3 2 4-4 4 3 4-25 1 1 1-2 2 0 11 3 12 25 2 11 9 80 5 62 1 8 2-4 3-16 7-112 3-42 7-41 4-11 13 2 11 25 6 8 8 6 3 0 8 5 7 0 4 2 8-5 7-4 8 6 11 16 10 42 6 10 1 0 2-6 10-74 4-15 8 31 3 0 5-4 7 5 3 6 4-5 7-1 4 6 2 1 2-1 6 4 1 0 7-4 4 0 4 7 4 0 1 1 6 13 4 12 4 0 7 7 4 1 4 2 4-6"/><path class="c5" d="M1444 1486l6-6 10-22 3-3 2 3 7 29 4 7 3 1 14-11 4 2 4-5 18-33 4 4 9 18 9 4 19-5 7 0 12-6 11 1 3-4 3 0 9 3 3-2 4 6 4-3 4 1 7 14 4-1 3 7 15 13 4 7 4-6 4-4 3 2 8-1 3-6 15-6 4 0 8-3 3 3 4-6 4 6 3-2 4 2 3 4 1 15 1-14 22 2 10-13 11 12 8 6 19 4 3 3 4-2 15 0 4-2 7 0 4-3 15-4 6 1 5 3 7 10 8 5 4 1 7 7 17 53 7 34 2-9 3-28 3-82 4-50 4 40 4 23 3 10 13-2 4 2 26 0 7 2 19-2 3 2 8-1 4 3 8-2 4 3 6 9 4-4 4 1 3 9 4-7 4 12 4-10 3 4 4-7 4 7 4-3 3 7 4-2 7 1 4-4 4 9 3-13 1-25 1 13 1-6 4 0 12 11 10 46 9 98 6 86 1 9 2-5 3-20 13-229 4-27 4-12 4 1 4-3 6 5 24 38 11 10 7 4 7-1 5-3 3-5 3-1 3 1 5 5 12 31 8 47 7 24 2 5 3-14 11-123 3-13 7 86 1 0 1-8 5-52 2-8 2 7 5 65 2 8 3-7 7-47 2-5 7 102 3-17 7-100 3-19 1-1 1 2 7 31 9 53 4 18 2 2 8-6 3 1 4-3 4 0 4-6"/><path class="c6" d="M1444 1481l5-4 10-27 4-5 2 3 5 19 3 9 3 5 3 0 6-11 4-4 4-7 4 1 7-9 4-13 11-27 7 19 7 22 7 8 16 4 11-6 4 2 4-4 11-4 11 2 8 4 3-2 4 2 4-1 4 4 3 9 4 2 4 6 3 2 8 10 4 2 3 9 4-5 8 5 3 0 4 1 7-12 8 1 7-2 4-2 4-4 4 4 3-5 4 7 4-5 3 6 4-3 3 3 1 6 1-3 4 3 10 0 4-3 3 1 2-2 7-11 2-3 8 8 4 5 11 5 11 3 7 0 4-2 8 1 35-11 10 0 3 2 4 8 5 6 15 3 2 3 17 79 7 55 1-5 3-33 4-140 4-60 4 56 4 28 3 11 4 0 5-2 8-1 3 2 9 1 14 6 3-1 23 5 3-3 20 6 3-1 4 4 3-4 4 4 4 8 3 1 4-3 4 1 4-3 3 1 4 6 4 1 4 0 3-4 4 5 4-4 3 4 4-2 4 4 3-18 1-22 1 12 1-2 5 0 9 7 3 8 10 63 9 113 5 86 1 10 3-15 3-33 12-244 4-32 4-13 4-1 10 6 5 6 4 1 7 11 15 19 13 12 3 1 3-1 8-12 4 1 2 3 4 12 12 44 10 68 6 29 1 0 1-3 1-7 11-157 2-18 2-5 7 106 2-8 5-59 2-8 2 7 6 58 2 1 2-5 7-34 1-5 1 1 7 59 4-15 5-47 5-17 2 2 3 6 5 23 12 61 1 2 4-1 4-4 3 0 4 1 8-3"/><path class="c7" d="M1444 1503l7-8 6-13 6-15 11 34 2 1 9-4 4-6 12-7 10-15 5-11 3-3 4 1 9 16 2 1 4-1 7 2 7-3 12-1 7-4 4 1 7-1 8 6 3-6 4 6 4-3 4 1 3 3 8 3 4 4 3 1 8 9 3-1 8 12 4-2 3 3 4 0 8 5 3-6 4 3 4-8 3 1 8-3 7 1 9-6 3 0 7 5 4-2 7 2 3 2 1 24 1-21 3 4 17-4 3-2 7-12 2-2 12 11 7 1 4 3 11 3 4 3 7 2 8 3 15 3 7 0 19-6 4 0 13 8 14 2 4 7 12 37 4 14 5 28 1 4 2-7 3-29 3-88 4-56 4 43 4 25 3 10 13-5 7 1 11 5 8 6 15 6 4 3 22 3 4-2 3 2 11-1 4 3 4-4 4 9 3-1 4 2 4-4 4 8 3-5 8 3 4-3 3-1 4 7 4-5 7-2 4 10 4-29 3 1 2-2 6 0 5 6 3 5 10 48 9 89 5 66 1 8 5-25 10-174 6-41 4-15 5 0 4-1 5 0 9 15 8 10 8 7 18 9 8-1 4-5 5-4 4 2 5 5 12 32 9 56 7 27 1 1 1-3 2-14 10-121 2-14 2-3 7 75 6-34 3-7 9 36 11-24 2 4 4 18 1 3 2 0 6-11 5-13 3-2 18 36 4 2 4-2 7 9 4-4 8-2 0-1"/><path class="c8" d="M1444 1520l12-20 6-20 1-1 2 2 9 21 2 2 2 0 13-13 10-5 10-16 6-13 2-2 4 4 9 16 6 2 7 1 4-3 18-1 8-4 4 0 5-5 9 2 4 5 8-3 3 2 4-1 8 6 7 4 4 7 3 0 4 10 4-4 7 9 4-4 4 5 4-4 3 0 8-4 3 1 4-2 4 2 4-1 3 2 4-6 4 6 4-1 3 1 4-3 4 7 7 1 3 2 1 11 1-8 3 3 18 2 11-11 2 2 11 10 10 4 22-1 15-4 4 0 22-7 12-2 13 9 5 1 4-2 7 5 17 61 7 39 2-12 3-31 3-90 4-53 5 50 6 28 13-1 4 1 3-2 4 3 7 0 4 4 11 2 4 2 19 1 3 1 4-1 4 2 4 0 7 1 4 2 4-1 3 5 4-2 4 0 7 9 4-1 4 2 7-4 4 6 4 2 3-12 4 7 4 4 7-2 3 0 2-3 5-20 1-1 8 2 4 5 3 3 11 40 9 83 5 64 1 9 5-23 9-154 7-48 4-14 5 1 4-1 5 1 2 4 4 9 15 14 4 3 3 0 4 4 11 5 4 0 8-6 6-4 4 2 15 29 11 46 6 10 1 0 2-6 11-89 3-12 2 5 6 42 1 0 1-2 7-21 2 1 7 32 3-4 8-18 1-2 7 32 4-7 7-28 3-3 3 4 8 17 10 29 10 7 3-2 4 4 8-4"/><path class="c9" d="M1444 1470l5-3 7-16 7-11 7 26 6 15 6-2 7-10 4-1 4-4 3 1 19-53 7 10 6 15 9 10 4-2 11-2 4 3 7-3 8-1 6 1 9 3 3 4 4 0 8 8 7 0 11 11 8 3 3 3 4 0 8 5 6 7 9-6 3-1 4 1 4-10 7 2 4 5 4 0 3-5 4 6 8-3 3 5 4 1 4 3 7-3 6 7 9 3 13-1 6-7 3-2 4 3 6 8 5 5 4 0 15 6 26-3 22-8 8-1 4-2 5 1 11 14 2 1 13 0 2 3 17 79 7 52 1-5 3-33 4-133 4-57 5 62 4 24 3 7 16-4 7 2 7 0 4 2 15-1 11-2 19 0 4 3 11-1 7 11 4-1 4 2 3 9 8-4 4 1 3 4 8-9 4 10 3-2 4 6 4-6 3-3 4 2 4 5 4-32 2-4 7 2 9 6 5 51 6 49 14 173 2-7 4-37 9-184 5-42 4-20 3-5 8 2 4-3 9 10 9-1 8 3 3-1 8 6 4 7 10 0 12-12 4 3 11 47 5 27 14 133 2 14 3-28 10-212 3-35 2 17 4 107 2 23 6-85 3-21 2 8 7 81 10-50 2-5 6 54 1 3 1-1 4-21 6-53 2-5 1 0 5 9 6 26 7 43 4 21 1 1 4 1 4 2 3-2 5 1 7-7"/><path class="c10" d="M1444 1523l8-12 11-32 2 1 9 19 2 2 2 0 13-22 6-4 7-9 14-27 4 6 10 29 6 6 3-1 4 2 11-1 4-1 4 1 11-1 11-5 26 12 4-1 4 1 7 9 4 2 3-2 12 16 3-7 4 7 8 2 3-9 8 0 26-8 4 1 3 4 4 0 7 7 7 2 5 0 4 2 11 0 4-2 10-13 6 3 6 5 11 2 4 3 3 0 4 2 7-1 19 2 11-3 8 1 7-5 15 1 9 6 6 3 4-1 7 4 16 48 8 31 2-9 3-25 3-72 4-42 8 54 2 8 3 2 18 3 11-2 8 4 33 0 12 2 3 3 8-1 11 9 11 14 4-3 4 4 3 1 4-3 4 4 4-3 3 4 4-13 7 4 4-8 4-3 3-9 1-14 1 6 1-2 5 0 11 10 11 41 14 144 1 5 5-25 8-142 4-27 6-28 2-4 5-1 9 2 10 22 11 9 11 4 4 4 4-3 3 3 5 0 7-3 3-5 2-1 5 1 4 4 12 21 10 48 5 14 2 3 3-13 13-111 8 52 6-17 2-2 7 18 3-1 4 1 4-6 4-2 7 17 4-5 3 0 4-7 4-3 4 2 3 11 4 0 4 5 5 15 2 2 4-2 7 13 8-11 4-1 0 1"/><path class="c11" d="M1444 1528l8-6 11-27 3 1 9 13 3 1 22-10 16-13 7 2 3 0 8 2 4-1 3 1 8-2 3 0 27-2 7 3 4-5 3-3 4 8 4 0 4-4 3 3 4-1 4 4 4 0 7 4 4 8 3 4 4 0 8 13 3 4 8-4 4 1 3-5 4 2 4-8 3 1 4-5 4 4 4-2 7-6 4 4 7-4 8 2 3 4 7 3 1-2 1 4 4 3 17 2 9-10 3-1 4 2 8 6 10 4 22 2 8-1 3 1 4-1 4 2 4-3 11 0 18-3 23 6 3-1 8 7 4 6 14 35 2 3 2-4 3-17 3-48 4-36 7 39 3 10 2 2 23-2 15 4 15 0 4 3 3-2 11 0 22 4 8-6 4 9 11 0 4 5 7-5 4 9 4-3 4 3 11-1 7 5 7-14 1-13 1 6 1-2 2 1 7 4 7 8 8 3 3 7 7 47 7 80 1 7 5-31 4-65 4-52 12-35 9 0 6 2 7 20 6 6 7-1 4 1 7 0 4 5 7-2 4 2 12-8 7 1 4 5 11 16 9 28 8 9 2-5 4-27 10-43 2 2 4 14 5 10 4-2 8 7 7-5 4 4 3-6 4 5 4-2 7 6 12 5 3 0 4 4 4-1 7 10 11 7 4-5 6 0 2-2"/><path class="c12" d="M1444 1507l4-2 2-4 13-32 10 27 3 4 2 1 10-10 14-9 14-25 3-3 7 10 6 10 9 4 8-2 7 1 8-4 3 1 4-3 4 0 7-4 4 4 4-4 3 2 8-4 4 7 3-1 4-3 4 7 15 11 7 12 4 1 4 9 3 5 15-7 4 3 4-5 11-6 4-3 7 1 8-8 3 2 4-3 4 4 7 5 3-4 1 22 1-20 3 5 7-1 14 5 6-9 2 0 4 3 8 12 11 2 4 2 3-1 13 1 21-3 22-8 13 1 11 9 15 6 3 3 15 45 8 35 2-9 3-26 3-77 4-47 7 55 3 13 2 2 8-2 8 1 7 3 4-1 22 7 8 1 3 2 8-2 3 2 19 1 4 3 15 2 3 7 4-5 4 9 4-7 3 4 4-5 8-1 3 8 4-5 4 7 3-9 4 2 3 0 1-2 3-15 1-15 1 6 1-2 5-3 4 5 7 6 11 60 9 106 5 76 1 10 5-29 13-235 4-27 4-13 4-2 10 4 24 31 15 15 8 2 10-10 3 0 4 2 8 19 8 22 10 50 4 9 3 6 2-7 11-101 3-15 2 5 6 42 3-5 4-13 4 9 7 10 13-8 2 2 4 11 4-1 3-4 4 0 5-2 3 1 8 12 6 22 8 7 6 10 1 2 4-2 4 3 4-2 0-2"/><path class="c13" d="M1444 1528l9-11 10-25 2 1 5 8 5 9 3 0 4-3 20-9 6-8 4-4 6-8 4-3 4-1 4 6 2 1 6-3 11-1 22-7 8-5 3 1 4-3 7-1 4-5 4 2 4 4 3-1 4 1 4-2 4 9 3 1 11 16 4 2 4 7 11 12 4-1 7-5 4 1 7-6 4 1 4-2 4 1 3-5 4 0 4 2 9-2 16 5 1 5 1-3 3 4 15 0 6-2 5-8 3-3 12 13 26 7 7-1 4-2 4 1 3-2 12-1 11-5 3 1 4-3 12 1 14 13 11 6 4 0 15 47 8 41 1 3 3-15 2-22 3-91 4-56 4 44 4 25 3 10 17-5 14 5 7 4 16 5 7 1 4 2 35 1 6 4 4-1 3 5 8 5 4-1 3-9 4 6 8 1 3 0 8-5 3 6 8 5 3-14 1-14 1 4 1-3 1-1 15 14 11 50 14 149 1 0 2-7 3-21 9-154 7-39 3-10 2-3 4 2 9-1 10 17 7 0 4 3 7-2 12 5 3 3 7 0 10-12 2 0 2 1 5 10 11 38 15 95 3 13 3-21 13-183 2 12 6 102 2-8 6-61 1-1 1 2 7 51 2 0 2-3 5-19 3-7 2 5 6 34 5-14 6-36 3-5 3 4 8 24 9 45 7 14 4-5 3 5 4-1 4 3 4-7"/><path class="c0" d="M1444 1520l4-2 2-3 13-31 2 1 9 18 2 2 2 0 15-15 10-6 5-8 10-12 4 2 9 14 10 5 23-3 15-4 3-3 4 1 7-4 4 2 4 0 7 3 4-7 4 8 4 1 11 13 3 0 4 2 8 13 3-2 8 2 4-6 3-1 4 1 4-6 3 1 4-1 4 3 4-2 3 2 4-2 4-7 4 6 3 1 4-1 4 5 7-1 3 3 1-3 1 5 3 4 15 3 6-3 8-9 4 1 9 9 21 5 7-1 8 1 7-3 4 1 8-4 7 0 7-4 12 0 5 3 11 10 15 7 4 4 9 15 12 32 1 2 3-8 2-12 3-59 4-43 8 47 3 9 12-3 5 1 3-2 4 2 4 0 18 7 30 4 4-1 7 1 8 3 4-1 3 6 8-1 3 14 4-14 4-1 4 10 11-4 4 0 3 2 8-1 3 1 4-3 4 6 4-38 1 5 1 0 5 3 11 10 10 43 15 161 2-4 4-29 9-153 5-27 7-20 8 0 5 2 2 4 7 18 8 8 8 2 3 0 8 4 4-1 4 3 7-1 9-9 4 0 4 2 5 7 8 13 9 41 6 14 2 2 2-6 14-103 2 4 6 43 2-1 6-19 2-2 8 34 4-7 4-15 3-3 1 1 1 4 4 20 1 2 2 0 3-3 3-19 3-8 2-2 7 9 16 34 2 1 4-1 4 5 3 0 4-5 4 2 4-3"/><path class="c1" d="M1444 1443l3-2 3-7 9-46 4-8 2 6 10 72 2 5 3-3 9-38 10-23 3-9 9-47 6-42 1-4 2-2 3 9 3 22 6 64 4 22 4 17 4 5 5 4 15-1 3-2 8-2 4-3 7 2 4-3 11 8 4 6 7 1 4 9 4 0 3-4 8 2 3 6 4-5 4 7 11 1 8-4 3 7 4-1 4 4 3-3 4 3 4-3 4 3 3 0 4-3 8 8 3-4 4 3 12-2 2 1 1 6 1-4 3 4 7 0 4 4 7 2 3-2 6-8 2-1 13 16 10 6 11 5 7 0 4 1 8-2 7 1 4-3 4 2 3-3 15-6 11-1 4 3 11 12 8-3 6 1 18 111 6 77 1 6 4-54 4-196 4-65 4 68 4 33 3 13 9 1 4-2 11 1 19 7 11 2 30 1 7 1 4 2 4-9 3 10 4 1 4 6 3 2 4 8 4-7 4-2 3 1 4-1 11 7 8-4 3-5 4 11 3-3 2-7 3-34 1 8 1-2 9 1 7 7 1 6 4 60 6 52 9 128 5 151 1 20 5-75 13-349 4-38 3-15 1-1 5 1 14 6 5 3 7 13 14 33 4 3 4 7 6 7 1 0 3-2 10-13 3 1 4 8 6 23 8 37 15 142 2 13 3-29 10-217 3-33 2 16 6 144 2-25 5-83 2-12 2 12 5 85 2 12 3-11 7-64 1-8 1 2 7 127 3-21 8-134 3-17 4 10 5 34 10 98 2 16 1 1 8-6 4 0 4-4 4 5 4-10 0 1"/><path class="c2" d="M1444 1497l6-8 10-28 3-4 2 3 8 26 3 4 2 0 12-17 13-12 14-39 3-3 3 3 4 10 7 18 15 4 18-3 8 0 15 9 7 2 11 10 8 0 7 6 8-2 3 6 4-3 8 10 3-4 3-1 16-12 4 3 7-2 4 3 4-2 3 2 8 6 4 2 3 5 4-4 4 10 3 3 4-4 3 6 1 17 1-15 3 1 7-1 4-2 4 1 4-2 8-13 2-2 5 2 10 11 26 5 8-2 7 1 15-7 8 0 3-4 13-2 4 2 4 3 8 11 9 0 3-1 3 3 17 81 6 52 2 12 2-13 3-48 3-128 4-60 4 59 4 27 3 11 20-3 4 4 4-1 11 7 7 2 4-1 11 3 23 2 3-1 4 3 4-3 4 6 3-1 4 3 4 6 11 0 4 4 3-2 12-1 3-2 4 10 4-5 3-2 4 3 3-3 3-8 2-15 1 2 3-5 6-1 8 8 11 84 9 98 5 78 1 9 5-35 12-228 5-40 4-12 8 0 6 3 9 15 15 20 11 11 7 2 4 4 8-9 2-2 6-1 4 3 5 13 9 27 10 66 5 22 2 6 3-19 10-141 2-17 2-4 7 98 2-11 7-55 2 5 6 57 3 2 2-3 6-34 1-6 1 1 6 54 1 4 1-1 3-12 7-64 2-9 2-2 4 11 7 31 10 93 9 13 3 0 4-4 4-10 4-5"/><path class="c3" d="M1444 1533l4-5 4 0 4-4 6-12 3 0 5 5 9 2 12-10 12-1 8-9 12-8 7 0 19-3 3-2 15-1 4 1 4-2 7 2 4-5 4 10 3-3 12 3 3-3 8 5 4-2 3 7 8 3 3 7 8 7 4 5 3 12 4-3 4 3 7-13 8-2 3-7 4 1 4-4 4-1 7 2 4-5 7-1 4-3 4 4 3 0 7 4 1 3 4 2 7 2 12 0 9-9 1 0 14 9 35 9 7-1 8 2 35-3 21 2 8 4 9 11 7 17 6 17 1 1 2-4 3-17 3-49 4-36 9 45 2 4 9 1 4-2 4 3 3 0 4-2 4 2 3 0 4 2 4-2 4 2 15 1 7 2 11-1 15 4 4-1 4 7 3-3 4 11 4-2 3 6 4 14 4-8 4 0 3-6 4 3 4-6 7 5 4 0 7-1 4 1 3-1 4-18 1-24 1 15 1-3 1 0 4 2 4 5 4 2 4 6 9 15 1 5 9 68 5 60 1 7 5-23 8-128 9-34 4-10 4 1 8 0 9 23 6 3 3 4 19 6 4-1 3 3 8-1 4-5 6-3 8 3 5 6 7 12 10 36 6 6 1 0 2-6 10-64 4-12 2 2 6 20 3 3 5-1 8 7 4 0 12-6 5 4 4 6 3 0 4 3 4 0 4-3 3 8 8 4 7 2 4 3 4 0 4 4 3 1 8-8"/><path class="c4" d="M1444 1523l4-3 2-2 13-30 2 2 8 20 5 5 7-2 6-5 9-2 4-4 14-9 16 0 4-3 7 0 4-2 3 1 8-2 7 2 4-3 4 2 4-1 3-1 4-5 4 7 3-1 8 3 11-1 4 2 4 0 7 14 4-2 3 2 8 17 4-1 3 1 4 11 8-7 3 0 4-6 4 0 3-8 4 0 8-6 3 3 12-7 3 7 4-2 7 2 4-2 2 1 2 14 1-10 3 3 15 4 5-1 6-6 3-2 4 3 8 7 11 3 7-1 26 2 4-1 8 1 3-2 11 1 4-2 4 1 4-1 15 3 3-1 17 6 6 3 7 12 7 20 2 4 2-3 3-15 7-76 7 37 3 8 2 2 27-2 11 1 7 3 15 1 4-2 26 4 4-1 7 9 4 2 4-2 3 3 8 9 4 1 3-2 4-9 4 6 4 2 3 1 4-5 4 5 3-1 4 1 6-13 2-11 1 1 1-2 5 0 7 7 4 2 9 8 2 6 9 58 5 65 0 7 1 0 5-34 7-107 2-10 11-27 5 1 8-2 2 5 7 18 10 6 7 2 7 0 4 2 7 1 8 0 9-8 5 1 4 2 8 10 6 11 8 24 7 8 2-5 11-59 3-7 1-1 2 5 5 19 3-4 8 2 4 4 3 7 8-10 3 1 1-1 3 4 3 10 2 1 14-13 11 17 4 2 3 4 4 0 4 3 4-1 3 6 4-4 4 1 4-4"/><path class="c5" d="M1444 1522l7-6 11-21 2 1 10 21 6 0 13-8 7 0 16-15 10-1 4-2 8-1 3-4 4 2 4 0 7-5 8 0 3 1 15-2 4 1 4-2 15 1 7 7 4 0 4 3 3-1 8 8 3 1 4 7 4 2 4 6 3 0 8 5 4-5 7-4 4 3 7-8 4-2 4 0 3-6 8 3 4-2 3 1 4-7 4 2 7 9 3 1 1 14 1-14 15 6 8 1 8-9 3 2 10 10 7 2 8 3 22 1 7-1 12 0 14-2 4-2 4 1 4-1 4 0 7 0 7 4 11 2 5 4 8 13 13 33 2 4 2-4 3-18 3-54 4-35 8 43 3 9 2 1 3-2 8 1 7 2 8-1 11 2 7 0 4 2 8 0 3-1 11 3 4-2 4 2 15 1 4 2 3 7 8 0 3 6 4 3 4 5 7-4 4 2 4-5 4-2 7 13 4 2 3-9 4 1 4-3 3-13 1-16 1 7 1-2 2 0 14 9 4 6 5 4 2 6 9 61 5 63 1 7 5-34 4-64 4-50 3-12 9-21 9 0 5 1 7 21 7 4 22 0 4-2 3 4 12-3 3-6 5 1 6 6 8 12 5 11 8 32 8 8 3-9 9-60 4-12 2 3 6 22 2 0 7-4 2 0 4 6 3 10 4-2 4-11 4-3 6 19 3 1 2-1 3-11 4-6 4 7 4-1 14 21 4 2 4 0 4 3 3 6 4-5 4 3 4-8"/><path class="c6" d="M1444 1521l4-1 3-5 12-30 12 24 2 1 3 0 24-11 14-24 6-7 3-1 5 4 2 0 11-8 4-4 7-2 8 0 11 2 4 4 3-2 8 8 11 6 4 4 3 2 4-4 4 6 7 2 4 7 4-1 7 7 4 8 7 3 4-2 4 3 4-2 7-9 4 2 7-2 4 1 4-5 7 4 8-9 3 3 4-2 7 1 3 2 4 4 1 11 1-9 6 3 16 2 7-8 3-2 12 13 15 4 7 3 4 0 3 2 8 0 7 1 15-1 4 1 4-3 11-1 4-2 8 1 18 10 3-1 4 2 11 21 13 32 2-6 3-17 3-53 4-36 8 45 3 8 9 0 4-1 7 2 8-1 11 3 19 2 7-1 22 3 12 0 3-3 4 3 11 16 4-5 4 3 7 1 8-7 3 6 11-9 4 11 3-5 4-15 1-24 1 15 1-4 1-1 8 3 4 1 3 6 10 44 15 166 3-7 3-21 9-160 7-41 5-15 13 0 10 19 7 7 11 5 4-1 4 4 11 3 13-9 6 2 15 29 7 31 2 5 3 2 5 2 1-2 11-67 4-13 2 2 6 25 3 1 4-7 2-1 2 2 4 11 5 2 2-1 4-6 4 0 7 17 5-5 6-14 3-1 3 1 5 7 14 40 5 10 4 1 3 3 3 0 5-5 4 2 0-1"/><path class="c7" d="M1444 1476l7-9 8-22 4-4 7 25 3 9 3 4 4-1 10-16 7-5 6-7 13-38 3-4 4 5 9 26 7 10 6 2 15 0 7-4 4 3 8-3 7 1 11 5 4-1 7 8 4-2 4 5 7 1 4 10 4-1 3 3 4 9 4-2 4 2 3 7 4 2 17-6 5 0 4-6 4 4 7-3 4 4 4-3 7 2 4-1 7 8 4-1 3 1 1-2 3 8 4 1 16-4 8-14 3-3 3 2 10 11 5 1 8 5 3-1 4 3 6 1 16 0 8-1 4 0 3-2 4 0 4-2 11-3 4-3 5-1 2 1 9 12 15-3 4 14 15 94 7 75 1-8 3-47 4-175 4-59 4 66 4 29 3 11 20-2 8 3 15 10 15 6 7 1 22 1 12-4 14 9 4-7 4 6 4-5 7 10 4-7 4 11 3-4 8 3 3-5 4 1 3-4 4-13 1-22 1 13 1-3 5 1 8 5 3 5 11 87 9 102 5 84 1 11 6-55 12-239 4-31 3-11 14 2 10 12 4 2 14 19 4 7 4 0 4 4 3 1 4 3 12-11 3 0 3 4 4 10 12 42 9 59 7 31 1 0 1-3 2-15 10-136 2-18 2-5 7 100 2-7 7-67 2 5 7 71 2-3 2-8 7-44 0-3 1 2 7 68 3-12 7-65 4-15 3 2 2 4 5 27 9 68 3 11 1 1 4-3 7 6 4-5 4 1 4-5"/><path class="c8" d="M1444 1452l6-10 9-32 3-1 3 8 8 52 3 7 3 0 10-13 4 0 8-8 7-15 9-30 3-3 4 5 4 11 13 20 4-2 13 2 6-3 7-1 4-4 9 0 6-4 3 4 4-2 4 6 4 1 11 12 4-3 7 7 4 1 7 8 12 24 3 1 4 0 4-5 7-3 4 5 3-5 8-1 4-4 7 2 4-1 4 2 3-4 4 2 4-1 3 5 7 2 1-1 4 6 7 0 4 2 4-1 3 1 3-1 5-9 3-1 3 2 10 13 6 4 15 4 4-2 15 0 11-3 18-8 12-3 4 1 12 13 15 1 2 3 16 86 7 65 1 5 5-66 3-139 4-63 4 64 5 34 3 7 10-3 8 0 12 4 8 4 22 6 4-2 4 2 15 1 12-5 3 2 3 7 4-5 4 0 3 4 4 2 4-3 4 10 3-5 4-3 4 6 4 2 3-2 11-2 7 1 4-22 1-23 1 10 1-2 16 11 1 7 4 59 6 47 9 114 5 106 2-11 4-48 13-269 4-32 3-12 5 0 4 3 4-2 1 1 10 11 12 7 23 28 3 0 3-2 8-11 3-1 1 2 8 25 10 41 9 64 7 35 1 1 1-3 2-18 10-157 3-26 2 12 6 106 2-6 5-72 2-10 3 18 6 74 1 1 2-6 7-55 1-7 1 1 7 111 4-29 7-110 2-15 1-2 1 0 4 12 6 42 8 108 3 18 1 1 8-8 3 1 12-22"/><path class="c9" d="M1444 1520l6-7 6-12 3-16 3-6 2 0 3 8 7 12 2 1 2 0 7-8 7-9 9-7 7-9 10-22 4 5 10 24 6 4 6 2 5-2 7 2 4-4 4 2 3 0 8-7 7-4 4-4 4-2 3 2 4-9 4 4 4 1 3-1 4 8 4 0 7 4 8 16 3 4 4 7 4 11 4-1 3 1 8 8 4-6 3 3 11-7 8-1 7-6 4 5 8-3 7 6 4-5 3 4 4-1 3 6 1 11 1-9 6 2 17 1 9-9 3 1 12 9 4 0 8 3 10 0 9-4 18-11 4 0 7-6 7-2 11 1 7 4 10 11 17 11 12 25 11 35 1 3 3-9 2-16 3-71 4-51 7 52 4 14 5-1 4-3 11-1 15 9 4 4 11 5 26 6 4-2 11 2 8-1 7 3 4-3 3-6 4 7 4-1 4 7 3-8 4-1 4 8 4 3 3-5 4 1 4 6 7-4 4 2 3-12 1-16 1 7 1-2 5 3 4 0 5 6 3 5 10 38 9 80 5 59 1 6 5-27 9-146 8-39 4-9 12-2 11 18 7 1 4-2 4 3 3-1 4 2 4 1 4 3 3-1 7 1 9-8 5 1 3 5 14 37 10 50 6 11 2-2 2-10 9-75 4-28 2 5 6 39 2 0 1-2 4-12 2-1 8 14 3 0 6-7 2 0 2 1 6 10 5-1 3 2 4-6 4 8 4-2 3 4 4 0 4 5 3 1 8 8 7-2 4 5 4-5 4-1"/><path class="c10" d="M1444 1487l6-7 10-24 3-3 3 4 4 20 6 11 2 1 12-14 11-7 10-21 5-13 3-3 4 4 10 29 5 4 12 2 2 0 4-3 8-1 3 0 8-4 11 1 4-3 3 4 8-5 4 8 3-1 6 0 9 11 4 0 4 8 3-1 4 6 8 6 7 10 4 1 4-6 11-4 11 0 4 3 7-3 4 4 4 1 3-5 4 2 4 7 7-2 3 6 1 11 1-7 3 2 15 0 5-3 9-15 15 9 23 2 15-2 3-2 5 0 25-7 11 0 13 13 14 6 4 5 14 40 9 38 2-9 3-25 3-77 4-49 7 55 3 13 3 3 7-3 8 1 3-2 4 2 15 2 4 2 11-2 4 2 3-1 4 2 4-2 3 3 8-2 4 2 8 0 3 1 4-4 7 15 4-4 3 8 4-3 8 5 3-3 4 1 4-1 4 3 3-2 8 0 3 4 4-5 4 5 3-18 1-18 1 11 17 14 11 28 8 78 6 79 1 9 5-19 11-174 6-42 4-12 4-2 10 4 6 7 14 12 4 3 3 0 4 7 8 2 5 6 4-1 9-11 5 1 3 2 15 47 9 59 6 24 2 5 3-16 9-120 4-27 2 8 6 71 2-10 5-37 2-4 8 46 3-2 7-19 2-4 1 0 7 34 4-13 3-6 4-21 2-5 2-1 7 22 4 7 7 26 4 0 8 7 3 0 4 3 4 0 4-7"/><path class="c11" d="M1444 1510l6-6 4-7 9-23 11 28 2 1 6 0 7-6 8-3 5-5 6-7 11-25 4-3 3 1 4 9 3 3 12-6 19-2 15-6 11 2 15-1 3 5 4-2 8 9 3 0 11 18 4 1 4 7 4 1 7 10 8-4 3 2 8-10 7 4 8-4 3 3 8 1 4 5 3 0 4-5 4 6 7 3 2 2 2 8 1-5 10 2 4-1 4 1 5-3 7-11 2-2 4 1 9 7 17 3 8 2 18-2 8-2 4 1 3-3 23-5 7 4 8 11 14 6 4 4 15 37 8 34 1 3 2-6 3-25 3-75 4-49 8 58 2 8 3 3 7-3 11 0 4 2 4-1 3 1 4 0 15 3 8-1 22 3 4-1 15 5 3-2 4 4 4-1 3 2 8 5 4 2 7-3 4 6 4-6 7 1 4-3 3 7 4-3 3 0 4-14 1-14 1 4 1-5 5-1 11 10 5 43 5 28 10 121 5 88 1 10 5-38 13-264 4-30 4-13 4 0 8 3 2 3 13 21 11 26 15 15 3 2 6-1 6-6 8-4 3 1 3 4 7 15 5 15 10 67 5 26 2 7 3-18 10-143 3-20 1 1 1 8 6 88 7-64 2-5 2 7 6 57 1 1 2-4 8-33 2-2 7 51 11-63 2-5 5-2 8 33 5 31 5 25 3 4 6 4 3 1 4-1 4 2 4-7"/><path class="c12" d="M1444 1470l5-4 11-23 3-3 11 40 3 3 4-1 7-8 9-4 4-5 10-22 6-16 2-2 4 5 9 26 6 6 7 2 22-5 4-3 4 1 4-2 4 1 7-4 7 4 4-2 4 4 3-2 4 4 4-1 7 12 4 0 4 4 3-1 4 9 4 1 4 7 3-3 4 3 4 0 4-3 11-3 3-5 4-2 4 2 15 0 4-4 3 2 4 0 7 7 4 0 3 3 1-9 1 10 14 4 9 0 6-7 3 0 8 9 4 6 3 2 4 3 19 3 26-7 4-3 7 0 4-3 11-4 7 1 8 7 4 8 11 0 5 3 2 3 16 62 8 46 1-4 3-27 4-111 4-54 7 65 4 17 9-2 19 2 11-2 11 0 15-3 7 1 8 0 19 3 3 3 4 7 4-2 3 8 23-4 4 2 3-2 4 6 4-8 10 7 2-7 3-29 1 0 1-3 1-1 11 4 4 4 1 6 4 64 6 49 9 122 5 134 1 15 5-69 13-324 4-35 3-14 1-1 8 1 11 12 6 14 13 26 15 19 9 2 9-10 3-1 3 1 4 6 5 14 8 29 9 65 6 30 2 8 3-19 10-158 3-25 2 11 6 106 2-9 7-76 2 7 6 73 1 3 2-4 8-47 1-5 1 0 6 73 1 4 1 0 3-16 7-87 3-8 4 8 6 28 9 87 3 15 1 2 4-5 4 3 3-4 4-1 4 2 4-4"/><path class="c13" d="M1444 1496l7-8 11-27 1 0 2 3 5 21 5 9 3 2 11-11 8-2 1-2 10-14 9-19 2 0 12 26 7 4 3 1 4-1 4 1 15-3 3 2 4-3 15-2 4 5 7-2 4 4 4-2 3 7 4-6 4 5 4-1 7 8 4 1 3 9 4-2 8 10 3-1 4 2 11-4 4 0 4-9 3 4 4 1 4-2 7 2 8 0 4-1 7 2 4 6 3 1 4-3 3 1 1-8 1 11 2 2 12 3 9-2 9-12 14 10 13 1 3 3 4-1 19 3 3-2 12 0 3-2 19-3 11 1 4 1 4 4 11 3 8 6 8 13 13 34 2 4 3-9 2-13 3-56 4-36 8 44 4 10 19 0 19 5 37 3 15 3 4 2 4-1 3 6 11 2 4 11 4-10 7 3 4-3 4 4 7-7 4 8 7-7 8 5 3-13 1-19 1 9 1-4 3 0 10 5 3 4 11 29 14 145 3-6 3-19 8-135 6-29 4-14 3-4 7-1 6 2 9 24 5 5 3-2 4 4 4-1 11 5 12 1 3 0 7-8 8-1 3 6 5 4 6 8 10 38 5 7 3 2 3-9 9-62 4-10 2 2 6 22 3-2 4 1 4-3 4 7 3 4 4-1 4-5 4-1 11 14 3 0 4-2 8-2 3 4 4 7 4 2 3-1 8 8 4 6 3-4 4 4 4-5 4-2"/><path class="c0" d="M1444 1527l9-11 8-26 2-2 3 2 8 18 2 1 6-3 3 0 4-5 11-5 18-18 16 8 4-1 11 4 3-4 4 0 20-2 10 1 4-2 7 2 4 3 4 0 3 7 4-7 4 6 4 1 7 6 4 2 11 9 4 1 7 8 4-7 4-1 7-4 4 2 3-1 4-2 4 0 4-7 3 4 4-3 4 3 4-1 3 3 8-1 10 6 1 5 1-2 3 4 3-1 12 2 5-1 6-5 3-1 4 1 11 9 8 1 4-2 3 2 26-3 23-10 3 1 4-2 4 2 4-2 3 3 4 0 4 4 15 6 9 6 6 7 5 12 11 26 2-5 3-15 3-54 4-37 8 44 3 9 24-1 4 2 15 2 11 3 4-1 7 2 4-1 3 2 4 0 8 1 7-1 4 4 7-4 4 10 4-4 7 7 4 0 4 5 3-7 8 6 4-5 7-3 4 5 3 0 4-5 4 6 3-16 1-26 1 17 1-1 5 2 8 5 2 4 12 31 9 83 5 60 1 5 5-26 8-135 4-25 8-28 5-2 9 2 9 23 5 4 3 1 4 5 11 2 8 4 9 1 2 0 8-8 7 0 7 8 7 10 4 10 5 16 8 12 3-5 10-51 4-15 8 21 7 0 4 3 11 0 4-1 3 2 2-1 5 8 2 1 3 0 3-2 8 2 4-4 3 7 4 0 4 7 3 2 4 5 8 6 3-4 12 2 0-1"/><path class="c1" d="M1444 1496l8-9 10-23 2 1 9 31 5 8 4-4 19-8 7-7 12-27 4 1 8 11 2 1 7-3 4 0 6-4 5 1 4-3 6 0 9-7 4 0 7-4 7-1 4-3 11 6 4-3 11 16 8 5 7 12 4 2 11 13 4 0 7-6 8-1 3-4 12-4 7 4 4-4 4 3 3 1 4 4 4-1 3 4 7-1 1 23 1-20 3 4 15 0 3 3 11-11 2 1 12 13 13 5 3-1 15 2 4 2 4-2 7 2 4-3 18-2 4-2 12-2 7 3 7 7 4-1 4 2 3-1 5 7 16 51 6 33 1 5 3-14 2-22 3-95 4-58 4 45 4 26 3 10 13-4 11 2 7 5 4 0 8 6 3 0 12 5 11 2 7-2 4 3 12 1 7-3 7 5 4 1 3 4 4 2 4-8 4 5 3 3 4-5 4 5 7-3 4 9 4-7 3 2 7-4 4-12 1-12 1 4 1-2 5-3 8 5 3 5 11 74 9 94 5 73 1 7 5-32 7-131 5-81 5-34 4-12 14 2 20 23 4 0 3 4 5 2 10 10 5 0 11-10 4 1 10 20 8 21 10 45 6 9 2-2 1-4 11-87 3-13 2 6 5 35 2 2 1 0 7-20 2-1 7 34 11-26 2 3 5 27 1 2 1 0 3-6 4-22 5-12 2-1 15 42 6 12 5 3 4-1 3 4 4 2 4-5 4-2"/><path class="c2" d="M1444 1472l5-5 11-24 3-3 10 38 3 5 3-1 10-12 9-4 4-4 15-41 3-3 3 2 8 21 8 9 6 2 11-3 8 0 3-2 19-2 4 5 3 1 8-5 4 7 3 4 8-1 4 3 3 8 11 7 8 11 4-1 7 9 4-3 7-2 4 1 7-6 4 0 4 2 4-1 3-5 4-2 8 7 3 0 4 3 4-3 3 3 7 0 1-7 1 9 2 3 12 2 9 0 6-10 3-2 14 16 9 5 15 2 7-3 8 1 12-3 14-7 11-2 7 0 14 15 14 4 2 3 15 61 8 58 1 4 2-11 3-42 3-115 4-59 4 55 4 26 3 11 13-4 4 1 3-1 25 13 9 5 4 0 3 3 4-1 11 0 4-1 4 1 8-3 7 1 3 0 4 6 4-5 3 6 8-6 4 2 3 7 4-5 8 5 7-9 4 7 3-2 4 4 3 1 2-6 3-23 1 3 1-1 16 19 9 39 2 19 9 104 5 86 1 12 3-11 3-29 12-244 5-38 3-9 8 1 7 5 8 9 18 28 12 13 9 2 2 0 4-7 5-6 2 0 3 4 6 19 9 37 15 100 3 13 3-21 13-197 2 12 6 117 9-86 2 6 6 63 1 3 2-4 9-44 2 6 6 48 3-8 9-62 3-6 10 31 7 48 4 21 12 8 8-5 4-1"/><path class="c3" d="M1444 1512l9-13 10-26 2 2 9 24 3 2 5-3 7-11 12-7 17-28 5 5 8 19 10 6 4 0 4-2 3 2 4-4 8 1 7-2 8 2 7-2 15 6 4 0 3 3 4-2 4 4 4 1 3 4 8 1 7 7 4-1 7 9 4-8 4 5 4-2 3-7 11-2 8-5 4 2 3-2 8 0 7-5 4 4 7 1 7 5 1-10 1 12 3 3 7-1 4 1 9 1 6-7 3-1 14 14 16 5 15 0 4 2 19-2 33-10 8 7 7 0 4 1 3-2 4 4 15 62 9 56 1-4 3-30 4-119 4-54 4 48 4 27 3 10 20 0 4-2 4 2 3 0 8 3 26 0 4-1 3 2 20 0 3 2 4 0 3 5 4 2 4 4 3-1 4 2 8-2 3 2 4-1 11 9 4-5 4 3 3-2 4 3 3-1 1-1 3-13 1-19 1 9 1-3 1 0 12 8 4 8 10 52 8 81 6 81 1 7 2-5 3-18 7-140 5-63 5-35 4-12 8-1 6 2 5 7 4 8 11 7 4 6 16 11 7 2 10-9 5 0 3 2 14 41 11 63 6 22 1 0 1-2 1-6 11-130 2-15 2-4 7 81 2-10 5-42 2-3 9 62 4-9 4-27 2-5 2-2 6 47 1 2 1 0 3-11 3-31 5-24 2-4 4-1 7 31 8 64 2 6 2 0 4 8 4-3 7 10 8-10"/><path class="c4" d="M1444 1500l6-7 10-23 3-3 7 23 5 11 3 2 4-3 3 0 12-7 4-1 17-21 8 5 4 4 4 1 4 2 3 1 8-3 3 2 4-2 4 1 7-2 4-4 8-3 3-4 4 6 7-7 8-3 4-4 10 7 8 10 4 0 4 7 7 3 8 12 3-2 8 8 7-7 4 3 4-6 3-2 4 0 4-5 7-1 8-7 4 3 3-4 4 3 4-1 7 4 3 0 1 13 1-11 3 4 7 1 4-1 4 2 5-1 9-9 3 3 6 8 6 6 23 7 15 2 3 0 4 1 22-3 4-2 11-1 14 9 5 1 9 3 4 6 10 29 5 16 6 29 1 3 3-14 2-20 3-78 4-49 7 54 3 13 2 2 19-1 8 2 3 0 13 3 10 2 4 2 29 0 8 2 4-2 3 2 4 5 4 1 3-8 4 9 4-3 4 2 3 5 4-2 8 0 3-1 4-10 4 14 3 0 4-9 4 5 3-17 1-28 1 19 1-1 1 1 4-4 2 1 7 4 2 3 1 4 4 40 6 36 14 161 3-13 3-26 9-170 5-31 7-19 13 0 7 15 7 6 7-1 4 3 7 0 4 3 4 0 7 4 12-11 4 0 3 2 15 36 9 51 6 20 2 4 3-14 13-128 2 6 6 68 7-43 2-4 3 11 5 38 1 2 2-3 7-28 2-4 1 0 6 41 1 2 1-1 10-53 2-6 2-1 4 6 16 74 6 9 10 3 9-3 0-1"/></g>
<g fill="none" stroke-width="1.5" stroke-linejoin="round"><path class="c5" d="M215 2632l13 85 2 5 2-9 5-58 4-17 3-6 3 3 5 14 7-1 4 2 15 30 8 21 2 1 5-3 6-29 5-14 4-7 12 10 7 5 4 0 8-5 3 0 4-5 8-5 3-6 8-7 7-4 4-5 4 1 11-5 4 0 7 4 4 1 4 4 11 7 4 0 4 4 11-3 4 0 11-8 11-4 4-6 8-2 3-4 10-4 4 0 1 2 1-2 3 0 11-1 33-7 20-6 4 1 7-3 11-1 4 1 4-2 4 2 4-2 3 1 4-2 15 2 8 3 3 0 12 0 15-5 7-9 6-15 6-30 2-4 2 5 4 21 5 66 2-3 4-13 2-1 8-4 4 1 11-3 8 0 4-4 19-3 3-3 12-3 7-1 8 2 3-4 8 0 7-3 8 3 4-3 3 0 4 3 4-3 4 2 3-1 4 1 4-1 4 4 3-5 4-1 8 5 3 0 4-4 3 4 1 7 1-4 18 1 3-4 4-14 6-31 4-41 5-110 5-41 1 0 1 10 11 208 3 34 2 6 11 6 8-2 12-5 10-10 4-2 4-6 3 1 19 0 11 3 4 2 7 0 4-7 17-44 4-6 2 1 2 6 6 37 7 35 3 5 4-10 7-46 3-6 9 39 2-3 8-30 2 3 3 20 5-27 3 5 8 32 2 3 2 0 7-2 7-21 4 0 4-5 3-10 4-5 4-11 8-2 4 14"/><path class="c6" d="M215 2564l15 106 5-49 1-3 5-3 4 1 5 11 6 7 7 0 12 18 3 1 4 6 6 5 2-1 3-6 6-27 10-19 3 3 8 2 7 0 4-1 7 0 8-4 4 0 7-2 4-3 11-2 8-5 4 2 7-2 4-3 7-1 4-3 19-5 11 5 4-3 4 6 15-2 7 1 4-2 4 4 4-4 7-2 8 1 2 2 1-3 1 3 14-2 8 1 11-4 4 2 19-3 7 1 4-1 4 1 7-2 4 1 15-2 15 1 4 1 4-1 3 2 4-1 4 3 8 3 7-1 4 1 7-3 4 1 6-4 7-13 5-15 5-33 2-5 2 4 4 21 5 61 6-11 10-5 4 3 4-3 5 1 63-7 3-2 8-1 4-2 3 4 4-5 4 0 4-1 3 4 4 1 4-5 15 1 4 0 3-3 4 6 4-3 4 4 3-2 7 0 1 3 1-2 3 2 7 2 4-3 4 2 3-3 2-9 6-31 6-71 5-118 5-26 3 25 11 223 3 29 3 3 3 2 10 1 7-2 12-7 14-19 7-3 7 2 9 6 16 5 5-1 6-13 11-36 7-35 3-5 3 10 9 67 4 16 3 6 4-12 6-48 3-12 2 2 1 5 7 50 4-19 6-14 5 27 5-31 4 7 7 31 3 5 11-18 4-12 4-4 4-11 3-5 8-23 3-5 3-2 2 1 4 15"/><path class="c7" d="M215 2643l14 96 1 1 1-2 1-6 4-45 5-19 3-2 4 11 15 29 4 4 12 26 7 28 2 2 5-5 6-30 10-31 7 7 4 2 4 0 7 5 8-7 3-2 8-13 15-19 4-7 7-8 4-2 4-5 15-6 11-8 4-2 3-5 8 3 7-3 4 1 4-4 11 1 4-2 4 3 15 1 4 3 3-2 12 0 2-2 1-6 1 6 11-2 41-17 7-4 12-4 3 1 12-5 3 0 4-3 4 0 4 2 15-2 4 2 3-1 12 4 15 2 7-2 4 0 7-4 8-13 3-8 5-27 2-3 2 3 4 16 5 62 6-18 3-3 15-5 4 0 7-2 4 0 4-1 3 1 4-1 12 3 7-1 4 2 4-1 3-2 4 1 4-1 4 0 11-3 7 0 4 1 8-5 3 4 8-10 4 5 11-1 4 3 3-1 4-4 8 3 3-1 4-4 3 4 1 7 1-4 3 2 11-2 5-2 3-4 5-19 3-17 5-50 5-110 5-40 2 11 12 223 2 21 1 5 2 2 5 3 9 1 21-4 5-5 10-4 13 1 11-3 16 4 6-6 8-21 11-20 2-2 2 1 3 8 11 58 3 12 2 2 8-52 5-15 2 2 7 33 3-5 6-22 1-1 1 3 3 14 1 3 5-23 2 0 2 4 6 26 3 4 5 1 4-4 3-8 8-6 8-10 3-4 4-11 4-4 3 0 1 1 4 22"/><path class="c8" d="M215 2689l12 73 3 8 6-75 7-26 3-3 2 0 4 3 4 6 4 1 7 12 4 1 10 23 5 19 3 3 4-8 5-34 6-21 3-5 2 0 3-3 4 3 8 2 3-1 15 4 4-2 4 2 11 2 4-3 4 2 3-4 4 0 4-3 4-1 3-6 8-7 11-16 13-22 5-5 5-2 9-1 6 2 3-2 4 1 8 1 11 7 11 1 7 2 5 0 2-1 1-2 1 2 3 0 19 0 4-1 7 3 15-3 4 0 30-16 4-3 3-1 10-5 13-1 11 0 4 4 11 5 19 1 6-2 5-3 10-18 6-33 2-4 3 7 3 14 5 62 6-17 7-6 7-1 8-2 3 1 15-2 8 0 11-2 8 1 4-2 15 1 7-3 4 1 7-3 12 4 3-2 12-1 7-2 4 7 4-3 3 1 8 0 4-4 7 5 3 4 1 20 1-17 14 0 5-3 6-14 4-15 6-44 5-103 5-47 2 10 12 214 3 23 5 5 3 1 6-1 13-5 8-5 11-15 7-5 12-2 3 1 4-1 4 2 7 0 4 3 8-2 5-12 17-50 3-3 3 7 6 42 5 27 3 10 2 2 4-10 6-39 3-9 2 2 8 37 10-30 5 30 5-32 4 9 7 25 3 4 4-3 4 0 1-1 6-9 8-15 3-2 8-18 6-6 1-1 1 2 4 20"/><path class="c9" d="M215 2656l12 80 3 8 6-63 7-26 3-1 1 2 5 12 4-2 4 6 3 2 15 26 4 17 6 14 2-1 3-7 8-41 7-20 1 0 3 4 4-3 4 1 4 4 5 0 6-3 5-5 6-13 4-4 4-9 9-14 9-9 12-8 3 2 12-3 3 2 8 0 4 3 7 2 11 5 8 0 4 1 3-4 4 1 15-2 12-3 3-3 8 1 4-1 2 1 1 22 1-23 3 0 8 0 3 2 4-2 4 2 4-1 15 3 11-1 7-4 8-1 7 1 4-1 11 4 12-1 4 2 3-2 4 2 8 0 26-3 15-4 5-3 4-6 8-14 5-27 3-7 3 7 3 13 5 63 6-19 10-6 4 0 15-3 11 2 8-2 4 1 15-1 7 0 15-2 4 0 8-3 3 1 4-4 4 2 11-5 4 0 4-3 3 8 8-3 4-4 3 2 4 3 4 0 4-6 8 7 3 6 1-3 3-1 3 1 12-1 3-4 4-13 6-30 4-35 5-100 5-38 2 13 7 151 6 81 2 13 8 8 4 0 8-3 5-5 9-12 10-20 7-8 7-6 5 0 20 9 4-1 4 2 3 0 8-19 13-38 4-7 2 1 1 3 7 43 7 36 3 7 3-6 7-43 4-8 2 4 7 33 2-2 7-26 2 4 4 21 4-22 2-4 2 1 5 23 4 10 2 1 6-5 4-7 13-28 3-15 7-16 8-12 0-2 2 4 3 15"/><path class="c10" d="M215 2731l8 46 4 13 2 3 1-1 6-75 5-20 4-6 7 8 4-1 4 10 7 2 3 5 5 12 4 7 7 34 2 3 5-11 9-42 4-14 3-5 15 9 3-2 4 3 4 0 11-8 8-9 3 1 12-12 3-1 8-9 19-14 3-6 12-5 3 0 8-7 4 0 3-4 8 1 7-3 8 3 8 0 3 4 4-6 4 3 4 0 3 3 8-5 6-1 1-14 1 13 7 0 15-4 11-5 11-3 4-3 4 0 11-7 11-1 23 3 4-1 7 2 12-3 7 1 11-3 4 0 4-2 15-3 6-4 11-16 5-23 3-5 3 7 3 15 5 71 6-30 3-3 11-5 8 0 7-2 8-4 7-1 4-2 4 0 4-2 7-1 8-5 3 1 4-3 4 3 11-2 8-4 7 5 4-4 4 1 3-3 4 2 4-1 4 0 3-3 8 7 7 0 4-6 8 7 7 1 3 5 1 5 1-2 14 0 6-3 2-5 6-17 3-15 4-29 5-98 5-47 1 0 1 9 12 206 3 22 4 3 4 2 8 0 7-3 10-6 13-17 7-5 23-2 16 4 6-9 16-41 6-8 3 8 9 55 6 17 3-3 2-7 6-39 3-9 3 7 5 25 2 6 2-4 7-28 6 23 5-21 1-1 2 2 7 30 4 7 11-10 4-1 7-10 4-2 4-5 4-14 4-3 3 0 1 2 4 22"/><path class="c11" d="M215 2770l3 13 4 27 8 24 6-83 7-23 3-4 13-2 4 6 4 2 13 28 6 32 7 15 2-6 10-56 3-8 4 1 8 4 7 6 4 1 8-6 6-10 10-20 14-22 11-13 7-7 12-3 11-1 2 1 5 10 4 0 4 4 4-4 11-6 4-6 7-4 4-4 8-5 15-13 17-5 1-7 1 7 2-1 5-2 41-8 4-3 15-5 7 0 12 6 11 1 4-1 4 2 7-2 4 2 7-3 4 0 8-2 3-3 12-4 15-7 1-2 6-7 6-10 6-24 2-3 3 6 3 14 5 71 7-31 6-4 11-2 4-3 7 1 27-6 3 1 8-1 4-1 7 1 8-3 7 1 8-4 3 1 4-1 4 4 4-2 3 1 4-3 8-3 7 6 4-3 4 1 7-3 11 3 3 2 4 5 1 7 1-2 3 4 3-2 4 0 9-7 3-6 6-15 4-17 3-19 5-90 5-48 1 0 1 9 11 186 3 28 2 5 4 2 7 1 9-1 11-4 5-4 13-19 7-4 26-3 4 2 6 1 4-5 11-23 6-7 5-3 3 2 3 8 11 53 3 7 2-2 2-6 5-33 3-10 2-2 2 3 5 24 2 3 2-2 7-23 1-2 1 1 4 31 5-30 3 1 8 22 7 3 4-10 3 1 4-5 4 0 11-23 4 0 4-12 5 5 3 15"/><path class="c12" d="M215 2632l12 89 3 10 6-57 4-16 4-8 2 2 6 16 4 4 7 16 4 1 13 26 8 19 2-1 3-10 6-44 7-25 3-6 7-7 8 1 5-2 6 4 4-1 11 11 4 0 7 10 4 2 4-2 3 4 4-1 4-4 11-8 8-9 7-5 4-7 7-6 4-2 4-5 7-3 12-1 11 1 11-4 4 2 4-5 4 0 7 1 4-3 6 3 1-14 1 14 3-3 19-1 7-3 15-1 19-7 4 1 11-4 15 0 8-3 11 1 8-1 3 1 12 2 3 3 23-4 7-6 8-16 3-9 5-34 2-5 2 4 4 23 5 64 7-14 17-5 11 0 8 1 7-1 19 3 15 1 30-8 8 1 3-3 4 3 4-1 4-5 7 5 4-1 4-3 3 1 4 8 4-5 4 4 3-4 3 0 4 8 1 11 1-7 12 0 8-4 5-12 4-15 6-40 6-114 3-30 1-5 1-1 11 190 3 36 3 14 11 5 15-5 4 0 7-9 4-2 10-9 5-1 4 1 7-2 19 3 6-1 6-11 16-46 4-6 2 2 2 6 12 69 4 9 3-6 8-48 3-7 2 3 6 38 2 0 1-2 6-28 2-4 5 31 5-27 5 9 5 23 2 2 13-14 8-13 15-35 4-2 3-6 5 24"/><path class="c13" d="M215 2665l7 52 8 40 6-62 6-22 3-4 7 20 8 12 3 2 4 10 8 7 13 44 3-3 2-7 6-37 10-31 3 1 4-2 8 0 7 3 4-2 6-9 9-16 4-4 3-10 13-18 10-9 4-3 3 1 4-5 4 3 4-3 3 0 4-2 4 2 4-1 7 2 15 1 4 2 4-3 3 2 8-2 4 1 4-2 7 1 4-2 4 1 7-1 4 3 4-3 2-1 1-16 1 16 22-4 22-9 4 1 4-3 11-2 19 2 11 6 4-1 8 4 3-1 19 0 26-4 8-3 4 0 6-8 8-16 5-27 2-3 2 4 4 19 5 68 7-23 5-2 12-2 7-3 19-1 4-2 4 1 11-4 4 1 4-2 15-1 3-2 8 0 7-4 8 3 4-2 3 1 4-1 4 2 4 0 3-4 4-2 8 4 2 0 5-5 4-1 7 6 4-3 3 3 1 5 1-3 3 1 7-2 9-1 3-7 4-13 5-29 4-40 5-108 5-40 2 13 11 208 3 34 2 7 9 4 6 0 18-4 17-13 6-2 11 2 8-2 4 1 3-1 10 0 5-8 17-52 5-8 4 12 5 33 6 34 3 7 3-3 2-7 7-47 3-7 8 35 2 0 1-2 5-18 3-4 5 24 5-27 5 11 6 24 3 3 4-6 4 1 15-20 3-8 8-10 5-10 2-1 1 1 4 18"/><path class="c0" d="M215 2676l8 56 4 20 3 5 6-64 5-24 3-7 3 0 1 0 8 10 4 0 3 3 4 10 8 8 11 37 2 2 5-12 5-30 7-28 2-1 2 1 3-3 8 5 11 0 4-2 4 2 16-3 6 1 11-4 15-10 4 0 4-5 4 0 8-7 12-4 6 0 4-3 7 0 4-3 11 2 4-4 8 1 3-6 4 3 8-5 7 3 4-4 6 2 1-22 1 22 7-3 11 1 4 2 4 0 3 1 12 1 7-1 8-5 3 0 8-4 11-4 8-5 7 0 8-3 19-2 7 4 8-1 7 2 4 0 4-2 3 2 8-1 8-7 7-11 3-7 5-26 2-3 3 6 3 14 5 64 6-20 10-6 4 1 8-2 11 0 4-3 3 1 16-2 15 1 3-2 26-1 4-4 4 3 11-2 4 2 4-2 11 5 4-4 7 0 8-3 4 4 3-5 7 3 1 6 1-4 3 2 7-5 8 0 4-5 4-16 5-28 4-40 5-111 5-42 2 11 12 220 2 21 2 7 11 4 11-3 4 1 13-7 10-8 15 1 11-2 17 6 5-7 18-49 4-4 4 12 10 61 4 11 2-1 1-3 8-44 4-11 2 2 5 30 2 5 3-5 7-26 5 25 5-26 6 14 4 18 3 3 9-6 7-12 8-10 11-29 7-6 1 2 4 21"/><path class="c1" d="M215 2658l7 49 6 27 2 3 6-68 5-30 3-6 2 0 1 2 5 12 4-4 5 1 2 2 4 7 4 2 19 39 3-4 8-37 6-14 5 0 4 8 4 1 4 0 5 2 10-1 3-4 8-4 4-5 7-4 4-6 4-2 7-3 10-6 5 0 4 3 4-2 2 1 9 7 4 6 3 1 4 5 11 6 4-1 4 2 11-7 4-4 4-1 11-9 19-13 4 2 2 0 1-6 1 6 3 0 4-2 7-1 4-3 4 0 7-3 4-3 4 2 11-6 4 0 15-4 4 2 7-1 8 1 3-1 8 1 8-1 3 1 4-1 4 2 7-1 12 3 11 1 7-1 4-3 9-2 3-3 9-21 6-37 2-4 3 7 3 17 5 63 6-13 2-2 5-2 15-1 3-3 4 2 11-1 8 1 4 3 4-4 15 4 28-4 5-3 4 3 4-4 7 0 12 1 3-5 4 5 4-3 4 4 3-6 4 5 4-3 4 5 3 1 4-2 4 8 7 0 13-3 3-5 5-15 5-30 4-44 4-97 5-47 1 0 1 10 12 214 2 21 2 7 11 1 19-1 21-13 5 3 8 0 28-2 5-11 12-39 7-34 2-3 1-1 2 5 7 49 7 37 3 8 3-7 8-56 3-8 2 4 5 34 2 10 2-3 6-26 2-3 5 30 5-29 4 7 6 28 3 3 7-5 3-4 6-17 11-19 8-25 4-3 3-6 5 19"/><path class="c2" d="M215 2581l12 87 3 10 5-46 6-15 4 4 3 1 4 10 4-1 6 4 9 15 9 8 6 9 2 1 5-5 8-29 8-14 7 1 4 4 4-2 18 0 8-8 7-1 8-5 4 1 3-4 4-2 8 0 11-5 7 0 8-6 4 1 7-2 8-1 7 4 4 0 7 1 4-1 8 3 7 0 4-4 4 2 4 4 11-5 4 3 2 0 1-7 1 6 11-1 15-6 7-1 4 1 11-3 4 2 7-2 15 0 4-1 4 2 11-1 8 2 4-1 3 2 4-2 11 0 4 2 15 2 23-5 5-9 8-19 5-32 3-8 3 8 3 16 5 60 6-9 7-3 15 1 34-3 3-2 15 0 4-2 4 1 15-2 4 2 3-4 4 2 11-5 12 6 3-1 4 1 4-4 7-1 4 3 4-1 11 6 3-1 1 5 1-4 2 2 4 1 12 0 3-4 4-15 5-28 5-53 6-132 3-24 2-5 14 248 2 16 5 6 7 3 8-2 3 1 8-5 4-1 15-15 3-2 4 1 4-1 11 8 11 4 10 1 7-13 16-49 3-3 2 2 2 6 6 40 7 35 3 5 3-9 7-52 4-13 3 7 6 39 9-35 1 0 1 3 4 23 5-29 3 5 6 27 4 8 9-2 7-18 4-4 4-11 11-20 4-12 3-1 1 2 4 18"/><path class="c3" d="M215 2680l7 55 7 30 1 1 1-3 5-62 6-22 3-3 7 13 4 3 4 5 3 9 4 3 4 8 6 8 3 11 7 28 3 4 4-14 9-36 5-12 8 3 8 6 11 2 7-1 4 2 4-3 7 6 12 0 3-3 12-2 7-6 4 0 4-4 3-7 4-3 15-37 11-5 4-7 23-5 4-3 7 0 4-4 4 1 15-5 2-3 1 2 1-3 3 1 8-2 11 1 26-7 8-4 9-3 6-1 3 1 4-1 4 2 15 0 4 3 7-2 4 1 4-1 4 0 15-4 15-2 11-4 7-5 8-11 10-33 2 3 4 17 5 67 6-27 3-4 5-3 14-4 15-2 3-2 19 0 8-3 11-2 8 2 7-3 15 4 4-3 4 4 3-3 4 1 8-3 7 5 11-2 4 2 4-2 10 0 5 12 4-3 3 1 12-4 4-4 6-20 6-31 6-100 5-44 2 10 11 189 3 30 2 6 11 2 22-4 19-27 4 1 15-5 4 2 7-1 11 2 4-5 8-17 10-13 4-2 3 5 6 21 7 42 2 3 1 0 5-10 5-35 3-10 2 2 6 23 3 2 3-6 4-21 2-2 5 30 4-26 1-4 2 0 7 22 3 8 3 1 3-1 7-9 29-51 1-1 1 1 4 20"/><path class="c4" d="M215 2691l10 65 5 19 5-65 6-32 2-4 5 0 4 6 8 7 3 5 4 2 8 12 6 18 5 27 3 4 4-4 1-5 7-31 6-15 2-1 3 3 4 5 11 6 12 0 3-2 4 1 11-9 4 1 4-4 4-1 3-4 4 0 4-8 4-2 3-5 8-5 4-7 7-9 11-25 4-3 4-9 4 1 3-6 5-1 14 1 4-2 4 1 11 0 4-1 4 2 3-4 8 3 11-4 4 1 7-2 4-3 11-2 19-9 19-4 15 2 7-1 4 2 12-2 7 3 4-2 11 5 4 0 8 4 11 2 3-1 8 0 5-3 10-13 10-36 3 4 3 12 5 63 7-25 9-7 4 0 8-3 11 0 7-2 4 1 4-2 4 2 4-1 7 0 4-1 4 1 7-2 11 0 9-3 10-1 4-2 4 3 7 0 4-3 4 2 7-3 8 3 3 0 4-3 4 4 7 1 4-2 3 2 1 3 1-1 6-2 12 0 3-3 4-13 6-30 4-33 5-97 5-34 2 14 7 152 6 80 2 12 7 7 6 1 10-3 9-7 10-17 7-14 3-3 14-5 17 1 4 3 8-2 3-6 20-48 2 0 3 7 6 34 6 28 4 8 4-9 6-44 4-13 2 2 5 25 2 6 2-3 6-26 2-3 5 30 4-26 1-3 1 1 4 9 6 25 3 5 4-3 4-5 11-23 4 3 7-22 10-11 1-1 1 1 4 18"/><path class="c5" d="M215 2711l3 16 4 30 8 31 6-76 4-16 3-6 4 1 9 12 4 3 3-1 15 27 8 33 2 3 5-5 10-46 5-12 6 3 6 5 4-1 4 3 10 0 4-2 8-1 11-8 4 1 7-5 7-1 8-5 4-7 4-2 3-3 12-17 15-10 4-5 3 1 4-4 15-4 4 3 8-5 3 1 4 3 4-1 5 1 6-3 8 1 2-1 1-13 1 13 3 0 4-3 4-1 15-11 15-7 3-3 4-1 4-4 9-3 10 0 15 4 3-1 16 5 3-1 4 1 11-2 12 1 22-4 12-8 7-8 7-26 3-5 3 5 3 12 5 70 6-33 2-3 8-6 15-4 4 1 11-3 8 0 23-3 3 1 4-2 4 0 7-2 8 0 4-2 3 2 4-6 4 1 4 2 7 3 8-2 3 1 4-2 4 3 4-2 3 2 8-3 4 2 3-2 4 2 3 5 1 10 1-6 1 2 5 1 12-3 4-5 5-16 7-31 6-94 5-42 2 10 10 172 3 33 3 15 7 3 12 0 3-2 9-2 3-2 11-20 7-10 12-2 3 1 8-3 7 1 11-2 14-29 6-9 6-6 2 2 2 6 12 56 3 5 3-4 2-7 5-36 4-12 2 3 5 23 2 8 7-28 3-5 5 25 4-22 2-4 2 3 4 19 3 11 2 1 2-2 8 4 3-3 12-17 3-3 4-6 4-3 4-6 3-2 1 1 4 22"/><path class="c6" d="M215 2644l14 93 1 1 1-2 1-6 4-48 4-17 4-7 4 5 4 14 4 7 4 6 3 1 4 9 8 10 10 24 3 4 2-3 3-14 5-40 7-33 3-8 8-11 11-2 4 2 11-2 4 2 4-1 11 5 15 0 4-3 7-3 4-4 4-1 7-9 4-1 11-10 4 0 4-5 4 3 7-3 4 3 7-2 4 2 4-2 11 0 4-1 15 3 4-3 6 0 1-13 1 13 7 2 4-1 3 3 8-1 7 3 4-1 4 3 7 1 8-2 4 1 3-3 7-1 31-1 4 2 4-2 3 1 27-3 16-4 6-4 8-2 7-12 7-17 4-29 3-8 2 6 4 24 5 65 7-14 9-1 8 1 4-2 3 0 8-2 4 1 11-5 4 1 7-3 8 0 4-2 7 0 19-4 4 0 7-2 4-3 4 4 3-5 4 3 4-3 7 1 4 2 4 1 7-4 12 5 3-2 4 3 3 0 1 10 1-7 3 3 7-1 4 1 5-2 3-8 5-16 3-17 5-51 5-113 5-40 1 0 1 10 12 223 2 21 2 6 15 3 7-3 9-1 10-7 8-7 7 2 4-1 4 2 3-2 12 4 13 1 5-9 17-51 5-9 3 7 6 43 7 33 3 6 3-8 7-49 4-10 2 3 5 30 2 9 7-27 3-6 5 29 5-30 5 12 6 27 3-5 4 4 4-4 3-10 4-5 4-12 7-14 4-4 4-14 4-4 3-6 5 21"/><path class="c7" d="M215 2648l11 86 3 11 1 1 1-2 1-7 4-44 5-20 2-4 2-1 3 13 4 4 8 19 3 3 4 9 4 3 7 15 9 38 3 3 3-8 5-27 7-28 2-3 5 0 4 4 4-1 4 1 3 4 4 1 8-4 11-11 4-6 7-5 4-7 4-2 3-8 4-1 15-11 8-9 26-20 11-4 23-1 4-2 11 0 11-2 4 2 4-2 7 0 8-2 7-1 4 1 4-1 7 1 8-2 3 0 19-8 15-4 4 2 7-1 4 1 12-2 3 1 12 0 3-2 8 1 7-2 8 1 15-4 9-8 8-12 5-24 3-6 3 6 3 14 5 65 6-26 14-8 8 0 7-2 4 1 7-3 8-1 8 1 3-2 12-1 3-1 12 0 15-5 11 0 4-3 3 0 12-2 3 5 4-1 8-4 3 3 4-3 4 4 4-2 3 1 4-2 4 9 3 0 17-3 3-4 5-17 5-27 4-40 4-88 5-37 2 12 12 215 3 23 5 6 3 1 12 0 3-2 8 0 7-7 4-8 8-8 4-3 14-3 21 0 4-1 6-12 17-47 4-6 3 7 6 37 6 32 4 10 2-4 9-53 3-9 2 2 5 33 2 5 9-33 1-1 1 2 4 27 4-24 2-4 2 2 4 21 5 13 3 2 3 0 11-15 4-9 7-10 4-12 4-5 4-10 4 5 4 18"/><path class="c8" d="M215 2674l8 58 4 21 3 7 5-61 6-30 3-5 3 1 5 9 4 1 11 10 5 8 7 18 8 37 3 5 4-12 7-27 6-10 2-1 3 6 4 0 4 6 7 6 11-6 8-11 23-42 3-2 10-14 5-4 4 2 8-7 7-4 4 0 4-3 3 0 4-3 4 2 7-3 4 2 8-3 3 2 4 0 4 3 4-2 11 5 4 1 4-1 3 4 12-5 2 3 1 6 1-6 3-3 8-3 7 0 19-5 4-2 7-1 8-6 7-3 4-3 7 2 31-4 26 2 4 1 7-1 7 1 4-2 8 0 11-10 4-6 7-25 3-5 3 6 3 13 5 69 6-32 5-4 5-3 15-3 15-6 4 0 8-3 4 1 7-4 15-4 4 1 11-2 8 2 3-1 4 3 8-5 3 0 4 4 4-2 7 0 8 2 4-1 3 2 8-1 4-3 7 3 4 8 4 1 7-1 4 1 6-4 2-5 6-19 4-20 4-39 5-101 4-35 1 0 1 9 12 205 3 24 4 3 12 2 15-4 7-6 8-8 7-5 15 2 8-2 7 3 9 1 8-13 15-36 5-5 4 10 12 65 3 4 4-9 5-37 5-15 2 3 5 29 2 4 10-34 5 28 5-25 2-1 8 29 2 3 2-1 4 8 4-7 7-5 4-9 4-2 7-13 4-2 5-8 2 0 1 2 4 25"/><path class="c9" d="M215 2628l11 82 2 11 2 3 6-58 5-23 3-7 2 2 5 13 9 7 3 9 4 1 11 22 9 28 3 2 3-6 5-29 6-18 3-5 5 3 4 4 4-1 4 4 7-2 4 2 15-12 7-3 8-9 15-8 4-4 11-6 4 3 3-4 4 2 4-1 4 1 3-2 4 1 4-2 4 1 3-3 4 3 11-2 4-3 8 0 15-7 11 2 4-2 7-2 4 0 4-2 19 1 11-1 4-2 3 1 18-6 5 0 4-2 7 1 8 4 3-1 4 1 4-1 4 2 22-1 4 2 4-1 4 1 3-1 4 1 11-2 4-3 4 1 7-5 11-19 7-25 2 3 4 15 5 67 7-29 6-6 11-3 7-1 4-2 15-2 8-3 4 1 3-2 4 1 4-3 4 1 22-4 8 0 3-3 4 0 4-2 4 3 3-7 4 7 4-4 4 4 3 0 4-3 8 4 3-4 4 5 4-4 4 2 3-3 4 6 3 2 1 9 1-8 3-1 3 2 12-2 2-2 4-11 5-18 6-49 5-106 5-43 2 12 12 218 2 19 1 4 2 3 4 2 9 1 12-6 7-6 12-17 7-5 9 0 16 3 9 4 7 0 4-6 17-35 4-3 3 4 3 10 9 53 4 11 3-4 2-7 9-54 3 6 7 37 9-37 2 3 4 21 5-22 3 1 7 29 2 2 6-2 4 1 7-12 4-2 4-9 3 0 4-8 11-13 5 23"/><path class="c10" d="M215 2598l8 51 5 39 2 6 6-52 6-18 3-4 6 15 5 6 4 1 3 5 4 2 4 10 4 5 11 23 3 2 4-8 6-29 7-24 3-5 3 3 8-2 7 2 4-1 8 3 9-3 9 3 12-4 3 2 4-1 8-6 3 0 11-4 4 2 8-4 4 1 3-3 15 3 4-5 4 3 4 0 3 2 4-6 8-4 11-4 4-3 11-3 4-2 6 2 1 13 1-12 11-3 3 2 4-1 8 1 3 1 4 0 4 3 4-2 3 2 4-3 15-2 4-2 7 1 4-1 4 1 4-2 7-1 15 3 8-2 4 3 3-1 4 2 4 1 7 4 12 0 3 2 4-3 4 1 4-2 7-9 7-16 5-28 2-5 3 6 3 14 5 61 7-19 6-3 3 1 12-4 26 0 30 2 11-4 23-4 4 1 3-2 4 4 4-7 4 3 3-4 8 4 4-1 3 2 4-6 4 4 4 0 3 3 5-2 3 4 5 2 7 1 9-4 2-2 7-26 6-54 5-108 5-42 2 10 12 220 3 24 4 4 12 2 7-1 4-5 7-3 14-16 6-3 7 0 11 1 20 7 6-9 17-44 4-5 4 8 11 62 2 8 2 3 2-3 2-7 6-43 5-18 2 2 7 38 10-35 5 27 5-28 4 8 6 29 3 4 12-15 12-27 3-4 8-25 4-2 3-6 5 20"/><path class="c11" d="M215 2558l3 35 12 78 6-51 5-6 2 0 3 2 1 3 5 15 4-2 7 9 15 24 4-1 4 8 2 2 5-7 8-37 8-13 3 1 8-2 4 2 3-2 4 2 4-1 11 2 4-1 17 9 5 1 4 0 4 2 11-6 4-4 4-1 7-7 4-1 4-3 3 0 4-3 8-2 3-3 4 3 4-2 4 2 11 1 8-4 3 4 4-2 4 2 11-2 4 3 6-3 1-11 1 11 7 0 11-2 23-9 7-1 8-2 22 1 4-2 23 4 7-1 4 1 4-1 15 4 18-4 13-7 7-12 6-14 5-33 2-5 2 4 4 22 5 60 6-9 3-2 4 0 3 1 4-1 19-2 11-3 12 1 7-2 4 2 7-2 8 1 7-3 15-1 4-4 4 3 4-1 3-5 4 7 4-2 4-5 7 3 4 0 4 2 3-2 4 3 4-4 4 5 3-4 5 4 3 6 4-5 15 0 3-4 3-11 5-26 6-71 5-119 5-30 3 24 12 231 2 16 5 5 3 3 8 0 4-3 7 1 7-4 16-14 2-1 9 1 7 4 8 1 13 5 4-1 6-13 11-35 6-30 4-7 3 9 10 71 3 13 3 5 3-8 6-46 4-15 1-1 1 2 1 4 6 41 1 1 1-3 9-33 2 5 3 28 5-33 5 12 5 25 2 4 4 1 3-2 10-16 13-26 7-16 5-8 1-1 1 1 4 16"/><path class="c12" d="M215 2656l11 83 3 14 1 1 1-2 1-7 4-46 5-21 3-3 16 40 3 3 12 18 6 15 6 22 2 1 5-18 11-59 3-8 4-4 8 1 4-1 7 1 15-1 11-4 4 2 4-4 4-1 11-6 7-8 8-4 7-2 4 0 4-4 19-6 3-2 8-1 7-4 19-12 4-5 4-1 11-8 8-3 2 0 1 12 1-13 3-1 4 2 11 1 4-1 11 4 11 0 4-2 4 0 7-5 19-4 4 1 7-2 12 0 15-2 15 1 19-1 3-2 8-1 7-5 8-12 3-8 5-27 2-3 2 3 4 18 5 64 6-19 10-6 4 1 19-5 26 0 4-2 4 2 15-3 4 1 7 0 8-2 3-3 4 2 4-2 11 2 4-3 4 1 7-2 4 1 4-3 7 3 4-2 7 0 4-3 6 9 13-1 6-4 3-8 5-16 3-17 4-32 5-98 5-35 2 13 7 148 6 78 2 13 6 6 3 1 11-1 11-4 7-10 8-14 7-9 4 1 4-3 7 0 8-2 11 1 4 2 2-1 5-8 18-51 5-8 11 68 8 20 8-42 5-13 2 3 5 30 2 10 9-32 1-1 1 2 4 23 4-22 2-4 2 2 4 17 5 11 2 2 8-6 3-13 4-4 8-19 3-6 4-13 11-21 5 23"/><path class="c13" d="M215 2564l15 114 2-7 4-39 7-10 2-1 3 14 8 17 11 15 11 22 4 11 6 7 5-10 8-46 8-26 3 2 4-3 4 1 4-2 3 1 8-1 4 1 3-2 4 2 4-1 11 1 4-2 7 0 12-4 3 0 8-6 7-4 4 0 4-5 4 1 3-3 4 2 8-4 3 0 4 3 4-1 4 2 3-2 12-2 4 1 7-4 4 3 4-1 3 2 14-4 1-2 1 2 11 1 3-1 4 2 19 0 4 1 3-1 4 1 4-2 4 0 3-2 15-3 15 1 16-2 3 1 4-2 4 2 7 0 19 8 8 0 11-3 4 1 7-9 6-11 6-29 2-3 2 3 4 17 5 65 6-20 7-4 33-6 16-5 11-2 15 0 11-3 4 1 4-3 3 2 4-3 8 1 3-2 4 2 4-1 7 3 4-3 4 2 7-6 4 2 4-1 4 3 3-3 4 1 3 4 1 8 1-8 2-1 4 1 12-3 2-1 3-10 5-20 7-67 5-113 5-36 2 10 11 215 3 36 2 7 15 5 4-3 3 1 8-1 4-4 3-1 8-6 7-3 8 1 4-2 3 2 4-1 11 4 4-3 4 2 2 0 6-14 17-58 4-8 2 5 12 75 5 16 3-8 7-50 3-11 2 2 6 37 2 5 3-7 5-23 2-3 5 32 5-32 3 5 7 33 2 2 2-2 4 3 4-9 15-23 3-10 4-4 8-19 4 3 4 15"/><path class="c0" d="M215 2653l7 56 7 38 1 1 1-2 5-56 5-22 2-2 5 5 4 12 4 0 4 12 3 3 12 16 6 20 5 34 2 3 5-6 8-34 7-13 1 0 3 6 12 9 6 2 6-1 3-3 7-13 19-21 4-2 3-7 8-7 4-5 7-5 8-10 3-3 12-17 3-3 4-6 8-3 3-6 8 1 7-2 8 3 4-3 4 2 11 2 4-1 3 3 4-3 4 2 4-2 2 0 1-7 1 8 3-1 4-2 11-2 4-3 4 1 3-3 8 0 11-5 4 0 4-3 22-7 4 1 4-2 26 0 8-2 15 0 7 2 4-3 4 0 11-2 8-7 6-11 4-11 5-30 2-3 2 4 4 22 5 65 6-17 7-4 7 1 8-3 3 0 8-2 11 2 15-3 4 2 16-1 10-3 4 1 4-2 4 1 7-7 8 7 3-2 4 1 4-5 7 3 4-3 4 1 4-2 7 5 4-1 4 3 7-8 5 9 6 5 8-3 4 0 3-3 4-10 7-34 4-36 4-84 5-41 2 11 12 208 3 22 5 5 7 3 8-1 3 1 10-2 5-5 8-11 7-8 4 1 8-3 7 1 11-2 10 0 5-8 8-19 13-17 2 0 2 5 6 19 6 34 4 10 3-7 8-46 3-8 2 2 5 23 2 6 7-28 3-7 5 27 5-28 12 38 4 2 2 0 4-5 3-9 4-2 4-1 4-13 3 0 4-9 8-11 3-1 1 1 4 20"/><path class="c1" d="M215 2647l7 53 6 33 2 4 6-60 4-18 4-11 2 1 5 11 9 11 7 5 4 9 4 5 10 24 2 2 6-12 6-39 7-31 3-8 3-1 4-2 5-1 10 1 4-1 4 1 3-3 4 3 4-5 4 4 3-1 4 2 8 1 7-4 4 1 7-6 4 0 11-7 8-10 22-9 4 4 8 0 3 4 8-3 4 3 4-2 11 2 4-1 7 3 4-2 4 2 2-3 1 4 1-4 3 2 4 0 4-2 3 1 4-3 4 1 7-2 8-1 4-2 15 0 3-3 12 2 11-1 23 4 15-1 7 3 8 0 3 2 12-2 3-3 4 3 4-3 5-2 7-14 6-15 4-30 3-7 3 8 3 17 5 64 6-12 7-4 3 1 4-2 4 1 11-3 15-1 4 1 4-1 4 1 11-1 4 1 3-2 8 0 4-1 3 1 8-4 4 2 3-4 4 6 4-8 7 6 4-5 4 0 4 1 3-2 4 3 4-7 4 4 3 0 4 3 4-4 4-1 3 6 7-1 1 4 1-2 6 2 4-2 4 1 5-1 3-5 3-12 5-28 5-52 5-114 5-37 2 11 12 227 3 27 3 3 5 3 12 0 7-4 4 0 4-2 11-11 5-2 10 0 19 3 14-1 4-10 12-39 6-29 4-9 3 9 6 46 4 25 3 13 3 6 3-6 7-45 4-10 2 4 5 37 2 5 10-31 2 4 3 24 5-29 9 27 5 13 8-7 7-15 8-8 7-20 8-15 3-1 1 1 4 16"/><path class="c2" d="M215 2659l12 90 3 13 5-52 5-17 3-4 5 13 4 4 8 19 3 4 8 16 7 12 9 32 3-5 3-11 14-85 5-13 11-9 8 0 11 1 4-3 4 1 4-4 7 0 4-4 4 0 7-3 15-10 8-1 3 3 4-1 4 3 4 1 3 3 4-2 11-1 4 3 4-2 4-6 3 3 4-1 4-4 4 0 7-5 4 1 4-1 4 1 3-4 8-1 6-3 1 14 1-15 24-6 5-4 4 0 11-6 23-7 15 6 7 2 5-1 7 4 4 0 11 0 11-3 5-2 14-2 4-3 7-2 12-8 9-15 5-25 3-6 3 5 3 12 5 65 5-20 3-5 6-3 25-7 4 2 11 0 8 1 7-2 4 2 15-2 15-3 7 0 4-5 11 2 4 3 4-3 4 2 3-4 4 3 4 1 4-5 7 5 4-2 4 2 3-5 6 6 2 9 1-4 3 1 3-2 8 1 6-4 3-7 5-15 4-20 4-35 4-82 5-43 2 12 12 206 3 22 5 5 6 2 5-1 4 0 13-5 9-11 4-9 7-7 12-4 29 0 4-6 17-41 5-5 5 10 7 46 6 18 4-3 2-5 4-29 2-8 3-5 8 33 2 0 1-2 6-26 2-1 5 24 4-20 2-3 2 2 11 35 8-8 3-8 4 1 8-11 7-19 4-1 7-12 5 28"/><path class="c3" d="M215 2593l14 103 2 0 1-5 6-50 3-11 3-4 8 15 4 10 4 2 3 9 4 3 8 19 13 18 3-4 2-8 11-59 2-7 3-4 7 1 4-3 4 1 15 1 7-2 6 4 9 13 12 12 7-1 7-6 4-1 19-21 4-6 15-11 11 2 4-1 11 0 4 2 11 1 4 2 11-1 4 1 4-2 3 4 8-5 4 2 7 0 8-1 3 2 19-3 4 1 7-4 19-6 11-2 4-2 8 0 7-2 12 0 18 7 8-2 7 1 8-4 5-1 5-7 8-20 4-28 3-7 6 28 5 66 6-15 2-1 8-1 8-3 7 1 4-2 11-1 4-3 4 1 4-2 7-1 12-3 22-3 4 1 7-4 4 3 4-2 7 3 4-5 4-1 4 3 7-1 4-3 4 5 3-2 8 5 7-2 3 2 4 6 1 16 1-13 10-1 10-3 4-10 4-13 7-46 5-98 5-42 2 12 12 210 3 23 3 3 5 3 6 0 6-2 7-5 7-9 11-20 7-8 5-2 8 0 7 0 8 3 3-1 9 2 3-1 15-42 5-22 5-8 3 9 6 39 5 28 5 14 3-5 6-42 5-15 2 4 7 40 8-34 2-1 5 33 4-27 2-3 2 3 4 17 5 15 5 3 5-4 7-16 4-1 4-8 3-2 15-27 0-1 1 3 4 21"/><path class="c4" d="M215 2694l11 76 4 13 5-62 6-24 3-3 3 4 13 29 7 7 4 8 4 4 5 13 5 21 3 7 2-3 3-9 8-52 8-31 3-3 4-6 4 1 4-3 7-1 6 0 5-2 8-9 15-10 7-8 15-11 8 0 4 2 7 1 11 6 8-1 4 3 3-2 4 0 4-3 4 0 7-2 12-10 7-3 4-4 4 0 7-3 4-4 6 0 1 8 1-9 3-1 11 1 27 5 3-2 6-1 9-6 4 0 8-3 11 0 11-3 8 1 15-2 7 2 8-3 7 2 15-3 4 1 4-3 7-3 8-12 3-6 7-26 2 2 4 18 5 67 6-28 5-5 9-4 26-4 16-4 3 2 8-3 7 0 4-1 15-1 11 1 8-4 4 4 3 1 4-6 4 7 4-6 7 4 4-2 4 5 3-2 4 1 4-6 7 4 4-4 3 7 1 12 1-9 10 1 10-5 5-12 4-14 6-42 5-98 5-45 1 0 1 9 11 195 3 30 2 5 7 4 16 0 11-4 7-7 6-9 4-3 5 0 8-3 3 1 4-1 4 1 4-2 11 3 2-1 5-8 17-41 5-7 2 3 13 67 3 7 3-3 2-7 7-50 3-7 9 36 10-33 5 26 6-28 2 1 7 38 3 5 5-7 11-7 8-7 15-24 3 1 1 3 4 22"/><path class="c5" d="M215 2556l3 37 11 74 1 2 1-2 4-43 6-11 6 7 5 13 4 0 4 5 3 2 4 7 4 3 4 7 7 8 4 9 2 1 5-6 8-33 5-13 3-4 3 4 4 1 4-2 4-1 3 3 4-3 8 0 3-4 4 0 8-6 11-4 4-3 7-3 8-1 3-3 4 1 8-5 3 5 8-5 11-1 8 4 3 0 8 4 4 1 3-3 4 4 4-4 8 1 3-3 4 2 4-2 4 4 3-1 4-3 4 2 4-1 2-1 1-12 1 12 3 0 8 0 7-4 4 1 7-3 8 0 4-1 7-1 4 0 15-2 15 2 15-3 15 2 8-1 7 3 4-1 4 2 18-2 11-3 6-7 5-11 4-12 5-32 2-5 2 4 4 22 5 57 1 6 5-10 7-3 11 0 26-4 4 1 11-4 19-2 4 1 11-3 9 0 6 4 4-5 4 3 3-3 4 1 8 0 7 2 4-1 4-6 7 8 4-5 7 3 4 4 3-2 1 1 1-1 6 1 12-1 3-3 3-13 6-33 5-56 5-109 5-32 2 12 12 234 3 26 5 5 7 3 8-2 11-8 15-17 4-6 7-4 8 1 15 7 3 0 6 1 4 0 4-6 3-10 10-34 6-31 4-7 4 16 5 41 6 35 3 7 2-1 2-6 7-53 3-11 1-1 1 2 1 5 5 38 2 5 2-3 8-29 5 26 4-23 2-3 3 6 7 30 3 5 4-8 4-2 2-3 20-44 4-4 4-8 3-2 1 2 4 17"/><path class="c6" d="M215 2589l15 106 6-48 4-14 4-8 7 19 5 4 7 14 12 14 7 23 6 4 2-2 3-11 12-58 3-6 8-4 4 4 4-4 3 0 4 2 4-1 4 2 3-4 4-1 8 1 3-2 23-5 11-6 4-5 4 0 11-7 4-1 11-8 4 0 7 3 4-1 4 4 7-1 4 2 11 0 4-3 8 3 7-2 4 4 4 0 2-3 1 11 1-10 3 2 8-2 3 1 8-2 4 0 7-1 4 1 11-3 15-1 4-2 11 2 11-1 16 0 3 2 4-1 8 0 15 5 11-3 4 0 7-4 8 0 7-11 6-16 5-32 3-9 2 4 4 21 5 60 6-10 3-1 4 0 3-1 4 1 19-3 4 2 11-4 11 1 4-1 4 1 4-3 11 0 11-3 4 1 15-3 4 1 3-4 12 4 3 4 4-6 4-2 4 4 3-3 4 3 4 0 4 3 3-5 7 9 1 4 1-2 10-2 8 0 3-3 3-11 6-32 5-54 5-115 5-40 1 0 2 25 11 211 2 23 2 7 11 5 4-2 6 0 12-3 12-12 7-5 15 6 15 3 4-1 6 2 3-4 3-10 11-36 7-34 3-4 3 10 9 67 7 23 3-8 8-55 3-8 3 10 6 38 2-3 7-29 2 3 4 23 4-20 2-4 2 3 8 33 2 3 4 1 1 0 4-9 3-3 4-5 4-11 4 0 3-10 4-3 4-9 4 0 3-4 1 0 4 16"/><path class="c7" d="M215 2629l12 85 3 11 6-56 4-16 4-8 6 14 17 26 4 3 9 20 5 15 3 4 5-9 6-37 8-28 9-4 8 0 7 2 3-1 12-14 4-1 4-8 15-15 7-1 4-4 7-3 4 1 5-4 3-1 3 4 4 0 4 1 4-2 3 5 8 0 4 3 7 0 4 3 4 0 3-4 8-1 8-4 7-1 4-4 4 2 11-4 4 2 2-1 1-6 1 5 14 0 4-1 8 1 7-2 4 1 15-1 11-5 26 0 4-1 4 1 8-1 3 2 8-3 11 4 6 4 9 3 15 0 11-4 8-15 3-7 7-36 3 5 3 14 5 59 7-16 9-5 8-2 7 0 4-2 4 1 4-2 3 1 16-3 3 1 8-2 4 2 7-3 19 1 4-3 3 3 12-2 11 4 4-4 3 2 4-3 11 6 4-3 8 5 3-4 7 6 1 8 1-6 6 2 12-3 3-3 4-11 6-28 4-36 6-120 4-33 2 12 12 214 3 24 5 4 3 2 4-1 4 1 4-3 7-2 11-10 8-9 6-4 16-1 8 1 4 3 3-1 8 2 3-2 8-20 14-50 4-6 4 15 8 57 5 18 2 2 3-7 7-52 4-13 2 3 6 41 1 1 2-3 8-27 5 27 5-31 10 36 3 5 4-1 3-3 9-17 4-4 4-7 3-4 8-23 5-8 2-2 1 1 4 18"/><path class="c8" d="M215 2661l7 50 6 31 2 5 6-63 5-24 3-6 4 8 8 6 7 8 4 8 4 2 9 19 6 18 2 1 5-12 6-38 8-32 2-4 7-5 4 2 11-1 11 3 8 2 4 4 3 0 4 3 11 3 19-7 4-5 4-2 7-6 4-1 4-3 3 1 8-6 4-1 3 3 12-4 3 2 12-5 4 1 7-4 4 0 4 2 11-5 4 0 2 1 1-8 1 8 3-2 4 2 4-2 11 2 7-2 4 2 30-8 11 0 15 2 4 1 4-1 4 2 7 0 8 1 4-1 22 0 11-3 4 1 10-6 9-12 7-33 3-6 3 5 3 13 5 61 7-21 2-2 15-5 4 1 7-3 8 2 3-2 16 2 7-2 4 2 4-2 3 1 12-2 3 1 4-1 11 0 4 1 15-5 4 1 4 4 3-3 4-1 4 3 4-2 3 0 4-6 4 6 4 0 10 4 1 4 1-2 3 1 15-2 4-9 5-13 5-26 4-39 4-88 5-43 2 12 11 197 3 32 1 5 2 2 10 6 7-3 12-10 18-24 3-3 9-3 19 5 14 0 5-11 11-29 5-22 4-7 2 1 1 3 12 74 2 9 2 2 3-3 2-7 6-42 3-10 1 0 2 6 4 26 2 10 2-1 1-3 5-20 3-6 5 30 4-27 2-3 3 6 6 30 2 1 10-4 11-18 4-4 3-9 15-22 5 22"/><path class="c9" d="M215 2756l3 15 9 50 3 7 5-68 3-14 4-11 2 0 4 2 8 9 7 7 8 9 6 10 3 12 1 9 5 124 2 22 3-8 2-19 6-96 6-56 3-14 3 0 5 2 4 0 4 3 11 1 19-19 7-6 4 0 7-8 8-4 4-4 5-2 7-6 6-10 12-29 15-16 11-5 4 1 3-5 4 2 8-2 4 2 3-2 8 2 11-3 10 2 1-5 1 4 7-5 7 2 8 0 7 1 12-4 3 1 27-12 34 0 7-2 4 1 19-4 3 1 4-2 4 1 7-3 8-1 7-5 8-10 3-6 5-21 2-3 3 6 3 14 5 74 7-35 6-10 11-5 26-5 4 1 4-2 4 2 3-2 8 1 4-2 7 0 15-4 4 1 7-1 4-4 4 3 4-1 7 4 4-4 4 0 3-1 4 5 4-3 11-1 4 2 4-1 3 6 4-6 4 19 3 3 4-1 17-21 4-9 5-18 4-27 5-83 3-25 2-6 12 175 3 29 2 5 11 2 4-1 4 2 3-1 10 3 5-5 11-19 4-4 4-1 4-2 4 1 3-3 4 2 11 0 11-2 4-5 10-24 9-13 4-3 3 8 12 56 3 8 3-6 5-33 5-11 2 2 7 26 3-3 8-20 5 27 6-29 2 0 7 25 4 5 8-5 3-5 4-2 4-7 7-5 7-15 6-9 2-1 1 2 4 22"/><path class="c10" d="M215 2706l10 62 3 12 2 3 6-73 5-24 4-9 7 2 4-2 7 8 4 2 3 3 10 25 6 21 1 2 2 1 4-8 6-33 6-20 3-5 4 1 12 4 3 0 4-1 4 3 11 0 4 1 7 0 8-6 4 2 3-1 4-5 4 0 11-8 11-15 12-9 3-5 8-3 4-5 3 3 4-6 15 1 8-3 4 2 7-2 8 1 3-1 4 3 4-3 4-1 2 2 1 13 1-14 14-5 8 0 15-6 7-1 4-2 8-1 3-4 19-2 8 2 19-1 3 2 4-1 11-1 8 1 4 1 3-1 4 2 11-3 4-3 8-1 7-8 6-12 5-26 3-5 3 8 3 14 5 67 6-22 3-2 15-5 7 0 12-4 11 1 4-2 19-1 26-5 7-3 4 2 4-6 4 3 7-3 4 2 4-3 3 3 4-2 4 3 4 1 3-2 15 2 4-2 4 10 7-1 4 1 9-2 3-5 5-14 5-26 4-37 4-84 5-42 2 11 12 208 3 24 5 4 3 3 13-3 6-3 11-12 8-12 5-5 10-4 4 1 3-1 8 1 4-1 7 2 8 1 19-40 5-6 2 1 2 5 11 53 5 15 1 0 2-7 7-51 4-13 3 7 4 24 2 3 2-3 8-30 5 32 4-31 1-3 1 1 6 16 3 20 3 5 5-1 7-12 4-1 4-4 7-13 4-2 11-15 2 3 3 16"/><path class="c11" d="M215 2639l14 93 1 1 1-3 1-6 4-48 4-17 4-8 4 5 4 12 4 1 7 7 15 26 8 25 3 4 4-8 8-41 7-18 4 2 8-2 7 4 6-2 6-4 3-1 12-16 26-27 7 0 8-4 4 2 3-4 8 5 4-3 3 0 4 4 4-4 4 3 11-1 7 3 19-5 8 1 4-2 7-1 4-2 15 1 4-3 11 0 26-9 4 0 7-3 15 0 4 2 8 1 3 2 8 1 4 2 4-1 11 2 4-1 7 1 19-1 4 1 3-3 4 0 8-1 5-6 8-15 5-26 3-7 3 5 3 13 5 63 7-21 7-4 14-4 37-5 12 0 3-2 15 0 13-4 10 1 5-2 10 0 4-5 3 5 4-3 4 4 4-1 3 2 8-4 4 3 3 0 5 3 2 2 1 4 1-3 18 1 4-5 5-18 5-30 4-44 4-92 5-43 2 11 11 204 3 34 2 7 7 4 19-3 8 1 3-5 4-1 10-8 13-1 3-1 8 1 6-2 5 2 6-2 6-12 17-51 3-5 2 1 2 7 6 34 8 39 2-1 4-10 6-43 4-11 9 38 2-3 5-22 3-8 5 28 4-24 2-4 2 2 6 29 3 6 2-1 4 3 15-28 7-5 7-19 7-11 1-2 1 3 4 21"/><path class="c12" d="M215 2669l11 74 2 9 2 2 6-63 4-18 4-10 2 1 17 25 6 4 6 12 3 4 7 32 3 6 5-7 5-29 8-24 8-2 11 5 10 2 22-24 4-7 11-12 4-1 11-12 19-3 4 1 4-4 7 3 8-4 3 2 8-2 4-2 3 0 4-3 4 2 4-5 7-2 15-9 8 1 6-4 1-13 1 12 18 0 4 1 7-3 8-1 4-2 5 1 25-6 3 1 8-1 4 2 11-1 4 1 4 0 3-2 4 2 4-1 7 1 23 5 11-4 7 0 4-4 10-16 5-29 3-7 3 6 3 13 5 61 7-20 6-4 7-1 8-3 11 1 19-3 4 1 18 0 4-2 15 0 4-1 4-3 7 0 4 3 4-4 7 2 4-3 4 3 7-3 8 1 3-1 4 7 4-6 10 2 5 8 2 0 18-2 3-7 5-15 6-38 7-128 5-45 2 11 12 217 3 24 5 5 11 3 7-4 12-7 11-13 7-5 8 0 26 4 7-1 7-18 15-51 4-7 3 9 6 41 5 30 5 16 3-6 7-48 3-9 2 3 6 37 2 5 10-33 2 5 3 26 4-23 2-3 4 8 5 24 3 4 9-5 3-11 15-28 4-11 4-6 4-10 4 4 4 16"/><path class="c13" d="M215 2571l13 102 2 7 5-47 7-16 4 3 6 14 8 8 3-1 8 16 7 9 10 26 2 3 3-3 8-36 7-12 1 0 3 7 8 6 7 3 3-1 5-3 7-10 4-8 15-22 11-9 4-1 8-4 11-1 4-3 3 1 4-2 11 5 8 0 7 5 8 0 4-3 11 3 4-6 4 2 7-2 4-3 7 0 4-5 4 3 4 0 2-1 1-7 1 7 3 2 19-2 7-3 4 1 8-2 11 1 7-5 4 2 8-1 11 1 11-2 4 1 19-1 7 1 12 7 11 3 15-1 7-3 8-16 10-45 3 6 3 16 5 62 6-16 9-4 24-5 4 1 11-4 11 1 12-4 30 1 3-4 4 4 4-4 4 1 3 3 8-6 7 5 4-4 4 4 4 1 7-2 4 3 4 0 3-5 7 9 1 6 1-4 3 1 11-2 4 0 3-4 4-12 6-33 5-54 4-98 5-43 2 10 12 221 2 21 2 7 4 2 6 1 12-2 15-8 12-14 7-3 11 4 19 3 4 3 2-1 6-14 18-69 3-6 3 9 10 74 5 18 2-1 2-7 8-51 3-8 2 4 7 45 10-28 5 25 5-26 3 5 6 26 4 7 5-2 4 1 3-14 4-1 8-15 3-13 8-8 4-12 3-1 1 2 4 21"/><path class="c0" d="M215 2647l7 51 6 31 2 4 6-63 5-28 3-6 3 0 1 2 4 9 4 1 4 4 3 0 6 7 6 10 12 32 3 2 3-6 8-37 7-10 8 5 8 6 7-2 4 2 15-1 4-2 3 1 4-1 4 0 4-4 7-2 8-5 3 0 8-6 7-3 4 0 4-4 11 1 19-5 4 2 7-4 4-4 4 0 4-2 3-5 8-5 4 0 3-4 4 1 4-3 6 0 1-6 1 6 3-1 19 1 34-4 7-3 8-1 7 1 4 3 7-1 16 2 7-1 4 3 4-3 7 0 4-2 7 1 12-5 3 0 4-2 9-2 4-6 8-19 5-33 3-8 2 4 4 21 5 62 7-13 6-3 3 1 4-3 11-2 15 0 12 3 4-1 15 3 3-2 4 1 15-4 8 0 7-2 8 3 7-6 8 1 3-5 4 6 8-4 3 6 4-4 3 0 5 6 7-3 3 7 1 11 1-8 10 1 8 0 5-11 4-11 6-34 3-32 5-107 3-33 2-6 12 205 3 33 2 5 4 2 7 0 11-1 15-6 8-7 11-4 30 3 7 0 4-10 18-61 4-7 3 10 11 70 3 12 2 2 3-7 7-48 3-11 1 0 2 6 6 36 2 1 2-4 6-27 2 3 4 24 5-27 2 2 4 10 4 24 2 3 2 0 4 3 4-14 15-19 3-10 4-5 4-10 7-8 0-1 1 0 1 3 3 14"/><path class="c1" d="M215 2667l11 73 4 12 6-64 5-27 3-5 4 1 5 7 7 5 3-1 4 9 8 11 6 18 5 19 2 2 5-4 8-38 4-13 3-4 4 5 12 7 3-1 4 2 4-1 4 1 3-3 23-5 7-6 4 1 11-11 4 1 8-7 3 2 4-4 4 0 7-3 8 0 7-3 4 1 4-5 4 3 7-4 4 1 4-6 4 1 7-7 15-3 4-2 4-4 2 2 1 11 1-11 7-1 15-7 7-7 4 0 4-3 11-5 11-2 4-2 4 1 4-1 15 1 15 4 4-1 3 2 8-1 11 1 4 2 4-1 3 3 8 0 4 2 3-2 4 0 8-1 8-11 5-10 8-35 2 2 4 16 5 58 7-21 4-3 5-1 4-3 8 1 3-2 8-1 11 3 4-1 4 3 15 3 22-2 4-2 4 0 4-3 3 3 4-3 4 2 4-5 3 2 8-1 4 2 11-3 4 4 3-2 8 3 4-7 3 1 4 4 3 0 1 2 1-1 6 1 8-2 5 0 3-6 5-16 5-31 4-43 4-91 5-41 2 12 12 218 3 24 3 3 7 4 13-2 4-3 4-1 7-7 4-6 8-7 7-3 8 0 3 2 15-1 11 2 4-6 16-42 6-9 1 0 2 6 9 59 7 17 3-6 9-51 2-3 2 3 5 27 2 6 2-2 6-25 2-4 5 25 5-25 12 36 13 0 4-9 11-10 4-2 4-13 4 0 3-4 5 27"/><path class="c2" d="M215 2616l15 105 2-8 4-40 4-12 3-4 4 7 9 27 4 5 7 18 4 4 4 9 4 5 8 30 3-4 3-13 6-40 7-30 4-8 10-6 7 1 4-1 4 3 4-2 3 1 12-1 7 3 4-2 4-2 3 1 8-3 4-5 7-6 8-10 3-1 4-4 4-6 4-2 7-9 11-6 4 1 11-2 8 3 4-2 7 1 8 5 7-4 4 4 8-3 2 3 1-2 1 2 3-2 8-3 11-1 19-10 3 1 15-4 7-4 16 1 4-2 3 1 8-1 11 1 8-2 11 5 4 3 4-1 11 4 18-1 6-6 8-14 8-33 3 5 3 12 5 62 6-20 3-4 7-3 23-5 7 1 19-4 12 1 3-3 12 1 7-2 8 1 4-4 3 0 4 6 7-5 4 3 4 0 4-7 3 7 8-3 7 4 4-1 4 0 4-1 3 0 3 2 4 4 1 26 1-23 2 1 8-1 11-3 8-28 6-47 5-107 5-46 2 10 12 215 2 19 2 5 7 5 8-3 7 1 11-9 12-14 8-5 7 0 4 2 3-1 12 1 3 2 11 2 4-6 17-44 4-5 4 9 11 60 4 13 2 1 9-53 3-10 2 2 6 31 2 4 3-6 6-25 2 4 3 21 1 1 1-3 4-23 3 6 6 21 2 4 2 1 5-1 4-8 3-2 15-31 4-14 4-4 4-11 5 4 3 12"/><path class="c3" d="M215 2610l14 94 1 1 1-1 1-5 5-49 4-15 2-2 4 6 5 13 4 3 4 5 3 2 11 20 12 39 2 2 4-2 1-3 6-27 7-19 2 0 13 10 10 5 2-1 7-10 14-23 7-17 8-10 18-14 12-2 3 1 4 0 4-3 4 3 3-1 4 1 4-4 4 1 3 3 12-2 4 0 18-5 4-2 8 0 3-2 8 2 6-2 1-19 1 17 3-2 4 4 4-1 11 0 4-2 3 1 12 1 7-3 5 0 10-3 4 1 4-2 11-1 7-2 4 1 12-2 3 1 10 0 24 8 4-1 15 0 7-5 8-15 3-8 5-32 2-4 2 4 4 20 5 63 6-16 3-2 7-3 8-2 4 2 3-3 4 1 4-2 15 2 11-1 4-1 23 0 15-2 3-3 4 1 4-1 4 2 7 0 4-2 4 3 7-2 4-2 7 0 4 3 4-4 4 3 7-2 3 4 1 5 1-4 3-1 3 2 12-2 4-9 5-16 4-25 4-42 5-113 5-42 2 10 12 225 2 21 2 6 4 2 18 1 4-2 8 0 3-3 12-6 11 3 11 0 8-2 3 1 10 0 5-9 18-57 4-6 3 8 10 63 5 15 2-1 2-5 10-58 1-1 2 6 6 34 2 0 2-4 6-27 2 3 4 25 5-27 4 7 7 29 2 2 2 1 3-1 4-9 3-1 4-6 4-9 11-18 4-12 4-5 3-1 1 2 4 20"/><path class="c4" d="M215 2616l13 90 2 6 2-8 4-45 5-26 2-3 2 1 6 17 12 11 8 12 11 27 7 10 5-17 10-45 3-8 2-2 7-1 4 2 7-3 4 1 8-1 3-3 4 0 8-7 3 1 4-4 4 0 4-2 7-8 4 0 4-3 7 1 8-4 11 1 4 3 11-1 7 3 4 0 4-3 4 3 3-3 4 1 4-3 8 0 3-2 4 3 4-5 7-3 4 3 4-3 6 1 1-7 1 8 2 0 9-4 3 3 12-2 11-3 4 0 3-1 4-2 8 0 15-4 7 1 8-4 3 2 4-2 8 1 15-2 7 1 4 4 8 0 11 6 18-2 3-2 4-6 7-15 5-31 3-8 2 4 4 21 5 64 6-15 3-2 4 0 3-3 12 0 3-2 8-1 7-3 16-3 3 0 12-1 7-3 4 1 7 0 4-3 8 1 3 2 4-3 4 0 7 2 8-5 4 4 3-4 8 3 11 0 8-5 3 4 4-3 3 5 1 11 1-9 14 0 7-4 7-30 7-70 5-113 5-34 2 12 13 242 2 15 5 5 7 0 4-1 7 3 15-4 15-8 8 3 4-1 3 1 8-2 7 0 4 1 6-2 6-13 17-63 4-6 3 8 6 40 6 34 4 12 2-3 2-9 6-46 4-11 9 43 2-2 5-20 3-7 5 26 4-22 2-3 4 8 5 23 3 5 3-1 5-5 8-16 4-4 4-8 3-15 4-1 9-18 2-2 1 1 4 17"/><path class="c5" d="M215 2638l12 79 3 9 6-55 5-24 3-4 4 10 8 9 4 2 11 13 4 12 3 4 3 7 6 18 6-10 5-33 7-25 3-7 4-5 4 4 8-4 3 2 12 1 3 4 4-1 4 3 4 0 11 6 4 5 3 0 4-2 4-5 4 1 3-2 4-5 15-15 4-5 19-14 11-2 7 3 4-2 8 4 4-1 3 5 4 1 4-4 4 5 3-1 4 4 4-3 6 2 1-4 1 4 3-3 4 1 4-3 11-3 7-4 12-7 7-1 12-5 22 2 15 4 4-1 7 3 15-1 4-1 4 1 30-5 8-7 6-10 4-10 4-25 3-8 2 4 4 18 5 62 6-17 10-7 8 1 4-2 3 0 4-2 8 1 7-1 4 2 11 0 8 0 7-2 12 1 11-3 15-5 4 5 7-5 4 4 4 0 3-3 8 4 4 0 7-5 4 3 4-1 3 2 4-2 3 3 1 24 1-20 3 3 3-2 4 2 4-3 6-2 2-5 7-23 6-48 5-109 5-49 1 0 1 9 13 224 2 14 4 3 7 1 16-1 4 1 15-6 7-5 8 3 11-2 8 2 3-1 4 1 6-1 5-8 16-42 6-8 3 7 9 50 7 18 2-1 2-7 6-44 2-9 2-3 9 40 10-39 5 27 5-23 2 0 8 31 3 5 5 0 4-4 3-7 4 0 4-11 9-9 10-18 3 0 1 2 4 19"/><path class="c6" d="M215 2623l13 91 2 6 6-53 5-23 3-4 8 19 4 2 4 4 11 18 10 23 5 16 3 3 4-6 8-46 7-14 4 0 4 4 8 1 3 0 4 2 9-7 14-15 3-1 4-6 19-16 11-5 4 2 4-1 15 9 3 3 8 2 7 4 8-2 4 2 3-3 4-1 15 4 4 4 8-4 3 3 4 1 4 0 6-3 1 8 1-8 12-6 10-7 15-19 4-1 3-4 12-6 7 0 4-2 4 1 3-2 4 1 4-1 35-3 4 1 14 8 7 2 19 1 3-1 5-5 9-16 8-37 2 3 4 18 5 60 6-16 2-2 5-3 18-5 8 0 15-3 11-1 19-2 8 0 11-3 4 2 3-4 12 1 7 4 8-5 3 2 4-1 11 0 4 3 4-7 4 4 3 1 5 2 2 2 1 4 1-2 10 1 9-3 3-4 5-20 4-25 4-39 5-109 5-39 2 12 11 209 3 34 2 7 11 5 4-1 4 0 7-4 4 0 19-17 3 0 4-1 15-1 15 2 6-1 6-13 11-35 6-27 4-7 3 8 11 72 5 15 3-6 7-45 4-12 2 3 7 42 9-33 1 0 1 2 4 25 5-27 2 1 3 7 5 29 2 2 9-7 4-12 4-1 8-18 3-4 4-10 11-21 5 19"/><path class="c7" d="M215 2611l13 89 2 6 6-56 5-24 3-6 2 2 6 15 8 7 3-1 23 37 2 0 5-6 5-28 11-26 3 2 4-2 11 2 8-4 4 2 15-2 3 0 4 3 4-1 5 0 6-2 4-4 4 3 3-5 4 1 4-2 15 4 4-1 3 3 8-1 4 2 3-2 8 4 7-3 8-7 4-1 15-12 4 0 11-5 6 3 5-2 15 0 8-2 3 1 8-2 4 1 7-2 11 0 8-1 4 2 3-2 4 1 8-1 11 1 4 1 15 0 22 6 4-1 4 1 4-2 7 0 4-1 6-5 9-17 3-9 5-32 2-4 2 5 4 22 5 65 6-15 3-1 15-2 38-10 11-2 4-2 7-1 8 1 7-2 8 2 3-1 4 4 4-5 11 2 8-2 7 3 7 1 4-4 4 4 4-3 7-3 12 5 3 0 4-2 9 0 4-11 6-29 6-67 5-111 5-29 2 13 12 233 3 27 3 3 7 4 10 0 3-1 12-7 12-12 8-5 6 0 7 2 25 1 3-4 4-14 10-31 7-36 3-4 3 10 12 79 3 8 2-2 2-7 7-49 4-11 2 4 6 41 1 2 2-3 5-20 3-6 5 26 5-29 5 11 5 27 2 4 5 2 3-4 9-20 10-14 13-22 3-1 1 2 4 16"/><path class="c8" d="M215 2682l11 74 3 11 1 0 1-3 5-60 6-21 3-3 7 17 4 2 11 17 4 3 7 21 4 5 4 19 2 2 5-16 8-46 6-24 2-4 7-5 15 2 4-2 4 1 3-2 4 0 8-3 3-3 8-2 7-6 23-15 11-2 4-3 7-3 8 2 11-4 11 2 4-2 4 1 4-2 11 4 4-2 4 0 3 4 8-5 4 2 2-3 1-14 1 14 3 0 19-6 4 1 3-4 8-1 15-7 4 0 7-4 4 1 4-2 3 2 4-1 11 3 16 1 3-1 12 1 11-2 4 0 7-4 4 2 11-5 11-7 10-16 5-26 3-6 3 6 3 13 5 63 6-21 2-3 8-5 4 1 11-3 4 1 4-2 11 2 4-1 4 1 7-1 8 2 15-3 4 1 3-3 4 2 8-2 3-3 15 1 12-6 3 4 4-2 4 1 4-2 3 2 4 0 4 1 4-4 7 6 6 10 5 2 12-3 4-5 4-12 8-37 6-102 5-45 2 11 12 199 3 21 5 4 3 1 4 3 11-3 9-4 6-7 11-16 12-7 7 1 8-2 11 1 8-1 15-37 6-19 4-5 3 8 6 34 5 25 5 11 4-9 7-44 3-8 2 4 6 32 2 1 1-2 6-24 2-4 5 22 5-27 10 35 2 4 2 1 10-9 9-15 7-16 4-5 5-12 5-6 1-1 1 2 4 22"/><path class="c9" d="M215 2703l7 47 6 23 2 2 6-72 5-28 2-6 4-3 5-1 10 1 9 8 16 42 3 4 3-8 10-41 5-10 4 2 15 9 4-2 4 2 3-1 23-13 15-11 4-4 7-1 12-7 3-5 8-4 4-4 3 1 4-5 8-2 34-3 3 3 4-4 4 2 4 1 3-2 8 1 6-2 1-3 1 3 7-2 4 0 7-1 4-2 30-7 11-4 30-3 12 0 3-2 14 2 9 3 4 3 3-1 4 2 8 1 3-2 12-1 7-9 6-13 5-27 3-6 3 6 3 13 5 65 6-19 6-4 12-4 11-1 4-2 4 1 3-2 8 0 8-5 3 1 27-2 7-2 4 1 7-4 8 1 4-3 3 4 4-5 4 2 4-1 7 2 4-1 11 2 4-4 7 1 4-4 4 11 20-3 3-4 3-13 5-26 5-52 5-111 5-35 2 12 12 229 3 26 5 6 3 2 8 0 11-4 10-6 5-7 11-8 19 0 4 0 11 3 7-1 8-19 14-46 4-6 3 9 12 71 4 10 3-8 7-51 4-12 2 5 6 37 1 1 2-4 8-29 5 25 5-26 2 2 2 5 7 31 3 3 4-2 11-19 4-2 4-10 3-4 8-20 3-4 4-2 1 1 4 18"/><path class="c10" d="M215 2648l11 83 3 11 2-2 1-6 4-46 4-16 3-5 5 7 4 11 11 20 4 0 4 6 4 12 4 6 8 23 2 2 4-14 6-42 7-33 3-7 3 0 4-6 8 1 11-2 7 1 4-4 4 2 4 0 3 1 8-2 19-7 3-4 4 2 4-3 7 7 4 1 8 5 3-1 4 5 4 1 7-1 4-1 4-3 7-2 8-6 4-1 4-3 3-6 8-5 4-7 7-5 4-1 4 0 2-2 1 12 1-13 7 1 4-1 7 2 11-2 12 2 7 0 20-8 14-3 4-2 7 0 8-2 7 2 8-3 19 5 18 1 11-3 7-7 7-12 5-22 3-5 3 7 3 14 5 72 5-26 3-6 20-6 7 0 4-2 11-2 12-5 7 0 15-4 11-1 12-4 3 2 4-1 8 0 3-4 4 1 4-2 4 2 3 0 4 3 4-1 7 3 4-6 8 4 6-1 4 2 5 6 15-1 4-6 5-17 5-27 4-42 4-92 5-45 2 11 7 143 6 81 2 13 5 5 7 1 4-1 4 2 3-2 10-1 5-2 4-4 8-6 7-2 4 0 4-1 29-3 6-16 16-56 4-8 2 3 2 9 5 37 8 39 3 5 9-56 4-10 2 5 6 37 2 1 1-2 7-26 2 3 4 22 5-27 7 17 3 20 2 1 2-2 4-2 4-4 3-13 4 1 4-10 5-7 10-26 6-4 2 1 4 15"/><path class="c11" d="M215 2706l11 69 4 11 6-73 4-16 4-8 2-1 2 1 8 11 7 8 4 2 2 3 11 25 6 28 2 3 3-3 2-8 11-50 4-9 8 0 4 2 10 1 5 5 4 0 7-3 4 2 4-2 7-1 7-3 15-3 13-21 6-7 4-8 4-3 11-20 4-1 7-8 8-3 7 1 4-4 4 5 8-2 3 4 15-2 4 1 4-2 4 3 2-4 1 7 1-7 3 1 30-10 4 0 7-4 19-8 8-1 3 1 4-2 8 2 3-1 4 1 4-2 4 2 11-1 8 1 15-1 7 2 22-4 7-9 7-12 6-25 2-4 3 5 3 13 5 67 7-26 3-2 6-1 12-5 7 2 4-2 7-1 12 3 19-3 7 2 4-3 15-3 4 2 3-6 4 3 8-4 3-5 4 5 4-2 4 3 3-4 4 5 8-5 15 3 3-4 3 0 4 4 1 8 1-6 6 0 4-2 9 1 3-4 5-20 5-27 4-39 4-85 5-38 2 13 12 217 3 24 3 3 4 3 9 1 16-4 5-5 9-14 7-7 8-3 4 1 3-2 15 1 4-2 4 2 2 0 5-9 9-20 9-15 4-3 3 6 9 47 7 21 3-7 10-53 1 0 2 5 7 31 3-7 6-25 1-1 1 2 4 22 5-25 3 3 6 26 3 6 2 1 4-7 4-1 7-17 4 0 4-9 3-3 4-12 9-16 2-1 1 2 4 22"/><path class="c12" d="M215 2573l13 106 2 8 6-49 6-15 2-2 2 3 5 17 5 5 7 13 8 8 12 28 5 6 5-10 8-43 8-22 3 0 4 2 4-3 4-1 7 3 15 0 11 4 4 0 4 3 7-1 4 2 8-4 3-1 4-6 4-1 11-12 4-7 7-3 4 0 8-8 3 3 4-1 4 1 4-1 3 4 12 2 15 10 7 10 12 2 2-2 1-24 1 24 3 1 9-5 17-16 19-9 15-3 4 1 4-1 3 1 12-1 7 4 4-2 8 2 18-1 4 4 11 1 26-3 6-8 8-17 5-33 3-9 3 8 3 17 5 62 6-14 14-7 11 0 4-2 4 3 4-3 22-1 12 1 15-3 7 1 11-2 4-2 4 1 6-1 5 2 4-2 4 0 7 3 4-1 4-7 3 8 4-2 4 3 7-5 5 2 2 2 1 10 1-9 10 2 9-3 4-10 5-19 7-63 5-109 5-38 2 12 12 227 3 26 3 3 13 3 11-3 9-5 10-11 7-6 8 2 7-2 8 2 4-2 7 2 7-2 4-10 12-40 6-31 4-9 3 10 10 69 3 12 3 6 3-3 2-7 5-42 3-11 1 0 2 6 6 39 2 1 1-2 8-26 5 28 5-28 3 5 5 20 6 17 4-3 7-14 4-4 11-23 4-12 4-4 5-11 2-2 1 2 4 18"/><path class="c13" d="M215 2635l15 105 6-56 4-14 2-4 2-1 4 17 8 18 4 3 3 9 4 4 8 14 6 19 6 28 3 2 3-7 12-54 3-7 8 3 4 5 4 0 7 4 4-4 4-1 7-8 8-13 18-25 19-18 8-9 13-23 5-6 4-9 8-1 3-2 8 0 4-4 7 8 4-1 4 1 4 3 3 0 4 6 23 6 2-1 1-19 1 18 7 0 4-2 3 2 12-4 26-5 4-4 7 0 4-3 7 1 8-2 30 1 8-2 3 2 4-1 4 1 19 0 3 1 13-5 6-8 6-11 5-24 3-6 3 6 3 13 5 64 6-23 5-6 5-1 4-2 26-5 12-4 7-1 12-4 3 2 4-1 4 0 4-1 7 0 11 2 8 5 4-5 11 5 11-2 4 2 4-4 3 4 8-7 11 6 3 4 1 4 1-2 14-3 4 0 4-7 5-14 6-35 3-33 4-92 5-46 1 0 1 10 12 214 2 19 1 5 2 1 3 2 6 1 20-2 4 2 18-15 12-1 3 1 8-3 7 2 4-1 4 1 2-1 5-9 16-41 6-12 4 11 9 57 4 13 2 2 3-6 8-50 3-6 2 4 6 35 2 0 1-2 8-29 2 3 3 23 5-29 3 6 6 21 5 11 6-4 9-18 4-2 4-11 7-12 4-9 7-9 0-1 1 1 4 20"/><path class="c0" d="M215 2705l8 53 7 28 6-76 4-14 3-6 4 3 13 20 3 2 12 17 5 12 6 25 2 3 2-2 3-9 6-42 7-30 3-6 5-4 10-1 11 1 4 5 7 0 8 4 7-1 4 3 2 0 9-7 4 0 8-9 3-2 4 0 7-9 4 2 8-5 7-2 8-8 3 0 8-3 7-2 12-7 4 0 11-8 4 0 7-8 4 2 4-2 2 1 1-3 1 3 4-3 7 0 3-2 8-1 4-2 11 0 4-2 7-1 11-6 4 1 4-2 4 0 7-3 4 1 4-2 11-1 23 0 3 2 8 0 15 7 11-1 4-3 6-2 5-6 7-13 4-20 3-6 3 5 3 13 5 65 6-27 3-4 11-5 8-1 7-2 4 2 7-1 12 0 4-2 3 2 4-2 11 2 28-7 6 1 4-5 4 3 3-3 4 1 4-2 4 2 3-3 12 2 3-5 4 2 4-1 4 3 3-3 4 2 3-1 1 8 1-6 4 3 10-1 5-2 3-4 5-18 3-15 5-40 5-99 5-36 2 14 11 207 3 31 1 5 2 2 6 4 7 1 8-2 9-4 5-5 13-21 7-3 8 0 3-2 8-2 16 4 6-7 8-19 8-11 7-7 10 41 5 28 3 6 4-10 7-47 3-8 2 3 5 29 2 9 7-30 3-6 5 30 5-28 5 8 6 20 3 3 4-1 4-5 3-1 8-14 11-13 5-9 5-5 1-1 1 1 4 20"/><path class="c1" d="M215 2663l11 74 2 9 2 3 6-62 5-24 3-5 7 9 5 2 4 9 3 1 4 4 4 9 9 17 7 23 3 2 3-13 5-34 7-27 4-10 11 0 4-2 3 2 4-1 4 2 11-1 8-3 3 0 8-3 4 1 3-4 4 1 11-9 4 1 6-3 2 0 3 3 23 3 4 3 7-4 4 2 4-2 7-1 4-4 8 1 3-3 4 2 8-3 3-3 8 2 4-3 2 1 1-17 1 16 11-3 7-1 23-9 3 0 4-3 4 1 4-3 11-4 4 1 18-5 12 0 4-2 37 4 8-3 7-1 4 1 7-6 8-15 3-8 5-31 2-5 2 3 4 21 5 63 6-15 3-3 11-3 4-2 4 2 3-2 19-1 8 2 4-3 3 1 4-1 8 1 18-3 12 1 7-3 4 2 4-3 11 3 4-1 3 3 4-3 8-1 11 0 11 2 6 6 17-3 4-4 4-14 6-32 4-41 4-90 5-44 2 12 11 202 3 32 2 8 4 0 3 3 19-2 10-7 9-11 6-5 9 0 7-2 15 1 4 2 6-1 5-7 17-46 3-6 2-1 3 8 13 68 3 5 4-11 7-48 3-9 2 4 4 25 2 10 2 0 1-2 8-28 5 25 5-28 3 4 4 16 7 17 4-3 4-7 3-1 4-12 4-8 4-5 12-29 6-6 1 0 4 16"/><path class="c2" d="M215 2650l14 93 1 2 1-2 1-7 4-47 5-21 3-4 3 2 16 31 4 1 4 10 4 1 13 42 2-1 3-8 6-43 6-23 4-7 7-3 8-1 3 3 4-1 4 3 7-4 12-3 3 1 8-4 7 0 4-2 8-7 8-3 7 0 3 2 8 1 7 5 8-2 4 1 3-4 4 1 19-5 8-8 3 1 4-5 8 2 3-4 4 1 4-4 4-2 2 2 1 10 1-11 3-2 8 0 18-4 4 1 4-2 4 1 11-4 16-8 40-9 12 0 3 2 4 0 4 1 7-1 8 3 15-2 8-7 9-14 6-26 2-4 2 3 4 16 5 66 6-25 3-4 4-3 3 0 8-2 7 0 4-2 11-2 8 0 8-2 7 0 4-3 4 3 7-3 11 0 4-1 4 1 4-2 3 0 4-3 4 4 4-2 3 4 4-2 4 2 7-2 4 2 8-4 7 2 4-5 4 5 3 1 4-4 3 4 1 4 4 4 3-2 8 0 6-4 3-7 5-15 3-16 4-32 6-118 3-31 1-5 1 0 12 205 3 32 2 6 9 3 21 0 9-3 12-8 13-2 3-2 15 1 11-3 4-9 17-59 5-10 3 9 13 78 3 5 3-6 7-41 3-8 1-1 2 5 6 36 2 1 1-1 8-26 5 25 5-22 5 7 5 21 3 4 5-2 4 1 11-25 11-17 4-10 4-2 3-7 5 22"/><path class="c3" d="M215 2575l13 101 2 6 5-48 4-9 5-8 3 4 5 14 4 4 4-3 3 8 15 18 8 16 2 1 5-2 4-19 4-9 5-18 3-4 11 5 7-2 8 5 4-3 11 6 4-1 3 4 15 4 12-4 7-5 4-5 7-5 4-5 4-2 4 1 7-7 8-4 15-1 3 3 16-3 3 2 12-3 3 2 4-2 10 0 1-5 1 5 11 0 3-2 8-1 11-5 23-3 3-3 4 1 4-2 41 9 22-2 5 1 7-3 11-1 13-5 6-10 7-18 4-30 3-10 3 8 3 17 5 61 6-13 3-2 7-2 23-1 4-2 3 2 8-2 4 1 11-2 8 2 3-1 8 0 4-2 3 2 4-1 8 1 3 3 4-2 4 3 4-1 3-2 4 2 4-3 7 7 4-7 8 2 3-4 4 3 4-4 4 3 3-5 7 7 1 9 1-8 6-3 12-1 2-2 3-10 5-21 7-67 5-111 5-36 2 13 12 228 2 22 1 6 2 3 10 4 4 0 7-3 15-9 4-5 11-8 8 0 11 3 8-1 3 2 10-1 5-9 18-66 3-7 2 2 2 8 10 67 5 19 2 2 12-61 1-1 2 6 7 46 7-27 3-5 4 22 2 1 4-18 2-2 9 26 7 2 7-17 4-5 4-11 4-2 11-33 7-10 5 16"/><path class="c4" d="M215 2692l12 78 3 11 6-68 6-16 3-3 3 11 8 11 7 19 4 1 13 27 6 52 2 6 5-14 10-65 5-16 4-3 12 4 3 5 4 0 4-5 4-1 15-18 11-17 7-7 8-11 7-6 4 0 4-6 4-1 7-8 4-1 19-15 11-1 7-3 4 3 4-3 11 2 8-1 4 2 3-2 8 1 6-3 1-10 1 10 3 0 23-7 22-9 11-6 12-3 11-1 19 2 11-2 8 2 7-1 4-2 7 3 8-1 4 0 3-2 4 1 9-5 7-8 5-9 6-25 2-2 3 6 3 14 5 71 7-31 2-1 15-4 7-4 12 0 7-3 4 1 26-5 4 1 15-4 4 1 4-3 3 4 8-7 7 6 4-6 4 2 7 0 4 2 8-3 3 3 4-7 4 4 4-3 6 2 5 8 2 1 17-4 4-7 4-10 6-31 4-42 5-102 4-34 2 11 12 212 3 23 5 6 26 2 7-1 15-14 8-1 4-1 3 1 12-2 13 3 3-3 11-25 7-7 6-3 2 2 3 7 6 27 5 29 3 6 3-6 7-40 3-8 2 2 6 24 2 3 10-29 5 34 5-35 3 2 7 25 4 4 11-8 15-24 8-18 4 2 3-7 5 26"/><path class="c5" d="M215 2704l11 67 3 9 1 1 1-4 5-67 9-22 11 11 11 18 4 2 9 21 6 29 2 3 5-10 8-40 7-18 8-1 8 6 3-1 4 1 8-2 11-10 4-2 7-9 4 0 7-10 8-5 7-8 4 2 4-8 4-4 3-2 8-7 4-1 7-6 11-7 4 1 4-3 4 2 3-1 27-7 7 1 8-6 4 2 2-2 1-4 1 5 3 1 4-2 7 0 19 4 4-2 4 1 5 0 21-9 11 0 8-2 7 1 4-1 8-1 3-2 12 3 3-1 4 1 26 1 15-7 10-16 5-21 3-5 3 6 3 11 5 68 6-29 10-8 8-4 4 2 3-2 4 1 11-4 19 1 23-4 4 1 7-2 8 0 11-7 4 3 7 1 4-3 4 6 3-4 4-2 4 2 4-1 3 1 4 3 4-7 4-1 9 6 2 5 1-2 2 1 12-1 5-2 3-6 5-14 3-13 5-37 5-95 5-38 2 12 10 186 3 35 3 14 11 6 15-4 8-3 13-22 9-7 19-3 11 0 4 1 3-1 12-28 9-18 4-5 3 3 3 10 10 56 3 9 3-3 2-6 6-36 4-9 2 3 7 33 8-32 2-3 5 27 4-22 2-3 3 6 6 25 2 3 10-2 3-10 4-1 4-6 4-2 3-5 4-11 8-7 3-5 2 4 3 18"/><path class="c6" d="M215 2563l14 110 1 2 1-3 4-42 6-11 2 0 11 28 9 10 8 15 7 10 4 15 6 11 2 0 3-6 8-37 7-18 1 0 3 3 8 1 7 4 4-2 4-1 22-32 4-2 8-9 7-1 4-5 4-1 3 1 7-3 8 1 4 2 4-2 11 10 4 1 4 4 3 1 4-2 8 3 22-1 4-2 4 0 4 2 15-1 4-3 11 2 7-2 8 4 3-2 8 1 7-2 8 1 4-3 15-6 7 2 23-2 11 1 8-2 7 1 4-2 11 0 11-5 4 1 8-3 3-3 11-22 4-27 3-9 3 6 3 14 5 61 6-16 7-6 11-2 4 1 3-2 8 2 4-3 3-1 4 3 34 0 4-1 15-2 4-2 3 1 4-3 4 3 4-5 7 3 4-2 4 2 11 0 4-3 3 7 4-7 4 4 4 1 3-2 4 0 3 5 1 8 1-4 3 1 11-1 6-3 2-4 6-21 3-19 4-40 5-112 5-44 1 0 1 10 13 229 2 13 5 4 7 1 4 2 4-2 15-4 11-8 7-3 23 3 18-2 6-15 10-32 7-31 3-5 3 10 12 81 1 5 2 1 4-8 7-44 4-11 2 5 7 42 10-28 5 27 5-27 5 12 5 23 2 3 13-16 4-14 11-20 8-21 6-10 1-2 1 2 4 17"/><path class="c7" d="M215 2703l3 17 5 36 6 26 1 0 1-2 1-8 4-58 4-15 3-4 4 4 13 22 11 12 4 10 5 9 6 25 2 3 2-2 3-14 12-69 2-7 5-10 4-1 4-3 7-3 8 3 11 1 4 2 4-2 8 2 10-1 12-10 3 0 8-8 11-5 4-6 4 1 3-4 12-1 3-6 4 1 4-1 4-4 3 0 4 2 12-7 15-3 3-5 12 5 2-5 1-7 1 6 11-2 18 2 21-4 21-8 7 2 8 1 3-1 4 1 4-1 8 2 3-2 8 1 11 0 4 2 11-2 11 0 12-3 6-9 7-11 5-20 3-6 3 5 3 12 5 65 7-30 7-6 14-4 7-1 8-2 11-1 8 1 3-2 27-2 11-2 4-3 7 0 4 3 4-5 3 2 4-2 4 1 5-1 6 3 8-7 3 7 4-4 8 3 3-1 4 2 3 5 1 15 1-11 3 1 3-2 5 2 11-6 7-23 6-39 5-92 5-42 2 12 7 140 6 76 2 12 6 6 6 2 8-2 3-3 4 0 7-5 13-20 6-8 4 0 8-4 3 1 4-1 22 1 13-28 8-13 4-3 3 2 3 9 11 54 3 7 4-10 9-49 1-1 2 4 5 25 2 7 3-6 7-27 5 26 5-27 3 6 6 22 2 3 2 1 5-2 11-15 15-36 11-19 5 23"/><path class="c8" d="M215 2707l11 71 4 11 6-77 4-15 4-8 3 1 5 8 4 1 4 8 3 0 4 8 4 3 8 19 7 30 3 5 3-4 2-9 7-32 4-13 2-3 13 2 7 6 4 0 4 2 11-14 4-2 7-8 4-6 4-2 4-6 3-2 12-12 26-12 4 1 3-3 8 0 7-4 4 1 8-4 3-4 8 2 4-3 7-2 4 0 4-3 4 2 15-7 2 0 1 10 1-11 7 1 11-2 4-4 11-1 4-2 4 1 22-12 8-2 7-4 23-5 4-3 18 1 4 3 19 3 11 0 4-2 4 0 3-3 8-11 8-29 2-2 3 7 3 14 5 70 6-32 4-4 10-4 26-3 8 0 4-2 4 2 11-3 4 1 7-2 11 1 4-2 15-2 4-1 7 1 4-6 4 5 4-3 3 5 8-7 4 3 3-2 4 1 4 4 4-8 7 3 4 10 2 2 9 0 9-4 3-3 7-23 3-14 3-21 5-93 5-44 2 10 7 135 6 75 2 12 8 6 12-2 3 1 14-3 13-18 7-7 36-1 3-4 12-25 6-8 6-4 2 2 3 8 12 56 3 5 12-53 2 2 5 18 2 6 3-1 2-3 5-21 2 3 4 30 5-30 3 1 6 19 3 6 12-11 9-21 4-3 3-14 4-6 4-16 4-1 3-4 5 20"/><path class="c9" d="M215 2605l15 101 2-7 5-50 4-14 3-4 4 14 15 19 12 20 3 11 4 6 4 17 2 2 5-8 8-36 7-15 12 7 7 0 4 2 8-6 7-9 9-17 15-19 9-7 5 0 3-2 8-6 11-1 8-2 3 1 4-2 4 3 4-2 3 1 12-2 3 5 4-3 8 1 4 2 7 0 4 3 4-2 3 5 4-2 4 2 4-3 2-1 1-16 1 17 3 1 8-2 3 1 4-2 4 2 7-1 8 1 4-2 7 0 8-4 26-5 7-2 16 1 3-2 15 0 8 3 7 1 4-2 4 2 4-2 3 0 4-2 4 1 7-6 10-20 5-32 3-8 3 8 3 17 5 62 6-14 7-4 15-1 3-3 8 1 11-4 4 1 8-2 7-3 11 1 12-3 7 1 5-2 10 1 8-1 7 2 4-2 4 4 3-5 4 3 11-2 8 5 4-3 3 2 4 1 2 1 2 10 1-6 2 1 8-2 5 0 5-2 3-9 5-18 7-57 5-107 5-40 2 11 11 208 3 34 2 6 11 5 15-6 8-5 7-10 11-10 8 2 7-1 4 2 8-1 3 2 11-1 8-18 14-50 3-5 3 5 7 43 7 38 2 3 3-4 2-7 6-42 3-11 1 0 2 5 7 37 3-7 5-26 2-2 5 31 5-24 2 0 9 32 3 4 5-6 6-13 4-4 6-14 5-9 4-16 9-13 2-3 1 2 4 16"/><path class="c10" d="M215 2682l12 78 3 9 6-67 4-14 4-6 3 3 13 26 3-1 4 11 4 2 9 20 6 22 2 2 2-2 3-14 6-40 8-40 2-5 3-1 8-6 7-1 8 2 4 3 3 0 8 8 4-1 7 7 4-1 11 0 15-12 19-9 4 0 3-3 4 1 4-1 15-7 4-4 3 2 19-9 4 0 8-4 3-5 8 0 6-3 1-4 1 4 7 1 7-3 4 1 8-4 7-1 4-3 4 1 7-2 4-3 15-4 7-1 15 3 23-2 11 1 19-4 4 1 7-2 4-4 9-2 8-13 5-11 5-28 2-4 3 7 3 15 5 65 6-18 10-5 27-4 7 0 4 2 8-1 15 1 11-3 4 1 7-2 11 0 12-7 7 4 4-4 4 6 3-4 4 4 4-5 7-1 8 4 11-2 6 9 2 0 3-3 4 1 9-3 3-5 5-15 6-36 7-124 5-46 2 11 11 201 3 32 2 6 7 4 26-2 4-2 12-11 7-2 4-2 4 1 7-2 21 4 5-6 4-12 8-12 5-6 5-2 2 2 3 8 11 53 3 6 3-6 8-47 3-8 2 2 5 23 2 4 2-3 8-29 5 23 5-26 3 5 7 28 3 3 5-5 11-8 8-10 11-23 7-8 5 23"/><path class="c11" d="M215 2688l11 73 3 11 1 1 1-3 1-8 4-55 4-16 3-5 5 5 4 11 8 7 3 9 8 8 9 23 6 28 1 3 2 2 4-7 6-28 8-28 2-1 3 5 4-1 15 7 8-5 15-21 3-7 30-34 4-1 4 2 7-6 4 1 4-2 16-1 3-1 3-3 4 1 4-3 4 0 11-8 4 0 11-12 8-1 3-4 12-6 3 0 4 1 8-2 15 3 11 0 4-2 3 1 6-1 17-8 15 0 11-1 4 1 4-1 22 1 8-1 4 1 18-1 4-3 5 0 7-6 9-15 7-24 3 2 4 15 5 70 6-30 2-3 8-5 4 1 15-6 4 1 11-3 4 1 11-4 4 2 8-3 15-2 11-1 11-4 4 5 4-4 3 4 4 1 4-1 7-4 4-1 8 3 3-2 8 5 4-3 3 0 4-3 4 10 19-1 4-6 5-16 6-33 7-118 5-45 2 11 11 196 3 30 2 5 7 5 4-1 4 1 7-4 4 0 4-2 18-20 4-4 4 1 8-3 20 3 10-1 21-61 4-6 3 8 6 39 5 28 5 14 3-6 7-39 4-10 3 8 6 34 10-32 5 27 5-26 3 4 6 23 4 7 4-1 4-3 8-10 4-7 7-7 4-6 4-13 4 1 3-5 5 23"/><path class="c12" d="M215 2604l8 51 5 39 2 6 5-46 5-23 3-8 1-1 3 4 5 15 11 7 4 4 19 43 3 3 4-6 5-29 7-23 2-3 5 0 12 4 3 3 4-1 4 2 4-2 3 2 4-3 4 0 4 0 3 2 4-2 4 0 4-3 3 1 4-3 4-1 7-5 12-6 3-5 12-5 7-5 4 1 11-3 7 2 4-2 4 0 8-4 4 0 11-3 11-1 4-3 4 1 2-3 1-25 1 26 3 2 11-2 12 2 7-2 11 0 23-4 19 7 7 6 8 1 7 4 4-2 8 1 15-2 3 1 4-2 11-1 13-7 3-3 9-15 8-36 3 5 3 13 5 60 6-17 7-6 18-4 12 0 15-3 22-2 12-2 3 1 19-5 4 2 4-6 3-1 8 2 4-5 3 7 4-2 8 1 3 2 4-2 4 2 11 0 3 6 1 8 1-4 10 2 9-1 3-6 5-14 5-31 4-43 4-94 5-44 2 10 12 216 3 24 4 3 4 1 4 3 8-4 3-1 9-5 19-19 10-1 4-2 7 4 15 3 4 2 2-1 5-8 17-51 5-8 3 9 6 40 6 30 4 10 3-7 10-64 2 3 2 8 6 33 8-32 2-3 5 32 5-31 3 4 7 31 3 3 5-4 4-1 7-21 4-7 4-3 9-26 9-17 5 17"/><path class="c13" d="M215 2678l7 56 6 24 2 3 6-66 5-25 4-9 7 10 11 5 4 8 4 1 4 13 3 6 9 32 3 3 3-5 6-30 4-9 4-5 5 1 4 6 11 6 8-1 7-2 4-3 4 0 7-7 8-3 4 1 22-22 8-2 22-17 4 2 7-7 8-2 4-2 3 1 12-6 7 1 12-4 7 1 4-3 4 1 2-2 1-5 1 4 11-1 30-8 3 0 23-10 7-1 4-3 8-1 3-3 22-2 16 3 10 5 9 1 4 2 7-2 8-1 7-8 6-11 5-22 3-5 3 6 3 13 5 67 6-29 2-2 8-5 15-2 4-3 4 1 4-2 7 0 8-4 34-5 15 1 3 2 4-1 8 0 3-3 4 5 4-1 4 2 3-5 4-1 8 1 7 3 8-5 3 0 5 2 5 8 5 1 8-2 6-3 4-10 4-12 4-22 4-36 4-86 5-45 2 11 12 206 3 23 3 3 9 4 11-2 4-2 7 0 19-22 8 1 7-4 4 3 6-2 15 0 5-6 17-44 5-7 3 6 12 63 4 10 3-7 10-57 2 2 6 34 2 5 9-32 1 0 1 2 4 21 4-22 1-2 1 0 9 30 3 4 5 0 7-13 8-6 4-6 3-11 4-2 8-18 2-1 1-1 1 3 4 23"/><path class="c0" d="M215 2598l15 99 6-55 4-15 4-9 1 0 2 4 5 18 8-1 3 8 4 1 8 11 3 10 4 2 6 8 2 1 3-9 5-23 5-15 5-10 4-2 4 1 4-1 7 2 12-1 3 2 4 0 4 3 7 2 4 5 8 5 5 1 11-4 6-4 4-6 4-1 15-18 7-6 4 1 4-6 7 1 4-1 11 3 4 1 8-2 7 3 4-3 7 3 4-3 4 2 6 0 1-15 1 15 7-3 4 4 3-3 15-1 4-3 8 0 7-2 4 0 7-3 4 1 4-1 11 2 4-1 15 3 4-1 11 2 4-2 4 1 3 0 15 3 4-1 11 0 4-4 9-2 4-6 8-19 5-31 3-8 3 9 3 18 5 66 2-2 4-11 3-2 4 0 3-2 8 2 4-3 11-2 4 1 3-2 4 0 4-3 4 1 11-4 8 1 18-5 4 3 4-4 4-2 15 3 3-7 12 5 3 4 4-5 4 3 4-5 3 7 4-5 4 1 7-2 7 4 1 8 1-6 14 1 5-1 3-3 1-7 7-33 5-51 5-112 5-37 2 11 11 212 3 36 2 7 4 2 7 1 10-2 12-9 19-22 12 1 7 5 8 2 7 3 7-1 4-8 18-60 4-7 3 9 6 44 7 37 3 7 2-3 2-9 6-46 4-12 2 5 5 31 2 11 10-35 5 28 5-25 2 0 8 33 2 3 2-1 4 2 7-10 4-12 4 1 15-34 6-7 1-2 1 2 4 19"/><path class="c1" d="M215 2642l12 83 3 11 6-62 5-26 2-3 4 3 5 12 8 4 3 8 12 15 5 14 7 22 2 3 2 0 2-3 6-33 7-21 3-3 3 6 4 2 8 2 7 4 4-3 4 3 11 1 4-3 3 2 12-4 3-3 4 1 11-9 4-1 8-5 7 0 8-4 7 0 8-4 3 1 4-4 4 2 15-10 8-2 3-5 4 1 8-6 14-5 3 1 1-5 1 5 3-3 19 1 19-2 7-2 19-8 30-9 20 0 18 2 3 3 4-2 4 3 13-2 7-3 9-12 4-8 4-22 3-5 3 4 3 11 5 61 6-22 3-4 7-5 4-1 4 1 11-4 8 1 3-2 4 1 8-1 15 2 7-3 4 2 19-3 4 3 3-6 8 1 4-3 7 1 11 4 4-2 4 2 7-3 8 4 4-3 3 3 4-1 3 4 1 6 1-2 2 1 7 0 5-2 4 1 4-8 5-14 6-33 3-32 4-91 5-47 2 10 12 208 3 24 4 4 8 2 19-3 19-15 3-1 4 1 4-2 4 1 3-2 4 1 8-1 3 1 4-2 4 2 2-1 7-16 17-55 3-4 4 12 8 57 6 19 3-2 2-6 4-37 6-18 2 2 7 40 2-3 5-19 3-7 5 24 4-23 2-4 2 3 6 32 3 5 2-2 4 1 4-8 3 0 4-8 15-22 8-16 3-4 5 23"/><path class="c2" d="M215 2646l12 82 3 10 6-60 5-23 3-7 3 3 6 14 3 3 4 1 2 2 12 17 7 19 5 17 3 2 4-6 6-36 4-14 5-11 8 2 8 3 3 0 12 3 3 0 4 5 4-1 4 3 3-3 4 4 8-1 7-5 8-2 18-14 19-7 8-5 3 0 8-4 4 0 7-4 4 3 4-4 4-1 7 0 4 1 4-4 7 0 4-3 4 0 2-1 1 1 1-1 3 1 8-3 3 0 8-2 4 1 3-2 12-1 7-4 4 0 4-2 22-11 4-1 7-6 12-4 4 0 3 1 4-3 8 0 3 1 8 5 10 3 5-2 4 2 7 0 4-3 4 1 1-2 9-14 4-11 5-31 2-3 3 7 3 16 5 63 6-15 3-3 4-1 3-3 4 1 23-4 7 1 4-2 15-1 4 1 4-2 18 1 5-2 7 2 3-2 4 2 4 0 4-3 3 3 8 0 4 4 3-6 4 3 8-1 3 1 8-1 4-2 8 5 6 9 4 1 12-4 3-2 4-10 8-36 3-29 5-99 3-29 2-6 12 200 3 30 2 6 7 3 4-1 4 1 11-7 11-12 8-11 10-7 20 1 11 4 4 3 2-1 5-5 9-19 10-16 3 1 5 12 10 51 4 9 3-9 9-53 2-3 2 4 4 20 2 7 3-4 5-22 3-7 5 29 5-31 7 16 4 19 4 4 7 1 15-24 3-3 4-9 8-4 3-6 5 24"/><path class="c3" d="M215 2592l15 114 6-53 5-21 2-2 2 2 6 23 20 38 4 3 12 30 6-16 8-49 6-23 2-6 3-1 4 1 11-3 8 2 4 2 7 0 4 2 11 13 9 4 10 1 11-7 8-9 3 0 4-6 23-14 7 1 4-3 11 0 4 3 11-1 5 3 18 1 4-2 2 1 1-16 1 16 7-1 4-1 11-1 26-6 4-4 4 1 3-3 8-1 11-6 4 1 7-3 4 0 4-3 23-1 15 4 3 2 4-1 8 1 3-3 4 2 4-3 5-1 8-13 5-13 4-27 3-8 2 4 4 20 5 63 6-15 14-5 4 1 7-3 12 0 3-2 19 0 4-1 15-1 4-2 15 0 4-3 7 1 4 2 4-5 3 3 4-2 15 4 4-5 7 5 4-3 8-3 3 4 4-4 3 1 1 6 1-5 6 2 12-2 3-3 4-14 5-28 5-51 5-109 5-35 2 14 7 155 6 87 2 14 6 8 10 2 4-2 3 0 8-3 7-5 11-11 4-1 4-2 26-2 4 2 7-3 5-11 11-32 6-26 4-7 4 13 10 64 3 11 2 1 3-8 10-57 2 2 7 39 2 1 2-4 7-27 5 27 5-29 3 5 4 17 4 14 2 3 2 0 3-1 4-4 7-19 11-19 4-13 8-17 3 0 1 1 4 15"/><path class="c4" d="M215 2763l12 59 3 8 6-81 3-12 4-10 5-3 4 6 4 1 4 6 3 1 12 15 6 25 6 85 1 6 2 3 3-11 6-63 6-43 3-13 1-1 4 2 7 4 4 0 6 4 3-1 6-7 3-2 8-10 11-16 8-14 11-13 4-8 3 1 4-5 4 0 4-5 3 0 5-5 3 0 4 4 13-2 5-3 4-4 4 0 15-11 4 2 4-6 3 1 4-4 4-1 7 1 8-6 4 4 2-3 1 2 1-4 11-3 18 0 12-2 18-9 8-6 4 0 15-4 3-3 4 0 12-4 11-2 4 2 22 2 4 2 4-2 3 1 12-4 5-6 8-12 5-21 3-5 2 3 4 17 5 68 6-29 7-7 15-5 7 1 4-2 19-3 4 1 3-2 15-1 4 1 8-2 11-1 7 2 4-3 4 2 4 1 7-6 4 1 4 4 3-3 4 2 4-2 4 5 7-5 4 3 4-2 6 1 4 3 1 3 3 2 4-2 8 0 6-4 2-5 6-16 4-18 4-32 5-90 4-30 2 12 7 138 6 74 2 12 8 7 8 1 7-2 9-4 5-8 14-22 3-4 14-1 4-2 4 1 7 0 4 2 8-2 12-23 7-11 5-5 3 2 3 9 11 56 3 7 2-2 2-6 4-29 5-15 2 1 8 23 2-2 5-16 3-5 5 31 6-32 2 0 1 2 6 23 2 1 2-1 4 3 4-8 3 0 12-14 12-22 6-7 0-1 1 2 4 20"/><path class="c5" d="M215 2663l12 80 3 10 6-64 6-26 3-5 3 4 8 14 4 3 15 20 6 17 5 21 3 4 4-2 0-2 6-35 6-16 3-4 8 2 4 5 9 3 6-1 4-3 3 2 4-8 4-1 4-5 11-6 7-6 4-6 11-6 4-5 4 1 4-3 11-2 11-5 8-1 3 1 8-5 4 3 3-4 4 2 4 0 4-3 4 1 11-4 4 2 3-5 12 2 2-4 1-12 1 11 7 2 4-2 3 0 19-3 4-2 4 1 7-2 15-7 19-1 7 1 25 0 21-5 3-3 12-1 16-7 4-7 9-19 4-26 3-7 3 8 3 17 5 65 6-16 10-4 4 1 15-3 42-12 11 1 4-2 3 2 8-3 7 0 8-2 4 3 7 2 4-6 4 5 3 0 4-5 4 3 7-1 4 6 4-4 7 4 4-1 3 2 1 9 1-6 10 2 4-2 4 0 4-7 5-14 5-28 4-44 5-108 3-27 2-6 12 210 3 33 2 7 4 2 11 1 15-4 4 1 18-12 8 2 19-2 11 2 2 0 5-11 12-32 5-20 3-7 2-1 4 12 10 61 5 14 2-3 2-9 6-45 4-11 2 5 6 31 2 0 2-4 5-23 2-3 5 34 4-30 1-3 2 0 8 38 3 4 5-6 4 0 3-5 4-2 4-7 7-7 4-9 4 0 6-9 1 0 1 1 4 19"/><path class="c6" d="M215 2625l14 95 2-1 1-6 6-55 3-13 3-4 8 18 4 3 19 30 6 17 6 21 3 4 4-12 7-32 7-12 4 4 12 6 3 4 15-4 8-8 15-9 15-15 7-2 8-7 11-7 11-3 8-5 4 2 3-5 4 3 19-5 8 0 3-2 12-2 11-3 6 0 1-2 1 3 11-1 3 1 8-3 15 2 7-1 19-7 4-4 11 0 19-6 4 2 4-1 18-1 15 1 4-2 4 1 4-2 7 0 4-2 4-1 4-5 9-19 8-36 2 3 4 19 5 63 6-17 7-4 3 0 4-2 4 1 4-3 7 0 11 0 12-2 4 3 3-3 12 2 7 0 15-4 11-2 4 0 4-3 4 2 3-7 8 7 4 1 11-5 7 1 4 4 4-6 4 1 7 3 7 9 8 0 4-2 4 1 4-4 5-18 5-26 4-36 4-85 5-41 2 13 12 213 3 21 6 6 2 1 8-2 4 1 11-7 11-16 4-8 7-8 12-2 3 1 8-1 4 1 3 2 8 2 3 0 4-6 10-19 10-11 3 2 3 7 11 51 2 6 2 3 4-11 6-41 4-15 2 0 6 33 1 0 2-5 7-28 1 0 1 2 4 22 5-28 3 3 8 30 3 3 7-6 4-8 4-4 11-21 8-21 3-3 4-3 1 1 4 18"/><path class="c7" d="M215 2644l11 83 3 13 1 1 1-2 4-44 6-23 3-2 12 30 19 30 6 19 5 23 2 3 2-1 3-6 10-48 5-14 12 3 7 4 12-2 15-28 26-39 4-1 7-7 8-2 3-3 8-2 7-5 8-2 7 2 4-3 4-1 4 2 7-2 12 6 30 3 2-2 1-9 1 8 7 0 15-6 15-9 11-3 4-4 9-2 17 1 19 6 8 1 3-1 8 2 7-2 8 1 4-2 3 1 12-4 3 1 13-6 7-9 5-10 6-29 3-5 5 18 5 60 6-20 4-3 6-3 4 0 4-2 19-3 11 3 8-1 11 2 4-2 3 2 15-2 4-2 4 0 4-2 3 1 4-1 4 2 4-2 3-5 4 3 11 1 4-5 8 6 3-2 8 3 4-5 9 8 4 6 3 1 6 1 4-2 4 0 4-8 6-15 6-32 6-96 5-41 2 10 7 142 6 73 2 11 8 9 12-2 8-7 9-12 13-26 5-5 10-4 15 2 11 5 3 0 4-6 8-18 11-12 4 0 3 6 12 55 3 7 2-2 2-7 5-38 5-17 3 4 6 28 8-32 2-2 5 25 4-23 1-4 2 0 9 32 2 2 5 2 4-5 3-7 8-8 4 0 3-12 12-19 3-1 1 1 4 19"/><path class="c8" d="M215 2728l11 71 3 7 2-3 1-8 4-58 5-18 2-3 2 1 2 2 5 13 15 15 9 14 3 10 2 12 5 88 2 16 3-5 2-14 6-72 5-39 4-17 1-1 7 3 4-2 4 5 7-1 4 1 7-7 9-14 6-7 12-19 3-4 4-2 9-10 10-6 4-4 10-5 8-2 4 3 8-3 11-8 4-1 3-5 12-8 4-3 3 0 8-8 4-1 7-5 4 3 6-6 1-3 1 2 3 1 8-1 11 2 7-1 8 2 7-1 12-3 7-6 34-3 8 2 3-2 8 1 7-1 4 1 8 1 22-3 9-3 7-8 6-11 4-19 3-5 3 6 3 14 5 69 6-32 2-3 8-7 15-3 4-3 8 0 7-2 4 0 11-3 4 1 8-3 30-2 3-1 4 1 4-2 4 5 11-6 4 2 3-2 4 3 4-5 7 4 8 1 7-1 3 0 4 12 1 9 1-2 3 2 11-6 8-9 5-13 6-23 3-24 4-73 5-40 2 9 8 141 5 55 2 11 8 8 4-3 4 3 11-6 4 0 19-30 7-5 19-4 4 1 3-2 4 3 6-1 5-9 7-17 9-16 6-9 3 6 14 67 3 5 12-59 1-1 2 5 5 26 2 5 2-2 7-24 2 3 4 21 5-25 4 6 6 22 2 2 2 0 4 2 21-24 13-21 3-4 5 26"/><path class="c9" d="M215 2709l11 68 2 7 2 2 2-11 4-61 4-16 3-6 3 1 10 13 4 0 3 6 5 4 10 19 7 28 3 6 3-3 2-7 6-37 6-24 4-8 3 2 4-2 8 1 3 3 8-1 4 3 3-2 8 3 11-4 8 2 7-6 4-5 7-4 4-6 4 0 7-9 8-7 4-5 4-4 11-5 3-3 12-4 3 1 4-1 4-3 4 1 7-3 4 2 11-1 4-4 4 2 15-5 11 4 4-1 11 3 13-1 10-3 7-5 4 0 4-3 22-8 23-1 4-1 7 1 8-2 3 2 12-2 3 1 8-4 4 1 11-15 8-27 2-2 3 5 3 14 5 68 6-31 2-3 8-6 8-2 4 1 3-2 4 0 4-2 15 0 4-2 4 1 11-2 11 0 4 0 4-3 11 1 7-2 8 2 7-4 4 4 4 1 4-4 11 2 4 0 3 1 4-1 7 1 7-3 4 8 1 7 1-4 3-1 3 1 14-6 5-11 5-20 5-31 5-94 5-46 1 0 1 9 11 187 3 30 2 5 11 4 11-1 4-2 4 1 8-6 11-14 2-2 20-4 4 1 4-2 7 4 5-1 6-8 9-19 9-10 3-2 3 2 3 6 10 48 4 10 4-7 6-36 4-11 2 2 7 31 3-7 7-28 5 24 5-21 3 0 7 29 3 3 5-3 4 1 3-7 4 0 11-14 8-12 4-1 3-5 2 5 3 16"/><path class="c10" d="M215 2753l3 12 5 29 4 13 2 1 2-6 5-81 6-24 3-7 3 3 8-3 7 6 8 5 9 26 7 29 2 3 2 0 2-3 8-37 6-12 5 3 8 7 11 4 11-2 4-3 23-5 11-6 4 0 11-12 7-13 5-12 3-2 4-6 7-6 4-5 4-3 11-4 11-5 4 1 4-5 7 3 15-9 8-1 4 2 2-1 1-4 1 2 3-2 8 2 3-2 8-1 4 1 7-4 4 0 4-2 7-1 18-7 8 0 4-1 11 3 8-2 11 3 8-2 4 2 15-3 3-3 4 2 4-4 11-4 11-6 10-18 6-28 2-3 2 4 4 19 5 65 7-22 9-4 8-1 4-2 3 1 9-2 6-3 4 0 15-6 4 1 15-3 8 1 7-2 11 1 4 3 4 1 4-3 3 4 7 1 5-6 3 3 4-2 4 5 4-5 3 0 4 3 4 4 4-2 3-6 5 6 3 12 1-4 3-1 7 2 6-2 4-3 5-12 4-13 4-21 3-28 4-85 5-48 1 0 1 9 11 187 3 29 2 6 11 3 11 0 14-5 16-14 12-1 3-2 13-1 12 0 5-9 18-53 4-5 4 12 10 60 5 16 1 1 1-4 8-45 4-9 2 4 5 28 2 7 3-6 5-24 2-2 5 32 5-30 3 5 4 18 7 13 4 0 4-5 3 0 8-12 4 1 3-9 4-3 7-12 4-5 5 23"/><path class="c11" d="M215 2724l3 15 8 47 4 12 6-77 4-14 3-6 2-2 11 22 7 5 4 9 4 1 9 23 7 31 6 9 1-4 11-55 4-10 13 8 13 2 7-4 12-13 7 0 19-14 4 0 3-3 4-1 4-2 11-13 19-15 7-10 12-8 15-5 7-5 4 3 4-3 15-3 4-2 2 0 1 2 1-2 11-4 3 1 15-2 8-3 10-2 5-1 4-4 11-4 4-3 7 0 8-2 3 1 12-3 11 0 4-1 4 2 11-3 4 2 3 0 4-2 4 2 7-3 8-1 11-9 7-13 4-19 3-6 2 2 4 15 5 66 6-31 2-4 8-7 15-4 8 0 4 1 19 0 7 2 11-2 4 1 20-5 3 0 3 3 8-4 4 1 7-6 4 5 11-3 8-1 3 4 4 1 8-3 3 4 3-1 2 2 2 6 1 13 1-6 3 4 11-8 6-6 4-9 6-16 5-26 5-84 5-39 2 10 7 127 6 70 2 11 8 7 7 0 17-7 5-7 13-24 7-5 4 1 7-4 8-1 4 1 15 0 13-28 6-7 6-4 1 0 2 5 9 42 7 22 3-6 6-33 5-14 2 1 7 34 3-5 6-26 2 4 4 27 5-33 5 10 5 20 2 2 5-1 5-4 7-11 8-5 3-9 4-4 4-11 7-7 1 3 4 24"/><path class="c12" d="M215 2708l3 17 8 54 3 9 1 1 1-4 5-68 6-16 3-4 7 14 4 1 4 10 7 6 8 15 5 15 5 21 3 7 5-6 11-54 3-9 5-3 4 1 8 5 3 1 4-2 4 2 19-21 15-21 3-3 4-7 4-1 4-5 3 0 12-7 7 0 4 3 7-3 8 1 26-12 4 2 4-2 4-3 3 2 4-3 11-6 19-4 4 0 37-11 19-8 19-1 26 3 8-1 22-2 12-4 14-2 14-20 5-23 3-6 3 6 3 14 5 67 6-27 3-4 7-4 23-5 4 1 7-1 13 0 17 1 8-3 7 0 4-3 4 1 4-2 11 0 11-2 4-2 4 2 3-5 4 0 4 7 4-4 3 4 4 1 4-2 7-5 7 9 1 15 1-10 3 3 7-1 9-3 3-7 7-19 6-36 5-92 5-43 1 0 1 9 11 187 3 29 1 4 2 2 10 4 9-1 11-4 5-5 12-18 4-5 4 1 4-2 11-1 4-2 17 2 5-6 9-22 10-18 3-3 3 6 13 63 3 8 1 0 2-5 7-39 3-7 2 1 6 28 2 3 2-3 8-25 5 28 4-27 1-2 1 0 6 15 3 17 2 2 2-1 4 1 4-4 11-17 7-10 8-15 4-4 4-1 4 20"/><path class="c13" d="M215 2770l4 20 7 39 3 7 2-4 5-75 7-18 2 0 3 4 8 5 4-1 18 29 3 16 7 141 2-3 3-21 5-92 5-48 3-23 3-10 3 1 8-2 7 4 9-2 10-12 15-24 4 0 5-8 17-17 4-2 4 1 4-4 2 0 5 11 6 6 5 3 4-1 4 1 7-6 4-8 4 0 7-10 16-10 7-1 11-7 4 2 4-3 4 0 2-3 1 11 1-12 14-2 15-6 4-1 11-4 8-2 11-7 15-2 4 1 34 0 4-2 18-4 23-9 7-5 4-5 7-12 4-18 3-5 3 6 3 14 5 73 6-30 3-5 7-6 8 0 11-4 8 0 11-3 30-1 11-3 4 0 4-2 4 3 5-4 6-2 11 3 4-2 4 1 3-2 12 5 7-3 4 1 4-2 6 5 4 9 1 7 4 3 7-5 8-11 4-3 5-13 5-17 3-16 5-83 5-38 1 0 1 7 11 172 3 27 2 6 11 3 4-1 16-1 4-3 12-22 5-7 12-3 15-1 3 2 11-1 4-5 9-21 8-10 5-4 3 5 13 62 3 6 3-7 10-45 3 4 5 19 2 4 4-15 6-12 5 33 5-37 5 8 5 19 4 4 4-2 4-5 3 0 8-13 4 3 3-11 4-4 8-16 4 2 4 19"/><path class="c0" d="M215 2688l7 47 6 26 2 3 6-70 6-27 3-8 2 1 9 9 7 3 9 8 6 12 7 28 3 7 2 1 3-6 8-36 7-13 1-1 3 4 4 1 4 5 4 3 3 1 12-3 11-18 4 0 3-8 14-17 5-3 4-5 4 0 3-3 8 3 4 7 11 14 7 7 3-1 9 17 5-1 10-10 3-2 16-22 3-2 8-13 7-5 4-6 8-5 2 0 1-3 1 3 7 1 7-3 8-1 7-3 8-1 7-3 4 1 8-3 15-3 3 1 12-1 15 2 7 0 4 0 4-1 22 4 4-1 8 0 7-3 9-2 3-4 9-19 6-32 2-3 3 7 3 16 5 66 6-16 4-3 10-3 4 1 15-3 19 2 7-2 4 1 19-1 7-4 12 0 3-4 12 4 3-4 4 0 4-3 11 1 8 1 7-1 4 3 4 0 3-4 7 12 1 11 1-8 10 1 10-4 3-8 6-18 6-39 6-111 3-31 2-6 12 196 3 31 2 6 4 1 3 3 12-3 3 1 10-5 5-7 4-2 4-6 7-4 4 1 4-2 4 2 3-2 23 0 3-1 6-16 9-26 7-29 4-8 3 8 10 69 5 17 3-2 3-8 5-36 3-8 3 7 6 37 2 2 2-3 6-25 2 3 4 22 4-19 2-4 2 2 7 29 3 3 9-6 7-22 4-7 7-9 8-23 3-4 4-3 1 2 4 17"/><path class="c1" d="M215 2608l13 95 2 6 6-51 5-18 2-2 4 8 5 13 8 10 3 8 12 17 13 34 3-2 2-6 5-34 9-27 17-2 11 3 4-4 3-1 4-3 4 1 4-5 7-6 4 0 7-6 4 1 4-5 7-4 27-29 3 1 6-6 6-3 26 5 8 0 3-2 8 4 4-1 11 3 6 0 1-5 1 4 3-1 11 3 4-2 4 1 4-3 3 1 4-2 8 2 7-1 11-4 4 0 6-1 20-1 4-2 4 2 8 1 3-2 4 2 4-2 7 1 4 3 4 0 4 1 7 0 4 2 4-2 11-1 8-7 8-17 9-47 2 3 4 22 5 59 6-13 7-1 3-2 30-1 8-2 11 0 4-2 4 2 4-2 3 2 12-3 3 1 8-3 15-1 7-3 4 6 4-5 4 1 7-1 8 4 3-4 22 5 1 5 1-3 3 1 15-2 3-4 3-12 6-32 5-56 5-113 5-33 2 11 12 231 2 22 2 8 7 3 19-2 9-5 10-9 7-3 4 1 8 0 7-1 11 4 11-3 8-23 14-59 4-9 3 10 11 75 4 16 2 3 8-56 5-15 2 5 5 34 2 10 10-34 5 29 5-26 2 1 7 32 3 6 13-4 8-15 7-6 4-6 4-1 4-10 4 1 4 17"/><path class="c2" d="M215 2764l12 62 3 6 5-72 4-19 4-8 4-1 5 7 4-3 4 7 3 2 13 21 4 13 6 96 2 15 5-22 6-79 5-38 4-15 4-5 4 3 8 1 7 4 8-3 7-9 4-7 11-10 11-13 15-15 15-8 4 2 4-2 5 1 17-8 4-4 8-3 3-5 8 0 8-4 11-1 7-5 4 1 8-1 2-3 1-13 1 12 7 0 11-4 11-6 8-2 4-4 3 0 4-3 4 0 11-7 11-3 4 1 8-2 3 0 23-3 4 2 4-1 15 3 7-1 8 2 7-4 8 0 7-8 6-10 6-23 2-2 3 5 3 13 5 71 7-36 6-6 3 0 8-4 15-2 11-3 4 1 4-2 4 1 3-2 4 2 4-1 22-2 4-3 9 0 6-4 4 4 4-3 3 0 4 5 8-5 7 1 4-2 4 2 3-3 4 4 8-4 3 4 4-4 4 11 11 1 8-3 4-5 6-17 5-25 3-27 4-79 5-42 2 11 12 201 3 22 5 6 7 1 11-2 10-1 15-23 4-5 5-2 36-4 5-5 9-22 7-9 5-3 2 0 3 7 8 32 4 22 3 8 2-4 9-48 3-7 2 2 7 31 4-17 6-15 5 23 4-20 1-2 2 0 7 23 1 5 2 1 2-1 4 0 4-4 7-1 11-14 4-9 11-14 5 24"/><path class="c3" d="M215 2705l3 17 5 36 6 25 1 0 1-4 5-66 5-18 2-5 2-1 7 11 11 12 12 18 6 18 5 26 1 3 2 2 4-10 11-51 3-7 5 3 4-1 8 7 3-2 5 1 10-2 15-9 8-3 7-1 8-6 4-1 3-5 4-2 11-18 15-17 12-8 3-4 8 0 7-2 4-4 19 1 4-4 7 2 8-3 11-1 11-5 4 1 4-3 7-2 12-6 3 0 8-5 4 0 8-4 7-1 26 5 15 0 4-1 30-1 11-2 9-6 6-7 7-12 4-18 3-6 3 5 3 13 5 67 6-28 7-7 3 0 4-3 23-3 26 1 26-4 15-1 4-2 4 2 7-6 8 5 4-6 7 4 8-2 3 2 4 0 4 2 11-3 3 8 1 12 1-8 6 3 8-2 7-6 4-10 5-17 5-30 5-90 5-46 1 1 1 9 11 187 3 29 2 6 6 2 9 1 15-6 7-9 11-17 5-5 7 0 4-3 3 0 12 0 14 2 4-5 12-26 4-5 5-4 2 1 2 5 14 62 3 6 8-40 5-10 2 3 5 20 2 5 2-3 5-17 3-6 5 31 5-31 11 27 3-3 8-2 3-7 4-3 10-14 13-27 4 2 4 20"/><path class="c4" d="M215 2684l7 52 8 40 6-68 3-9 4-5 3 2 6 15 15 24 4 6 4 2 6 20 5 23 2 2 2-3 3-3 8-52 4-17 3-6 4-1 4-3 4-1 7 2 4-1 4 3 11-2 4-2 4 1 3-4 12-4 15-11 11-12 11-8 8-9 3 0 4-6 4 2 7-10 4 1 11-4 4 2 4 0 4-3 15 2 7-2 4 0 10-3 1-3 1 2 7 0 10-2 12-6 15-3 19-9 11-2 4 2 19 0 4 1 4-2 7 2 8 0 7-3 4 1 4-3 3 0 4-3 4 1 4-1 7-5 8-1 6-9 7-12 5-25 3-5 6 23 5 68 6-25 10-6 8 0 15-5 7 0 4-1 4 1 11-3 4 1 19-1 19-4 3-4 4 6 4-3 4 0 3-4 4 6 4-7 7 5 8-1 4 3 3 0 12-4 7 3 3 5 1 5 1-1 3 1 11-1 6-4 3-7 6-17 3-15 4-31 4-80 5-45 1 0 1 9 12 198 3 23 3 2 13 3 17-3 15-21 4-4 9-5 4 1 18-2 11 1 13-28 10-16 3-3 2 2 2 7 10 52 4 11 3-3 2-5 6-39 4-11 2 3 5 29 2 7 9-31 1-1 1 2 3 14 1 4 5-25 14 40 8-8 3-9 8-8 11-18 8-17 3 0 1 2 4 20"/><path class="c5" d="M215 2578l15 110 2-7 4-40 6-15 2-2 3 8 5 18 4 7 7 5 4 10 4 3 7 18 4 5 5 16 3-3 3-8 8-46 8-20 7-3 8-1 11 3 7-4 4 2 8-3 3 0 4-4 4 1 4-3 3 0 8-5 4 1 7-5 11-2 19-5 4 1 7 0 4 2 4-2 7 1 4 2 4-2 8 0 7 3 15-1 4 1 4-3 2 2 1 8 1-7 3-2 11-1 8-3 11-2 4-3 4 1 3-3 15-3 8-3 4 1 3-2 23-1 19-3 11 5 4-2 7 4 19-3 9-4 6-9 7-18 4-28 3-9 2 5 4 22 5 62 6-13 7-4 15-3 7 1 27-6 3 1 8-2 4 1 7-1 4-2 7 1 4-2 8 2 3-1 8 2 4 3 11-1 7 2 15-3 8 4 7-9 4 7 3 1 1 9 1-7 6 1 12-2 2-2 3-8 5-17 7-57 5-110 5-44 2 11 12 220 3 24 4 3 17 1 6-4 10-9 13-16 5-2 10 0 7 5 4 0 10 5 8 1 4-8 17-47 4-6 2 2 2 6 12 69 1 4 2 2 4-10 8-57 3-9 2 3 6 36 2 1 1-2 6-28 2-2 5 29 5-28 3 5 6 26 3 8 6-2 11-16 8-14 5-7 10-22 4 2 4 15"/><path class="c6" d="M215 2613l15 102 2-7 4-42 6-18 1-1 2 0 7 22 4 5 6 17 1 4 4 3 8 12 6 19 5 24 2 4 3-2 2-6 6-30 10-25 3 5 8 4 7 2 4-1 4 0 7-13 8-18 7-23 10-21 9-15 8-5 3 1 12-6 3 2 8-6 7 0 4-3 4 0 4 2 3-2 19 4 4-1 4 3 4-2 11 6 4-3 3 7 14-1 1-11 1 11 3 0 4 1 22-6 4 1 4-4 4 1 3-3 19-3 8-3 7-1 23-5 15 1 4-1 15 8 7 2 8 1 12-2 6-3 10-18 6-35 2-4 3 6 3 14 5 62 6-17 7-5 3 1 4-3 15-2 4 1 15-3 4-1 11-2 4 1 15-3 19 0 3 2 4-4 8 3 3-5 4 6 8-1 3 2 4-6 4 3 4-2 11 1 7 5 4-4 3 3 1 4 1-2 10 1 8-1 3-3 3-10 6-28 5-48 5-106 5-38 2 11 12 224 3 25 3 3 7 3 6 0 7-2 4-3 4 0 7-7 4-6 8-6 7-3 15 1 11-1 4 2 6-2 5-10 11-34 8-34 3-4 3 10 6 41 5 31 4 13 2-1 2-5 7-46 4-11 2 4 6 40 2 1 1-1 8-24 2 3 3 25 5-28 5 11 5 21 3 5 5 0 15-26 4 0 3-10 8-14 3-2 4-3 1 2 4 18"/><path class="c7" d="M215 2632l12 88 3 12 2-8 5-52 6-16 2-2 10 24 20 33 6 18 6 21 2 2 4-8 6-39 6-23 3-5 4 0 8 2 4-1 3 1 15 1 4-3 8 1 7-3 4 0 7-7 8-1 4-5 3-1 8-7 7-2 4-4 4-1 4-2 3 0 4-6 4 1 4-2 7-1 4-4 4 0 3 3 4-5 19-8 4-5 4 1 7-5 4 0 4-2 2 1 1-7 1 7 22-2 4-2 15 0 15-7 3 2 8-3 11-2 15 0 8 1 4-2 3 1 12-1 18 9 4-2 11 1 10-1 5-3 9-14 9-31 3 5 3 13 5 64 6-27 7-6 3 0 4-3 8-2 3 1 12-2 3 2 4-2 8-1 19 0 3-2 4 1 11-2 8-3 4 0 15-7 7 1 4-1 4 3 3-3 8 1 4-2 3 6 4-4 4-2 4 4 7-2 3 8 1 8 1-5 19-2 3-3 3-10 7-36 4-38 4-89 5-44 2 11 12 214 3 23 5 5 11 2 8-3 14-11 10-12 4-3 5-1 4 1 4-2 3 1 8-1 4 1 3-2 7 4 4-1 8-19 14-41 4-6 3 9 12 68 2 7 2 2 4-9 6-44 2-9 2-2 2 4 6 34 2 0 1-2 6-23 2-3 5 27 4-25 2-4 2 3 8 33 3 5 4 0 7-13 4-3 4-8 4 2 3-6 4-14 7-8 4-1 1 2 4 21"/><path class="c8" d="M215 2620l13 89 2 6 2-9 4-48 5-26 2-2 3 3 5 13 9 4 3 3 9 13 13 27 3 1 5-16 9-47 4-10 6-6 4 3 11-3 4 0 4 2 4-2 15-3 3-2 15-1 4-4 19-2 6-4 5 0 4-2 4 2 7 1 8-2 7 1 4-2 4 4 7-2 8 1 4-4 3 2 4-3 8 2 3-2 8-1 4 2 2 0 1-10 1 8 3-2 4 2 4-1 7 3 4-1 11 3 8-2 3 1 4-1 8 0 11-5 4 2 7-5 4 2 26-5 8 2 7-1 8 5 4 0 7 5 11-2 4 2 4-1 5-2 2-3 10-20 5-34 3-9 3 7 3 16 5 60 6-13 4-3 18-3 3 1 4-2 4 3 4-3 11 0 8-3 15 1 26-3 4-2 3-1 4 3 11-4 8 2 4-2 3 3 4-4 8 4 3-3 12 2 3-2 7 7 1 14 1-12 3-1 7 1 8-2 2-2 8-29 7-67 5-114 5-38 2 12 12 229 2 21 2 7 5 3 10 1 4-3 7 0 10-4 13-10 29 1 4 1 10 0 3-4 3-10 17-64 4-8 4 13 10 69 5 16 3-7 7-50 4-12 2 5 6 40 1 1 2-3 6-26 2-2 5 31 5-29 3 5 8 36 3-4 4 0 4-7 3-1 4-9 4-6 4-11 3-5 12-28 3-1 1 1 4 17"/><path class="c9" d="M215 2619l8 50 4 32 3 10 2-9 4-46 5-25 2-4 4 3 5 14 4 3 6 2 5 5 18 40 4 4 4-6 6-30 8-22 5 0 4 5 5 3 10 1 4 2 4-5 7-1 30-20 4 0 4-2 7-7 4 1 4-2 3 3 12-2 3 2 4-3 8 2 3-1 8 0 7 3 8-3 4 2 4-1 3 2 4-1 11 1 4-2 10 1 1-12 1 11 3-2 4 1 4-2 3 1 4-2 23-1 7-4 4 1 15-7 15-4 4 1 7-4 19 0 5-2 6 2 4 0 15 2 11-1 11-3 5-6 7-14 8-39 2-3 3 8 3 17 5 64 6-15 3-2 7-2 12-1 3-2 19-3 8-3 11-2 8 1 3-2 12-1 3-2 4 2 11-2 4 5 4-5 4 5 3-3 4 0 8 2 3 4 4-7 4 5 4-3 3 2 4 4 4-5 4-1 7 2 4 6 10-2 5-2 4 2 4-5 3-12 6-31 4-38 5-110 5-44 2 11 12 219 2 20 1 6 2 2 3 1 7-1 4 2 7-3 8 2 22-12 4 3 11-3 12 2 3-2 4 1 7-1 4-9 18-57 4-7 3 8 9 59 7 23 2-2 3-10 5-37 3-10 3 6 7 39 2-4 7-28 2 3 4 24 5-28 3 6 6 24 2 4 2 1 8-7 8-15 4-11 4-5 7-23 8-18 3-2 1 0 4 17"/><path class="c10" d="M215 2652l11 81 4 16 2-8 4-49 4-13 4-4 16 36 7 9 13 27 6 28 2 2 5-8 5-31 7-29 3-6 4-2 8 1 4 3 11 4 7-1 12 0 3 0 6-4 9 1 4-3 4 0 4-3 7-2 15-28 8-9 3-1 12-12 3 0 4-3 4 0 7-5 8-2 15-10 4 1 4-3 3 1 8-7 6 0 1-5 1 5 3 1 19-5 19-2 3-2 4 0 15-7 4 1 11-2 15 3 4-2 4 1 22 0 4 1 4-1 7-1 8 1 18-5 6-6 6-9 10-37 3 5 3 13 5 63 6-21 10-6 8-1 7-2 12-2 7-3 4 0 11-4 23-1 4-2 3 1 4-1 8 1 7 5 4-1 4 2 3-2 8 3 7-5 8 5 4-4 3 5 4-3 4 7 4-2 3-4 3 0 4 10 1 12 1-7 2 2 8 0 8-5 5-10 4-10 4-16 4-28 6-110 3-32 2-8 12 189 3 31 2 5 4 2 7 0 11 0 4-2 7 1 18-12 9-2 7 2 12-1 12 2 5-7 18-43 5-5 3 6 10 52 5 14 3-3 2-7 6-44 4-14 2 3 5 25 2 7 10-32 5 26 5-26 1-1 2 1 7 39 2 2 2-2 4 1 4-6 3 0 8-6 15-16 4-8 4 1 4 21"/><path class="c11" d="M215 2685l7 51 5 25 3 6 6-71 6-25 3-5 3 2 4 7 8-1 3 4 4 9 4 3 9 20 7 25 3 2 3-7 6-32 6-17 3-4 4 1 4 4 8 5 3-3 4 4 4 0 19-15 7-3 4-5 7-6 23-15 4-6 7-3 4-4 7-4 8-6 4 0 3-1 4 1 4-3 7-2 8 1 8-3 7-2 4 0 4 2 3-3 14 0 1-5 1 5 3-1 8 1 7-1 11 4 15 2 27-9 3 1 4-1 4 1 4-2 7 0 15 1 19-3 4 1 7-3 4 1 19-6 7-5 6-10 5-14 7-35 2 4 4 19 5 60 6-14 3-4 4 0 3-2 12-1 3-3 12 3 3-2 16 2 15-1 3 1 23-3 4 2 3-4 4 4 4-5 4 2 3-1 12 0 3 1 8-2 4 4 7-5 11 3 5 3 2 2 1 10 1-8 6 2 13-2 3-6 6-18 5-30 3-30 4-86 5-43 2 12 7 142 6 78 2 12 7 6 15-1 10-5 6-6 11-16 3-3 5-1 4 1 11-2 8 1 14-3 4-8 18-60 4-6 4 12 11 70 2 7 2 2 4-13 7-48 3-8 3 9 6 36 2-3 8-28 5 27 5-29 3 3 6 29 4 7 4-2 3-3 5-12 4-4 8-17 3-2 9-26 4-3 3 0 4 15"/><path class="c12" d="M215 2615l12 83 3 11 6-52 5-20 3-7 3 3 4 13 5 9 4 0 3 3 4 10 4 1 4 11 7 14 4 12 1 0 6-14 12-57 4-8 7 2 8-3 3 2 12-1 3 2 4-1 4 1 7-2 4 2 8-2 3 2 4-2 4 1 7-7 4 1 4-1 4-5 7 0 4-3 4 2 3-3 8-1 4 1 3-2 8 2 11-2 8 2 4-2 11 6 4-2 3 3 4-3 4 2 6-3 1-17 1 17 3 1 11-4 4 0 4-3 4 1 7-2 4-3 7-1 12-5 7 0 4-2 19 1 19-2 3 2 4-1 4 0 4-1 7 3 8 0 3 1 4-1 15-2 9-3 6-10 7-18 5-33 2-5 3 8 3 17 5 63 6-14 10-5 14-2 5 1 11-2 16 0 7-2 8 2 3-2 4 1 15-3 6 2 2-1 3-4 8 2 7-4 4 8 4-6 4 4 15 1 3-5 8 4 7 1 4 2 3 6 1 12 1-10 13 2 8-4 8-25 6-47 5-107 5-51 1 0 1 9 12 209 2 20 2 6 4 1 3-1 4 3 8-2 15-7 11-12 11-6 19 3 7 3 10 1 5-9 18-60 4-6 2 4 3 15 4 35 3 12 4 25 3 4 4-11 4-37 5-16 2 3 8 40 10-32 5 30 5-29 3 4 11 37 8-13 3-2 15-31 8-23 4-1 3-4 5 18"/><path class="c13" d="M215 2685l12 77 3 9 5-61 5-22 4-10 2 1 6 12 8 7 7 14 4 3 7 13 9 28 6-12 5-40 8-39 3-6 7-7 8-1 3-4 4 4 8-2 3 2 4-1 4 2 4-4 11 2 3-1 16-10 3 0 8-7 19-6 3-4 8-2 7-2 15 3 4-3 4 2 4-1 4 5 3 0 4 3 8 0 3 1 14-3 1 2 1-2 14-3 8-5 4 0 7-3 4-4 11-3 15-6 19 5 4 4 19 3 3 3 4-2 8 0 3-2 4 1 4-2 7 0 4-3 11-1 8-5 7-2 10-17 5-25 3-6 3 6 3 13 5 67 7-26 6-4 7-3 4 2 11-5 8 2 3-2 16 0 3-2 4 1 11-1 23-4 7-4 4 2 4-3 7 1 4 3 4-1 7 2 4 3 8-8 3 1 4 5 4-3 4 2 3-3 4 1 3 6 1 7 1-2 3 2 7-1 4 1 5-4 4-9 5-14 4-18 3-21 5-91 5-43 2 11 7 135 6 76 2 12 7 6 9 0 16-9 17-29 3-4 9-2 4-3 11 0 15 3 3-1 6-13 16-44 3-5 2 1 1 3 7 34 3 27 4 16 3 7 3-10 7-47 4-10 2 4 7 37 2-4 8-29 5 26 4-21 2-3 5 9 5 24 3 6 8-16 3-2 4-5 4-12 4-3 15-34 4 1 4 16"/><path class="c0" d="M215 2707l8 51 3 13 3 6 2-4 1-9 4-60 5-25 3-6 3 0 5 4 4-1 4 3 3 1 4 5 13 28 7 28 3 5 3-4 5-23 10-22 1 0 3 8 8 5 15 4 7-3 12-13 7-3 4-7 4 0 3-6 8-3 4-5 3-2 8-9 15-21 15-17 11-7 4 1 4-1 7 4 4-1 11 8 12 2 7 3 4-2 6 1 1 6 1-7 3-2 11-2 8-5 11-4 8-5 3-1 12-7 3 1 8-4 11-1 11 1 4-2 8 1 4-2 3 2 12-2 3 2 12-1 3 2 15-1 13-5 8-11 5-11 4-23 3-7 3 7 3 14 5 63 6-20 7-4 15-4 26-3 4-2 19-1 7-3 4 1 4-1 11 0 4-1 7 1 4-1 11 3 4-3 4-1 18 4 4-1 4 2 4-1 3 2 4-1 4 11 1-1 10 2 9-4 3-3 5-16 4-17 5-43 5-104 3-32 2-9 12 197 3 31 2 6 4 2 7 0 15-4 9-5 13-12 7-2 24 2 3 2 11 2 5-11 16-47 4-6 4 9 11 64 3 11 2 3 3-9 7-46 3-11 1 0 2 5 6 31 2 2 2-4 7-28 2 5 3 24 5-28 5 10 5 25 2 3 10-3 3-9 8-9 4-2 7-15 11-15 5 23"/><path class="c1" d="M215 2673l7 52 8 33 6-64 6-25 3-6 15 15 7 12 4 2 4 10 6 12 5 23 2 2 3-3 2-6 6-37 7-24 3-6 3 0 8 5 4-3 3 4 4-1 4 1 4-2 3 1 4-4 4 0 4-3 3 2 8-5 7-1 4-4 4-2 7-6 4-1 11-9 4-1 4-7 4 0 7-6 4 1 7-3 8 0 4 1 3-3 4 2 12-2 7 8 4-3 11-1 8 2 2-3 1 10 1-10 3 1 7-2 23-11 8-5 22-8 11 0 19 3 12-1 3 2 15-1 15 2 23-6 5-3 3-5 8-16 6-34 3-6 3 8 3 18 5 65 6-16 2-1 16-3 4 1 34-7 3 1 4-2 4 1 7-2 12 1 7-2 15 4 4-4 7 3 15 1 12-3 3 4 4-5 4 3 4-3 3 0 4-3 3 2 1 5 1-2 3 1 3-2 12-1 4-5 5-19 4-23 4-38 5-105 5-40 2 13 12 220 3 25 5 7 3-1 8 1 15-6 15-19 8-6 7 0 4-1 3 2 4-2 4 2 11 1 4 3 3-1 8-16 12-34 6-9 3 7 9 57 7 20 3-8 6-41 4-13 2 2 5 26 2 7 3-5 5-21 3-6 5 30 5-26 2-1 7 29 4 6 5-1 4-6 3 3 4-13 4-1 4-11 3 1 9-18 6-9 5 27"/><path class="c2" d="M215 2681l11 71 3 8 2-2 1-8 4-52 5-22 3-3 3 3 5 9 8 7 15 22 6 18 5 21 2 1 5-9 5-35 7-24 3-6 4-4 12 5 3-2 15 5 4-3 8 4 3-1 4 2 9-4 6-4 8-3 7-8 11-8 4 1 6-3 5-1 4-3 8-2 3-3 8 0 4-2 3-4 12-2 4-3 3 1 4-3 4 1 4-1 3-3 4 2 8-7 2 1 1-3 1 3 11-2 3-4 8-2 15-11 4 0 11-7 7-2 4 0 4-2 4 1 3 0 8 4 7 0 16 5 7-1 4 1 11 0 8-1 7 2 8-2 3 1 12-5 7-8 7-14 7-30 2 2 4 16 5 59 6-22 3-3 4 0 3-4 15-3 4 0 23-3 4 1 3-1 15 1 8-2 15-2 4 1 3-1 4-5 4 9 7-7 4 5 4-6 4 4 7 1 4-5 4 5 3-1 4 1 4 0 4-5 3 5 4 1 4 9 2 1 5 0 12-2 4-8 5-13 6-34 3-31 4-88 5-47 2 10 12 208 3 23 5 6 7-1 4 2 16-8 3-2 11-16 7-6 12 2 7-1 8 1 3 2 10 0 5-7 18-44 4-5 3 8 12 66 2 6 2 2 4-9 6-45 4-12 3 7 5 26 2 0 2-4 5-23 2-3 5 29 5-28 11 35 7 4 4-6 3-10 4-5 4-3 4-10 3-3 4-9 11-13 1 1 4 18"/><path class="c3" d="M215 2642l12 93 3 14 2-8 4-49 4-13 4-5 8 24 26 49 3 8 5 28 2 3 5-6 5-30 9-35 5-2 4 2 4 4 4 0 3 3 9-1 10-11 11-20 23-28 4 0 7-9 4-2 15-14 7-4 4-5 11-6 8 2 7-5 4 5 8 1 7 5 8 0 4 5 3-3 4 3 4-3 6 1 1 4 1-4 11-4 11 1 7-2 4 1 11-2 12-4 14-8 12-5 7 0 4-2 4 0 8-4 3 1 8-2 15 3 19 0 7-4 4 0 7-4 11-19 5-25 2-3 2 3 4 19 5 65 6-24 2-2 12-6 8 0 11-4 11 0 8-3 4 1 27-4 14 0 4-2 3 1 4-3 4 3 7-1 8 4 7-4 4-1 4 3 4-4 7 6 8-7 3 0 5 3 3 9 1-2 6 1 12-2 7-15 8-36 7-112 5-39 2 11 12 207 3 23 5 4 7 1 11-1 9-6 5-6 11-18 5-5 4 0 4-2 4 0 3-2 4 1 4-1 14 3 3 0 4-5 17-35 5-6 2 1 2 5 11 54 3 9 2 2 4-9 6-42 4-11 2 3 5 28 2 4 10-35 5 27 4-24 1-3 1 0 4 9 5 23 2 3 2-1 4 2 21-27 9-19 4-3 3-7 5 25"/><path class="c4" d="M215 2667l11 83 4 17 2-9 4-49 5-16 3-1 3 4 14 37 14 25 3 4 3 12 4 34 2 4 4-21 2-8 5-33 10-42 1-2 11-5 4 2 7 1 7-7 4-6 12-21 3-11 12-22 15-16 11 2 15 22 11 11 5 2 3 5 7 3 4-5 4 0 7-9 8-4 4-5 3-1 4-4 4 2 4-6 11-6 4 1 2-1 1 11 1-12 3-1 19-1 15 1 15-5 11-6 11-3 38-3 4 1 4-1 7-1 11 1 8-2 6 0 9-1 7-6 8-11 10-32 3 6 3 13 5 69 6-28 6-5 19-6 12 0 7-4 30-2 25-4 9-8 4 4 7 0 8-7 4 5 3-3 4 4 8-3 7 2 4 5 7 2 4-6 6 16 5 4 3 0 9-5 4-7 5-12 5-19 4-30 5-91 3-29 2-6 11 180 3 35 3 13 5 2 14 0 3 0 4-2 4 0 22-28 8-3 4 1 7-2 4 1 4-2 11 1 2-1 5-9 18-48 4-5 5 16 7 47 5 15 2 2 3-6 6-34 5-15 2 2 5 29 2 10 2-3 6-25 2-3 5 25 5-27 11 33 2 2 3 0 2 0 4-6 3-2 4-12 4-3 4-6 15-30 4 4 4 18"/><path class="c5" d="M215 2699l11 71 3 10 1 1 1-2 1-8 4-57 4-14 3-4 9 13 8 20 3 3 4 6 4 9 7 12 3 9 4 27 2 5 6-20 10-48 5-17 8-3 8 3 3-1 7 1 3-1 5-5 4-7 11-11 4-6 23-22 37-30 8-3 7-2 4 2 4-1 3 0 4-2 19 7 4-1 7 2 8 0 6-2 1 1 2-2 10-2 15-2 7 1 15-3 8-3 15-8 15-2 7-4 4 1 11-2 4 1 15-1 11 3 4-1 15 0 9-6 6-6 7-13 4-19 3-5 3 5 3 13 5 66 6-30 7-7 11-4 19-3 3 1 16-3 18-1 4-1 15-2 8 0 3-2 4 4 8-5 7 5 4-1 4-4 3 5 4 1 4-4 4 1 7-1 4 2 4-1 3 2 4-2 4 10 2 0 5 0 8-4 4 1 4-8 5-13 6-31 3-29 5-98 4-35 2 10 11 193 3 30 2 6 4 0 3 4 8 0 16-2 10-7 8-11 7-3 23-1 3 2 9 1 4-4 12-24 7-8 5-3 2 2 2 6 11 51 4 10 3-6 10-49 1-1 2 5 6 26 2 0 1-3 6-25 2-2 5 24 4-21 2-3 3 4 6 23 3 2 5-2 4-6 7-7 8-16 3-4 8-21 7-5 1 0 4 20"/><path class="c6" d="M215 2644l7 58 8 45 2-8 4-47 4-12 2-2 2 0 4 10 4 14 4 4 11 20 13 26 8 29 2-2 3-9 9-56 4-16 3-5 13-6 5 3 4-1 8 4 3-2 8-1 11 2 8-2 18-14 4-6 4 0 11-10 4-5 4 0 3-3 8-4 4-5 11-2 4 1 11-5 11-2 4 2 4-5 4 3 11-3 4 3 2-3 1-9 1 7 3-1 8 0 15-1 22 1 8-7 3 1 8-5 7-2 8-3 11 1 8-2 11-1 4 2 4-2 29 3 12-2 10-8 7-11 5-22 3-5 3 6 3 13 5 69 7-36 6-7 11-3 4 1 3-3 8-2 11 0 4-3 15 1 4-2 7 1 12-3 7 1 4-2 11 0 4 2 4-5 7-1 4 1 7-2 8 3 4-6 3 7 8-5 7 5 4-3 3 3 1 8 1-5 6 1 8-2 6-3 4-10 5-17 6-45 5-103 5-45 2 11 11 200 3 32 2 6 9 5 13 0 4-2 8-1 11-12 11-7 4 1 11-3 4 3 7-1 4 2 6 0 4-4 10-20 10-11 3 0 5 11 7 37 6 20 2 2 12-53 2 1 6 24 2 2 3-5 5-20 2-2 5 30 4-28 1-3 1 0 10 25 3 5 4-3 11-15 15-35 4-5 5-11 2-2 1 1 4 21"/></g>
<g fill="none" stroke-width="1.5" stroke-linejoin="round"><path class="c7" d="M1435 2845l4-72 14-156 3-13 9-8 7-29 4-7 8-23 10-16 6-14 7-26 4-7 3 2 14 39 2 3 1 0 4-2 9-9 3-1 4-4 4 2 4-1 4 2 7-4 4 2 11-1 11 5 8-1 7 3 8 0 4 2 7-1 11 6 4-2 4 1 4-2 3 2 16-1 3-2 8 1 4-2 3 2 8 0 7 2 13-1 6 3 8 1 3 1 12-1 3-5 8 0 10 4 16-1 4 1 8-4 3 3 4-3 15 1 8 3 3-2 15 5 7-7 8-1 4 2 4 0 8 4 3-1 10 5 5 8 6 23 4 23 2 5 6-64 3-14 6 9 3-3 8-2 4-1 3 2 8-3 7 3 8-3 15 4 4 3 4-2 7 3 8-2 3 2 12 3 7 0 8 4 3-3 4 2 4-1 4 2 7-6 4 4 4-1 3 0 4-1 8 4 4-3 3 3 4-5 3 2 2 0 6-11 15 1 8 15 2 13 9 103 5 81 2 10 4-39 10-157 5-25 4-10 7-8 3-1 5 1 12 6 7 0 4-2 4 4 3-1 8 4 22 5 15 5 9 8 11 31 3 5 2 1 3-5 12-71 2 2 4 35 3 11 2-2 6-24 2-3 2 2 4 18 3 6 3-3 7-12 2 0 7 29 3-5 7-31 3-5 6 3 7 14 4 0 4 8 3-1 4 4 4-1 8 5 4 0 4-1"/><path class="c8" d="M1435 2836l17-223 5-21 8-12 19-62 3-9 4-2 8-14 3-13 4-23 2-6 3-3 3 4 13 47 3 6 10-6 4-5 5-5 6-3 3 0 5 3 4-1 14 5 8 7 7 2 12 6 11 0 4 3 3-1 4 2 4-1 11 9 19-6 4 0 4-3 3 2 15-2 4 1 4-1 18 2 1 13 1-13 2 1 4-3 8 5 3-2 7 0 8-4 4 1 4-2 11 5 4-2 8 1 3-1 8 2 4-3 3 3 4-1 4 2 7-2 27 3 13-7 5 1 4 2 4 0 4 2 11-2 6 2 3 4 7 17 7 26 7-66 2-7 6 17 7-3 8 1 3-3 4 0 4 2 11-2 4 3 4-4 4 1 3-1 4 3 4-1 11 6 22 2 4 3 8 0 7 6 4-5 4 1 4 5 3-7 4 0 4 6 11-2 4 1 8 0 3 1 4-2 3-1 4-7 1-10 0 6 15-1 4 3 5 8 4 15 7 68 7 102 2 8 4-36 4-75 6-71 5-27 12-15 7 1 15 9 8 0 4 2 3 1 4 5 8 0 3 3 12 1 7 3 8-1 12 10 12 29 2 3 2 1 2-2 2-7 8-55 3-8 8 42 1 1 2-3 7-27 9 25 4-2 6-8 3-1 7 25 3-6 7-30 3-4 7 4 6 13 8 11 3 2 4-4 4 1 4-6 4 3 3 0 5-10"/><path class="c9" d="M1435 2750l14-158 3-7 14-14 16-47 5-13 4-4 9-16 6-33 3-6 2 0 2 5 15 51 2 3 2-1 8-9 4-1 6-4 6-3 22 5 7 7 4 1 4-2 3 4 4 1 4-1 4 1 3-1 4 4 8-1 7 3 13 1 10 0 3-2 4 1 15-2 4 1 8-3 7 3 8-2 3 2 11-1 1 33 1-32 2 1 8 1 7-1 4 3 15-5 4 2 10 1 9 0 7-1 4 0 4 2 4-1 11 1 4-1 11 2 4-1 9 2 10 0 8-6 10 4 4-1 4 2 4-2 11 2 6 11 6 18 7 37 7-73 2-7 6 8 3-2 4 1 11-4 4 1 8-1 7 2 4-1 8 0 3 2 12 1 3-1 4 3 11 0 4 3 4-1 4 1 3-1 8 2 4-3 3 6 4-6 4 5 4-4 3 6 4-5 8 2 3-3 8 0 8 4 3-1 4-6 4 2 3-7 1-9 0 4 2-2 5 1 4-1 4 3 3-1 8 16 6 36 5 55 5 83 2 10 4-40 5-82 5-57 5-25 4-7 8-7 11 2 8 5 3-1 15 2 12 7 11 1 4 2 4-1 11 7 3 4 4 2 5 7 10 32 7 11 2-4 10-70 2-4 2 5 5 34 2 4 3-5 6-26 4 8 6 17 4-2 7-20 6 23 1 3 2 0 11-37 3 2 4 1 7 19 4 0 4 6 7 4 4 7 4-3 4 4 3 0 5-8"/><path class="c10" d="M1435 2767l15-182 15-28 19-64 12-22 6-18 4-18 2-2 4 2 2 4 14 59 2 3 6-4 15-14 8-2 12 3 9 8 5 1 11 9 4-1 4 3 4-1 7 3 8 0 3 3 4-3 4 2 7 1 8-2 4 3 7-1 8 1 4-2 3 3 8-2 11 1 4 2 15-2 3 1 1 16 1-15 6 1 4 1 7-1 6 1 12-6 20 4 4-1 4 1 11-1 4 1 3-2 4 2 15-1 4 1 4-2 7 4 8-1 3 2 4-7 3-2 3-1 12 6 5-1 4 3 3-3 4 3 4-2 1 0 5 8 6 12 7 25 9-67 5 14 8 4 8-3 7 3 4-2 7 0 8-3 8 2 7-1 4 2 4 0 3 2 8-2 7 4 15 1 4-1 4 2 7-1 4 3 4-2 7 4 8 1 4-2 3 4 4-5 4 3 4-3 7 0 4-3 4 0 3-9 1-13 0 7 2-2 5 2 8-3 7 8 7 19 3 16 5 38 5 79 2 11 4-28 4-63 6-58 5-26 11-10 5-2 11 7 4 5 3-2 4 3 8 2 3 3 4 0 4 5 4-1 3 3 19 2 4 4 4 0 3 4 6 1 4 6 12 32 4 4 2-5 9-59 3-10 3 10 4 30 2 4 3-4 6-25 2-3 7 26 1 1 2-2 6-10 4 0 5 17 2 2 3-5 4-20 7-12 5 1 3 10 4 4 4 1 4 9 3-1 4-4 4 2 4-7 4 7 4-5 4-10"/><path class="c11" d="M1435 2888l16-249 2-28 8-23 8-18 7-33 9-28 6-12 4-1 4-14 3-8 5-22 3-6 18 62 2 3 10-6 7-7 4 1 4-3 4 2 7-3 4 1 10-2 5 4 8 1 7 5 8 0 3 2 8 1 7 4 4 0 11 3 4 3 4-1 4 1 3-3 4 1 4-2 11-1 12 2 3-2 4 1 8-1 3 3 4-1 4 2 3-1 1 6 1-6 2 0 12 4 3-1 4 3 4-4 9-5 14 1 3 2 12-1 3-1 12 3 3-2 4 1 4-1 11 3 4-2 4 2 7-1 8 3 3-1 4-5 8-2 7 2 4 3 4-1 4-4 3 3 4-1 5 1 5 7 6 15 5 24 2 3 9-73 6 14 7 1 8-2 7 2 8-3 15 1 15 6 15 2 7 3 15 1 8 3 4-5 3 3 4 1 4-3 4 8 3-6 4-1 4 0 4 3 3-2 4 2 4-1 4 2 4 0 7-5 4 2 3-6 1-20 0 16 4-3 11-1 4 1 3 4 5 17 8 73 7 104 2 9 4-39 10-147 5-26 4-7 6-5 3-1 10 0 5 4 6 1 12 0 3-1 8 4 15 2 4 3 3-2 8 7 7 3 4 6 4 2 7 17 6 20 5 7 3-10 8-56 3-9 2 5 4 27 2 10 3-1 6-22 2-3 3 5 6 21 8-8 3-11 8 30 3-5 6-25 6-13 7 8 4 10 8 6 3-1 4 1 4-2 4 1 4-2 3 4 5-10"/><path class="c12" d="M1435 2717l9-88 5-64 1-1 3 7 16-25 14-46 8-16 4-12 5-11 6-22 4-7 3 4 4 14 10 41 3 7 3-1 11-12 5-4 9-2 5 3 6 9 12 12 4 0 4 4 7 1 4 3 4-1 4 3 11 0 4-2 7 3 4 0 4 3 11-1 11-4 8 0 4 1 11-3 15 3 11 0 7-2 1 3 1-3 6 5 11 1 7-1 11-4 9-1 11 4 4-2 4 1 3-1 8 2 4-3 3 2 4-3 4 1 11-3 11 4 15 1 5-6 5-2 9 5 8 1 4 2 11 0 3 2 4 8 5 12 7 30 7-64 2-7 5 11 8 0 4 3 4-4 7 1 4-1 7 1 8-3 8 3 3-1 4 2 4-1 7 3 8-1 4 2 3 2 4-1 4 2 4-1 3 3 8 1 4 3 3-5 8 4 4-1 3 2 8-7 4 9 3-4 4 1 4-1 4 2 4-2 3 2 4-6 4 6 4-21 0 2 7 2 4-3 4 3 4 1 3 3 6 23 7 63 7 98 2 10 4-37 4-70 6-72 5-26 4-8 8-7 7 1 8 5 5 1 14 2 3 3 8 1 4 4 11 1 4 2 7-1 4 2 11 8 6 7 10 24 3 4 2 1 3-4 3-12 6-45 3-8 9 48 2-3 6-22 2-1 8 22 3-1 6-7 4-1 7 22 4-7 7-29 2-2 2 2 4 1 2 3 9 21 7-4 12 9 9-5 3-3"/><path class="c13" d="M1435 2552l9-23 5-44 5 43 2 3 9-2 6-16 9-31 11-26 4-13 4-4 3-11 8-14 7 22 9 48 4 12 2-2 4 0 10-10 17-14 3-5 8-3 4-4 3 1 15 0 7 3 5 5 3 2 4 5 4 2 4 5 7 3 4 3 11 5 11 2 4 3 8-1 19 7 11 2 11 4 7-2 1 5 1-4 6 2 19-4 4-7 3 1 4-2 13 9 14-1 7-1 4 2 4-1 3 1 4-2 4 2 4-1 3 1 4-1 4 1 4-1 7 5 12-3 8-10 14 10 19 0 4 2 8 12 5 16 2 3 4-30 5-55 6 36 3 1 4 4 4 1 7-2 8 1 4-2 3 2 4-3 8 1 15 7 7 2 8 4 4-3 3 3 8-1 4 2 7-1 4 3 4-4 7 3 4-5 4 6 3 0 4-2 4 2 4-3 7 4 12-5 3 4 4-3 4 1 3-9 1-15 0 9 7-3 8 4 3-2 3 5 8 20 5 25 4 32 4 62 2 9 4-34 4-62 5-43 6-32 6-12 7-9 3 0 7 5 8 11 3-1 9 4 14 17 4-1 3 2 15-2 8 2 11 11 14 21 8 6 3-9 9-61 2-4 7 49 2 4 2-4 7-27 2 2 2 5 6 23 3-6 5-20 2-4 2-2 6 34 1 2 1 0 3-7 6-31 4-7 3 4 7 24 6 11 23 4 4-3 4-15"/><path class="c0" d="M1435 2578l9-35 5-50 3 25 3 18 3 0 7-3 4-13 3-6 8-31 11-24 4-5 4-14 3-7 8-22 7 23 6 33 5 21 2 4 4-2 17-20 4 1 8-7 15-4 10 6 5 6 11 6 11 11 11 8 19 7 8 0 3 3 4-3 4 4 23 1 11-2 4 2 14-1 1 12 1-12 6 3 4-1 4 1 11-3 4-3 6-1 5 2 4 0 5 3 6 1 4-3 7 4 4-4 4 2 7-2 8 3 4-1 3 2 4-2 8 0 7 4 4 1 7-3 4-5 8-2 10 6 20 1 11 16 7 22 2-1 0-6 8-64 5 18 7 4 9 0 11-3 4 1 3-1 4 2 4-3 4 4 4-2 18 8 23 5 7-2 12 3 3-3 4 2 4-2 4 3 3-3 8 0 7-2 12 0 4 4 7-2 4 3 3-13 1-15 0 9 1-1 10 1 9 4 6 13 6 23 5 34 5 77 2 10 4-32 4-63 6-51 5-25 6-10 5-4 7 0 9 3 4 3 7-1 4 2 4-2 8 9 4 3 14 0 4 2 3-1 5 1 10 11 4 6 5 4 6 14 8 12 3 2 3-8 9-63 2-5 2 5 4 40 3 11 7-29 3-5 5 18 3 5 4-1 6-10 1-2 2 0 7 24 3-5 7-34 3-7 3 1 2 3 8 26 8 5 3 0 4-4 4 4 4 1 4-5 3 0 5-14"/><path class="c1" d="M1435 2861l5-89 12-151 1-13 2-7 9-19 5-18 3-7 4-19 5-13 7-17 3-4 4-3 6-17 5-26 3-7 3 2 9 24 8 29 7-5 4-6 7-4 4-5 8 2 4-4 11-1 4 2 3-1 4 2 8 7 3 1 4 3 8 1 11 5 4-1 3 2 8-2 15 4 4-3 11 5 15 0 8 2 11 0 4 2 3-2 12 3 3-1 4 3 8-3 7 3 19-6 4 2 4-1 7 4 4-4 4 3 3-1 12 1 3-1 8 2 4-1 15 2 3-1 12 4 3-1 9-9 6 2 8 5 4-1 11 1 5-1 3 3 8 21 7 33 9-73 5 8 4 2 12 0 7-2 4 2 4-2 22 0 15 4 4-1 8 3 3 0 4 2 4-3 15 5 4 0 7 3 4-4 11 6 4-2 4 2 3-1 4-4 4 3 4 1 4-3 7 2 3-3 4-7 1-24 0 20 2-2 13 1 3-1 4 6 4 11 9 80 7 100 2 10 4-41 5-87 5-60 5-26 10-13 6-2 3 3 12 4 3 1 4-3 4 0 7 3 4-1 11 7 4-3 8 3 7 0 11 11 9 10 6 14 6 17 2 4 3 2 2-5 12-69 2 3 4 33 3 10 2-3 7-26 2 2 8 24 11-14 7 20 3-2 2-3 7-29 3-3 5 6 3 1 8 18 4-4 3 1 8 6 4 2 4-4 3 4 5-8"/><path class="c2" d="M1435 2732l9-102 5-76 1-2 3 6 2 1 8-14 6-16 11-43 7-22 15-36 4-15 3-3 2 1 2 3 4 16 6 34 7 27 2 0 12-15 8-9 3-1 13-1 10 8 11 17 8 8 7 3 4-1 3 4 12 1 7 4 4-3 4 3 11 0 4 3 11-2 8 1 3-2 4 1 8-2 3 2 26-1 1 31 1-31 6 0 4 3 11-4 4 1 7-6 8 0 4 5 6 1 5-2 4 2 7-2 8 2 4-1 3 1 8-2 7 3 12-1 11 4 7-2 6-6 3-1 3 0 3 4 8 1 8 5 3-2 4-1 7 4 9 17 7 24 9-74 6 20 3-4 8 5 4-2 11 2 4-4 15 1 4-2 3 3 4 1 4 2 7 0 15 3 4 3 4 0 4-2 3 2 4-2 4 5 4-3 11 4 4-3 3 4 4-3 4 0 4-4 3 4 4 1 4-3 8-2 3 2 7 1 4-9 1-12 0 6 1-1 10-1 8 4 3 4 6 17 4 18 5 43 5 77 2 9 4-33 5-76 6-50 5-23 3-6 9-8 3-1 15 6 3-1 4 2 4-3 4 1 3 5 12 5 3 0 4 3 11 0 11 6 16 22 10 24 4 3 2-4 9-59 3-11 2 4 5 42 2 7 9-35 2 1 8 25 9-17 2-3 2 2 5 20 2 1 3-6 7-35 2-3 3 2 2 4 8 26 4 1 4 7 3 0 4 4 12-3 3 3 5-6"/><path class="c3" d="M1435 2734l14-155 1-2 4 1 7-6 4-6 7-20 4-15 8-21 3-4 4-9 8-12 7-37 2-5 3-3 3 5 13 47 3 4 3-1 17-19 5-1 6-2 5 3 4 0 14 16 9 6 3 4 8 1 11 4 19 2 11 4 4-3 7 4 8-3 8 1 3-1 4 1 8-2 7 1 4 2 7 0 11-2 1 15 1-15 2 3 4 1 17 1 6-1 11-8 4 4 15 1 4 2 3-2 4 1 4-2 4 2 3-2 4 2 11 0 4-2 4 2 7-1 8 3 7 0 9-6 10 5 4 0 8 1 3-1 10 5 4 8 6 14 5 28 2 5 9-80 5 12 4 2 4-4 11 1 4-3 11 1 4 1 4 0 4-1 34 10 3-2 4 3 8 1 13-1 13 1 4 2 3-1 4-3 4 0 4 3 3-2 4 1 4 4 4-4 4 1 3-3 4 4 3-2 4-10 1-18 0 14 19 2 3 4 4 11 11 86 6 78 2-4 2-26 5-81 6-60 5-29 5-10 6-7 3-1 3 1 6 3 6 7 9 5 4 0 5 2 10 10 11 1 11 3 4-1 7 4 4 4 4 2 8 11 9 18 4 3 2-1 2-7 9-61 2-3 9 51 8-26 2-2 8 24 3 1 2-1 7-14 1 1 5 20 1 3 2 1 3-6 5-25 5-9 5 9 3 4 5 12 9 11 5 2 4-1 4-4 7 8 5-4"/><path class="c4" d="M1435 2719l9-92 5-63 7 3 7-9 9-31 4-6 4-12 15-36 4-4 8-29 3-5 19 74 3-3 4 0 4-4 7-3 8-5 4-1 7-9 8-13 4 0 3-8 20 1 4 2 10 13 10 18 5 1 4 5 11 6 4-1 7 3 8 0 4 1 7-1 8 1 11-1 4 1 4-2 3 2 11-1 1 28 1-27 2 2 4-2 4 2 4-1 7 4 8-2 3-4 4 1 4-2 4 3 7-1 12 2 3-2 4 2 4-2 4 1 3-2 8-1 4 1 11-3 4 2 3-1 4 1 4 3 4-2 3 1 9-9 14 10 4-2 4 1 11 3 3 2 9 18 7 27 9-77 6 17 3-2 4 1 4-1 4 2 7-2 4 1 4-1 3 1 16-1 7 5 8 1 3 3 4 1 4-2 4 4 7-1 8 2 3-1 4 1 4-1 4 4 3-4 4 2 4 4 4-3 7 0 4-1 4 3 3 1 4-1 4-4 8 3 3-2 4 3 3 0 6-12 6-2 12 3 3 3 2 6 4 19 7 69 7 97 1 8 1 0 4-43 5-87 5-57 5-29 8-11 7-3 4 0 11 6 17 0 14 8 18 2 8 4 4 0 12 13 11 23 6 6 3-8 8-55 3-9 3 11 6 42 8-27 2-2 8 26 1 1 1-1 7-11 3-3 2 3 5 21 2 0 3-6 6-27 4-6 5 4 3 11 8 10 7 6 8-1 4-2 4 4 6-2 2-3"/><path class="c5" d="M1435 2927l5-108 13-197 2-9 10-17 7-25 4-18 23-44 11-45 2 1 5 12 12 36 7-5 5-6 6-2 4-3 8-1 7 8 4-1 19 8 11 2 4-1 7 2 8 0 4 4 3-3 12 5 7 1 4-3 7 0 8-4 4 1 7-2 4 2 22-2 8 2 6 0 1 0 1 12 1-12 17 7 4-2 8-1 8-6 11 1 7 2 8-1 3 1 8-2 11 2 4-1 4 2 3-2 12 3 3-2 4 4 4-2 4 1 4-1 3-2 4-6 7-1 4 2 8-1 11 2 4-1 6 6 5 8 8 26 1-5 6-48 2-7 6 18 3-1 12 1 7-2 8 1 15-2 4 3 3 0 4 2 8-1 3 1 4 0 11 4 8-1 19 6 3-2 4 4 4-3 4 2 3-1 4 3 4-3 7 1 4-3 4 4 8-2 3 2 7-3 4-9 1-19 0 14 7 0 12 3 3 4 4 9 8 77 8 114 2 10 4-43 10-151 5-26 4-8 4-3 4-5 4 2 3-2 8 5 4-1 3 3 8-3 11 4 8 4 11 0 15 5 4 6 11 10 13 38 2 5 3 2 3-10 10-67 2 2 6 40 2 5 10-26 3 6 5 13 2 1 3 0 4-11 3-4 3 5 5 24 9-31 5-9 8 7 8 11 7 3 4 6 4 2 4 2 7-2 4 3 1-1"/><path class="c6" d="M1435 2908l17-274 1-14 3-12 9-18 15-57 5-10 16-29 5-24 3-6 4 6 8 33 9 23 4-1 14-13 18-3 4-2 4 1 4-2 3 2 4-1 4 1 4 4 3-1 8 2 4-1 3 1 15 2 16 6 4 0 7-5 11-1 4-1 7 1 15-1 8-2 4 4 7-2 4 1 3 1 1 5 1-4 2-1 8 4 4 0 3 4 8-1 4-6 7-2 15 5 15-1 4-3 8-1 22 0 4-1 4 0 3 2 8 0 4-1 3 2 8-6 7 0 6 2 6 0 7 3 4-1 6 3 10 25 7 35 6-61 3-15 6 7 3-1 12 1 3-1 4 1 8-1 3 1 4-2 4 3 8-3 3 3 8 0 7 3 4-1 19 5 7-1 4 3 4-2 4 0 7 3 4-3 4 2 11-2 7 4 4-6 4 2 4-2 4 6 3-5 4 2 5-2 3-8 3-3 12 4 3 0 7 14 3 17 9 113 5 79 2 9 4-45 10-163 5-28 8-13 4-4 26 9 10 1 9 5 4 0 7 4 4-1 4 0 11 6 4 1 7 4 5 6 13 38 3 3 3-6 9-64 1-5 2-3 6 36 3 8 3-6 5-21 2-1 9 24 4-3 4-9 2-2 2 0 7 24 3-5 9-29 3-2 6 6 13 23 3-2 4 2 8 9 4-4 3 7 5-4"/><path class="c7" d="M1435 2879l17-243 2-19 3-11 4 3 1-2 7-26 11-27 4-5 7-19 8-11 3-11 4-20 3-6 3 1 3 5 8 26 5 11 2 2 10-6 4-5 7-2 4-2 4-5 4 2 11-2 4 3 3-2 8 2 4-1 11 3 4 2 15 0 3 2 12 2 7 4 4-4 7 0 4-4 4 3 4-3 22-3 4 2 4-2 7 3 8-1 3 2 1 15 1-14 2-1 8 1 4 3 7 1 8-2 7-6 12 8 11-1 4 2 3-4 4 2 23-3 3 2 8-2 11 5 11 0 4-4 8-3 28 5 4 2 5 11 5 19 7 36 7-73 2-9 5 6 3 1 9-3 15 0 4 2 7-1 4 2 11-2 4 3 8 0 3-2 12 5 7 0 4 2 7-1 8 1 7-4 8 6 4-1 3-4 4 4 4-1 4-3 7 1 4 2 15 1 4-1 3-8 1-19 0 15 1-1 10 1 9 3 2 1 4 12 8 84 8 117 2 9 4-42 10-160 5-24 8-16 6-1 9 2 8 5 3-2 4 2 9 2 14 6 3 0 12 5 3-2 8 6 4-1 7 6 6 8 10 36 3 7 3 3 2-6 7-56 5-17 3 9 6 42 9-30 3-5 4 15 2 2 3 1 2 0 4-4 3-8 7 25 2-1 2-2 6-22 4-9 2-1 7 6 8 11 7 4 4 4 4 0 4 5 12-2"/><path class="c8" d="M1435 2848l18-241 4-18 8-10 19-67 15-25 11-46 2 1 2 5 7 24 7 29 2 3 6-5 11-15 4-1 4-3 4 1 7-3 12-2 3 2 8 6 4 6 11 3 7 7 4-2 11 11 4-2 4 4 4-1 7 4 8-1 3 2 4 0 4-2 8-1 18 2 4-3 4 2 4-1 11 0 4 4 3-4 8 4 11 1 8-4 7-5 15 5 4-3 19 3 4-2 3 2 4 0 8 1 3-2 27 4 15-6 3 0 4 4 8 0 4-1 3 2 4-1 7 2 3 7 6 14 5 24 2 4 9-71 6 15 7-3 15 0 8-2 11 1 4-2 4 2 15 2 7 5 4-2 4 0 15 4 7-1 4 2 7 0 8 3 7-2 4 3 4-4 4 5 15-1 7-4 7 0 4-6 1-6 0 1 2-1 8-1 9 3 3 3 4 12 5 28 6 64 5 81 2 9 4-39 4-68 6-71 5-27 8-13 11-2 8 5 7 1 14 0 5 1 6 5 5 1 4-1 8 2 3 0 4 2 4 0 7 6 4 1 16 33 6 7 2-4 9-57 3-11 2 4 5 37 2 5 2-2 7-23 8 20 4 3 2 0 4-11 2-3 2 1 6 23 3 2 2-3 6-26 3-6 2-1 7 10 5 10 3 2 7 3 4 4 8 2 4 3 2 0 2-1 4-6"/><path class="c9" d="M1435 2816l4-71 13-141 5-20 8-11 4-13 3-8 4-18 10-27 9-13 4-9 11-37 3 5 14 53 3 6 10-3 7-7 19-4 12 2 7-2 4 3 7 4 12 2 11 1 5-2 6 3 10 1 9-2 4 2 11 1 4-2 11 2 4-1 19 3 3-1 4 1 4 3 3-1 1 3 1-3 2 1 8 1 4 2 10-1 14-8 10 1 3 2 12-2 3 1 12 0 7 2 4-1 11 0 4 2 4-2 3 3 12-2 3 3 4-6 3-2 4 0 4 2 4-1 4 6 4-2 4 2 7-1 5 2 4 5 6 13 8 38 7-68 2-7 5 10 4 0 4 1 8-2 7 1 8-2 3 1 4-1 12 0 3 1 8-1 11 4 4-1 22 4 4-1 15 4 4-1 4 2 3-2 4 1 4 4 4-7 3 0 4 3 8-2 4 6 3-6 4 1 3-3 4-8 1-7 0 2 1-1 10-1 5 1 4 2 6 13 6 35 5 43 5 81 2 10 4-31 4-68 6-65 5-26 8-10 8-4 7 4 4 1 4 4 11-1 6 1 9 6 15 1 13 6 9 7 11 15 11 34 3 4 3-6 6-46 6-26 2 4 5 35 2 5 2-2 7-25 2-3 7 21 2 0 7-9 3-10 8 27 7-19 4-18 3-3 4 4 4 13 8 11 7 4 8 1 4 4 4-3 3 2 5-7"/><path class="c10" d="M1435 2531l4-12 5-5 5-38 3 27 3 20 2 2 4-5 4 3 4-10 3-4 12-45 7-20 4-4 11-36 2-1 3 0 3 3 4 19 9 54 3 8 6-5 11-19 16-9 3 1 4-2 4 1 4-2 7 3 4-1 7 3 4 0 8 6 3 6 15 10 4 0 4 5 7 0 4 3 8 1 3-1 8 2 8 0 3 3 4 0 15 5 4-3 17 5 5 4 4-1 4 2 4 1 3-1 7 3 6-7 7-3 4 2 7 6 3 0 4 3 4-2 11 0 4-1 4 2 15 0 3 2 15-2 4 3 4 0 7-1 6-8 3-1 6 2 6 6 6-2 4 4 3-2 4 2 4-2 4 2 8 10 7 20 1-6 3-22 5-52 6 33 3 4 4 1 8-1 3 2 8-2 4 0 11-3 23 7 3-1 4 2 8 1 3 3 8-2 7 4 4-3 4 4 7-4 12 4 3-3 4 3 8 1 7-1 4-2 8 3 3-3 7 3 2-5 3-22 0 2 1-1 6 2 4 0 4 2 6 9 11 24 2 10 3 15 5 72 2 8 4-32 4-57 5-35 7-35 7-17 5-6 6-1 8 6 4 1 23 26 7 6 18 1 12 8 7 7 18 26 4 2 3-9 9-65 2-6 3 11 6 47 2-3 7-25 2 2 6 25 2 3 10-29 2-2 7 36 3-6 10-39 2-3 10 33 5 8 14-2 12-3 5-23"/><path class="c11" d="M1435 2695l9-85 5-69 5 15 3 2 8-15 6-18 13-41 17-39 6-20 3-5 7 26 10 45 3 6 10-5 11-13 4 2 8-7 7-4 7 1 8 1 15 14 4 0 11 9 30 13 4-1 7 1 8-1 4 2 7 0 4 1 8-1 7 1 4-2 4 3 14-1 1 1 1-1 2 2 8-3 15 2 7-5 5-1 3 1 4 3 7 1 4 2 8-2 11 2 7-2 4 2 4-3 4-1 3 3 5-2 14 4 4-2 4 5 12-9 10 4 4 0 4 2 4-2 3 1 4-2 8 4 1 3 7 14 7 21 9-76 6 24 7-3 4 1 4-1 18-1 16 4 7 5 8 2 3 3 8 0 4 1 3-1 4 3 8 2 11-4 4 5 3-7 4 4 8-3 3 6 8-6 4 3 3-3 4 1 8-1 4 1 3-1 4 2 4-4 2-6 2-19 0 11 3 2 8 2 4-2 5 4 6 12 9 54 8 96 3-10 2-25 4-67 6-54 5-26 12-24 7 6 8 8 11 5 4 3 4 0 3 5 9 6 14 5 4-3 3 2 4 0 8 3 3 7 4 0 15 26 6 4 3-5 6-35 4-30 2-4 9 57 7-26 3-5 5 12 4 15 4-4 4-11 4-1 7 22 7-21 4-19 2-2 4 4 4 7 6 18 3 4 6 3 1 1 8-3 4 5 4 0 3-1 5-12"/><path class="c12" d="M1435 2607l9-50 5-59 4 29 2 13 2 2 4-10 4-1 2-4 5-20 4-5 8-29 7-15 4-13 6-13 6-15 3-3 5 12 12 59 3 7 2 1 8-5 15-17 4-2 15-13 4-1 11 3 4-4 9 4 9 8 4 5 11 9 12 6 3 0 8 6 4-2 3 4 12 0 11 5 4-2 11 1 4 2 7-2 11 5 1 30 1-30 10 2 4 2 3-1 4 3 4-2 4-5 3-1 4-4 14 10 9 2 4-3 18 2 15-3 8 3 7 0 4 2 11-1 7-8 4-1 4 5 8 3 11 1 12 2 8 11 7 20 4-29 5-48 6 30 7 4 4-1 4-3 3 2 4 0 4 0 4-2 3 2 8-3 4 3 7 0 8 4 4 0 3 3 4-1 4 2 4 0 3-3 4 4 15 1 8-3 3 1 4 5 4-4 4 5 7-2 4 3 4 0 7-1 8-4 4 0 3-2 4 4 3-1 4-13 1-12 0 4 1-3 2-1 11 5 5 5 13 31 5 24 5 73 2 10 4-32 4-61 4-29 8-40 5-12 6-9 7 0 17 10 10 9 3 5 4 3 4 6 11 1 4 2 4 0 11 4 15 16 11 22 7 5 3-8 9-62 2-6 2 5 5 45 2 5 2-2 2-5 5-25 1 0 2 4 7 30 10-31 1-4 1 1 7 36 7-24 4-22 2-3 4 3 2 4 3 14 6 14 2 3 4-1 3 6 4-4 4 1 4-3 4 1 3-4 5-26"/><path class="c13" d="M1435 2709l9-92 5-66 8 10 7-10 8-24 8-28 19-40 8-30 2-5 2-1 3 5 3 13 8 38 5 14 2 0 4-5 8-7 3-6 8-5 4-1 7 2 8 5 12 18 10 8 8 4 4 0 3-2 4 4 4-2 4 2 18 1 8-1 7 1 4-1 23 4 7-2 8 3 4 0 3-3 4 3 7 0 1 7 1-7 6 3 14 0 5-3 4-1 3-4 4 0 4-1 8 4 3-2 4 2 8-2 3 0 4-1 4 3 7-2 12 2 3-1 4 2 8 0 3-2 8 4 4-2 3 1 7-8 5-2 11 8 11 0 8-2 11 16 8 26 9-68 6 21 7 3 4-1 4 2 7-3 4 3 11-4 12-1 3 3 4-3 4 2 11 1 7 2 4 0 4 2 4-1 19 5 3-2 4 5 4-6 4 4 7-1 4 2 4-3 3 4 12-1 4-2 3 2 7 0 4-8 1-8 0 3 2-2 5-2 4 3 7-2 4 6 5 16 5 31 5 52 5 79 1 7 1 0 4-38 4-70 6-67 3-15 3-12 3-6 7-7 10 1 10 5 8-1 7 1 3-1 4 6 5 3 10 1 4-2 4 2 3 0 5 1 10 7 8 8 12 19 5 4 2-1 3-10 8-59 2-3 6 46 3 9 3-5 5-19 2-2 3 8 6 18 3-1 8-13 6 21 2 3 3-5 7-28 3-6 3 1 3 4 11 23 7 2 4 3 4-6 4-1 4 3 4-3 4-7"/><path class="c0" d="M1435 2688l9-80 5-66 6 17 2 0 4-6 8-16 7-31 15-33 4-6 5-15 6-21 4-6 3 5 4 16 10 45 3 6 3-1 14-14 8-6 15-4 11 0 13 12 6 2 4 5 4 0 3 3 4-1 8 6 3 2 4-1 4 2 4 0 7 3 8-1 3 2 8 1 4-1 7 2 4-1 11 1 4-1 15 0 7 1 1 18 1-17 2 2 8-3 7 0 4 4 8-7 4-1 5 1 6 4 4-1 3 2 4-1 8 2 3-2 4 2 8-2 18 2 4-1 15 4 4-2 7 1 8-6 3 0 8 4 12 2 3-2 11 4 9 20 7 23 9-76 5 15 4 4 8-2 4 3 3-3 8 2 4-3 7-1 4 2 8 1 11 7 4-1 7 5 15 0 8 3 11-3 4 4 3-1 4 3 4-4 4 1 3-2 4 2 4 0 4-2 7 2 4-6 4 3 15-1 3-11 1-21 0 13 1-2 6-3 5 2 6 6 8 14 6 15 5 30 5 75 2 9 4-30 4-58 7-52 5-21 7-14 5-4 3 0 18 15 12 4 7 9 8 4 3-1 4 2 8-1 7 2 4-1 16 17 7 13 10 8 2-2 3-13 8-59 1 0 1 3 6 47 2 5 3-4 4-16 3-7 2 3 6 24 1 1 1-2 3-6 7-10 6 21 1 2 2 0 4-10 6-30 2-2 4 4 8 22 4 3 12 3 4-2 4 3 4-4 3 3 5-17"/><path class="c1" d="M1435 2825l3-63 14-154 5-22 4 0 3-8 12-38 4-16 7-12 4-10 8-12 7-36 2-6 3-3 3 3 3 18 11 35 2 3 6-2 4-7 8-7 13-1 9 3 4 3 7 2 8 6 11 6 4-1 4 2 7-1 4 2 11 2 4 2 4-1 3 3 8-2 7-1 4-1 30-1 4 2 4-2 7 0 11 2 1 21 1-21 6 3 19 0 10-6 9 3 11-2 15 2 8-3 3 1 12-2 3 1 12 0 15 3 4-2 6-6 3-1 5 4 4 1 4 5 8-3 3 3 4-2 4 3 4 2 8 20 7 28 9-69 6 12 11 0 7 1 4-1 8 1 3 0 4-2 8 2 4-2 3 2 4 0 4 3 4-2 3 3 8-1 7 4 4-3 8 3 7-1 4 3 4-7 7 6 4 2 7-6 15 4 4-3 8-2 7 2 4-5 3 2 2-2 2-5 1-12 0 6 3-3 4 1 4-1 8 3 2 3 7 17 4 15 5 39 5 80 2 10 4-29 4-67 6-54 5-25 10-12 5-2 2 0 14 13 3 1 4 0 11 6 4 1 8 6 11 1 7 3 4-1 4 3 4-2 11 10 14 30 4 3 4-13 7-50 3-11 2 5 5 37 2 6 2-3 7-22 2-2 8 24 8-12 3-4 6 21 2 3 3-5 7-28 4-6 4 2 9 18 3 4 2 0 5-1 8 1 11-3 5-11"/><path class="c2" d="M1435 2624l9-47 5-67 5 38 2 3 5 0 15-30 11-31 4-2 8-18 3-10 4-19 3-4 4 8 15 60 2 4 6-2 4-5 11-6 8-3 7-1 4-4 4 1 7-5 4 3 4-1 11 7 11 5 8 5 15 1 11 7 4-2 4 2 11-1 4-2 4 1 3-1 4 3 19-3 7 3 8-2 4 2 11 0 4 3 3-1 4-2 6 0 9-4 8 1 7 4 4 0 4-3 7 2 23-2 7 2 4-3 4 1 4-2 11 5 4-2 3 2 6-8 3-1 6 6 4 0 4 2 8 3 3-2 12 4 7 16 7 24 2-2 0-6 8-65 6 16 3 0 4 2 8 0 7-4 4 4 4-4 3 0 4 2 4-1 4 1 4-1 7 6 4-1 4 1 3 5 4 1 4-1 4 1 3-1 8 3 4-3 7 4 8-4 11-1 7 5 8-4 7-1 4 0 4 3 8-2 7 3 7-12 1-7 0 4 7-2 11 2 9 19 6 32 5 45 4 64 2 9 4-35 4-65 6-56 4-19 3-11 4-7 7-5 6-1 4 8 4 0 4 5 11 2 16 12 10 3 23 3 13 13 10 20 5 5 2-2 1-3 9-57 3-11 2 5 4 35 3 11 2-3 7-25 2 2 7 21 2 0 10-14 6 19 1 2 2 0 4-11 6-28 2-1 6 5 3 15 8 13 4 0 3 3 4-4 12 5 4-4 4-8"/><path class="c3" d="M1435 2850l18-240 1-8 15-30 11-43 4-6 3-11 4-2 4-10 4-6 11-43 20 60 6-3 4-5 7-6 4 1 4-3 11-2 8 2 4-1 7 4 4 0 11 6 4-1 15 5 4 0 18 10 12 0 7-4 4 2 11-4 8 2 4-2 22 0 7 1 1 9 1-8 2 2 12-2 3 2 8 0 7-5 6-1 10 3 11 0 4-1 3 2 4-3 4 1 7-2 4 1 8-1 3 2 4-4 8 4 7 0 8 3 5-3 6-7 7 5 8 3 15 0 5 2 11 24 5 21 2 4 9-74 2 2 4 13 7-3 19 2 4-2 11-1 11 3 8 0 7 6 34 4 4 3 4-3 3 0 4 2 11-2 4 3 4-6 4 6 7-5 4 0 4 5 4-3 11 2 3-10 1-14 0 9 3-1 8 2 4 2 3 0 2 1 6 14 9 72 7 96 2 9 4-40 5-85 5-54 5-27 4-7 5-5 7-4 15 11 3-3 4 1 11 4 8 6 19 0 3 2 8 2 7 5 8 10 11 22 7 6 4-12 7-48 3-8 9 50 2-3 6-19 2-2 8 23 4-1 6-9 3-1 7 25 3-4 7-28 4-8 1-1 7 11 4 8 8 3 3 4 4 0 4-1 4 1 4-2 3 1 5-6"/><path class="c4" d="M1435 2850l16-225 2-22 4-13 7-12 5-18 3-8 8-33 5-10 10-17 5-13 8-25 2-2 2 1 2 6 14 54 2 3 6-2 4-4 9-6 14-2 3-4 4 0 8-5 3 0 6-3 9 2 4-1 4 4 7 5 8 2 4 5 3 0 8 5 4 0 3 3 8-2 7 2 4-2 4-1 15 0 4 1 7-2 8 2 4-2 7 1 4 2 3 0 1 3 1-2 6-1 4 2 4-2 3 4 8-1 4-4 3 1 4-2 15 3 4-2 23 1 3-2 12 1 7-1 11 2 4-1 8 3 11-6 4 3 3-1 19 5 4-1 5 3 5 11 6 17 7 34 6-63 3-15 2 1 4 8 11-5 4 1 3 0 4 1 4-3 4 1 3-1 4 1 8-3 7 2 4-1 4 3 11 0 4 3 4-2 7 3 4 0 4 2 3-2 4 3 4-1 4 3 7-4 4 7 4-3 7 0 11 3 4 0 4-5 4 0 7 4 4-1 4 2 3-10 1-13 0 7 2-1 13 3 3-1 3 3 3 7 4 20 9 94 5 77 1 8 1 0 4-41 10-151 5-27 4-7 6-5 5-2 4 2 4 0 8 9 7-2 8 6 3 0 8 5 4 0 3 2 4-1 8 2 3 0 8 1 6 3 5 4 8 9 3 12 7 15 4 3 3-10 8-56 3-8 9 51 8-29 2-3 2 2 3 17 3 6 5 0 4-7 4-2 7 24 4-8 8-30 3-3 11 16 4 2 4 8 3-1 4 4 12-1 3 5 5-8"/><path class="c5" d="M1435 2744l9-103 5-73 1-4 6 0 5-8 25-87 9-12 7-21 4-16 2-1 3 2 3 8 13 65 3 8 14-8 8-7 3-1 4 1 4-4 11-4 5-1 14 5 15 12 3 0 4 5 4 1 4 0 3 3 8 1 4 3 7 3 4-2 4 3 3-2 8 2 8-1 7 1 11-2 4 1 4-1 4 2 3-1 11 1 1 6 1-5 2 1 8 0 4-2 4 3 7-2 7-7 4-1 4 3 9 2 10 0 4-2 3 2 4-2 11 3 8-2 4 2 3-1 27 5 6-3 6-5 22 7 7 0 8 4 8 20 7 28 7-66 2-7 5 12 4 2 8-3 4 3 7-3 8 2 7-4 19 3 4-1 11 4 8 1 3 1 4-1 8 2 3 2 4-1 4 2 4 0 3 2 8-4 4 8 7-4 4 1 4-3 3 4 8-8 4 2 4 6 7-1 5-6 3-14 0 2 7-3 11 1 3 4 6 16 5 28 5 39 5 75 2 9 4-35 4-64 5-51 6-32 8-16 2-1 5-1 11 8 8 3 12 1 7 9 4-2 4 6 3-3 12 1 3 3 5 0 7 3 7 11 4 2 11 21 7 7 3-8 8-54 3-9 2 5 4 37 3 12 10-25 2 1 5 21 3 4 3 0 6-10 2-1 7 24 5-9 6-27 2-3 6 3 7 14 4 3 11-1 4 3 4-1 4 3 4-3 4-7"/><path class="c6" d="M1435 2772l13-163 3-17 2-6 4-3 4-8 4-4 15-52 17-30 4-12 6-25 3-6 2 1 2 5 14 51 2 4 4-2 10-9 5-2 6-2 4 1 4-3 7-1 8-3 7 1 4 5 7 3 4 3 8 0 7 6 4-1 4 3 3 0 4 3 8 2 7 2 8-2 7 0 4 2 11-2 12 1 3-1 4 1 4-2 4 2 3-1 4 1 4-1 3 1 1 5 1-5 6 3 11-3 4 2 4-2 4 0 3-4 12 0 4 3 3-1 12 1 11-1 11 0 8-2 3 4 4-1 4 1 22 2 4-5 8-4 11 7 11-3 12 4 7 12 8 26 9-70 5 18 12 5 4-2 7 0 15-3 4 2 4-1 4-2 7 5 4-1 7 4 8 2 4-1 7 2 4-2 7 3 8 0 4 3 3-2 4 0 8 2 3 3 4-7 4 7 4-4 3 1 4-3 8 3 4-2 3 2 4-4 4 3 4-16 0 1 1-2 3-1 7 2 7-2 10 23 5 29 5 46 4 66 2 11 4-30 4-65 6-59 5-23 8-14 11 0 12 7 11 1 7 4 4 4 11 1 8 4 11 1 8 3 3 0 8 7 11 20 3 3 3 2 3-4 3-11 6-45 3-11 2 5 5 42 2 5 2-2 6-21 2-2 8 25 3 2 2 0 7-14 5 16 2 3 1-1 2 1 2-1 8-30 3-5 7 12 9 9 5 2 9-4 4 1 8-3 4-12"/><path class="c7" d="M1435 2888l18-269 3-11 7-10 6-15 7-27 24-47 10-42 18 48 2 3 6-2 11-12 8 1 4-3 4 0 11 4 4 0 3-3 8 5 4 0 3 0 4 1 4-1 7 3 8-1 7 4 4 0 4 4 11 5 8-4 3 1 4-1 4-3 4 0 4-3 3 1 8-2 4 3 7-2 11 2 8-2 3 2 1 10 1-9 2 2 4 0 11 5 12-2 7-7 15 7 4-2 4 2 4-3 3 5 4-5 15-2 4 2 7-1 8 0 15 6 7-2 7-7 5-2 7 5 12 0 3 4 4-2 6 4 5 13 5 15 7 35 7-73 2-8 6 6 3-2 12 1 7-2 4 2 4-2 7 1 4-2 4 0 4 3 7-2 4 3 7 1 4 2 4-1 4 2 7 2 4-3 4 0 3 3 8 0 7 4 4-3 4 0 4 2 3-4 4 4 4 1 4-5 3 0 8 4 8-5 3 3 4-2 4 2 3-7 1-11 0 7 15-1 7 7 5 18 8 95 7 112 2 10 4-42 10-164 5-33 4-9 6-7 3-1 14 4 7-1 4 3 11 1 4 4 4 0 5 2 6-1 8 4 7 0 11 9 4 0 6 10 10 38 3 8 3 3 2-6 6-53 3-13 3-7 9 46 2-2 2-6 5-24 2 1 6 17 3 4 3-1 6-12 2-1 7 21 3-5 7-22 3-6 2-1 4 1 7 11 4 2 4 11 3-1 4 2 4-1 4 0 4 7 3 2 5-6"/><path class="c8" d="M1435 2844l4-75 13-153 5-21 8-11 14-49 8-25 4-2 4-5 7-19 8-28 20 63 10-3 11-10 8 0 15-7 4-3 15-4 15 4 3 5 4 2 8 4 3 0 8 8 12 3 10 0 12-4 7-1 8 1 4-2 3 2 8-1 4-2 7 2 4-2 4 4 7-1 4 3 11 2 19-8 8 4 3-1 4 0 4-2 4 3 3-2 4 2 5-1 14 0 7 2 4-2 15 3 4-3 7 4 4-3 4-6 4 4 3-1 4 3 4 0 4 2 4-1 12 3 3 2 8 26 7 35 4-48 5-31 2 1 3 5 3 1 9-4 36-1 20 3 4 2 15 0 4 1 4 4 3-2 8 5 4-1 11 2 4-2 7 5 4-4 4 0 3 1 8-1 4 4 4-5 10 2 4-6 1-7 0 3 7-5 8 2 7 6 5 18 10 109 5 80 1 8 1 0 4-45 10-154 5-27 4-7 7-7 5-1 13 5 17 1 3 2 4 0 5 2 14 4 4-1 15 6 12 10 10 27 5 6 2 0 3-9 8-55 3-8 9 48 3-6 6-24 2-2 7 27 1 0 1-1 3-6 7-10 8 25 4-8 3-17 7-12 5 8 3 2 4 11 4 4 4 7 3 0 2 2 6 8 4-2 4 1 8-2"/><path class="c9" d="M1435 2883l17-249 2-20 3-10 8-6 7-28 4-7 4-14 4-6 3-11 4-2 8-17 8-36 2-5 3-3 2 1 14 40 2 2 2-1 4-5 12-10 7-3 4 1 7-3 4 1 8 0 3 2 8 1 4 4 11 3 4 3 3-1 4 4 4-1 11 7 4 0 4 4 15 4 3-3 12-5 19 1 7-3 8 2 3-1 4 2 4-2 3 2 1 3 1-2 6-1 11 5 12-3 3-6 8 2 4-2 4 3 7-3 4 2 11-1 15 1 4 1 4-1 11 3 4-1 3 2 4-2 11 3 9-7 6 0 8 4 4-2 7 2 8-1 5 5 6 16 8 34 7-65 2-6 6 12 3-4 4 2 4-1 7 2 8-2 15 1 4-2 4 2 3-2 4 3 4-2 19 6 7-1 15 4 8-1 3 7 4-2 4 2 4-4 11 4 4-2 3 2 12-3 4 1 3 6 9-7 2-5 1-12 0 7 1-1 6-2 12 4 3 4 3 8 3 18 9 116 5 85 2 9 4-45 10-166 5-33 8-11 8-4 3 3 8 0 4 3 3-3 12 4 7 4 4 0 5 2 6 1 4 2 7 1 8 2 4 0 11 10 14 42 4 4 11-68 3-9 2 6 4 26 2 9 3-4 5-18 3-6 7 18 2 2 4 0 7-10 6 20 1 1 2 0 6-15 5-22 3-4 11 19 8 5 3 6 4 1 4-2 4 5 4-3 5 0 3-3"/><path class="c10" d="M1435 2657l9-72 5-69 5 28 1 2 2-1 4 1 5-12 14-51 4-2 3-16 4-6 4-12 4-3 3-14 8-16 3 5 4 18 10 49 3 8 6-3 8-10 11-8 15-9 8-2 11 5 11 9 4 1 22 21 4 1 8 1 7 4 8-1 3 3 12 1 4 1 7-1 4 3 7-1 4-2 8 3 14 0 1 5 1-5 2 2 8-2 7 2 8-3 4 0 3-5 2 0 8 1 6 6 2 1 5-2 4 0 15-3 7 0 4 4 4-1 4-3 3 0 4 3 4-1 4 2 7-1 8 4 7-6 4-7 4 4 11 7 4-2 7 0 4 3 4-1 2 1 5 7 5 10 5 17 2 2 1-8 8-68 5 21 4 4 4 0 4-2 11 1 8-3 3 0 4 2 4-1 8 2 7 0 4 3 7 1 4 3 4-1 4 2 3-1 4 3 4-2 4 2 3-1 4 2 4-1 4 3 3 0 4-5 4 0 11 6 4-5 4 4 3-3 8 5 4-4 4-1 3 5 4-4 4 2 4-21 0 2 2-1 5 3 11 2 8 14 7 30 4 29 5 73 2 9 4-33 4-63 5-43 6-32 8-17 3-2 3 0 5 4 4 0 7 8 19 10 8 9 11 2 11-1 9 2 14 13 13 22 4 3 2-1 2-6 8-55 3-9 8 48 2 0 2-3 5-19 2-1 8 22 3-1 7-9 3-1 1 0 6 21 3-6 8-38 2-3 5 6 9 27 3-1 4 3 7 2 4-4 4 0 4 2 5-7 3-10"/><path class="c11" d="M1435 2747l14-152 3-6 5-6 4-3 4 0 19-57 3-1 13-26 6-32 2-6 2-2 2 2 5 12 4 15 9 23 6-3 4-6 4-2 3-5 16-5 3 2 12 0 3 3 4 0 4 6 7 1 4 3 4 0 4 2 3-1 12 6 7 1 4 2 4 0 3 3 8 0 4 2 3-4 4 4 4-4 23 0 7-2 4 1 4 2 7-3 7 2 1 2 1-1 2-1 8 2 7 0 4 3 8-2 5-3 15 3 6-1 8 2 22-6 4 2 7-3 8 2 7-1 8 3 4-3 4 2 7-5 4 0 7 2 8 5 12 1 6 4 4 7 5 12 7 31 9-76 6 12 7-2 4 1 7-1 4-2 4 2 7-2 8 2 4-2 7 3 4-1 4 2 7 0 8 3 4-1 15 3 3 0 4 4 4 0 7 2 4-2 4 3 4-3 3 1 4 4 11-3 8 3 4-4 4 0 11 3 3-9 1-11 0 6 7-2 4 1 4-2 5 2 2 3 8 36 6 66 6 91 2 10 4-40 10-145 5-25 12-15 7 1 12 6 11 2 19 10 11 0 4-1 3 3 7 0 8 4 10 10 10 28 3 5 2 1 4-10 7-48 4-15 2 4 5 38 2 6 8-29 2-3 2 3 4 16 7 5 4-12 2-3 2 0 5 21 1 2 2 1 3-6 4-20 5-8 13 14 4 7 4 2 11 14 4-3 7 6 5-6"/><path class="c12" d="M1435 2987l7-163 7-95 3-76 2-29 3-12 4 3 2-4 9-37 9-21 10-21 4-11 4-3 2-6 6-27 3-6 4 6 9 30 6 10 3-2 4 0 4-5 8-6 15-5 3 2 12-2 3 2 4-2 8 4 7 0 4 3 4-1 7 1 8 2 3-1 4 3 16 5 14-3 8-4 22-3 4 3 4-3 4 3 3-2 11 1 1 8 1-8 17 7 4-3 4 3 4-5 3-1 4-3 8 4 4-1 3 2 4-1 4-2 4 3 7-1 4 2 4-3 3 2 4-4 3 1 5 2 3-1 4 2 4 0 4 2 7 0 8 2 3 0 6-6 6-1 3 2 12 0 4 1 7 1 7 5 3 9 6 21 5 27 2 5 7-73 2-8 6 6 15-4 18 3 8-1 4 2 7 1 8 3 4-2 3 3 12-1 7 3 11-1 8 4 4-3 3 2 4-3 4 0 4-2 3 4 4-8 4 5 4 1 19 1 10 4 2-3 3-11 11 0 4 3 3-1 3 3 3 8 4 21 9 118 5 82 1 8 1 1 4-51 10-165 5-33 11-13 5-2 7 1 4 6 2 0 9 1 4-1 4 5 3 0 8 5 7 0 4 3 4-2 7 5 4-2 15 10 7 10 8 33 6 10 1 1 2-7 8-58 4-15 2 4 4 33 3 8 2-3 6-22 2-3 9 22 3-2 8-13 6 20 1 1 2 0 4-7 6-25 3-3 5 7 3 2 12 18 3-1 8 9 4-1 4 1 8-3"/><path class="c13" d="M1435 2838l18-236 2-11 7-14 6-17 16-58 7-11 9-21 7-27 3-6 3 7 15 61 2 3 10-5 4-5 3-1 8-1 4-3 4 0 15 0 7 4 4 1 4 4 3 1 8 2 4 2 11 1 4 1 3 4 4-1 4 4 4-1 7 3 8-1 3-2 4 2 12-6 3 3 4-2 4 1 26-3 7 2 1 14 1-14 2-1 8 3 7 1 4-2 6-1 5-4 3-1 13 4 3-1 4 2 19-1 4-1 3 2 4-2 11-3 4 3 4-1 7 2 8 0 7 2 4-5 5-1 3 1 3 0 8 6 17 2 5 3 4 9 5 15 5 27 2 5 7-70 2-7 5 9 4 2 8-1 4 1 3-2 12 1 11-3 8 2 15 2 11 3 7 0 4 2 4 3 4-3 3 1 4-2 4 3 7 1 8-4 4 2 3-3 4 2 19-1 11 1 4-2 4 3 3-7 1-9 0 3 3-3 4 2 8-1 3 1 8 16 6 47 5 50 5 78 2 10 4-37 4-72 6-71 5-26 8-8 4-7 7 3 4 0 8 5 11-1 7 4 8 1 4 4 3-1 8 2 4 0 15 7 7 6 5 8 11 30 6 8 3-11 8-57 3-8 9 42 2-2 7-25 2-2 7 19 2 1 3-1 6-14 1-3 1 1 5 19 3 4 3-5 7-35 2-3 5 5 8 20 4 2 4 8 2 1 1 1 8-3 4 1 8-3 4-7"/><path class="c0" d="M1435 2883l5-94 13-174 4-12 4-1 4-7 7-28 4-6 4-16 4-10 3-7 4-3 9-19 7-28 3-5 17 52 3 4 5-3 12-12 8-3 4 0 4-3 3 1 4-1 11 0 8-4 4 3 3-1 4 2 4-2 4 3 11 1 34 9 7-6 4 2 4-2 4 2 11-2 15 0 4-1 14 3 1 10 1-9 10 0 5 2 6-1 4 2 7-6 8-1 4 0 4 2 7-1 15 3 11-2 12 3 7 0 8 1 7 3 8-1 3 2 4-6 3-2 5-1 11 1 4 3 4-1 12 4 4 5 7 21 5 31 2 6 4-48 5-30 5 5 4 2 4-2 11-2 8 2 7-2 4 1 8-1 4 0 3 3 4-2 8 1 3 2 4-1 8 3 7-2 4 2 4-1 7 5 4-4 4 4 7 2 4-3 7 3 4-1 4-4 7 8 4-2 12 1 3-3 7 4 4-8 1-9 0 4 4-1 7 1 8-1 3 4 3 9 3 19 15 190 3-15 2-33 10-158 5-29 6-9 5-6 8 1 12 8 3 2 4-1 4 4 4 0 7 6 11 5 4-2 4 3 4-2 3 3 12 2 3 5 7 3 8 25 4 16 3 6 4 5 11-70 3-9 2 4 7 41 9-28 2-2 8 24 4-10 4-3 3-8 6 24 1 2 2 0 4-8 6-24 3-4 8 13 4 1 4 8 4 3 3 7 4-2 4 6 12-2 4-2"/><path class="c1" d="M1435 2755l14-164 4-13 8-7 10-23 11-34 18-34 6-27 3-6 2 1 2 4 15 54 2 4 2 1 8-5 7-8 4 1 15-4 19 8 11 2 8 4 4-2 7 3 4-2 11 4 15-1 8 0 3-1 8 0 4-1 7 3 4-2 4 1 7-2 4 2 4 0 15-2 3 1 1 11 1-10 2 1 4-1 4 1 7-1 8 4 7-4 4 2 4-1 8 5 3-3 4 3 34-4 4 1 7-1 8 2 11-2 7 3 6-8 6-2 11 7 4-3 7 2 8-2 4 8 3 3 5 11 7 27 9-74 6 18 7-3 8 4 3-3 4 2 11-2 12 0 7 3 4 0 11 4 4-2 8 5 3-1 15 2 4-4 4 6 7-3 12 0 3 1 4-3 4 4 4 1 3-1 4 1 4-1 4 2 7-1 4-4 3 2 2-1 3-7 2-3 16 1 3 4 5 13 4 22 7 65 6 84 2-5 3-36 5-84 5-52 6-29 3-6 8-8 4 0 11 6 7 8 12 2 15 10 11 3 6 0 5 4 11 5 12 17 7 26 7 12 3-10 7-54 4-13 2 5 7 41 9-33 2 2 6 17 2 2 4-6 4-2 3-13 8 26 10-35 3-6 3 3 10 23 4 6 7 5 4-4 4 6 8 3 8-4"/><path class="c2" d="M1435 2597l9-45 5-58 3 24 3 16 2 0 4-5 3 0 2-2 6-15 4-19 11-34 15-34 4-12 3-2 3 1 3 9 12 65 3 7 2 2 12-9 7-9 8-3 4-4 3-2 4-4 4 1 4-3 11 4 7 7 4-1 8 9 3 0 8 7 7 1 4 3 8-1 11 3 7 0 19 4 23 9 11-1 7 1 1 8 1-8 2 1 4 3 11-3 4-2 4 1 4-3 9-3 10 4 3 4 4-1 8 0 3-1 19 0 19 4 4-1 11 2 4-2 4 0 7-8 7 2 8 5 4-1 11 3 6-2 3 4 7 12 7 22 1-8 8-65 5 21 4 4 19 1 4-2 4 1 3-2 16 0 7 3 4 3 4-1 11 5 7 0 4 2 4-1 4 3 3-2 8 3 4-2 3 4 4-1 8 2 3-2 4 2 4-2 7 4 4-7 8 4 7-5 4 4 3-1 4-12 1-15 0 7 1-2 6-5 3 1 9 7 14 33 4 23 5 70 2 8 4-33 4-58 4-29 8-40 5-13 7-10 6 0 4 3 4 1 28 38 9 5 4-1 4 1 4-2 8 1 7 3 3 6 8 4 9 17 7 6 3-2 2-6 11-67 2 5 5 44 2 6 2-3 8-25 2 3 7 27 9-21 3-2 6 26 1 2 1 0 4-11 6-29 3-4 4 6 9 30 7 1 3-3 4 3 4-1 4 2 7-2 5-13"/><path class="c3" d="M1435 2850l17-248 5-26 8-19 15-62 12-31 10-17 4-16 2-2 3 2 2 5 14 66 2 6 2 2 1 1 8-3 4-4 11-4 4 1 7-3 19 5 4-2 4 4 11 2 4 0 3 2 4-1 15 4 4 3 4-2 3 4 23-3 4 1 4-4 22 2 11-4 4 3 4-2 3 1 1 4 1-2 10 2 4-2 3 3 8-1 11-5 8 1 4 2 3-1 8 1 11-3 4 3 4 0 3-2 4 1 4-4 4 3 15 0 3 2 4-2 4 3 7 0 6-5 8 0 5 1 4 4 8-1 3 2 4-1 6 4 5 8 5 14 7 29 9-75 6 12 7-1 4 2 7-4 4 2 23-2 15 1 22 7 4-2 4 2 7 0 4 3 4-3 4 5 3-3 4 6 4-3 4 0 3 2 4 0 8 2 7-4 4 2 4-1 4 2 3-5 4-1 4 2 3-6 1-9 0 4 3-3 4 1 4 3 7-1 8 18 3 20 7 72 6 91 2 10 4-39 4-75 6-75 5-26 9-13 4-1 10 0 4 4 2 0 9 0 11-1 4 3 3 1 8 0 4-1 4 2 4 0 7 5 11 10 10 12 5 20 8 20 3 5 2-6 3-31 6-33 3-10 2 3 7 38 3-5 5-23 2-4 2 2 5 18 3 1 3-2 6-17 1-1 1 0 6 24 2 2 3-6 6-30 3-4 4 5 8 20 9 10 7 4 4-1 4 3 4-2 6 2 2-2"/><path class="c4" d="M1435 2843l3-62 15-175 16-43 11-48 20-39 9-28 2 0 2 5 15 58 2 3 6-2 4-3 4-1 7-6 4 2 15-6 8 0 3-2 12 1 18 8 4-1 4 4 4-1 7 2 4 3 4 0 3 4 15 0 4-2 12-1 7 1 4-2 4 1 3-3 8 1 7-2 4 2 7-1 1 7 1-7 23 4 6-2 3-3 8 0 8 5 3-2 4 2 11-2 4 2 4-3 4 2 3 0 4-1 4-3 4 3 3 2 4-3 8 3 7-1 4 1 9-1 10-6 11 5 4-1 4 2 7-1 7 3 4 7 5 13 7 28 9-73 6 14 7 1 4-1 7 2 4-1 19-2 23 5 3 3 4-2 8 4 26 0 7 2 4 0 4 3 7-4 4 2 8-2 7 3 12-2 3 3 7-3 6-10 10-2 10 6 6 18 8 75 7 94 2 9 4-42 4-75 6-71 5-23 4-11 5-7 4-1 3 0 18 10 8-2 3 1 16 10 3-1 4 2 4-1 7 3 4-1 3 2 12 11 6 8 9 25 6 7 2-2 2-7 8-53 3-10 2 4 5 36 2 3 3-3 5-21 2-2 8 25 3-2 6-10 3 1 1-1 6 17 2 1 3-4 8-30 3-6 7 13 8 16 11-1 4 2 4-1 4 2 4 0 4-5"/><path class="c5" d="M1435 2891l18-275 3-10 5-7 2-5 17-60 7-17 4 0 10-26 9-35 7 27 13 34 5-2 5-4 9-4 6-2 4 3 4-4 26 3 4 4 3-2 15 4 4-1 4 2 4-2 7 3 4-1 15 3 14-2 5 0 4-2 7 0 8-2 3 2 15 0 4 1 7 1 1 7 1-7 2 1 4-1 4 3 5 2 10 0 11-8 14 5 9 1 4-2 15 0 3-2 8 2 11-3 8 3 3-1 4 0 8 4 15-7 7 3 4-1 4 3 15 2 4 3 7 22 8 39 6-63 3-15 6 6 3-2 4 1 4-2 15 1 4-2 3 2 8 0 4 3 11-1 19 4 4 2 7-2 15 2 4 2 11-2 8 2 3-1 8 4 11-4 4-3 8 4 3-1 4 1 7-8 1-14 0 10 1-1 6-2 11 0 3 3 4 10 4 22 8 82 5 74 1 8 1 0 4-39 4-74 6-70 5-29 4-6 4-2 4-6 4 0 11 8 4 4 7 1 4 4 7 2 4 5 23 5 3 2 4-2 11 7 4 4 4 3 3 4 11 36 3 3 2-1 1-4 9-64 3-10 2 4 4 34 3 7 3-5 5-22 2-2 9 22 8-7 3-7 1 1 7 25 3-4 9-31 3-5 4 1 7 19 4-1 4 7 3-3 4 1 4 5 8 6 3 1 5-9"/><path class="c6" d="M1435 2711l9-90 5-60 7 5 9-9 11-27 6-18 9-18 4-11 4-6 7-33 2-4 3-2 3 3 15 57 11-8 9-12 10-3 4-3 11 9 7 3 12 13 7 5 8 1 3 3 4-2 4 2 4-1 3 1 19-1 4 3 7-3 4 3 12-1 3 3 4-4 8 3 3-2 8 0 4 1 3-2 4 3 7 0 1 9 1-9 6 1 4-1 4 3 7-4 4 1 4-3 5-1 7 1 7 5 7-1 30 2 4-1 19 4 11-1 7 2 4-2 4-6 2 0 9 3 4 4 4-2 4 2 11 1 2 1 5 9 5 13 5 23 2 3 9-80 6 16 26-3 4 1 7-2 4 3 19 5 11 7 15 1 8-1 15 3 3-2 4 2 8-3 3 2 8-1 4 4 7-4 4 3 8-2 3-5 4 8 6-10 2-11 0 2 3-3 4 3 4-3 7 2 4 5 5 12 5 28 5 40 5 80 2 11 4-30 4-65 6-62 5-22 4-9 5-4 7-3 3 2 4 3 4-1 4 3 18 2 8 6 4 0 11 2 11-1 15 11 8 10 7 16 7 5 2-3 3-12 6-46 3-11 2 4 4 35 3 11 3-5 5-23 2-1 9 26 10-17 2 0 7 26 3-6 6-31 2-7 2-2 3 3 6 12 4 15 4 0 7 8 4 0 12-6 3 1 5-13"/><path class="c7" d="M1435 2781l13-178 3-19 2-8 12-18 19-67 3-9 4-4 19-47 2 2 2 5 7 37 9 31 10-4 11-8 8 0 4-2 11-1 7 2 4-1 19 12 4-3 3 3 12 2 45 1 4 3 3-3 4 3 11 1 8-3 15 1 3 2 1 13 1-12 2 1 4-2 4 4 4-3 11 2 7-5 16 3 3 2 4-4 8 4 3-3 4 2 4-3 4 4 3-4 4 2 4-3 4 0 3 1 4-1 4 2 7 1 12-1 3 0 8-8 7 3 4 4 4 0 4 2 4 1 7-3 6 3 9 13 6 24 2 3 9-72 5 17 8 4 4 0 4 2 3-2 19-1 4-2 4 2 19 4 3 4 4-1 8 3 3-2 27 6 3 0 4-2 4 7 4-8 3 7 4-3 4 3 4-4 3 0 4 6 4-4 4-2 7 4 4-1 4 1 3-10 1-15 0 10 3 0 4-2 13 3 6 15 9 70 8 99 3-13 2-30 4-73 6-62 5-27 8-16 4-5 7 1 4 5 11 7 12 0 7 9 8 4 7-2 19 4 7 8 4 8 8 7 9 20 5 5 3-8 8-53 3-11 2 4 7 49 4-16 6-13 2 1 3 16 3 7 3-1 7-9 3-2 7 22 3-5 7-28 3-6 6 0 5 18 2 3 4 2 4 5 3-1 4 2 4-3 4 6 4-5 4 0 4-10"/><path class="c8" d="M1435 2660l9-67 5-68 6 30 2 1 4-6 5-3 3-6 3-16 4-7 8-23 15-31 7-31 3-3 3 2 5 15 10 44 3 6 6-4 8-6 3-6 19-11 4 0 8-4 11 9 7 7 8 3 7 8 12 6 3-1 4 5 4 2 4 0 7 4 11 1 12-1 4 4 3-4 8 2 7-3 8 3 17-1 13 3 11-3 4 3 8-7 18 5 4-2 8 1 3-1 4 2 23-2 15 3 7-1 4 2 4-2 3 2 7-9 6-1 10 6 11 1 12 2 8 15 7 20 1-7 8-61 6 19 7 3 11 1 4-1 4 2 4-3 3 1 16-4 15 6 3 0 8 3 22 2 4-1 4 2 4-1 3 6 4-4 11 4 4-2 4 5 4-2 7 2 4-3 4 3 11-5 3 0 4-7 1-11 0 6 2-2 5 0 5-1 7 3 2 3 5 12 3 13 7 54 6 85 2 8 4-34 4-68 6-60 5-26 4-7 8-9 7 2 5 5 10 4 8 4 4 0 3 5 8 2 4 4 3 0 4-1 8 3 7 0 11 2 8 8 13 22 5 4 3-9 8-54 3-11 2 6 7 50 10-29 2 1 3 19 3 7 3-2 9-15 6 20 2 3 2-1 2-4 7-34 3-5 3 4 5 15 4 4 4 9 4 0 3-4 4-1 4 5 11-3 5-15"/><path class="c9" d="M1435 2663l9-74 5-69 3 17 3 12 3-1 6-7 5-19 7-20 8-26 16-36 10-30 3 2 4 15 10 53 3 9 9-10 11-17 5-3 4 0 4-3 15 4 18 26 4 2 4 5 4-1 7 7 4 1 15 7 7 1 12 4 7-2 4 2 4-2 7 1 4-4 8 3 3-2 8 1 4-2 3 2 10-1 2 5 1-5 14 1 3 1 19-8 15 9 4-2 15 0 4-1 7 2 4-1 4 1 4-1 7 3 4-2 11 4 4-2 7 2 4-2 4-5 11 5 8 0 4 2 3 0 4-2 5 1 4 7 7 15 5 22 2 3 9-76 6 16 3-1 4 2 8-3 11 1 4-1 3 2 4-3 3 0 16 4 4 4 4-1 3 3 4-1 8 4 7-1 4 1 4-2 3 1 8-1 4 3 7-2 4 4 4-4 3-1 4 8 8-8 3 1 4 4 4-1 4-5 7 7 7-5 4-9 1-14 0 9 3-3 4 3 4-2 8 4 7 14 5 15 6 43 5 75 2 9 4-33 4-63 6-51 4-17 5-16 8-10 11 5 8 7 7-1 11 5 5 7 10 1 4 2 4-2 15 4 16 20 11 22 5 5 2-2 2-7 9-59 2-5 2 6 5 40 2 5 2-3 6-24 2-4 2 3 7 23 4 0 6-14 2-1 6 21 2 2 3-5 5-25 5-12 2 0 3 4 7 22 8 4 7 0 8-5 4 4 3-2 5-24"/><path class="c10" d="M1435 2710l9-93 5-69 5 9 3-1 15-36 4-19 8-25 11-25 4-5 3-15 6-11 2-1 2 0 3 8 8 44 7 24 6 0 4-6 11-10 8-1 4-3 11-4 7 0 8 5 7 8 30 17 4 0 4 4 19 6 7-3 15 2 4-1 8 1 29 0 1 2 1-2 6 3 8-4 3 2 4-2 4 0 5-4 4-1 10 1 7 3 15 1 8-2 4 2 3-2 8 1 11-2 8 4 7-1 8 2 7-4 4-5 4 3 3 1 4 5 8 1 7-1 10 5 10 19 7 26 9-78 5 15 4 3 4-1 8 1 3-4 8 3 7-3 8 1 4-1 7 2 4 5 8-2 3 4 4 0 8 3 3-1 19 2 4-2 4 1 7-1 4 5 7-8 4 3 8 1 3 4 8-5 8 1 3 5 7-6 3-6 2-19 0 12 15 0 5 4 8 20 5 25 3 21 6 81 2 8 4-38 5-75 5-37 5-28 8-16 6-5 2 0 15 15 3 2 4 0 8 5 11 13 11 4 4-2 17 4 14 15 6 11 4 11 6 4 2-2 2-6 8-54 3-10 2 5 4 31 2 11 2-1 6-18 3-4 8 27 1 1 2-2 6-11 3-2 2 3 4 15 2 3 6-14 5-23 3-4 13 22 7 3 3 4 4-2 4 7 8-1 5-6 3-8"/><path class="c11" d="M1435 2700l9-88 5-72 1 0 5 17 2 0 4-6 4-14 7-18 13-45 6-14 4-4 12-36 3-4 7 25 8 40 5 15 4-1 6-3 4-6 7-6 12-2 7 2 11 8 4 4 8 6 7 4 11 3 4-1 4 1 7-3 4 3 4-3 4 2 7 0 11-5 4 1 4-1 8 8 1 0 2-1 8 1 11 4 11-1 8 2 3-1 1 8 1-8 2 2 8-2 7 3 12-5 7-5 4 1 4 4 4 2 15-1 3-1 4 1 4-2 4 1 3 0 8-3 4 2 3-1 8 3 4-2 3 2 8-2 7 4 4-3 5-7 18 10 4-2 7 2 4 0 2 2 10 18 5 20 2 4 9-71 6 18 3-1 4 1 4-1 4 2 15-3 7 2 4-3 4 1 4-2 3 4 5-2 7 1 3 3 4-1 8 2 3 3 8 0 4-2 7 2 4 4 7-3 12 3 3-1 4-5 4 4 4 1 15-1 4 3 7-2 3 2 1 0 3-12 1-19 0 14 3 2 4-1 12 2 3 4 5 16 5 28 5 34 6 76 2-4 2-23 5-76 6-52 9-38 5-7 4-4 6 0 4 7 7 8 4 1 4 5 5 0 6 6 4 7 4 0 7 5 12-1 3 3 4-2 6 3 5 7 4 1 3 4 10 19 7 8 2 0 1-2 2-6 11-61 2 4 4 37 3 11 7-22 3-5 2 2 6 25 1 1 1-1 7-10 4-1 7 20 6-17 5-20 2-3 3 1 2 2 5 11 6 8 1 1 4-1 7 6 4-6 4 5 4-3 8-15"/><path class="c12" d="M1435 2728l9-101 5-77 1-3 4 9 1 1 2-1 9-23 14-49 11-31 4-14 4-2 7-20 3-3 3 3 3 10 12 66 3 8 10-1 7-7 4-1 8-6 11-18 8-8 11-5 4 3 6-1 4 2 17 18 10 7 15 14 8 6 11 1 4 2 4 0 3-2 15 4 4-1 8 1 3-1 11 1 1 2 1-1 6-1 8 1 11-3 4-4 11-6 4 5 4 1 7 4 11 0 8-3 4 3 3 1 4-3 8 2 3-2 19 6 4-2 7 1 7-8 2-1 14 11 11-1 10 4 5 7 5 11 5 20 2 2 9-76 6 21 11-2 4 1 3-1 8 1 4-3 3 2 7-2 5 2 7 1 8 4 7 0 8 5 15-1 11 2 4-3 11 4 4-1 11 0 4-3 4 4 7-4 4 6 8-7 7 0 4 3 4-24 0 2 1-2 3-1 11 4 4 6 7 15 4 4 2 9 5 25 5 74 2 8 4-29 5-66 7-43 4-17 7-13 5-4 3 0 7 2 4 4 11 1 4 3 4 2 11 15 7-1 4 2 4 0 4 2 3-1 6 2 6 5 3 6 8 7 14 24 3 2 2-1 2-7 9-59 2-6 2 5 5 42 2 5 3-5 6-22 2 2 7 24 3-2 6-12 3-4 2 3 5 20 3 0 2-4 6-31 4-7 4 5 8 24 11 7 4-4 12 3 3-2 5-17"/><path class="c13" d="M1435 2642l9-64 5-68 5 34 1 1 4-1 6-4 15-46 4-5 3-14 4-4 4-13 7-15 4-18 4-6 7 20 11 50 2 4 6-3 11-18 4-2 8-7 4 0 3-4 8-3 4 2 3-2 8 1 11 4 4 4 4 1 28 34 5 3 8 1 4 2 7 2 4-1 4 1 4-2 3 3 12-1 3 1 4-2 4 0 4-1 3 2 4-1 7 2 1 37 1-36 14 1 7-1 4 3 4-4 7-2 11 4 4 0 4 2 4-2 4 1 3-1 4 1 4-1 4 0 3 2 4-2 8 2 3-3 4 3 4-1 22 3 4-5 8-4 7 6 8-2 16 2 6 6 3 5 6 19 3 3 4-31 5-52 6 30 7 6 11-5 4 4 8-2 11 0 12 3 18 10 8 1 11 0 4 1 22-2 4 1 4 4 3-5 8 1 4-1 7 5 8-6 4 3 7-3 4 4 5-20 14 2 4 2 3 5 11 34 4 27 5 75 2 8 4-31 4-62 6-47 6-29 11-19 7 2 8 11 7 6 12 5 3 6 8 7 15 4 15 0 7 5 9 9 10 19 4 2 3 2 2-4 10-60 2-4 8 48 1 1 1-1 5-17 4-7 7 23 2 2 4-3 5-9 3-1 7 26 3-5 9-36 3-4 4 3 7 18 10 3 9-2 8-7 3 3 5-19"/><path class="c0" d="M1435 2793l13-169 4-28 9-22 4-5 15-51 4-2 3-16 4-5 4-3 12-39 3-5 4 8 11 46 5 12 6 0 4-5 6-3 9-3 19-4 7-6 8 4 7-1 4 1 11 6 4 0 4 4 7-1 4 4 8 1 3 3 4 1 8-2 3 1 4-2 4 0 8 1 18-2 4 2 4-2 18 3 1 8 1-8 6-1 11 5 4-1 4 1 7-5 8-2 4 3 4-1 11 3 4 0 3-3 8 2 4-3 3-1 4 3 4-3 4 2 3-2 8 2 7 3 4-3 4 0 7 4 4-7 2-1 6 1 3-1 4 5 4-1 8 5 7-1 5 2 3 3 8 22 7 34 6-63 3-13 6 8 7-3 8 2 11-3 4 2 3-1 4 2 8-2 4 1 3-2 12 4 3-1 4 2 4-1 15 4 11-2 8 3 3 0 4 1 4-1 4 2 11-3 4 3 3-4 4 3 4 1 4-2 7 5 4 1 4-3 3-8 1-16 0 12 7-1 12 4 4 7 4 15 8 85 7 104 2 9 4-41 10-156 5-28 10-14 3-1 6 1 4 3 11 1 4 3 4-1 19 7 3-1 8 3 7-1 12 4 12 12 13 40 3 4 3-6 9-64 3-8 2 5 7 45 9-29 2 2 7 16 3 0 8-8 2-1 6 20 2 2 3-2 5-27 3-7 3 2 4-4 7 13 4 2 4 8 11-5 4 0 4 3 8-7"/><path class="c1" d="M1435 2682l9-80 5-67 5 22 10-11 8-29 4-5 11-37 8-9 7-21 4-15 4-6 4 7 13 60 3 6 6-3 4-5 7-4 4-5 4 0 8-5 3 4 4-1 4 2 5 1 17 15 12 5 11-1 4 3 3-1 4 3 4-3 7 3 4-1 4 2 4-1 11 1 4 2 4-2 3 3 4 0 8-2 7 5 4-2 11 2 4-1 3 2 1 21 1-20 6 0 8 1 3-2 9 0 10-4 8 1 6 2 20-1 11 1 12-2 3 3 4-2 15 2 4-1 4 1 3 2 4-2 4-6 2 0 9 2 4 3 11 3 4-1 7 4 4 8 5 13 7 30 7-68 2-7 6 13 3-1 4 1 4-2 4 2 3-2 12 1 11-3 11 1 4-1 8 2 3 3 15 1 4-2 4 3 7-1 5 3 10-1 8 2 4 4 3-5 8 3 4 0 3-4 4 7 4-6 4 2 4-5 7 6 3-2 4-7 1-11 0 7 7-3 8 2 5 3 2 2 4 10 2 10 8 67 6 87 2 9 4-39 4-70 6-64 5-29 11-12 8 0 4 3 6 2 5-1 4 2 4-3 19 12 7 0 11 2 5-1 10 9 8 8 13 22 4 4 3-3 3-11 6-47 3-11 9 54 2-2 8-19 2 2 3 15 3 6 5-1 7-11 7 25 2 0 2-3 7-27 4-6 5 1 3 9 4 2 4 6 4-1 3 7 4-8 4 7 4-1 4-4 3 0 5-8"/><path class="c2" d="M1435 2733l9-100 5-67 1-1 3 3 2-2 7-13 10-24 12-42 7-14 4-10 4-5 11-40 7 24 11 49 2 3 5-4 12-15 4 0 4-4 11-6 10-1 9 5 8 9 7 7 19 8 7 5 8 1 7-3 12-2 7 2 8-1 4 4 3-2 4 5 8 2 7 4 8 0 3-2 11 3 1 9 1-9 2 1 4-3 4 2 11 1 15-8 4 1 4 4 4 2 11-1 4 1 3-1 4 3 4-3 4 1 3-2 9 0 6 2 4-2 8 0 15 5 4-2 6-7 4-1 9 7 7 1 4 3 3-2 11 3 4 7 5 10 7 23 9-74 5 17 4 4 8-2 7 2 15-3 4 0 4 3 4-4 4 2 3 0 4 3 23 8 7-3 4 2 7 0 8 3 7-4 4 1 8-1 3-3 4 8 4 0 4-5 7 3 8-3 4 2 3-1 7 1 4-9 1-9 0 3 2-2 13 1 5 4 2 3 8 23 2 13 5 31 5 77 2 10 4-32 4-62 6-52 5-27 12-17 4 2 3-1 8 7 7-1 4 3 4-3 7 4 8 10 7-1 4 2 15 0 11 9 4 8 8 8 7 15 7 5 2-4 6-35 5-33 2 3 8 51 9-28 2 1 8 25 8-7 2-7 1-2 1 1 7 25 11-43 2 0 2 4 4 1 7 24 4-2 4 3 3-1 4 0 4-3 4 4 8-7 4-13"/><path class="c3" d="M1435 2689l9-80 5-64 5 15 8-6 10-28 8-25 7-15 8-20 4-4 7-30 2-5 3-2 3 3 13 59 3 7 3-1 7-10 11-10 4-2 8-1 3 3 8 0 11 14 4 9 4 0 7 7 4-1 7 3 12-2 7 1 4-1 4 2 7 0 4-3 7 0 4-3 19 5 11 0 4 2 8 0 7 1 7-1 1 5 1-4 2 2 8 1 4-2 3 2 4-3 4 0 11-6 4 2 4 4 7 1 4 3 4-4 4 2 7-1 4 3 4-3 7 1 8 2 3-2 4 3 8-2 11 3 4-2 3 1 9-10 6 2 4 5 3 1 20 0 7 6 5 10 7 20 1-8 8-62 5 20 1 2 7 3 8-2 7 1 11-2 4 2 4-1 4 2 4-3 7 5 8 1 3 3 4-1 4 2 7 2 4-1 8 0 11 1 4 4 3-2 4-4 4 6 4-5 3 4 12-2 7-4 8 4 11 2 3-1 2-3 3-12 0 1 7-4 4 1 4 3 3 0 2 2 6 12 4 15 7 59 5 80 2 11 4-31 4-66 6-63 6-28 3-6 7-5 5-2 7 4 4 3 7 1 4 0 4-2 4-1 3 5 19 7 4-2 4 3 7-2 4 5 11 9 6 8 10 24 4 5 2 0 2-5 9-56 3-9 2 5 5 38 2 4 7-21 4-5 7 25 2 1 3 0 4-11 4-2 6 20 2 1 3-4 5-23 4-8 2-1 7 9 4 3 4 11 4-1 7 5 7 1 5-1 4 2 3-2 1-2"/><path class="c4" d="M1435 2882l16-241 2-25 3-11 9-14 7-25 4-20 4-7 4-14 11-17 5-13 7-30 3-8 7 16 11 34 2 2 6-3 11-11 4 0 4-4 4 2 7-4 8 4 7 0 4 4 4 1 4 3 15 5 7 0 8 3 7 0 4 2 4-2 7 3 8-2 3-3 8 5 23-3 7 2 4-1 4 2 3-1 11 1 1 9 1-8 6 3 11 0 4 3 4-2 4 2 5-4 6-1 8 4 11 3 4-4 3 2 4-1 8-3 11-1 4-2 3 2 12-1 3 1 4-1 11 1 9-6 6 1 8 4 4-1 4 3 3-3 4 2 4 0 4 3 7 19 8 33 7-64 2-7 6 13 7-5 8 2 18-2 12 2 4-2 3 3 34 6 11-2 4 1 4 2 4-1 3 3 12-1 3 2 4-4 4 5 7-5 4 1 4-2 4 0 4 3 3 0 4-5 4 3 3-9 1-8 0 3 7-3 4 3 9 3 4 8 4 15 8 72 6 90 2 9 4-37 5-83 5-57 5-22 10-16 4-2 9 1 4 4 7 3 4-1 11 5 8 6 4-1 7 0 24 10 11 11 10 32 7 11 3-9 8-61 3-7 9 45 3-5 5-23 2-2 8 23 3-1 6-9 3-2 2 3 4 15 1 2 2-1 4-8 6-28 2-2 4 3 17 25 3 0 4-2 12 5 3-3 3 0 2-2"/><path class="c5" d="M1435 2678l9-77 5-67 3 13 3 8 10-9 7-17 4-23 15-34 4-6 12-36 3-4 2 1 2 4 12 55 4 10 4-1 17-15 12-7 15-3 3 2 4 1 30 22 4 0 4 3 3 0 4 2 11 1 8 3 4-2 3 4 8-2 8 4 7-3 8 5 11-1 5 2 6-1 4 2 3 0 1 13 1-13 6 0 8 3 3-4 4 2 4-3 4 1 7-5 19 5 8-2 7 2 4-2 7 2 4-2 4 4 4-1 11 2 4 0 7 2 4-1 7 0 9-7 12 4 20 0 8 9 5 13 7 24 9-71 5 14 4 2 8 1 15-1 7-2 16 1 15 5 3-1 4 1 4 3 4-2 3 2 8-1 7 3 8 0 4-2 3 5 4-4 4 4 4-3 3-1 4 0 4 2 7-1 8 2 4-2 4 1 3-2 4 3 3-2 4-7 1-23 0 18 3-3 12 0 4 3 3 3 5 15 9 56 6 80 2 8 4-35 4-68 6-54 6-29 3-7 8-10 4 0 15 16 3-2 8 7 7 4 4 5 8 6 15 1 17 5 8 8 8 13 4 9 6 5 2-2 2-7 11-66 2 4 4 34 2 14 2 1 1-2 7-19 2-2 8 25 4-7 8-7 7 23 11-42 3-4 3 1 2 2 8 22 3 2 4-1 3 3 4-3 4 1 8-5 3 2 5-19"/><path class="c6" d="M1435 2732l9-102 5-69 1-1 5 1 6-9 4-2 4-20 3-9 8-26 22-60 8-14 3 3 4 17 9 44 4 11 3-1 7-4 11-12 12-2 3-3 4 1 8-1 11 10 4 2 5 6 21 9 22 5 4-1 8 3 7-1 8 1 4-1 11 3 4-2 3 2 12 2 7-3 4 0 3 2 1 15 1-14 14 0 11 2 4-3 7 1 4-2 8 4 7 1 4-3 11 2 15-2 4-2 11 1 4-1 7 1 4 4 11-2 4-6 4 2 4-1 15 6 11 0 4 3 4 0 8 22 7 31 9-77 6 14 3-2 4 2 15-3 4-2 7 2 8-3 8-1 7 1 4 4 4-2 3 0 4 4 4 2 4-2 3 2 4-2 4 3 7-2 4 4 4-2 4 5 3 0 4-4 4 2 4 7 7-5 4 0 4-4 7 5 8-2 7 2 7-2 4-10 1-11 0 6 2-1 17 4 8 20 8 61 7 94 2 8 4-37 4-71 6-64 5-23 4-10 8-10 11 3 5 5 18 1 12 9 10 2 11-1 12 8 7 8 8 10 8 16 6 6 4-12 8-57 2-5 2 6 5 43 2 5 10-32 2 2 6 22 3 1 2-1 5-9 3-3 7 24 3-4 4-23 8-21 11 29 4 3 4-1 3 3 4-4 4 1 4-3 4 1 3-3 5-21"/><path class="c7" d="M1435 2870l6-102 12-155 4-14 5-6 7-17 11-42 4-6 3-10 6-7 7-16 7-30 4-7 3 3 3 16 11 33 2 3 5-3 5-6 4 0 4-5 11-2 6 2 9 5 4-2 3 6 8-1 19 6 3-3 4 3 9 0 17 4 31-5 11 1 4-2 7 2 4-2 7 2 8-1 4 2 3-1 15 3 8 3 12-6 7 2 4 2 22 0 8-4 3 1 8-2 4 2 7-2 4 1 4-2 3 2 4-1 8 2 10-7 5-1 11 6 8 0 7 3 4-1 6 7 6 14 7 29 9-70 6 14 7-2 4 2 5 0 6-2 8 0 3 3 4-1 19 2 4 2 4-1 18 5 12-2 3 3 8-2 4 7 3-5 4-1 11-1 4 4 4-8 4 3 3-1 8 2 4-1 4 2 3 1 4-2 4 2 3-7 1-11 0 6 1-1 6 2 8-2 7 6 5 18 9 94 7 99 2-5 3-39 10-152 5-26 12-17 4 0 11 7 4-1 3 3 8 0 7 2 8 6 7-1 4 2 4 4 4-2 3 2 8 1 11 9 5 6 13 41 4 4 3-9 8-59 3-9 2 4 5 34 2 5 3-6 5-21 2-2 9 25 10-12 2-2 7 23 3-5 7-26 4-7 5 6 3 1 4 9 4 1 7 9 8-3 8 6 4-2 4-5"/><path class="c8" d="M1435 2705l9-91 5-66 5 12 11-15 15-48 4-7 3-13 4-4 8-23 3-7 4-14 3-5 3 1 2 4 13 61 3 8 5-3 12-14 12-8 4-4 3 0 4-5 10-3 9 0 7 4 6-1 3 2 27 33 6 1 11 6 4-2 7 5 12-1 3-1 4 2 4-1 7 1 4-2 11-1 4-2 7 2 1 2 1-1 6 2 4-2 15 2 4-1 3-5 12 7 4 0 3 2 4 0 4-2 4 2 3 0 15-4 15-1 4 0 4 3 11-1 8 2 4-2 7-9 3 0 10 9 6 1 11 0 8 2 7 14 5 18 3 6 1-8 8-68 5 21 3 2 5 2 8-2 3 1 12 0 3-2 4 0 4 0 4 3 7-1 4 3 4 1 4 3 3 0 4 2 4-1 11 4 8-2 3 3 4-2 8 3 3-2 4 6 4-5 4-2 7 2 4-1 4 2 3-3 4 4 4-3 4 0 4 3 7-1 3-2 4-6 1-17 0 12 3-3 4 1 4-1 8 3 3 4 5 13 5 31 5 35 6 79 1 0 1-4 2-25 5-74 5-46 6-34 12-20 3-1 3 2 13 12 15 5 8 9 7 3 3 3 4-1 4 1 15 0 7 7 12 15 4 9 6 6 4 2 2-3 3-12 6-47 3-10 2 5 7 51 2-3 7-26 2 2 8 29 11-17 2 3 4 16 1 2 2 1 3-5 3-19 7-17 2 0 2 3 8 19 8 5 19-3 2-2 3-6 3-14"/><path class="c9" d="M1435 2891l17-260 1-14 2-8 7-12 5-14 14-51 14-28 4-5 11-39 17 56 3 5 2 1 4 0 4-7 11-8 15 1 4-2 4 1 7-2 4 1 4 3 4-2 3 1 4-1 11 4 8 0 26 9 4-2 11 0 4-3 15-4 8 4 3-2 15-1 4 2 7 0 1 13 1-12 6 3 4-1 4 2 9 2 12-7 5 0 4 3 7 0 8 1 4-2 7 0 4-1 15-2 4-2 7 1 8 0 7 2 4-2 11 1 8-4 3 3 4-1 4 4 4-1 4 3 7-1 6 3 5 11 5 16 5 28 2 5 7-70 2-6 4 6 4 2 1 0 4-3 15 1 4-2 4 2 3-2 4 2 12-1 15 3 3 3 4-1 4 2 7 0 12 3 3-1 8 2 4-3 3 2 12 0 3-2 4 3 8 1 7-2 4 2 4-4 4-1 3 6 4-2 4 2 4-16 3 0 4-3 11 3 3 3 4 10 4 23 8 89 5 81 2 10 4-41 10-150 5-24 8-14 7-3 5 0 3 1 4 4 7 0 8 4 11 2 4 4 7 1 13 0 10 2 4 4 7 3 5 4 11 26 6 5 2-5 11-69 2 3 5 36 3 9 1 0 2-3 5-21 2-3 2 3 6 23 1 1 2-2 7-10 2-3 8 24 2-2 3-6 6-25 2-2 3 1 6 7 4 7 8 7 3-1 4 5 12 1 6 0 2-3"/><path class="c10" d="M1435 2628l9-54 5-67 3 23 3 16 6 0 3-3 5-18 3-5 12-38 7-19 8-11 8-27 3-5 5 12 12 57 3 6 6-2 15-16 15-8 4 1 8-4 6 4 16 16 8 2 7 8 4 0 11 7 4-2 4 4 3 0 4 2 8-1 7 2 8-1 7 3 12-3 3 2 7-2 8 2 11-2 1 14 1-13 6 5 4-3 11 2 4-1 4-3 3 1 4-1 15 7 4-1 11 1 4-4 8 0 3-1 4-3 4 2 4-3 7 4 11-2 8 2 4 3 3-1 6-8 3-2 10 6 8 1 7 5 4-4 7 3 9 18 7 22 9-76 6 21 7 1 15-3 8 1 7-2 4 2 8 0 7 4 4 0 11 6 11 3 12-2 4 1 7-2 4 2 3-1 4 3 4-5 7 5 8-4 7 0 4-2 4 0 4 3 4-3 3 4 4 1 7-11 1-12 0 5 3-6 4 1 8 3 4 4 11 25 2 10 5 24 5 73 2 9 4-34 5-69 5-33 5-28 7-15 6-8 3-1 6 2 5 4 7 4 8 6 16 19 10 4 4-1 4 1 3-3 4 2 21 25 10 19 5 5 2-2 2-7 9-57 2-5 3 11 6 42 10-32 2 1 7 26 4-4 4-14 2-4 2 0 7 25 3-5 8-33 2-3 5 4 9 23 7 6 7-2 8 0 4 2 3-2 5-17"/><path class="c11" d="M1435 2806l13-175 4-35 3-10 7-10 10-29 4-20 4-12 7-17 4-4 4-6 7-25 4-19 3-6 3 1 2 4 5 18 8 31 3 6 2-1 15-17 8-3 8-5 3 0 4-4 4 4 4-1 5 3 15 13 10 7 7 2 4 5 4 0 3 4 8 1 4 5 22 2 4-2 4 1 4-2 7 1 11-1 8 2 15-2 3 1 1 8 1-7 10 0 4 3 3-1 10 0 8-3 5 0 4 2 4-1 7 3 4-1 11 1 11-3 8 2 4-3 7 2 8-2 11 3 9-1 10-5 15 7 4 1 3-2 4 4 4-2 7 12 5 15 7 33 9-77 2 1 4 9 7-3 4 3 4-4 3 3 4-2 11 1 4-2 4 2 8-1 7 3 4-1 4 3 3-1 4 3 4-2 19 4 3-2 8-1 11 2 8-4 3 1 4-2 8 2 3-5 4 4 4-1 8 4 3-2 4 2 4-2 3-8 1-19 0 14 1-1 17 3 8 15 8 55 8 107 2 8 4-37 4-69 6-64 5-24 4-7 4-9 11-1 12 11 3 0 4 3 4-2 4 3 3 0 4 3 11 6 4-2 8 2 3 2 8 1 16 14 6 18 4 6 4 11 2 1 2-1 2-8 7-50 4-14 3 10 6 38 9-31 2 1 4 17 3 4 5-1 4-9 4-2 7 21 7-18 4-19 3-4 4 3 4 11 4 3 4 8 4-1 3 2 4-5 8-1 4-3 4 1 4-14"/><path class="c12" d="M1435 2863l16-233 2-23 3-11 13-32 16-58 2-8 8-9 6-16 8-23 3 1 2 5 3 19 11 38 2 3 2-2 4 2 4-2 4-6 7-6 4 4 4 0 7-3 4 2 8-2 15 6 3-1 8 2 7 0 19 3 11 5 27-5 4-2 11 2 7-1 15 1 4-3 4 2 3 0 1 3 1-3 2 2 19 5 4-2 4 0 3-4 4 3 5-1 10 6 4-4 4 4 4-3 3 3 4-3 8-1 3-3 8-1 11 2 4-2 4 2 7 1 4-2 4 4 2-1 10-7 22 7 3 0 4 3 4-4 1 1 6 13 5 13 5 28 2 4 9-78 2 1 4 8 7-1 8 3 7-6 4 3 7 0 4-3 4 4 4-1 7 1 8 4 4-1 3 2 12 3 7-2 11 3 4 2 4 0 4-1 11 1 7 3 4-3 4 2 4-1 3-3 8 2 4 5 4-2 3 1 7-3 4-4 1-7 0 3 3-3 12 1 5 4 2 3 5 17 9 105 7 93 2-6 3-43 5-93 5-63 5-27 12-17 4 0 3 4 8 4 4 0 3 2 4 0 4 3 11 4 8 5 11 3 4-2 18 8 10 11 12 39 4 4 2-6 4-36 7-34 1 0 1 2 6 34 2 3 9-24 2-3 8 22 4-3 6-13 2-1 5 20 1 3 2 1 3-4 5-23 5-10 1 0 4 8 7 7 4 7 4 0 3 5 4 0 4-3 8 6 8-5"/><path class="c13" d="M1435 2757l14-182 1-4 5-5 10-18 19-69 17-41 6-19 3-4 7 22 10 47 3 7 6-2 8-12 7-6 4-5 4 0 4-3 13-3 13 3 7 7 8 3 11 12 6 10 17 11 3-1 15 6 12-3 4 2 22 1 8-1 7 1 4-1 7 3 12 1 3-1 4 3 4-4 11-5 4 3 15 3 8-3 3 1 8 0 4 2 3-1 4 2 4-2 4 2 3 1 4-2 4 3 4-2 3 1 4 0 4 1 7 0 4-6 8-2 7 1 4 3 15-1 7 3 4 7 5 10 5 21 2 4 9-72 6 16 11 3 4 2 3-3 8 1 15-2 11 2 4 4 4 0 4 3 3-1 8 2 7 1 4-2 4 2 7 0 8 3 4-7 3 7 4 0 4-2 4 3 7 0 4-7 4 3 7 3 8-1 7-2 4 1 3-2 2-4 2-6 1-13 0 8 11-3 7 3 3 3 5 12 7 31 4 31 5 77 2 11 4-27 4-64 6-56 5-26 4-7 4-4 4 0 4-2 15 10 11 1 7 3 8 6 4 0 3 4 4-2 8 1 18 10 4 4 4 1 11 30 3 6 4 3 2-5 8-52 4-16 2 2 7 44 9-30 2-2 8 27 8-14 4-5 6 18 2 1 3-6 7-27 2-2 6 3 7 20 4-1 5 5 10 5 4-6 4-2 5 1 3-7"/><path class="c0" d="M1435 2700l9-84 5-69 1 0 5 11 2-1 8-13 22-74 15-31 5-16 3-5 2 2 3 9 12 56 3 7 10-8 7-10 5-3 14-8 11 0 12 9 7 10 8 5 4 4 11 5 4 4 3-2 14 8 5 0 8 3 3-3 4 4 8-3 4 2 11-1 4 2 18-2 4 1 4-2 3 2 1 7 1-6 10 1 4-2 3 2 4-2 4 0 4-4 3 0 7-2 12 7 15-3 4 1 4-1 7 3 4-3 4 3 7-2 4 3 11-1 4 3 8 1 3-3 4-1 3-2 5-2 3 6 12 1 4 3 3-2 12 5 8 22 5 26 2 4 9-75 6 12 3-3 12 1 3-3 8 1 4-1 3 1 8-1 4-3 7 1 4-1 8 2 3 4 4-1 4 2 11 1 4-2 4 3 3-1 8 3 4-2 3 0 8 2 4-1 3 3 4 1 11-3 4 0 4 5 4-6 4 3 3 0 4-3 4 4 3-8 1-11 0 6 1-2 10 0 4 1 3-1 3 5 6 15 5 32 5 36 6 78 2-4 2-25 6-90 5-41 6-29 7-14 6-5 2-1 18 14 8 4 4 0 11 13 11 2 8-1 10 2 4 2 8 13 4 2 11 21 6 5 2-2 2-6 10-66 2 4 6 47 2 6 9-28 2 3 6 18 4 5 2 0 5-11 1-3 2 0 6 21 3 1 2-3 6-31 4-7 5 5 6 14 9 13 7-2 4 4 4 0 4-4 4 1 4-6"/><path class="c1" d="M1435 2641l9-65 5-71 5 38 1 1 8-7 13-39 8-27 11-23 4-12 3-7 4-14 2-2 4 2 5 17 10 52 3 8 14-11 7-10 8-1 4-5 3 1 8-6 7 5 4 2 11 12 8 6 7 5 8 3 4 3 3-2 4 1 4 0 4-3 18 2 4-1 12 3 15-1 7 2 4-2 7 2 8 0 3 3 1 11 1-9 10 3 4-1 7 3 15-7 4 2 4 5 11 4 4-3 15-1 4 1 7-3 8 1 3 3 4-2 11 2 4-1 11 2 6-8 4-1 5 4 8 0 4 4 11 0 10 4 6 8 7 19 4-30 5-57 6 40 5 3 21-1 7 2 4-3 12 2 3-1 12 4 3 3 4 1 4 4 4-1 11 2 4-3 3 4 4-2 4 3 4-1 7 2 4-2 7 3 8-3 7 2 19 0 7-4 2-3 2-5 1-15 0 11 1-1 10 1 4-1 4 3 10 23 8 49 5 71 1 7 1 1 4-34 4-66 5-41 7-35 4-10 7-10 4 1 7 5 8 9 15 7 9 12 6 4 7-2 4 1 4 0 7 1 8 5 13 16 10 22 6 5 2-3 3-13 7-53 2-3 9 51 6-23 4-10 2 2 6 23 1 1 1-1 3-6 4-1 4-8 6 19 2 2 4-9 6-33 3-6 2 0 3 5 7 24 11 11 19-9 5-23"/><path class="c2" d="M1435 2860l16-230 2-24 23-66 7-26 13-26 11-37 3-4 7 21 10 37 3 6 6-4 4 0 11-9 4 2 4 0 4 3 3-1 4 3 8 2 3-1 4 3 4 0 7 3 8-1 4 4 3-2 4 1 8 0 3-1 4 4 4 1 4-3 3 1 4-3 4 2 15-3 4 1 4-4 11 5 4-4 3 5 4-5 22 3 1 7 1-7 2 1 8-1 7 4 4-2 4 1 7-5 12-1 7 4 12-1 3 1 8-2 19 2 3-2 15 5 4-2 4 0 4 3 4-2 7-5 23 6 3-2 4 5 4-1 4 3 7 19 5 29 3 7 7-70 2-9 6 8 3-2 12 0 7-2 4 2 6-1 9 2 4-1 4 4 3-1 8 3 4 0 7 5 8 0 3 2 4-2 4 2 7 0 8 4 4-5 3 2 4-2 4 4 4-2 7 1 4-3 4 5 3-2 8 2 4-6 4 4 3-4 4 4 3 0 4-8 1-9 0 4 3-1 4 3 11 0 3 3 3 8 4 21 8 98 6 95 2 11 4-43 10-164 5-31 4-8 7-7 4-1 14 4 13 1 7 1 4 3 15 0 15 6 4-1 4 5 3 0 10 11 11 32 2 4 3 2 3-10 6-47 4-18 2 2 6 37 2 3 2-2 7-24 2-1 7 21 1 1 1-1 3-6 7-9 2 2 5 19 2 1 3-4 6-26 3-6 2-1 11 22 10 8 13 3 7 5 5-9"/><path class="c3" d="M1435 2785l13-174 3-19 18-39 15-50 7-16 8-11 3-15 7-17 3 5 15 59 3 6 9-2 11-8 5 1 4-3 11 0 4-4 4 2 7-4 4 3 11 2 4 4 4 0 3-2 12 6 3-2 19 5 19-2 4 3 4-2 3 1 4-3 4 3 7-1 4 2 4-2 11 2 7 0 1 13 1-13 6 3 8 0 3 3 17-7 6 0 4-2 7 4 4-4 4 3 11 1 8-3 3 3 4-2 4 4 7-3 4 3 8 0 18 2 6-6 6 0 15 4 4 0 11 1 3 3 9 25 5 29 2 3 7-73 2-8 5 9 4 2 4-2 8-1 7-3 4 2 4-2 3 0 4 3 4-2 8 1 3 2 4 1 15 6 4-2 4 3 18 2 4-1 4 3 7-2 4 5 4 0 4-1 3-5 4 5 8-3 3 3 4-3 12 2 3-3 4 3 3-1 4-4 1-27 0 21 3-4 15 3 3 4 5 12 11 103 6 84 2-5 3-40 4-73 6-71 5-29 4-7 8-8 4 0 15 11 3 0 4 3 4-3 7 7 8 3 11 4 8 0 11 4 15 10 12 36 6 9 3-9 7-53 3-12 1 0 1 2 6 34 2 5 3-4 5-21 2-3 2 2 5 18 3 2 3-1 4-9 4-3 7 24 12-40 3-5 4 8 11 17 4 0 3 3 4-4 4 1 12-3 4-10"/><path class="c4" d="M1435 2719l9-91 5-69 1-2 3 8 4-9 4 1 15-43 7-25 4-12 8-13 12-37 3-5 2 2 5 17 9 42 4 10 6-4 14-15 20-9 11 3 8 7 4 6 3 2 4 4 11 7 15 4 8 3 4-2 6 4 16-2 8 3 4-2 3 1 4-1 4 2 4-2 3 2 12-2 3 1 4-1 7 2 1 5 1-4 2 0 4 3 4-2 4 1 8 1 14-8 14 9 9-2 4 3 11-3 7 0 4 2 4-1 19 1 3 2 8-2 7 1 9-8 10 7 8 3 4-2 3 2 7 0 3 1 5 6 4 8 6 23 2 3 9-77 6 22 3 1 4-2 4 3 26-5 4 4 4-2 4 1 11 9 4-1 3 1 4 3 8 2 3-2 4 0 8 3 3-1 4-4 4-1 4 3 11-3 7 5 4-5 4 3 4-4 3-1 4 6 4-3 4 2 11 1 5-7 3-15 0 3 1-2 6-1 4 3 8 2 11 25 7 47 5 75 2 10 4-32 4-61 6-50 5-26 4-7 8-10 4 1 18 14 4-1 4 2 15 12 4-2 3 3 20 1 5 2 12 11 12 21 7 5 3-7 9-63 2-4 7 47 2 5 3-5 6-22 10 23 3-2 7-12 2-2 6 23 1 2 1-1 5-14 5-28 3-5 3 4 7 25 4 6 13 3 4-4 4-1 4 2 4-4 4-14"/><path class="c5" d="M1435 2672l9-74 5-67 6 26 2 2 8-12 11-29 8-25 11-20 7-23 8-30 2 2 5 16 6 30 7 22 2 0 8-11 11-14 4-2 4 1 4-1 9 1 4 2 13 19 4 7 11 5 4 4 11 3 7-1 4 3 11-1 4 5 4-2 4 1 7-1 8 1 4-2 7 2 4-1 4 2 3-2 8-1 7 3 4-3 7 2 1 2 1-2 2 0 4 0 4 2 11-2 7 1 4-2 8 1 4 4 4 1 3-2 4 3 8-3 3 0 4-2 8 2 3-3 12-1 3 2 12-3 3 3 12-1 3 2 7-7 4-1 16 8 11 1 7 3 4 7 12 33 9-75 6 20 3-1 4 2 15-3 4 1 4-2 7 2 4-1 4 2 6-1 5 2 4 3 4 0 15 6 11-1 4 2 3-2 4 2 4-1 4 2 3-5 4 4 8-1 3-1 4 2 11-2 4 7 4-6 11 4 8-5 4-13 0 1 1-1 14 2 4 2 3 4 5 15 5 29 5 38 5 76 2 10 4-35 4-66 6-59 5-27 7-11 5-5 4 0 15 11 3-1 4 2 4-1 11 9 8 4 15 1 3 1 8-1 3 1 4 6 8 6 11 21 5 5 2 0 2-5 11-68 2 3 8 53 6-20 4-8 3 4 6 20 9-12 3-2 6 20 1 1 2 0 2-3 5-27 5-11 2 2 10 24 8 8 3-3 4 3 4 5 4-3 8 1 4-6"/><path class="c6" d="M1435 2800l5-76 12-114 5-17 6-5 6-10 7-29 4-6 7-19 8-10 5-14 7-32 2-5 2-1 3 4 13 42 3 5 6-3 15-13 15 2 4-1 8 4 3-1 8 6 7 1 5 2 7-1 11 1 7 3 8 0 7 4 4-1 4 2 7-4 8 1 8-3 3 2 4-3 4 1 7-1 4 2 4-2 15 0 3 1 1 12 1-11 14 1 9 3 6-4 7 1 4-2 4 2 4-1 3 3 8-2 4 2 3-2 12-1 7-3 4-1 4 2 7-2 4 2 4-1 15 1 3 3 8-7 7 2 19 8 4-1 4 1 3 3 8 18 6 33 2 5 9-77 2 1 3 7 4 2 4-1 8 2 3-3 8 0 7-2 4 3 4-3 4 2 4 0 3 2 8-1 7 3 4 3 4-2 4 1 7 1 4 3 11 0 11-4 4 4 4 0 7-4 4 2 11 1 4-4 8 7 4-3 3 3 4-4 4 1 3-7 1-8 0 3 7-3 8 1 4 2 3 4 6 23 7 71 7 105 2 9 4-39 4-73 6-76 5-28 4-6 8-7 4 0 3 2 4-1 4 4 7 1 4 2 4-1 11 6 4-1 4 4 11 0 10 3 8 4 4 4 4 1 7 10 9 31 6 8 2-6 9-63 3-9 2 5 5 36 2 5 7-21 4-7 8 21 4-2 4-11 2-3 2 1 5 18 1 2 2 0 4-6 7-26 3-3 4 8 3 2 4 7 4 2 5 9 6 4 4-1 8 3 5 1 3-3"/><path class="c7" d="M1435 2803l4-66 14-132 2-8 8-8 6-12 7-25 8-16 3-12 4-1 8-15 11-41 7 17 4 15 9 21 3-1 11-10 6-3 9 1 4-2 3 3 4-2 19 2 7 3 8 0 4 1 3-1 4 3 4-1 11 3 8-1 11 3 4-1 3-3 4-1 4 2 8-3 7 2 8-2 3 1 19-1 7 1 1 9 1-8 2 1 4-2 4 4 10 1 16-7 15 5 4-1 8 1 3-2 19 3 4-2 4 3 3-2 15 3 4 0 8 3 7-3 4-5 11 2 4 2 8-1 3 2 4 0 5 3 5 14 6 20 5 28 2 3 9-81 2 1 4 6 7-3 4 2 4-2 7-1 8 2 3-3 4 2 8 1 4-2 3 0 8 3 11 0 15 4 8-2 7 2 11 0 8 1 4 5 3-5 15 1 4 2 4-1 4 1 4-2 3 1 7-1 4-8 1-15 0 10 7-2 4 2 7 0 3 4 5 12 7 69 9 123 2 9 4-41 10-153 3-16 3-11 3-7 8-6 11 2 11 4 12 1 18 8 4-2 4 3 15 1 11 8 6 8 5 13 4 16 5 7 2 0 2-7 3-25 9-40 2 3 5 32 2 5 2-1 2-5 4-21 2-1 8 23 3 0 9-13 6 21 2 2 7-17 4-14 3-4 8 10 6 12 9 14 4 0 4 5 8 0 7 2 1-1"/><path class="c8" d="M1435 2741l14-169 1-2 3-2 4-7 4-2 4-5 11-42 4-6 4-15 11-25 4-3 8-26 3-4 4 9 14 63 2 3 2-1 4 0 8-6 7-2 8-4 4 2 3-2 4 1 8-2 7 3 4-1 7 8 8-1 7 1 4 3 11 1 12 6 11 2 15-2 19-1 4-2 3 1 23 0 3 1 1 16 1-16 2 0 4 2 8 0 7 2 11-4 16 4 3 4 4-4 4 0 4-2 3 3 8-4 4 0 3 3 4-2 8 0 15 1 3 2 12-1 6-2 6-5 6 1 4 3 8-1 7 4 8-1 2 2 10 23 5 27 2 5 7-72 2-8 6 14 3-2 4 1 4-3 7 4 4-4 8 2 7-4 4 5 4-2 11 4 11 1 4 3 4 0 7 3 8-2 4 2 11-2 4 5 15-3 7 2 4-1 4 0 3 3 4-3 4 3 4-2 11 2 7-9 1-14 0 11 3-2 4 2 10-2 3 2 2 2 4 14 10 98 7 97 2-4 3-40 4-75 6-75 3-16 3-13 3-6 6-6 4-1 9 3 4 2 4-1 3 3 4-2 11 3 4-1 4 4 7 3 4-1 11 4 8 1 7 6 4 6 5 2 13 30 3 2 2-2 2-7 9-61 2-4 9 47 9-28 2-2 4 17 3 4 5-1 5-11 1-2 2 0 7 23 5-13 6-28 2-2 3 2 10 27 4 0 4 6 3 0 8 4 8-6 3 3 5-11"/><path class="c9" d="M1435 2746l14-168 2-4 6-7 14-28 9-35 4-9 7-11 10-25 5-20 3-6 3 4 16 66 2 4 10-5 4-4 11-6 4 1 7-4 4 2 8-3 11 3 7 4 4 0 4 3 11 5 8 0 3 3 15 3 4-1 8 4 3-2 12-1 7 1 8-1 4 1 3-1 8 1 4-2 14 2 1 12 1-12 2-1 8 2 4-2 3 2 7-1 5-3 3 1 4-4 11 7 4-2 8 1 4 3 3-2 12-1 18 1 4 1 4-1 4 2 3-2 15 3 7-5 5-1 7 4 8-1 4 4 8-2 6 1 9 20 5 22 2 3 9-76 5 15 4 3 8-1 11 1 11-2 8 3 8 0 7 3 4 4 7 1 8 3 4 0 18 2 4-2 4 4 4-1 3 1 8-4 11 3 4-1 4-2 3 0 4 4 8-6 7-1 4 5 3 0 3-5 2-8 3 0 4-3 8 2 4 2 3 4 4 10 2 10 8 71 6 87 2 9 4-35 4-71 6-69 5-27 8-10 8-5 14 7 12-1 7 2 6 4 6 2 3 1 4-1 4 2 4-4 3 6 5-2 18 18 13 29 5 5 3-8 11-64 2 4 4 35 3 11 11-33 1 0 7 24 4-2 5-11 3-3 6 19 4 5 7-37 3-6 6 3 7 21 4 4 4-2 3 1 8-3 4 3 4-1 3 1 5-18"/><path class="c10" d="M1435 2607l9-44 5-62 6 43 3 2 4-3 5-9 5-19 4-8 8-28 15-24 8-30 3-5 4 11 13 61 3 8 5-1 16-12 4 0 8-2 7 5 8-1 3 4 16 9 11 3 7 1 4-2 7 3 8 1 4-1 3 1 8-1 4 1 7-1 4 2 4-3 7 3 4-2 4 1 4-1 3 1 19-5 4 2 3-1 1 4 1-3 2 2 4 0 4 2 4-2 7 1 8-1 7-4 8 3 4 4 3-1 8 2 4-2 22 1 11-1 8 0 7 3 4-1 4 2 11-4 4-5 4 0 10 6 9 0 15 3 8 16 7 26 9-74 6 20 33-1 4-1 27 6 15 6 3-1 12-1 7 2 6-2 9 2 11-3 15 3 4-3 4 5 4-6 4 1 3 5 4-4 4 2 6-18 16 4 9 19 6 29 5 43 4 62 2 7 4-34 4-67 7-56 5-23 7-13 8-7 14 12 4 0 4 2 4-1 7 3 7 10 5 3 3 1 8-3 11 4 4-1 4 8 3 1 4 5 15 21 6 4 2-1 3-10 10-63 2 4 4 39 3 13 2-3 6-21 2-2 9 27 4-2 7-15 2 3 5 20 2 1 3-6 6-28 4-6 4 4 7 19 5 6 7 3 4-1 15 4 5-15"/><path class="c11" d="M1435 2663l9-71 5-63 6 25 2 1 4-7 4-2 4-13 3-6 4-15 8-18 3-14 4-4 4-11 4-7 8-27 3-4 2 2 2 5 13 57 3 7 6-2 8-10 7-6 19-9 4-4 3 0 4 3 4 0 8 9 3 0 8 9 15 7 7 6 12 3 3 3 4 1 8-1 11 2 4-1 4 2 7-2 4 2 7-3 4 3 11-4 10 0 1 1 1 14 1-14 4 2 6-1 11 2 8-2 10 1 5 4 4 0 3 3 4-3 8 2 3-2 4 1 8-3 3 1 15-2 4 0 4 4 7-3 6 2 9-2 7-5 3-1 17 8 4 1 3-3 4 3 5-1 3 2 7 14 5 20 3 5 1-8 8-63 6 19 15-2 7 2 4-1 7 0 4-2 4 2 4 3 11 0 23 8 22-1 4 2 4-1 3 2 4-2 11 2 4-7 4 2 11 0 4 1 4-4 4 3 7 2 3-1 3-4 4-13 9 0 4 3 4 1 2 2 7 17 4 15 5 43 5 78 2 10 4-29 4-65 6-56 5-27 4-6 9-7 3-1 11 6 4 0 3-3 4 2 4-1 11 7 4 4 4 0 3 2 4-2 4 2 4-1 3 2 4-1 4 0 17 21 11 19 5 4 3-9 9-61 2-4 9 57 7-26 3-5 8 26 2-1 7-6 2-7 2-1 7 21 11-42 2-3 4 3 7 22 3 3 3 1 4 8 3-4 8-1 4 2 7-6 5-21"/><path class="c12" d="M1435 2790l13-164 4-27 14-26 18-56 3-5 4-10 8-4 7-37 4-9 3 4 15 52 2 2 14-9 7-4 8-2 4 3 7-1 8 5 7 1 4 1 4 4 3-1 4 3 8-2 12 2 6 1 4-2 4 2 11-2 4-2 4 1 3-2 8 2 4-1 7 3 8-1 15 3 4-1 11 1 3 2 1 18 1-18 6 2 4-2 7 3 7-1 12-7 4 3 8 0 3 2 8-2 7 3 23-4 15 1 4-1 3 0 15 3 7-8 4-1 8 7 8-2 4 2 3-1 10 3 5 8 5 10 7 25 1-7 8-64 6 17 3-1 8 3 4-2 11 0 11-4 4 2 4-1 7 2 4-2 26 9 4-2 8 2 7-1 8 4 11 2 4-2 7 1 4-2 7 3 12-3 7 5 7 0 6-16 14-1 7 5 5 16 3 15 7 64 5 81 2 10 4-35 4-71 6-66 5-25 12-13 4-1 3 1 8 6 4 5 3 0 4 4 8 0 11 5 7 5 12-1 3 3 4-1 4 4 4-1 3 1 9 8 10 26 3 5 3 2 3-5 9-59 3-10 2 4 7 46 10-30 3 6 6 17 4-2 4-8 4-2 7 22 3-4 7-27 4-7 5 7 3 4 4 2 4 9 7 8 4-2 15-1 5-6"/><path class="c13" d="M1435 2745l9-109 5-72 1-3 5 0 6-8 8-23 11-45 7-21 4-5 4-14 4-4 7-23 2-2 4 2 2 4 13 64 3 7 6-2 15-15 12-7 3-3 4 0 4-4 6 0 5 3 4 0 5 4 10 4 7 8 10 14 5 2 12 8 11 4 4 0 3 2 8-2 8 1 3 2 12-2 3 1 19-3 7 3 1 2 1-1 10 0 4-1 3 1 7-1 5-4 7-2 15 6 19-2 8-3 7 1 4-2 4 3 3-1 4 1 4-1 4 2 3 0 4-2 4 3 4-1 3 1 4-7 6-2 13 9 19-1 2 2 5 7 5 9 7 22 1-7 8-64 5 19 1 1 6 3 5 1 15-2 4 1 3-2 4 1 4-3 8-1 3 2 4 0 8 4 11 2 4 3 3-3 19 3 4 2 4-1 3-4 4 9 4-2 4 0 11 3 4 0 7-4 4 0 4 4 4-4 7 2 7-13 1-13 0 8 7-5 6 2 6 3 2 3 9 21 2 11 5 30 5 75 2 10 4-32 4-60 6-49 4-17 3-12 2-4 10-11 5 0 4 7 7 4 16 6 3 6 8 6 4 0 7 4 4-2 7 1 4-1 4 2 15 16 11 22 5 4 3-1 2-7 10-63 2 3 2 9 6 42 10-35 2 2 6 25 1 1 2-2 7-14 3-4 6 20 2 0 9-31 4-8 4 5 9 28 3 0 7 5 4-2 4 3 8 1 4-4 4-10"/><path class="c0" d="M1435 2837l16-212 2-21 16-34 3-16 15-39 14-28 8-25 2 1 2 3 16 51 3 2 15-12 4 1 4-2 4 1 19-3 3 1 4-1 15 5 4-1 4 2 7-2 15 7 4-1 4 2 3-1 4 3 8-4 15 0 7-3 8 3 15-4 4 2 7-3 4 2 3-1 1 17 1-17 6 3 4 1 4-2 8 2 3 0 4-3 3 1 4-2 19 6 8-2 3 1 15-1 4 1 8-2 7 2 15 0 5 3 7-2 7-5 4 1 3-1 9 4 14 0 6 5 9 19 6 29 2 5 9-76 2 1 3 7 4 0 4 3 4-3 4 3 3-3 4 1 11 0 12-3 7 3 15 3 4 3 8-2 26 6 4-5 11 9 4-5 3 3 4 0 8-3 7 4 4-4 4 2 4-4 3 3 8 2 3-8 1-12 0 7 7-2 8 3 3-1 8 15 2 13 9 94 5 80 1 8 1 0 4-41 4-75 6-75 5-27 10-13 6-3 12 9 6 2 4 0 4 4 4-1 3 4 19 6 8-2 18 9 4 4 4 1 7 15 4 13 7 6 2-5 9-59 3-11 2 4 7 45 8-28 3-5 4 19 2 3 6-1 4-9 2-2 2 0 7 24 4-8 3-18 3-7 3-3 6 4 3 11 8 7 7 14 4-2 4 3 4-2 4 6 8-5"/><path class="c1" d="M1435 2643l9-63 5-71 5 33 3 4 4-8 5-6 10-35 11-30 4-6 8-19 3-4 8-22 7 25 10 48 3 9 2 0 8-4 7-8 12-6 4 1 3-2 4 1 4 2 4-1 15 14 3 0 8 6 7 3 4-1 4 3 4-1 15 5 18 2 4-2 8 2 4-2 3 1 8-2 7 2 4-3 15-1 7 2 1 9 1-9 6 2 8-3 3 3 4-2 14-4 13 5 7-1 15 2 4-2 7 1 12-3 3 2 4-2 4 2 15 2 7-1 7-5 3-1 5 5 11 5 5-3 15 7 8 19 5 21 2 3 9-78 6 17 15 0 15-3 3 1 4-2 8 2 4 0 7 1 4 5 4-2 3 3 4-1 4 2 7 0 4 2 8 1 3 2 8-2 4 4 3-1 4 5 8-7 3 6 4-2 4 3 4-3 3-2 4 5 4 0 4 5 16-10 2-4 1-12 0 7 3-2 12 3 4-1 3 3 3 10 5 26 7 63 6 82 3-12 2-28 4-72 6-63 5-27 7-14 5-6 4 0 15 13 11 3 19 13 7 1 4-1 7 3 4-1 8 4 11 11 11 26 7 9 3-7 8-57 3-12 2 4 4 37 3 12 7-26 3-7 3 5 6 21 4-4 4-14 2-1 2 1 7 27 4-9 3-21 7-13 3-1 2 2 3 11 8 12 7 4 12-5 7 0 5-16"/><path class="c2" d="M1435 2812l13-177 4-33 5-19 4-6 4-14 4-5 3-18 12-36 3-5 4-9 4-2 5-13 7-28 3-5 7 25 12 46 3-2 4 0 11-10 8-1 15-9 11-13 12 1 15 12 3 0 4 4 4 1 15 9 7 0 4 2 8 0 3 1 4-2 8 5 4-1 3 2 4-1 8 1 3-2 8 2 4-1 15 4 3-2 8 2 4-1 3 4 4-3 4 3 4-6 11-3 8 2 3-1 8 1 4-1 3 3 8-2 7 1 4-1 4 2 4-2 7 4 4-2 4 2 3-2 15 3 6-7 5-2 4 5 4 1 4 0 4 1 7-2 10 5 5 8 4 10 6 26 2 4 9-77 6 15 3-1 8 1 11-4 4 3 4 0 3-4 19 6 8 1 15 5 4-1 3 2 4-1 4 3 4-2 7 3 4-2 4 3 7-4 4 5 7-2 12 1 3-2 4 0 8 6 4-8 7 5 3-1 6-15 2-1 8 3 4-2 4 2 3 5 4 11 3 15 7 63 7 95 1 0 2-11 2-28 4-71 6-65 5-23 4-10 6-7 6-2 7 5 4 4 22 5 8 6 4 0 3 2 12 1 3 2 4-2 4 2 15 12 12 26 6 7 3-9 8-53 3-9 9 47 2-3 6-21 2-2 7 23 5-1 7-10 1-1 1 0 7 24 2-1 2-4 5-23 5-8 8 6 4 11 4 1 4 4 3 0 8 4 4-2 4 3 4-2 4-5"/><path class="c3" d="M1435 2888l17-256 1-15 3-9 9-13 4-18 11-38 20-40 10-35 17 54 3 6 6-2 11-12 8 0 4-4 11 2 4-3 4 0 15 3 15-1 3 3 8 1 4 3 3-2 15 7 8 1 7-4 4 1 8-4 7 2 4-2 11-1 8 1 4-1 3 2 4-2 7 1 1 30 1-29 6 1 4 2 4-1 3 2 8-1 4-5 5-3 6 0 4 3 4-1 7 2 4-3 4 2 3-1 4 3 4-3 11 2 4 2 11-1 4 2 4 0 3 3 4-2 4 2 4-2 3 2 5-5 5-2 5 1 4 3 4-2 15 5 5 0 3 2 7 20 8 43 6-67 3-14 6 7 7-1 4 1 4-3 3 1 4-1 8 3 11-3 8 2 7-1 4 2 4-2 3 4 8-2 4 3 3-1 4 2 4-1 4 2 3 1 12-2 7 4 4-3 7 2 4 0 4 3 4-2 7 2 4-1 4-4 7 4 4 0 4 2 3-8 1-23 0 18 1-1 6-1 8 2 3-1 8 16 9 93 7 102 2 8 4-46 4-78 6-76 5-29 11-14 2-1 6 1 8 6 4 1 3 4 4-1 11 3 12 9 3-3 4 2 8 0 11 5 4-1 7 8 4 1 13 35 5 6 2-5 9-63 3-8 2 5 5 38 2 5 7-23 3-6 2 3 4 18 3 6 12-15 7 24 2-1 2-4 6-27 3-6 6 1 7 14 4 0 7 9 4-1 4 2 4-1 4-5 3 5 5-7"/><path class="c4" d="M1435 2680l9-76 5-69 5 21 2 2 5-4 15-41 8-24 7-14 8-20 3-5 4-17 3-5 3 1 2 4 13 58 3 7 25-20 11-3 8-1 4 3 3 0 4 4 11 10 23 10 22 4 4 2 11 1 4-1 12 2 7-1 4 3 4-3 11 4 4-2 7 2 7 0 1 9 1-9 14 3 7-1 4 1 4-5 3-2 4 1 4-1 15 4 4-3 4 2 7 1 4-4 7 2 4 0 4-1 7 3 15-1 12 3 3 0 6-6 5-1 8 4 8 1 4-1 3 2 8 0 3 2 8 17 6 23 2 3 9-76 5 17 3 3 5 0 4-2 4 1 3-2 4 1 4-1 19 2 7 1 4 5 4-1 19 7 7-1 4 1 4-1 3 2 4 1 4-4 4-1 3 3 8-1 4 2 3-7 8 7 4-7 7 4 8 1 4 2 3-3 4 4 5-8 3-8 7-1 12 3 3 3 5 16 5 29 5 50 5 79 2 9 4-36 4-69 6-65 5-22 8-16 11-4 4 6 15 11 4-2 4 0 11 9 7 0 4 3 8 3 3-2 7 1 5 4 4 0 3 2 5 6 11 25 5 6 2-1 1-4 9-61 3-9 7 43 2 4 2-2 6-21 2-2 8 23 3-1 8-7 2-1 6 22 2 1 5-13 5-27 2-2 5 4 8 16 8 9 11-2 4-3 4 4 3 1 5-7"/><path class="c5" d="M1435 2725l14-148 8-5 12-15 3-16 4-7 10-29 1-2 4 0 8-21 8-35 3-6 2 3 6 21 9 34 3 5 6-5 4-5 4-1 7-9 4 0 11-5 4 2 4 0 4 2 7 5 4 5 4 0 6 5 12 5 8 0 7 3 8 5 4-2 7 3 4-2 4 1 15 0 4 1 3-3 15 2 4-2 11 1 4-3 7 2 1 10 1-9 10 1 4-2 3 2 8-1 7-7 4 3 5-1 7 6 18-2 12 1 3-3 4 2 11-1 8 3 4-2 7 0 4 2 2 0 6 0 6-5 4 0 12 9 15 1 4 2 4 6 3 2 5 16 5 26 2 4 7-70 2-8 6 13 18-5 4 2 8-3 15 1 7-2 8 4 11 3 4 2 7-1 15 2 8-1 4 4 7-2 4 2 4-2 15 5 3-3 8 1 4-2 4 0 3-2 4 7 3-1 2-3 3-14 0 4 7-2 4 1 4-2 5 4 2 2 6 21 9 70 6 78 3-11 2-25 4-74 6-58 6-30 5-10 5-5 3-2 3 1 14 13 3-1 8 4 4-1 11 14 15-2 7 4 8-1 4 7 13 14 9 22 7 7 4-12 8-57 2-4 2 5 4 37 3 12 3-6 5-22 2-3 2 3 6 23 1 1 4-6 4-1 4-6 7 22 7-18 4-19 2 0 2 4 4-2 3 5 4 11 4 2 4 4 7-2 4 3 8-2 3 1 5-7"/><path class="c6" d="M1435 2760l14-179 4-13 4-1 7-14 8-28 4-18 8-21 3-5 8-24 4-7 3-4 8-21 20 82 20-10 16-4 4-2 4 1 4 0 7 5 4-2 11 9 8-2 3 3 15 4 4 2 23 6 3-3 16-1 3-2 15-1 4 2 4-3 18 1 1 3 1-3 6-1 11 4 4-2 4 0 4 1 11-2 8 2 3 3 4-2 11 0 12-2 3 1 4 0 4-3 4 2 3 0 4-2 8 3 11-1 7 2 9-6 3 0 7 5 12 4 12 1 3 2 7 20 5 26 3 6 9-77 2 1 4 11 26-3 4 1 7-2 4 2 4-1 4 2 11 1 22 6 4-2 8 3 3-2 8 7 4-5 3 3 4-1 4 2 4-2 3 1 4-1 8 3 3-2 8 2 4-3 4 3 10 0 2-3 3-13 2-3 9 4 4-1 3 1 4 5 3 8 5 26 7 72 5 81 2 9 4-37 10-146 5-21 8-15 8-3 15 7 3-1 4 1 4-2 11 4 4 4 7 3 4-1 15 3 4 0 14 11 12 24 7 7 3-8 9-62 2-5 2 6 7 49 9-28 2-3 7 27 3 2 2-1 4-7 2-2 2 0 7 25 3-7 6-25 5-10 5 0 3 9 4 1 11 11 8-3 8-6 3-1 5-14"/><path class="c7" d="M1435 2778l13-169 3-18 2-8 8-12 9-23 11-36 10-25 8-11 8-31 3-4 7 23 10 39 3 7 2 0 8-3 11-9 4 1 4-3 7 1 12-3 15 4 3 3 15 5 8 0 15 3 4 3 3 0 4 1 8-1 3-2 8 2 4 0 4 2 7-3 4 0 4 2 3-2 12 3 7-1 4 3 3-1 1 3 1-4 2 0 8 3 7 1 4-3 4 1 15-7 4 3 11-1 4 1 7-1 8 2 11 2 4-2 7 2 4-2 4 2 15 1 4 2 15-8 11 6 8-1 11 3 3 3 4 10 5 16 7 37 6-65 3-14 5 6 4 1 5-2 14-2 15 0 8 3 4-4 7 2 8-1 7 5 4-3 4 0 18 5 8 3 4-5 3 0 4 8 4-5 4 6 3-5 8-3 4 6 3-5 4 2 4-3 4 3 4-4 7 3 3-1 4-8 1-9 0 4 7-4 4 4 7-1 3 4 4 11 5 26 6 62 6 90 2 9 4-38 4-72 6-71 5-22 4-10 7-7 8 1 9 5 10 2 4 3 4-3 11 11 4-2 3 4 4-1 8 2 3-2 4 5 4-1 7 5 7 5 3 5 11 33 5 8 3-10 8-59 3-9 3 10 4 27 2 4 2-3 6-25 2-3 2 2 6 19 3-2 6-13 4-2 6 18 2 1 10-34 3-4 8 16 4 11 9 7 6 1 4 5 4-5 4 6 3-6 5-4"/><path class="c8" d="M1435 2598l9-45 5-55 6 43 2 3 7-8 8-21 4-17 8-22 3-6 4-13 4-4 7-26 6-12 2-1 2 2 5 12 8 45 3 12 2 4 6-4 11-20 12-6 7 0 4-2 4 0 8 2 7 6 4 7 3 2 4 4 5 2 25 21 4 1 4-2 7 4 11 1 12 2 15-1 4 2 15 0 3 2 4-3 4 3 3-1 1 7 1-7 10 1 4-2 3 2 12-2 3-4 4-2 4 1 11 7 8-2 4 3 3-3 8 1 4-2 11 0 11 2 4-1 4 1 3 4 4-4 4 2 7-1 7-6 4-1 8 6 8 3 7-1 4 1 4-2 5 7 7 12 7 20 2-15 7-61 6 25 15 0 7-2 11 0 4 2 4-2 6 1 5 1 17 7 28 4 12 0 3 2 4-2 4 1 4-6 3 10 4-3 4 0 4-2 7 0 4 1 4-4 4 4 3-2 4 5 4-5 3-10 1-20 0 14 2-3 9 1 5 1 3 3 13 31 5 33 5 74 2 10 4-33 4-58 6-48 5-27 9-15 4-4 6 0 10 12 2 1 3-2 13 8 6 7 8 5 3-1 4 1 4-3 4 0 3 3 8 1 7 10 4 3 8 9 3 9 8 10 3 0 2-5 12-66 2 4 4 38 3 12 8-29 2-2 8 25 4-1 5-6 3-10 1 1 7 28 7-30 7-17 2 0 2 4 4 15 5 10 3 3 4-2 3 4 4-4 4 1 3-1 8-7 1 1 4-13"/><path class="c9" d="M1435 2758l14-182 4-9 8-11 8-21 11-42 9-25 6-9 12-41 3-6 8 28 9 43 3 8 10-8 4-8 7-9 8-5 4 0 7-4 6 1 5 1 15 10 4 5 8 5 3 7 12 12 7 3 4-1 4 6 3-2 8 5 4-1 3-1 8 4 8-3 3 2 12-1 3 1 4-2 11 0 4 2 7-1 1 4 1-4 2-1 8 4 4-4 3 3 8-2 4-3 8-3 11 6 7-1 4 2 4-2 11 0 4-2 7 2 11 0 12 2 7 0 4 2 7-2 9-8 6 2 5 5 7-1 11 3 8 0 8 17 7 21 9-68 5 20 2 2 10 2 7-1 8 1 7-3 4 1 8-1 4-2 3 3 8 0 4 2 11 2 22 2 8 3 7-5 4 4 4-3 4-1 3 2 8-3 4-1 3 5 8-1 4 2 7-1 4 2 4-5 4-14 1-1 17 1 4 7 8 21 4 25 4 31 4 62 2 9 4-33 4-62 6-49 6-27 3-7 8-12 11 4 8 11 3-1 4 2 4-2 15 17 4 0 3 1 12 1 7-2 4 2 7 7 11 14 7 14 8 6 3-8 5-29 4-29 2-6 2 5 7 49 4-17 6-15 2 2 6 22 3-1 8-15 2-2 6 24 2 1 3-7 6-27 4-8 2 0 3 5 7 27 4 4 4-1 3 6 4-7 4 5 4 0 4 3 5-4 3-5"/><path class="c10" d="M1435 2910l5-104 13-190 3-12 5-7 3-7 17-60 6-16 8-14 4-4 9-34 3-4 3 5 14 48 3 4 1 0 8-4 11-9 23-3 4-2 3 2 4-3 4 3 7-1 4 4 8 3 3-2 15 6 4-2 8 3 15-3 7 2 4-2 4 2 26 2 22 4 1 16 1-16 6 0 8 3 9 0 10-5 4-1 7 1 4 3 3-2 15 0 4-1 11 2 4-2 4 1 7-2 8 4 15 0 7 2 6-6 6-2 11 5 19 1 2 2 9 20 6 30 2 3 9-75 6 10 3 0 4-3 4 2 4-2 22 0 4-1 8 4 11 4 4-1 3 3 4-1 11 3 12 2 7 3 4-2 4 4 3-1 4 1 11-5 4 4 4-4 7 7 4-4 4 0 4-3 4 3 3-1 4 3 3 0 2-3 3-11 3 1 4-3 4 3 4-1 6 6 4 10 2 10 10 123 5 82 2 8 4-45 10-165 5-29 4-10 6-6 6-2 3 2 4 0 4 3 11 3 4-1 4 2 3 0 4 3 8 2 3 3 4-2 8 0 3 3 4 0 8 5 3-1 7 5 3 3 7 22 7 11 2 0 3-9 8-55 3-9 2 5 5 39 2 4 10-29 3 4 6 19 10-14 2-1 6 22 2 0 4-8 6-24 2-2 6 3 3 8 8 12 6 4 9-1 8 5 5-2 3-3"/><path class="c11" d="M1435 2807l13-175 4-34 5-21 12-27 15-52 11-26 4-3 10-30 3 3 15 65 2 6 2 1 4 0 9-6 3-1 8-5 8 3 7-4 11 4 9 0 10 5 8-2 3 4 4-3 8 3 7 0 8 4 15 0 3-4 4 3 4-3 8 2 7-3 4 3 15-2 7 2 7-1 4 1 1 20 1-19 6 3 8-1 3 4 4 1 4-4 11-4 4 2 8 3 7 0 8-3 3 1 12-4 7 2 11-4 8 1 4-2 3 3 8-1 7 1 9-6 14 7 8 0 11 3 2 2 5 9 5 15 7 35 7-71 2-6 6 10 3-3 8 1 4-2 3 2 4-2 4 2 4-2 7 2 15 0 4 3 4-2 4 3 15 0 3 2 4-1 8 3 3-2 4 1 4 4 4-4 7-2 4 4 4-1 3 4 4-1 4-4 4 1 3-1 4 4 4-3 4 3 4 1 3-3 4 0 9-13 10-3 7 1 3 4 5 13 4 25 7 78 5 83 2 9 4-40 10-149 5-23 4-9 5-5 5-2 5 0 4 3 8 1 3 2 8-1 19 4 3 3 15 1 4 2 4 0 7 4 4 6 4-1 12 29 3 5 2 1 3-5 9-55 3-9 3 9 6 40 7-21 3-5 2 2 4 17 5 3 2 1 7-13 1 1 7 24 3-4 8-29 2-2 6 1 3 7 8 8 4 1 3 6 16 2 3 4 3-1 2-2"/><path class="c12" d="M1435 2696l9-81 5-62 6 12 6-1 4-9 4-5 18-54 4-1 19-45 2 1 2 5 14 55 2 4 10-4 7-8 12 0 7-6 4-1 4 2 10-3 9 5 3-2 4 4 11 2 4 3 4-3 4 1 3 2 12 0 11 1 7-2 4 2 4 0 8-2 3 3 8 1 7 0 4-2 22 2 1 15 1-15 2 0 12 2 26-6 8 4 3 0 8 2 7-3 4 0 4 3 4-3 7 2 8 0 3 1 4-1 8 2 3 0 15 2 8-8 11 4 4 2 19 2 3 2 4 9 5 13 5 26 2 5 9-72 6 10 6 0 5 1 4-1 3 1 8-2 7 2 4-4 12-1 7 3 4-1 7 2 4 0 4 1 4 0 3 2 4 0 4-2 4 2 7-1 4 2 4-1 3 2 8-2 4 4 3-2 4 2 4-3 4 2 3-1 4 2 4 0 4-1 4 1 3-3 9-4 2-2 1-6 0 2 3-2 8 1 4-1 4 1 3 4 5 16 5 38 5 42 6 85 1 0 2-10 2-26 4-73 6-62 5-28 4-8 8-8 7 2 4 5 8 2 7 6 11 3 7 5 5 0 3 3 4-2 4 2 11 1 4 3 4 0 14 15 10 22 4 4 2-1 2-7 9-57 2-5 9 47 3-5 5-22 2-3 2 2 6 26 1 0 2-1 9-15 6 21 2 2 6-13 5-23 2-3 4 4 5 13 4 0 4 9 3 2 8 3 4 3 12-3 4-4"/><path class="c13" d="M1435 2715l9-90 5-62 6 5 6-9 4-3 4-6 15-49 11-17 4-14 3-7 4-19 3-4 2 0 2 5 14 57 3 6 10-5 8-10 3 0 8 1 4-4 3 2 12-3 7 5 4 0 7 5 4 0 8 3 3 3 8 0 22 10 31-3 3-2 19 1 8-2 3 1 8-1 4 4 7-4 4 2 15 0 4-1 3-4 5 0 7 1 4 3 18 0 8 1 4-2 11 0 4-1 3 2 4 0 4 2 7-2 4 4 8 0 10-7 4 0 4 1 4 4 8 0 4 2 3 0 9 3 6 10 5 13 7 32 7-68 2-7 6 11 11-2 4 1 7-2 4 2 7-2 4 1 8-2 4 2 7-3 15 5 4-2 7 5 4-1 11 1 4 3 8-2 3 3 4 1 4-5 4 6 3-4 4 0 4 3 7-5 4 6 4-4 11 1 7-3 4-12 1-20 0 15 1-1 6 2 11 1 4 7 6 18 4 23 5 35 5 76 2 9 4-36 4-65 6-55 5-27 4-4 8-13 4 2 3 0 15 13 8 1 7 4 4 7 4 3 4-2 3 3 15 0 8 6 4 0 7 11 5 3 13 33 3 3 3-6 10-65 2-5 3 10 4 29 2 4 3-3 5-23 2-2 9 25 4-4 4-13 4 1 7 24 4-11 5-28 4-8 4 3 5 15 8 14 7 6 8-3 4 0 4-1 3 2 5-13"/><path class="c0" d="M1435 2826l13-200 5-46 0-5 4-5 8-22 11-46 11-36 8-14 10-29 3-4 3 2 2 5 14 68 2 7 2 1 5 2 8-4 3-5 12-1 7 2 8 1 4 2 7 2 8 5 15 3 3 2 4-1 8 3 3-2 4 3 15 5 4-1 7-3 4 1 8-4 4 2 3-2 4 3 4-2 4 1 3-3 8 1 7 0 11 2 1 6 1-6 10 1 4 2 11 1 4-4 7 0 4-2 4 2 4-1 3 2 4-1 8 2 3-2 4 0 4-2 4 1 7 0 4 1 7-1 12 1 11 4 4-2 3 0 4-5 8-1 3 4 12-1 11 3 4 0 3 1 9 23 5 23 2 4 9-77 6 12 7 0 4 2 9-3 6 2 4-4 3 3 8-1 15 6 8 1 3 2 12 1 7 3 8-2 7 4 4 4 4-4 3 2 4-1 4 5 4-3 7 0 4-2 4 2 3-3 4 2 4 0 4-2 4 1 7 0 3-2 3-6 2-14 0 7 11-3 7 2 4 6 5 16 5 31 5 58 5 82 2 10 4-38 10-143 5-23 12-18 15 7 7 1 4 2 4-1 7 3 4-1 8 6 7 0 8 3 7-1 8 3 12 13 12 28 5 5 3-9 10-63 1 0 1 2 6 40 2 4 2-2 6-22 2-3 2 3 3 14 3 5 2 0 7-8 3-7 1 1 7 25 7-21 4-15 3-4 4 3 9 16 10 9 8-2 4 1 7-9 3 2 2-2"/><path class="c1" d="M1435 2541l3-11 4-3 2-7 5-44 5 45 1 3 6 2 3-2 8-14 12-41 3-7 8-24 5-11 10-24 7 22 10 55 3 9 10-10 8-14 18-7 4-4 8 5 3 0 8 2 7 6 4 1 15 13 8 11 10 8 8 3 8 0 8 4 11 1 7-2 8 2 7-1 8 2 4-3 14 3 1 11 1-11 6 1 8-2 7 0 11-7 4-4 8 8 4 1 3-1 4 4 8-4 3 3 4 0 8-3 7 2 8-1 3 1 4-1 4 2 4-2 7 4 4-1 4 1 3-1 6-8 3-1 6 3 4 3 4-1 4 2 19 3 8 10 7 18 4-29 5-55 6 38 7 5 11-1 4 2 11-2 4 0 4-3 4 2 4 0 3 4 4-1 4 3 11 1 4 3 4-1 7 2 8-1 15 5 3-3 8 1 4 2 3-4 15 4 4-3 8 3 4-5 3 5 8-2 4-23 0 2 1-1 10 6 8 2 13 32 5 31 5 69 2 8 4-36 4-61 4-31 8-39 6-15 6-8 3 0 7 4 11 9 13 15 6 9 6 5 5 2 8-1 4 1 3-2 8 2 18 20 4 10 4 2 5 7 3-1 2-6 11-72 2 5 7 57 3-5 5-23 2-1 8 27 2 0 3-3 4-2 3-11 6 23 1 2 2 0 3-6 6-30 3-5 7 8 6 19 8 14 3-3 8 6 4-1 4 1 3-2 2 1 3-4"/><path class="c2" d="M1435 2663l9-67 5-63 3 13 5 16 4-6 4-1 11-29 4-13 4-3 7-14 10-27 6-21 3-5 4 8 14 56 3 4 2 0 7-4 4-4 7-4 4 0 4-3 4 0 11-7 7-9 8 0 7 4 27 17 3 0 12 7 11 3 7-2 4 1 4-1 4 3 4-2 3 2 4-2 8 2 3-2 8 3 7-2 8 1 4 4 1-1 2 1 8-3 8 2 7-1 7-7 4 1 6 0 9 3 4-2 8 0 3 1 8-1 4-2 3 3 27 1 3 2 8 1 7-1 8-9 3-1 10 9 2 0 4-2 15 2 7 7 5 11 7 25 9-71 6 19 3 0 8 3 7-4 4 2 8 0 7-3 4 2 4-2 4 4 7 0 15 5 4-1 4 0 3 4 4-2 11 1 8 1 11-2 4 4 7-6 4 1 4 7 4-5 3-1 4 3 8-4 4-4 3 7 4-2 3 1 4-8 1-9 0 4 4-2 11-1 5 4 6 14 6 32 6 59 4 65 2 11 4-31 4-68 6-62 5-26 4-8 5-6 3-1 4 2 5-1 6 3 4 3 16-4 11 9 10-2 4 2 4-3 7 2 11 11 8 9 13 26 5 6 3-8 10-65 1 0 1 2 8 51 8-25 2-2 9 26 10-13 1-2 1 1 7 25 3-5 6-26 6-13 7 12 4 3 4 8 4 2 3-3 12 2 4-6 3 2 5-16"/><path class="c3" d="M1435 2961l7-152 7-92 3-68 2-27 3-13 4 0 3-6 5-22 7-24 15-31 4-5 6-16 6-25 3-7 17 48 2 3 2 1 5-2 8-9 19-7 7 1 4-3 4 3 7-1 8 3 3-4 8 4 4-1 3 3 8 0 4 2 3-1 3 1 5 4 7 0 4 4 23-7 19 0 3-2 12 0 3 3 4-3 4 1 4 4 1-1 6 1 4 3 4 1 3-1 4 3 4-4 11-5 12 6 7 1 4-2 15-1 7-3 4 1 11-3 8 3 4-2 7 3 4-2 7 2 8-8 4 3 3 1 4 2 4-1 11 3 9 3 5 12 6 19 7 34 7-74 2-7 5 6 4 2 4-5 23 2 3 1 4-3 12 4 3-2 8 3 7 1 15 3 4-1 15 5 4-1 4-5 3 6 4 0 4-4 4 2 7 0 8 1 3-2 4 7 8-5 4 0 3-3 4 2 3-1 4-6 1-12 0 8 1-1 6 0 12 2 3 4 4 12 10 117 6 97 2 9 4-46 10-165 5-27 4-11 5-7 5-1 9 4 4-1 22 5 15 6 4-1 4 2 4-1 7 3 8 5 7 8 4 0 5 14 6 29 3 7 3 4 1 0 2-7 4-36 5-26 3-9 2 4 7 41 10-34 2 0 3 12 3 5 2-1 7-11 4-1 7 26 3-5 9-30 7-4 7 17 4 2 4 9 19 12 8-5"/><path class="c4" d="M1435 2800l13-165 4-34 1-6 4-3 15-32 12-41 3-3 5-9 8-18 7-30 3-6 2 0 2 4 14 48 2 3 6-3 8-9 8-4 22 4 4 4 3-1 4 5 4 0 7 4 23 2 22 7 4-2 4 1 4-1 3 2 4-3 12-1 3 1 4-4 8 2 3-1 8 0 4-1 3 3 4-2 7-1 1 14 1-13 10 4 4-2 3 0 4 2 4-3 4 1 3-4 4 2 4-1 5 4 3 1 3-2 8 3 4-3 7 0 11 3 8-2 15 3 4-1 7 2 11 0 12-7 7 1 4 4 4-2 16 3 4 5 3 6 4 13 7 34 6-60 3-15 5 8 3 2 5-3 4 2 7-2 4 2 19-3 19 3 7 3 4-1 11 2 4-1 4 3 11-1 4 5 4-2 3 0 4 0 4 4 4-3 3 2 4-6 4 8 7-7 4 2 4 5 4-4 4 1 3-2 4 3 4-2 3-9 1-14 0 9 7-1 4 2 4-1 5 2 7 21 7 67 8 115 2 9 4-42 10-148 5-28 8-13 11-1 8 5 4 0 7 4 4-1 5 1 10 6 7 1 4 2 4-1 4 3 3-2 15 7 8 6 12 35 6 8 2-5 8-56 4-15 2 2 7 41 3-5 5-21 2-3 8 20 3-1 6-10 3-3 6 20 1 2 2 0 3-4 5-22 4-9 2-2 4 3 7 19 4 1 7 7 4-1 4 2 4-1 4 3 5-3 3-3"/><path class="c5" d="M1435 2713l9-90 5-61 8 3 4-3 2-3 13-32 8-24 17-35 6-24 3-6 20 71 2 0 12-6 5-5 10-1 4-2 3 0 8-4 4 1 11 0 7 6 27 6 3 2 12 0 3 3 15 1 4-2 4 2 8-1 3 1 4-2 11 4 4-3 4 3 7-2 4 1 4-3 3 3 1 22 1-21 2-1 4 2 4-2 4 1 11-1 4-4 11-5 4 5 4 2 3-3 4 3 4-1 4 1 3-1 8 1 4-1 3 2 4-2 8 3 11 3 7 0 6 2 9-1 7-6 5-2 8 6 7-2 7 2 8-1 2 2 5 9 5 14 7 32 7-62 2-7 6 11 11-3 7 3 4-3 8 2 11-2 4 3 4-2 7 0 4 3 4-1 11 2 4-1 15 3 11-1 4 2 3-4 4 3 8-4 3 2 8 1 4-4 3 5 8-2 4 2 4 0 3-5 4 1 4 4 3-7 1-7 0 2 3-4 8 2 4 4 4-1 3 4 4 11 4 23 6 60 6 91 2 9 4-40 4-69 6-72 5-24 8-15 8-3 3 3 4 0 4 4 7 0 8-2 11 3 4 5 11-1 4-1 14 7 8 6 10 16 11 30 5 6 2-5 9-61 3-10 3 9 6 39 3-5 6-26 3 3 6 24 1 1 3-4 5-12 4-3 7 24 3-5 8-30 2-2 7 7 6 13 4 2 4 7 7 0 4-2 4 3 4-2 5 0 3-3"/><path class="c6" d="M1435 2793l13-167 4-30 1-6 12-19 22-68 8-9 15-46 17 62 3 6 6 0 11-12 4 3 4-2 26 0 4 2 15 1 8 3 7 0 4-1 11 2 8 1 3 3 4-3 11-1 4-2 4 2 8-2 7 1 8-1 7 2 4-2 7 1 8-1 3 2 1 33 1-32 6 1 8-1 7 2 8-3 3 0 4-3 4 2 4-1 7 4 15-2 4 3 4-2 4 1 11-1 4-1 7 3 4-2 15 4 7-1 8-8 4 4 3-1 4 2 4-1 4 4 4-3 3 3 6 0 5 2 4 9 5 13 5 26 2 5 7-67 2-8 6 10 15-1 3 2 4-1 8-1 7 2 8-2 11 2 4-1 11 5 15 0 11 5 4-4 4 6 4-2 3 3 4 0 4 2 4-2 7 1 4 2 7-4 4 5 4 2 4-4 4 3 3-3 4 2 7-10 1-7 0 3 3-2 16 3 3 3 3 9 3 17 9 106 5 79 1 8 1 0 4-47 10-157 5-28 8-11 7-2 4 1 4 0 4 3 15 4 7 1 12 6 3-1 15 3 15 8 9 10 14 43 3 4 2-6 8-59 4-14 2 4 4 34 3 7 9-32 2 2 7 23 2 1 3-2 4-11 3-2 2 3 4 15 2 2 2-1 2-4 6-24 4-7 3 1 5 7 4 9 4-2 4 4 3-2 4 6 12-5 3 4 5-12"/><path class="c7" d="M1435 2985l8-179 6-83 3-73 2-28 2-9 5-13 2 1 2-2 11-47 11-36 4-3 9-14 6-25 3-5 3 0 2 4 13 45 2 4 2 2 2-1 7-5 4-1 7-7 4 1 8-1 11-4 15 5 11 0 8 4 3-2 13 2 10 5 4 1 13-1 21-7 3 2 8-2 11 2 4-2 4 0 3 2 8 0 3 2 1 8 1-8 2 0 4 4 4 0 4 1 9 1 2-1 7-7 4 0 8-1 7 3 4-2 4 2 4-2 3 1 8-1 4 1 11-2 15 4 15-2 4 4 3-3 4 0 4-4 4-2 19 8 3-3 4 1 8 6 7 21 8 41 7-72 2-8 6 6 3 0 4-2 4 1 4-2 3 3 8-2 11 0 4 1 4-2 49 12 3-3 4 3 4 2 4-2 3 3 4-4 4 4 4-4 3 0 4 4 4-2 7 5 4-5 4 0 4 3 4-1 3 2 7-2 2-3 2-5 1-20 0 15 7-3 8 1 3 2 3 3 5 12 11 131 5 86 2 9 4-45 10-167 5-28 8-17 4-2 4 3 3-2 19 5 10 0 5 5 4-1 11 4 4 0 20 7 10 9 14 47 3 4 2-2 5-43 5-24 3-9 3 9 6 42 3-6 6-29 3 7 3 5 4 10 8-9 4-3 7 20 4-5 7-26 3-4 8 6 5 12 14 9 4-5 4 6 4-3 3 2 5-4"/><path class="c8" d="M1435 2771l14-181 4-11 4-5 8-15 15-51 4-7 3-12 8-13 12-39 3-4 4 8 14 61 2 3 6-4 4 0 7-8 8-1 8-4 11 1 9 4 6 4 4 0 3 4 15 4 4-1 4 3 4 0 7 4 8 1 3 3 4-2 11 2 8-3 15 0 11-2 15 3 4-1 7 0 1 18 1-17 2 3 12-1 3 1 12-2 5-4 10 0 4 3 3-1 12 1 7-3 4 3 7-2 4 1 19-1 4 2 15-1 3 1 8-7 7 3 4 4 8 1 4-2 3 2 4 0 6 3 9 18 6 29 2 4 9-74 6 12 11 0 4 1 3-3 4 2 8-2 3 2 8-2 14 2 9 3 3 0 8 1 4 3 3-1 4 1 4-2 4 3 3-2 4 2 4-3 4 2 3-5 4 7 8-7 3 3 4 1 4-3 4 0 3 4 4-5 4 0 11 9 4-1 4 2 4-11 1-2 2 1 4-3 4 3 7 1 3 3 4 9 3 17 9 92 6 86 1 0 1-5 3-38 5-91 5-59 5-27 4-8 8-10 7 3 15 10 8 1 4 3 11 5 4 4 11-1 15 6 4-1 3 4 4 2 5 6 11 27 4 5 2-1 3-8 11-65 2 2 4 35 3 12 3-6 5-22 2-2 8 22 5-2 4-9 2-2 2 1 7 22 7-21 4-15 2-2 6 3 3 9 4 4 4 10 4 0 3 3 4 0 4 4 12-4 4-4"/><path class="c8" d="M1435 2766l14-173 4-13 4-5 9-18 14-47 8-20 5-8 7-17 3-23 5-78 2-8 4-3 2 1 1 13 6 109 4 24 3 6 2-1 5-1 4-5 5-1 4-5 4 1 5-3 4 1 4-2 5 1 5-2 4 3 5 0 4 4 4 1 5 4 4-1 5 3 4-1 4 3 5 0 4 3 5-1 4 3 5-1 4 3 5-2 4 2 4-2 5 2 4-2 5 2 4-2 5 2 4-2 5 2 4-2 4 2 5-2 4 2 5-2 4 2 5-1 3 2 5-1 5 2 4-1 4 2 14-7 4 3 5-1 4 3 4-2 5 2 5-2 4 2 4-2 5 2 4-2 4 2 5-2 5 2 3-2 5 2 5-1 4 2 5-1 4 2 4-2 4 0 6-6 4 2 4 0 5 4 4-1 5 2 3-2 5 2 4-1 2 1 8 16 7 29 2 3 9-73 6 16 2-2 5 2 4-2 5 2 3-2 5 2 5-3 4 2 4-2 5 2 5-2 3 3 5-1 5 3 4 0 4 3 5-1 5 3 3-2 5 2 5-1 4 2 4-1 5 2 5-2 3 2 5-1 5 2 5-2 3 2 5-2 5 2 3-2 5 2 5-2 5 2 3-2 5 2 3-2 5-12 5-2 5 2 5-1 5 5 3 5 8 40 5 52 5 75 2 10 4-37 4-71 7-70 3-14 5-13 9-8 2-1 3 3 5 2 5 5 4 0 4 3 5-1 4 3 4 0 5 5 5 1 3 3 5-1 5 2 5-1 3 3 5 0 5 4 4 1 4 6 5 3 12 29 3 4 3-2 2-7 8-54 3-9 3 9 4 34 2 5 10-29 3 3 5 20 7-6 4-8 2-1 5 20 2 3 5-9 5-23 3-5 6 3 5 13 9 10 8 2 5-1 4 1 4-1 3 0 4-6"/></g>
<line x1="143.4" y1="118.1" x2="143.4" y2="931.1" stroke="#262626" stroke-width="3"/>
<line x1="143.4" y1="929.6" x2="1148" y2="929.6" stroke="#262626" stroke-width="3"/>
<line x1="127.4" y1="929.6" x2="143.4" y2="929.6" stroke="#262626" stroke-width="3"/>
<text x="114.4" y="943.1" text-anchor="end" class="tl">0.0</text>
<line x1="127.4" y1="727.1" x2="143.4" y2="727.1" stroke="#262626" stroke-width="3"/>
<text x="114.4" y="740.6" text-anchor="end" class="tl">0.4</text>
<line x1="127.4" y1="524.6" x2="143.4" y2="524.6" stroke="#262626" stroke-width="3"/>
<text x="114.4" y="538.1" text-anchor="end" class="tl">0.8</text>
<line x1="127.4" y1="322.1" x2="143.4" y2="322.1" stroke="#262626" stroke-width="3"/>
<text x="114.4" y="335.6" text-anchor="end" class="tl">1.2</text>
<line x1="127.4" y1="119.6" x2="143.4" y2="119.6" stroke="#262626" stroke-width="3"/>
<text x="114.4" y="133.1" text-anchor="end" class="tl">1.6</text>
<line x1="135.4" y1="828.4" x2="143.4" y2="828.4" stroke="#262626" stroke-width="3"/>
<line x1="135.4" y1="625.9" x2="143.4" y2="625.9" stroke="#262626" stroke-width="3"/>
<line x1="135.4" y1="423.4" x2="143.4" y2="423.4" stroke="#262626" stroke-width="3"/>
<line x1="135.4" y1="220.9" x2="143.4" y2="220.9" stroke="#262626" stroke-width="3"/>
<line x1="168.3" y1="929.6" x2="168.3" y2="945.6" stroke="#262626" stroke-width="3"/>
<text x="168.3" y="988.6" text-anchor="middle" class="tl">400</text>
<line x1="263.9" y1="929.6" x2="263.9" y2="937.6" stroke="#262626" stroke-width="3"/>
<line x1="359.5" y1="929.6" x2="359.5" y2="945.6" stroke="#262626" stroke-width="3"/>
<text x="359.5" y="988.6" text-anchor="middle" class="tl">800</text>
<line x1="455.1" y1="929.6" x2="455.1" y2="937.6" stroke="#262626" stroke-width="3"/>
<line x1="550.7" y1="929.6" x2="550.7" y2="945.6" stroke="#262626" stroke-width="3"/>
<text x="550.7" y="988.6" text-anchor="middle" class="tl">1200</text>
<line x1="646.3" y1="929.6" x2="646.3" y2="937.6" stroke="#262626" stroke-width="3"/>
<line x1="741.9" y1="929.6" x2="741.9" y2="945.6" stroke="#262626" stroke-width="3"/>
<text x="741.9" y="988.6" text-anchor="middle" class="tl">1600</text>
<line x1="837.5" y1="929.6" x2="837.5" y2="937.6" stroke="#262626" stroke-width="3"/>
<line x1="933.1" y1="929.6" x2="933.1" y2="945.6" stroke="#262626" stroke-width="3"/>
<text x="933.1" y="988.6" text-anchor="middle" class="tl">2000</text>
<line x1="1028.7" y1="929.6" x2="1028.7" y2="937.6" stroke="#262626" stroke-width="3"/>
<line x1="1124.3" y1="929.6" x2="1124.3" y2="945.6" stroke="#262626" stroke-width="3"/>
<text x="1124.3" y="988.6" text-anchor="middle" class="tl">2400</text>
<text x="645.7" y="1058.3" text-anchor="middle" class="xt">Wavelength (nm)</text>
<text x="58.8" y="72.2" class="tt">(c) LR</text>
<line x1="1372.9" y1="121.5" x2="1372.9" y2="935.9" stroke="#262626" stroke-width="3"/>
<line x1="1372.9" y1="934.4" x2="2380.4" y2="934.4" stroke="#262626" stroke-width="3"/>
<line x1="1356.9" y1="934.4" x2="1372.9" y2="934.4" stroke="#262626" stroke-width="3"/>
<text x="1343.9" y="947.9" text-anchor="end" class="tl">0.5</text>
<line x1="1356.9" y1="772.1" x2="1372.9" y2="772.1" stroke="#262626" stroke-width="3"/>
<text x="1343.9" y="785.6" text-anchor="end" class="tl">0.6</text>
<line x1="1356.9" y1="609.8" x2="1372.9" y2="609.8" stroke="#262626" stroke-width="3"/>
<text x="1343.9" y="623.3" text-anchor="end" class="tl">0.7</text>
<line x1="1356.9" y1="447.6" x2="1372.9" y2="447.6" stroke="#262626" stroke-width="3"/>
<text x="1343.9" y="461.1" text-anchor="end" class="tl">0.8</text>
<line x1="1356.9" y1="285.3" x2="1372.9" y2="285.3" stroke="#262626" stroke-width="3"/>
<text x="1343.9" y="298.8" text-anchor="end" class="tl">0.9</text>
<line x1="1356.9" y1="123.0" x2="1372.9" y2="123.0" stroke="#262626" stroke-width="3"/>
<text x="1343.9" y="136.5" text-anchor="end" class="tl">1.0</text>
<line x1="1364.9" y1="853.3" x2="1372.9" y2="853.3" stroke="#262626" stroke-width="3"/>
<line x1="1364.9" y1="691.0" x2="1372.9" y2="691.0" stroke="#262626" stroke-width="3"/>
<line x1="1364.9" y1="528.7" x2="1372.9" y2="528.7" stroke="#262626" stroke-width="3"/>
<line x1="1364.9" y1="366.4" x2="1372.9" y2="366.4" stroke="#262626" stroke-width="3"/>
<line x1="1364.9" y1="204.1" x2="1372.9" y2="204.1" stroke="#262626" stroke-width="3"/>
<line x1="1396.6" y1="934.4" x2="1396.6" y2="950.4" stroke="#262626" stroke-width="3"/>
<text x="1396.6" y="993.4" text-anchor="middle" class="tl">400</text>
<line x1="1492.5" y1="934.4" x2="1492.5" y2="942.4" stroke="#262626" stroke-width="3"/>
<line x1="1588.4" y1="934.4" x2="1588.4" y2="950.4" stroke="#262626" stroke-width="3"/>
<text x="1588.4" y="993.4" text-anchor="middle" class="tl">800</text>
<line x1="1684.3" y1="934.4" x2="1684.3" y2="942.4" stroke="#262626" stroke-width="3"/>
<line x1="1780.2" y1="934.4" x2="1780.2" y2="950.4" stroke="#262626" stroke-width="3"/>
<text x="1780.2" y="993.4" text-anchor="middle" class="tl">1200</text>
<line x1="1876.0" y1="934.4" x2="1876.0" y2="942.4" stroke="#262626" stroke-width="3"/>
<line x1="1971.9" y1="934.4" x2="1971.9" y2="950.4" stroke="#262626" stroke-width="3"/>
<text x="1971.9" y="993.4" text-anchor="middle" class="tl">1600</text>
<line x1="2067.8" y1="934.4" x2="2067.8" y2="942.4" stroke="#262626" stroke-width="3"/>
<line x1="2163.7" y1="934.4" x2="2163.7" y2="950.4" stroke="#262626" stroke-width="3"/>
<text x="2163.7" y="993.4" text-anchor="middle" class="tl">2000</text>
<line x1="2259.6" y1="934.4" x2="2259.6" y2="942.4" stroke="#262626" stroke-width="3"/>
<line x1="2355.5" y1="934.4" x2="2355.5" y2="950.4" stroke="#262626" stroke-width="3"/>
<text x="2355.5" y="993.4" text-anchor="middle" class="tl">2400</text>
<text x="1876.7" y="1062" text-anchor="middle" class="xt">Wavelength (nm)</text>
<text x="1302" y="66" class="tt">(d) CR</text>
<line x1="185.4" y1="1215.0" x2="185.4" y2="2004.2" stroke="#262626" stroke-width="3"/>
<line x1="185.4" y1="2002.7" x2="1160" y2="2002.7" stroke="#262626" stroke-width="3"/>
<line x1="169.4" y1="1216.5" x2="185.4" y2="1216.5" stroke="#262626" stroke-width="3"/>
<text x="158.4" y="1228.0" text-anchor="end" class="tl">0.002</text>
<line x1="169.4" y1="1328.8" x2="185.4" y2="1328.8" stroke="#262626" stroke-width="3"/>
<text x="158.4" y="1340.3" text-anchor="end" class="tl">0.001</text>
<line x1="169.4" y1="1441.1" x2="185.4" y2="1441.1" stroke="#262626" stroke-width="3"/>
<text x="158.4" y="1452.6" text-anchor="end" class="tl">0.000</text>
<line x1="169.4" y1="1553.4" x2="185.4" y2="1553.4" stroke="#262626" stroke-width="3"/>
<text x="158.4" y="1564.9" text-anchor="end" class="tl">-0.001</text>
<line x1="169.4" y1="1665.8" x2="185.4" y2="1665.8" stroke="#262626" stroke-width="3"/>
<text x="158.4" y="1677.3" text-anchor="end" class="tl">-0.002</text>
<line x1="169.4" y1="1778.1" x2="185.4" y2="1778.1" stroke="#262626" stroke-width="3"/>
<text x="158.4" y="1789.6" text-anchor="end" class="tl">-0.003</text>
<line x1="169.4" y1="1890.4" x2="185.4" y2="1890.4" stroke="#262626" stroke-width="3"/>
<text x="158.4" y="1901.9" text-anchor="end" class="tl">-0.004</text>
<line x1="169.4" y1="2002.7" x2="185.4" y2="2002.7" stroke="#262626" stroke-width="3"/>
<text x="158.4" y="2014.2" text-anchor="end" class="tl">-0.005</text>
<line x1="177.4" y1="1272.7" x2="185.4" y2="1272.7" stroke="#262626" stroke-width="3"/>
<line x1="177.4" y1="1385.0" x2="185.4" y2="1385.0" stroke="#262626" stroke-width="3"/>
<line x1="177.4" y1="1497.3" x2="185.4" y2="1497.3" stroke="#262626" stroke-width="3"/>
<line x1="177.4" y1="1609.6" x2="185.4" y2="1609.6" stroke="#262626" stroke-width="3"/>
<line x1="177.4" y1="1721.9" x2="185.4" y2="1721.9" stroke="#262626" stroke-width="3"/>
<line x1="177.4" y1="1834.2" x2="185.4" y2="1834.2" stroke="#262626" stroke-width="3"/>
<line x1="177.4" y1="1946.5" x2="185.4" y2="1946.5" stroke="#262626" stroke-width="3"/>
<line x1="208.7" y1="2002.7" x2="208.7" y2="2018.7" stroke="#262626" stroke-width="3"/>
<text x="208.7" y="2059.7" text-anchor="middle" class="tl">400</text>
<line x1="301.6" y1="2002.7" x2="301.6" y2="2010.7" stroke="#262626" stroke-width="3"/>
<line x1="394.5" y1="2002.7" x2="394.5" y2="2018.7" stroke="#262626" stroke-width="3"/>
<text x="394.5" y="2059.7" text-anchor="middle" class="tl">800</text>
<line x1="487.4" y1="2002.7" x2="487.4" y2="2010.7" stroke="#262626" stroke-width="3"/>
<line x1="580.3" y1="2002.7" x2="580.3" y2="2018.7" stroke="#262626" stroke-width="3"/>
<text x="580.3" y="2059.7" text-anchor="middle" class="tl">1200</text>
<line x1="673.1" y1="2002.7" x2="673.1" y2="2010.7" stroke="#262626" stroke-width="3"/>
<line x1="766.0" y1="2002.7" x2="766.0" y2="2018.7" stroke="#262626" stroke-width="3"/>
<text x="766.0" y="2059.7" text-anchor="middle" class="tl">1600</text>
<line x1="858.9" y1="2002.7" x2="858.9" y2="2010.7" stroke="#262626" stroke-width="3"/>
<line x1="951.8" y1="2002.7" x2="951.8" y2="2018.7" stroke="#262626" stroke-width="3"/>
<text x="951.8" y="2059.7" text-anchor="middle" class="tl">2000</text>
<line x1="1044.7" y1="2002.7" x2="1044.7" y2="2010.7" stroke="#262626" stroke-width="3"/>
<line x1="1137.6" y1="2002.7" x2="1137.6" y2="2018.7" stroke="#262626" stroke-width="3"/>
<text x="1137.6" y="2059.7" text-anchor="middle" class="tl">2400</text>
<text x="672.7" y="2125" text-anchor="middle" class="xt">Wavelength (nm)</text>
<text x="59" y="1167.7" class="tt">(e)  FD</text>
<line x1="1420.3" y1="1214.5" x2="1420.3" y2="2007.5" stroke="#262626" stroke-width="3"/>
<line x1="1420.3" y1="2006" x2="2400.6" y2="2006" stroke="#262626" stroke-width="3"/>
<line x1="1404.3" y1="1216.0" x2="1420.3" y2="1216.0" stroke="#262626" stroke-width="3"/>
<text x="1391.3" y="1229.5" text-anchor="end" class="tl">0.003</text>
<line x1="1404.3" y1="1321.3" x2="1420.3" y2="1321.3" stroke="#262626" stroke-width="3"/>
<text x="1391.3" y="1334.8" text-anchor="end" class="tl">0.002</text>
<line x1="1404.3" y1="1426.7" x2="1420.3" y2="1426.7" stroke="#262626" stroke-width="3"/>
<text x="1391.3" y="1440.2" text-anchor="end" class="tl">0.001</text>
<line x1="1404.3" y1="1532.0" x2="1420.3" y2="1532.0" stroke="#262626" stroke-width="3"/>
<text x="1391.3" y="1545.5" text-anchor="end" class="tl">0.000</text>
<line x1="1404.3" y1="1637.3" x2="1420.3" y2="1637.3" stroke="#262626" stroke-width="3"/>
<text x="1391.3" y="1650.8" text-anchor="end" class="tl">-0.001</text>
<line x1="1404.3" y1="1742.7" x2="1420.3" y2="1742.7" stroke="#262626" stroke-width="3"/>
<text x="1391.3" y="1756.2" text-anchor="end" class="tl">-0.002</text>
<line x1="1404.3" y1="1848.0" x2="1420.3" y2="1848.0" stroke="#262626" stroke-width="3"/>
<text x="1391.3" y="1861.5" text-anchor="end" class="tl">-0.003</text>
<line x1="1404.3" y1="1953.3" x2="1420.3" y2="1953.3" stroke="#262626" stroke-width="3"/>
<text x="1391.3" y="1966.8" text-anchor="end" class="tl">-0.004</text>
<line x1="1412.3" y1="1268.7" x2="1420.3" y2="1268.7" stroke="#262626" stroke-width="3"/>
<line x1="1412.3" y1="1374.0" x2="1420.3" y2="1374.0" stroke="#262626" stroke-width="3"/>
<line x1="1412.3" y1="1479.3" x2="1420.3" y2="1479.3" stroke="#262626" stroke-width="3"/>
<line x1="1412.3" y1="1584.7" x2="1420.3" y2="1584.7" stroke="#262626" stroke-width="3"/>
<line x1="1412.3" y1="1690.0" x2="1420.3" y2="1690.0" stroke="#262626" stroke-width="3"/>
<line x1="1412.3" y1="1795.3" x2="1420.3" y2="1795.3" stroke="#262626" stroke-width="3"/>
<line x1="1412.3" y1="1900.7" x2="1420.3" y2="1900.7" stroke="#262626" stroke-width="3"/>
<line x1="1412.3" y1="2006.0" x2="1420.3" y2="2006.0" stroke="#262626" stroke-width="3"/>
<line x1="1444.4" y1="2006" x2="1444.4" y2="2022" stroke="#262626" stroke-width="3"/>
<text x="1444.4" y="2065.0" text-anchor="middle" class="tl">400</text>
<line x1="1537.6" y1="2006" x2="1537.6" y2="2014" stroke="#262626" stroke-width="3"/>
<line x1="1630.8" y1="2006" x2="1630.8" y2="2022" stroke="#262626" stroke-width="3"/>
<text x="1630.8" y="2065.0" text-anchor="middle" class="tl">800</text>
<line x1="1723.9" y1="2006" x2="1723.9" y2="2014" stroke="#262626" stroke-width="3"/>
<line x1="1817.1" y1="2006" x2="1817.1" y2="2022" stroke="#262626" stroke-width="3"/>
<text x="1817.1" y="2065.0" text-anchor="middle" class="tl">1200</text>
<line x1="1910.3" y1="2006" x2="1910.3" y2="2014" stroke="#262626" stroke-width="3"/>
<line x1="2003.5" y1="2006" x2="2003.5" y2="2022" stroke="#262626" stroke-width="3"/>
<text x="2003.5" y="2065.0" text-anchor="middle" class="tl">1600</text>
<line x1="2096.7" y1="2006" x2="2096.7" y2="2014" stroke="#262626" stroke-width="3"/>
<line x1="2189.8" y1="2006" x2="2189.8" y2="2022" stroke="#262626" stroke-width="3"/>
<text x="2189.8" y="2065.0" text-anchor="middle" class="tl">2000</text>
<line x1="2283.0" y1="2006" x2="2283.0" y2="2014" stroke="#262626" stroke-width="3"/>
<line x1="2376.2" y1="2006" x2="2376.2" y2="2022" stroke="#262626" stroke-width="3"/>
<text x="2376.2" y="2065.0" text-anchor="middle" class="tl">2400</text>
<text x="1910.4" y="2128" text-anchor="middle" class="xt">Wavelength (nm)</text>
<text x="1300" y="1170" class="tt">(f) MSCFD</text>
<line x1="190.7" y1="2255.9" x2="190.7" y2="3052.5" stroke="#262626" stroke-width="3"/>
<line x1="190.7" y1="3051" x2="1178.7" y2="3051" stroke="#262626" stroke-width="3"/>
<line x1="174.7" y1="2323.5" x2="190.7" y2="2323.5" stroke="#262626" stroke-width="3"/>
<text x="161.7" y="2337.0" text-anchor="end" class="tl">0.004</text>
<line x1="174.7" y1="2455.8" x2="190.7" y2="2455.8" stroke="#262626" stroke-width="3"/>
<text x="161.7" y="2469.3" text-anchor="end" class="tl">0.002</text>
<line x1="174.7" y1="2588.1" x2="190.7" y2="2588.1" stroke="#262626" stroke-width="3"/>
<text x="161.7" y="2601.6" text-anchor="end" class="tl">0.000</text>
<line x1="174.7" y1="2720.3" x2="190.7" y2="2720.3" stroke="#262626" stroke-width="3"/>
<text x="161.7" y="2733.8" text-anchor="end" class="tl">-0.002</text>
<line x1="174.7" y1="2852.6" x2="190.7" y2="2852.6" stroke="#262626" stroke-width="3"/>
<text x="161.7" y="2866.1" text-anchor="end" class="tl">-0.004</text>
<line x1="174.7" y1="2984.9" x2="190.7" y2="2984.9" stroke="#262626" stroke-width="3"/>
<text x="161.7" y="2998.4" text-anchor="end" class="tl">-0.006</text>
<line x1="182.7" y1="2257.4" x2="190.7" y2="2257.4" stroke="#262626" stroke-width="3"/>
<line x1="182.7" y1="2389.7" x2="190.7" y2="2389.7" stroke="#262626" stroke-width="3"/>
<line x1="182.7" y1="2521.9" x2="190.7" y2="2521.9" stroke="#262626" stroke-width="3"/>
<line x1="182.7" y1="2654.2" x2="190.7" y2="2654.2" stroke="#262626" stroke-width="3"/>
<line x1="182.7" y1="2786.5" x2="190.7" y2="2786.5" stroke="#262626" stroke-width="3"/>
<line x1="182.7" y1="2918.7" x2="190.7" y2="2918.7" stroke="#262626" stroke-width="3"/>
<line x1="182.7" y1="3051.0" x2="190.7" y2="3051.0" stroke="#262626" stroke-width="3"/>
<line x1="214.6" y1="3051" x2="214.6" y2="3067" stroke="#262626" stroke-width="3"/>
<text x="214.6" y="3110.0" text-anchor="middle" class="tl">400</text>
<line x1="308.5" y1="3051" x2="308.5" y2="3059" stroke="#262626" stroke-width="3"/>
<line x1="402.4" y1="3051" x2="402.4" y2="3067" stroke="#262626" stroke-width="3"/>
<text x="402.4" y="3110.0" text-anchor="middle" class="tl">800</text>
<line x1="496.3" y1="3051" x2="496.3" y2="3059" stroke="#262626" stroke-width="3"/>
<line x1="590.2" y1="3051" x2="590.2" y2="3067" stroke="#262626" stroke-width="3"/>
<text x="590.2" y="3110.0" text-anchor="middle" class="tl">1200</text>
<line x1="684.1" y1="3051" x2="684.1" y2="3059" stroke="#262626" stroke-width="3"/>
<line x1="778.1" y1="3051" x2="778.1" y2="3067" stroke="#262626" stroke-width="3"/>
<text x="778.1" y="3110.0" text-anchor="middle" class="tl">1600</text>
<line x1="872.0" y1="3051" x2="872.0" y2="3059" stroke="#262626" stroke-width="3"/>
<line x1="965.9" y1="3051" x2="965.9" y2="3067" stroke="#262626" stroke-width="3"/>
<text x="965.9" y="3110.0" text-anchor="middle" class="tl">2000</text>
<line x1="1059.8" y1="3051" x2="1059.8" y2="3059" stroke="#262626" stroke-width="3"/>
<line x1="1153.7" y1="3051" x2="1153.7" y2="3067" stroke="#262626" stroke-width="3"/>
<text x="1153.7" y="3110.0" text-anchor="middle" class="tl">2400</text>
<text x="684.7" y="3170" text-anchor="middle" class="xt">Wavelength (nm)</text>
<text x="70.8" y="2241.5" class="tt">(g) LRFD</text>
<line x1="1412.8" y1="2272.3" x2="1412.8" y2="3070.3" stroke="#262626" stroke-width="3"/>
<line x1="1412.8" y1="3068.8" x2="2399" y2="3068.8" stroke="#262626" stroke-width="3"/>
<line x1="1396.8" y1="2353.3" x2="1412.8" y2="2353.3" stroke="#262626" stroke-width="3"/>
<text x="1381.8" y="2366.8" text-anchor="end" class="tl">0.005</text>
<line x1="1396.8" y1="2512.3" x2="1412.8" y2="2512.3" stroke="#262626" stroke-width="3"/>
<text x="1381.8" y="2525.8" text-anchor="end" class="tl">0.000</text>
<line x1="1396.8" y1="2671.3" x2="1412.8" y2="2671.3" stroke="#262626" stroke-width="3"/>
<text x="1381.8" y="2684.8" text-anchor="end" class="tl">-0.005</text>
<line x1="1396.8" y1="2830.3" x2="1412.8" y2="2830.3" stroke="#262626" stroke-width="3"/>
<text x="1381.8" y="2843.8" text-anchor="end" class="tl">-0.010</text>
<line x1="1396.8" y1="2989.3" x2="1412.8" y2="2989.3" stroke="#262626" stroke-width="3"/>
<text x="1381.8" y="3002.8" text-anchor="end" class="tl">-0.015</text>
<line x1="1404.8" y1="2273.8" x2="1412.8" y2="2273.8" stroke="#262626" stroke-width="3"/>
<line x1="1404.8" y1="2432.8" x2="1412.8" y2="2432.8" stroke="#262626" stroke-width="3"/>
<line x1="1404.8" y1="2591.8" x2="1412.8" y2="2591.8" stroke="#262626" stroke-width="3"/>
<line x1="1404.8" y1="2750.8" x2="1412.8" y2="2750.8" stroke="#262626" stroke-width="3"/>
<line x1="1404.8" y1="2909.8" x2="1412.8" y2="2909.8" stroke="#262626" stroke-width="3"/>
<line x1="1404.8" y1="3068.8" x2="1412.8" y2="3068.8" stroke="#262626" stroke-width="3"/>
<line x1="1434.7" y1="3068.8" x2="1434.7" y2="3084.8" stroke="#262626" stroke-width="3"/>
<text x="1434.7" y="3127.8" text-anchor="middle" class="tl">400</text>
<line x1="1528.7" y1="3068.8" x2="1528.7" y2="3076.8" stroke="#262626" stroke-width="3"/>
<line x1="1622.7" y1="3068.8" x2="1622.7" y2="3084.8" stroke="#262626" stroke-width="3"/>
<text x="1622.7" y="3127.8" text-anchor="middle" class="tl">800</text>
<line x1="1716.6" y1="3068.8" x2="1716.6" y2="3076.8" stroke="#262626" stroke-width="3"/>
<line x1="1810.6" y1="3068.8" x2="1810.6" y2="3084.8" stroke="#262626" stroke-width="3"/>
<text x="1810.6" y="3127.8" text-anchor="middle" class="tl">1200</text>
<line x1="1904.6" y1="3068.8" x2="1904.6" y2="3076.8" stroke="#262626" stroke-width="3"/>
<line x1="1998.6" y1="3068.8" x2="1998.6" y2="3084.8" stroke="#262626" stroke-width="3"/>
<text x="1998.6" y="3127.8" text-anchor="middle" class="tl">1600</text>
<line x1="2092.6" y1="3068.8" x2="2092.6" y2="3076.8" stroke="#262626" stroke-width="3"/>
<line x1="2186.5" y1="3068.8" x2="2186.5" y2="3084.8" stroke="#262626" stroke-width="3"/>
<text x="2186.5" y="3127.8" text-anchor="middle" class="tl">2000</text>
<line x1="2280.5" y1="3068.8" x2="2280.5" y2="3076.8" stroke="#262626" stroke-width="3"/>
<line x1="2374.5" y1="3068.8" x2="2374.5" y2="3084.8" stroke="#262626" stroke-width="3"/>
<text x="2374.5" y="3127.8" text-anchor="middle" class="tl">2400</text>
<text x="1905.9" y="3190" text-anchor="middle" class="xt">Wavelength (nm)</text>
<text x="1285.2" y="2235.2" class="tt">(h) CRFD</text>
</svg></body></html>
